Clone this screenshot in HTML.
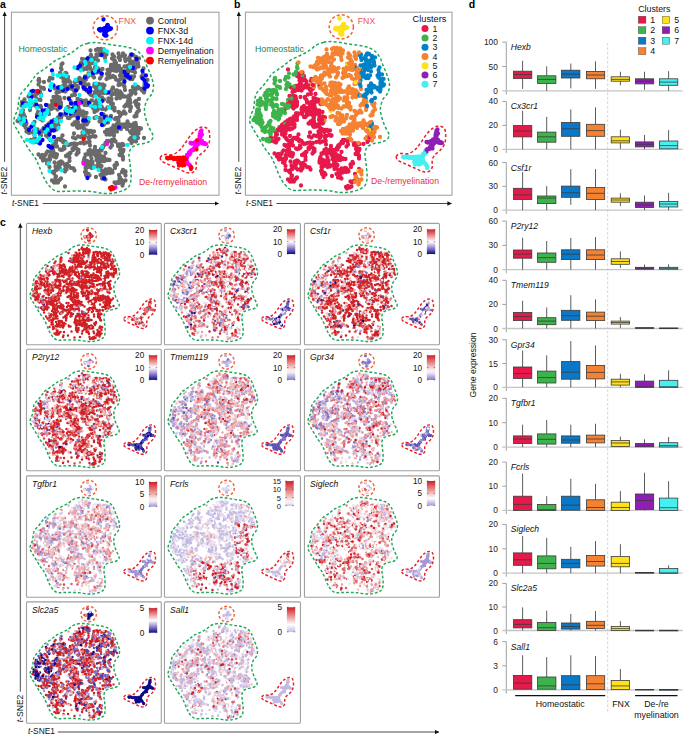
<!DOCTYPE html><html><head><meta charset="utf-8"><style>html,body{margin:0;padding:0;background:#fff;}svg{display:block;font-family:"Liberation Sans", sans-serif;}</style></head><body><svg width="685" height="735" viewBox="0 0 685 735"><defs><marker id="ar" viewBox="0 0 10 10" refX="9" refY="5" markerWidth="5" markerHeight="5" orient="auto-start-reverse"><path d="M0 0L10 5L0 10z" fill="#111"/></marker></defs><text x="0" y="8.3" font-size="10.5" font-weight="bold">a</text><rect x="11.4" y="12.2" width="207.6" height="183" fill="none" stroke="#999" stroke-width="1"/><g transform="scale(0.5)" stroke-linecap="round" fill="none"><path stroke="#6a6a6a" stroke-width="8.60" d="M196 98zm-4 2zm1 9zm3 0zm2 1zm1-4zm1-3zm1-2zm1-3zm4 2zm2-1zm1 2zm2 4zm2 4zm-6 2zm-2-4zm-2-1zm-1 0zm1-3zm7 13zm14 1zm4 3zm2 2zm0 4zm-1 2zm-3 1zm-2 3zm-2 0zm0-2zm-1 7zm2 3zm4-1zm1-1zm-2-1zm2-3zm3-3zm1 0zm2 3zm3 2zm1-4zm4 6zm-4 2zm3 3zm1 3zm0 2zm3 0zm0 1zm0 2zm-2 2zm1 1zm2 0zm0 3zm-4-2zm-2 4zm-3 3zm-5-3zm-2-4zm-1-1zm-3-2zm-3 2zm-3-1zm-1 2zm-3 0zm-1 1zm-2 2zm1-10zm4 0zm1-3zm-2-2zm-2-3zm-10-2zm-5 2zm-2 2zm2 2zm-3-4zm-2 1zm-1 4zm-3-3zm-1 2zm0 1zm-2-2zm-3-1zm-3-3zm-2-4zm-1-5zm-5-2zm3-4zm-4-1zm-5-4zm-4-1zm-2 8zm2 4zm-3 5zm-3 2zm-4-1zm13 3zm3-2zm4 1zm0-2zm3 11zm3 2zm2 0zm1 0zm3 3zm2 3zm-12-2zm-1-1zm-5 1zm2 6zm-4 2zm1 4zm-6 0zm3 6zm5 0zm6-2zm-9 9zm6 4zm4 4zm2 2zm2 2zm5 2zm4-3zm-1-2zm3 0zm-3-3zm3-1zm0-3zm-1-3zm-1-2zm2-2zm1 3zm3 1zm0-4zm-1-2zm2-3zm7 1zm4 2zm-4 3zm1 3zm1 0zm-3 2zm-1 0zm2 1zm-1 2zm-2 3zm0 1zm-4 4zm-2-6zm12 2zm5 0zm10 4zm3-2zm3-1zm4 2zm3 2zm2-1zm0-6zm-2 0zm-2-3zm-2 0zm0 0zm-7-4zm1-2zm-3 6zm-6 16zm6 1zm0 7zm-1 3zm0 0zm3 1zm0 2zm1-3zm3 8zm0 5zm-5-5zm-9-1zm-4 4zm-6-1zm-1-3zm-1-1zm0-1zm-4 4zm-3 1zm-2 3zm-5-1zm0 4zm-3-8zm3-6zm3 0zm0-5zm-1 0zm2-4zm4-1zm4 2zm2 1zm3-2zm2-2zm-4-4zm-3 2zm-3 8zm-2 8zm-2 3zm-13-5zm-2-3zm-1 1zm-2-3zm3-1zm4-4zm1 0zm-12 0zm-4 1zm-5-1zm-2 1zm-2-2zm-1-1zm-3-1zm0 6zm0 1zm1 2zm0 0zm0 2zm1 5zm-2 2zm0 4zm4 0zm2 6zm1 3zm3 1zm2-1zm0-5zm-1-1zm7 3zm0 9zm4 2zm-2 6zm2 0zm-2 3zm-2 1zm1 1zm-1 1zm-4-1zm-2 2zm-4 1zm-3 1zm1 3zm-5 1zm-2-2zm2-4zm0-5zm-1-3zm0-3zm-3 5zm-3 1zm-1 4zm-3 0zm-6-13zm2-3zm4-2zm2-5zm3 2zm4-1zm-1-2zm1 4zm3 0zm0 0zm1-1zm0 3zm-3 2zm-4-2zm16 4zm0 4zm-1 3zm6 0zm-4 15zm4 4zm1 0zm-3 3zm-1-1zm-4 2zm0 6zm-4 3zm-5-1zm-5 4zm-5-2zm2-8zm0 20zm-5 1zm-3 1zm-4 1zm-5-6zm-4-2zm-1 2zm-2-4zm-3 0zm1-3zm-6 1zm0 0zm-3 3zm-3 3zm2 2zm-2 3zm-2 0zm-1 1zm1 3zm-4-1zm2 8zm-1 4zm2 0zm1 5zm3-1zm3 1zm-1 4zm-1 2zm-5-2zm-7-1zm-1 4zm1 3zm-1 1zm-3 1zm-4-1zm-3-1zm-2 0zm1 1zm-2 1zm0-4zm0-1zm-1-1zm-2 0zm-1 0zm0-3zm3-2zm3 3zm3-3zm2-4zm2-3zm6 1zm1 1zm12-12zm6 6zm3 1zm3-1zm1-1zm2-1zm-1-4zm17 5zm1 2zm1-4zm2-2zm4 3zm4 3zm-2 5zm2 0zm-4 4zm-12-3zm0 0zm-1 0zm-4 3zm2 2zm1 5zm0 6zm-5 6zm-5 1zm2 4zm2 4zm0 2zm-3 0zm0 4zm-10-5zm-3-4zm3-4zm0 0zm-3-3zm1-2zm4-2zm3 2zm7-13zm6 20zm4 4zm5 1zm2 4zm21 3zm2 0zm5 4zm2 3zm-4 1zm-3-2zm0-13zm-1-1zm5-2zm-2-4zm-5-2zm-2-4zm1-4zm1-4zm2-7zm2 0zm3-2zm1-2zm2 1zm1-3zm2-1zm-2-2zm-3 2zm5 5zm3 0zm2 0zm1 0zm4-2zm1-3zm3 1zm1-1zm6-1zm-1-3zm2-1zm2-2zm0-1zm0-2zm2-1zm3-5zm3-4zm3 0zm5 1zm1 2zm1-5zm4-1zm2 3zm1 1zm5 6zm3 0zm-3 3zm5 3zm-1 5zm2 6zm2 1zm-2 3zm-3 0zm6 3zm1 1zm0 0zm0 5zm-13 7zm1 3zm-5 2zm1 5zm-6 6zm1 3zm-5 1zm-2-3zm0-2zm-2 0zm2-3zm3 1zm-9 3zm0 1zm-3-1zm2-3zm-5 4zm-2-1zm-6-3zm-1-4zm-1-1zm-2-2zm5-4zm-3-3zm3-2zm0-1zm2-5zm1 0zm-1-3zm-1 0zm0-1zm-3 2zm-4-1zm-2-3zm3-1zm2 0zm2-1zm1 0zm5 4zm1 4zm3 1zm1 2zm0 2zm-1 0zm-3 0zm7-2zm0-1zm2 0zm1 1zm4 0zm-11-6zm3-8zm10-11zm3-4zm21-3zm2 2zm0 10zm-1 3zm17-17zm3-4zm-1-3zm2-2zm-5-1zm-3 3zm7-9zm1 0zm2 1zm1 2zm2-2zm2-1zm0-2zm0-2zm2-1zm1-2zm0 4zm-5-4zm-2 0zm-3 1zm-1-2zm-2 2zm-1 0zm-1 2zm-2-3zm5-3zm3-1zm0 1zm4 0zm-1-3zm-2-3zm2-1zm1-3zm-1-4zm-3 1zm-6 3zm-1 2zm-3 0zm-1-4zm-2-2zm0-3zm-5 6zm-2 0zm-1 1zm0 3zm2-1zm3 3zm2 3zm11-2zm3 11zm6 6zm2 3zm-4 7zm16-7zm-9-17zm3-2zm-4-1zm-5-24zm-4 1zm4-6zm2-3zm3-3zm-2-6zm-3-4zm-1-3zm5 1zm-6-5zm-1 0zm2-2zm6-4zm-7-11zm-1-4zm-2 0zm-1 1zm-4-2zm-2 0zm1 7zm-1 1zm-3 1zm-3 3zm4 3zm1 3zm-2 1zm-2 1zm-1 4zm0 5zm1 0zm-4-1zm-3 3zm-1 10zm3 4zm-6 0zm-2 1zm-3-1zm-1-2zm-2-1zm3 8zm-3 4zm-2 2zm-3-2zm-2 2zm7 4zm-2 4zm0 2zm-1 0zm-1 4zm-4 1zm-2-2zm-4 6zm0 4zm0 1zm-3 2zm-2 3zm0 2zm3 0zm4-3zm1 1zm1 3zm1 1zm0-6zm3-3zm-1-3zm-1 0zm3-2zm2 1zm0 5zm8-5zm-1-4zm1-5zm-22 10zm-6 1zm1 4zm-2 0zm-3 0zm3 5zm2-1zm-8-18zm2-2zm-4-6zm3-3zm4-2zm1-4zm-6-4zm-7 7zm-7-2zm-4 2zm10 7zm17 2zm6-13zm-6-29zm17-6zm7-1zm1-1zm5-3zm1 1zm3 0zm-6-4zm-1-2zm-3-4zm10-3zm-1-6zm-1-3zm-1-4zm1-1zm-7 3zm-2-2zm-2 3zm3-19zm6-6zm2-2zm-2-1zm7 4zm3-1zm1-4zm-2-3zm1-3zm0-2zm-1-1zm2-1zm3-2zm1 2zm0 2zm1 0zm1 0zm3 0zm1-4zm-1-3zm-5 1zm1-4zm-2 0zm-1-5zm0-3zm2-3zm1-2zm4 0zm5 4zm1 0zm2 7zm-2 1zm-1 1zm-2 0zm7 3zm0 2zm1 5zm-4 0zm-3 4zm-7 0zm-1 0zm1 2zm1 3zm6 3zm-2 8zm-5 0zm-1 4zm-1 1zm-1 0zm-5-3zm-4 0zm0-2zm-2-1zm0 0zm2-4zm-2-15zm2-11zm2-3zm-3-1zm-3-6zm3-1zm-4-4zm-6 6zm0 1zm-3 1zm3 5zm-8 6zm1 12zm0 3zm0 1zm-2-1zm-3 0zm-24 7zm-1 4zm-3 5zm-11 11zm-1 5zm-23-14zm-6-3zm-2 3zm-3 3zm-4 2zm-1 7zm5 1zm2 2zm0 2zm-2 3zm-7 1zm2 4zm1 6zm-6 1zm-6 5zm3 6zm3 5zm4 6zm0 2zm-6 3zm0 1zm-3 1zm-3 1zm-5 0zm5-7zm-14-1zm0-4zm-4-1zm-2 1zm-1 2zm-1 1zm-3 3zm4 4zm4-4zm-6-6zm-4-1zm-1-1zm-1 1zm-3 1zm1 2zm1 2zm-1 4zm-2 0zm-1 0zm-2 2zm-1-5zm0 0zm-1-1zm-2-2zm-3 10zm3 2zm2 5zm-13-2zm-9-2zm-2 5zm4 5zm3 4zm4 3zm1-4zm12 10zm4-1zm1 5zm-5 4zm0 0zm1 6zm1 2zm-4 2zm-3 2zm-1 4zm5 4zm-3-13zm-5-5zm-2-1zm-3 5zm1 1zm1 1zm-4 8zm-2-2zm-7-6zm-5 1zm-3 1zm5-6zm5 0zm-8-9zm2-6zm-9 12zm-7 2zm-2-3zm1-6zm1-2zm-2-1zm-5-4zm-3-6zm3-4zm2-1zm2 3zm-3-6zm-2 0zm0-4zm-2-2zm3-1zm-5 9zm-2 13zm-4-1zm12 8zm6 13zm4 0zm1 3zm11 5zm1 6zm-3 2zm0 2zm-1 1zm-2 0zm-2-2zm7 4zm0 0zm7 1zm1-4zm4 3zm-4 25zm17 18zm3-2zm2 9zm6 10zm3-1zm0 3zm0 1zm4 6zm-1 2zm0 4zm1 6zm4 0zm2-4zm2-2zm2-2zm-14 8zm-4-4zm9-21zm-1-3zm-1-4zm-2-8zm-2-41zm18-13zm-12-12zm-6 0zm3-8zm0-3zm3 1zm3 2zm1 0zm-1-7zm-2-4zm-6 0zm8-5zm2 0zm3-1zm1 2zm1-3zm-2-2zm-1-2zm5 0zm7 1zm4 6zm-14-31zm-3 0zm0 0zm-1-2zm-2-3zm-2 2zm-1 1zm0 1zm-4 0zm0-1zm2-4zm0-3zm0-2zm-4 0zm-3 8zm12-5zm0-3zm3 1zm1 4zm9-3zm2-13zm-5-1zm-1-1zm-4 1zm-3 2zm-3-5zm-5-2zm3 9zm7-12zm2 1zm4-3zm3 0zm1-1zm-1-3zm-1-4zm-1-1zm3-3zm-3-2zm-1-3zm-4-1zm0-4zm0 0zm-2-4zm3-7zm-1-3zm1-7zm2-2zm6 19zm2 1zm3 7zm0 1zm2 7zm3 3zm0 6zm-3 2zm4 4zm-13-2zm5-12zm-29-6zm-5-1zm-2 5zm-10 3zm-9-1zm-2-2zm1-3zm-1 11zm5 6zm5 1zm1 2zm-8 5zm-2 3zm3 2zm-8 0zm-1 0zm0 1zm-1 4zm-6-2zm-5 8zm-3-6zm-8 6zm-5 5zm-1 7zm7 1zm2-6zm10 0zm9 0zm-1 5zm10 2zm1-1zm1 2zm-1-14zm-5-1zm-5-16zm-11 37zm32 32zm3-2zm59 38zm7-2zm5-1zm2 2zm5-2zm6 0zm0-2zm-1-6zm0-3zm3 0zm5-2zm3 1zm1 0zm1 0zm-3-10zm-4 1zm-2-2zm-3 0zm-2 3zm0 1zm-7 6zm-1 3zm0 1zm11 15zm10 3zm0 5zm-1 1zm-8 11zm2 6zm0 5zm2 2zm-4 2zm0 4zm3 1zm2 0zm-3 5zm-6-12zm-3-2zm19-2zm10 12zm-1 2zm-1 0zm7 14zm-1 5zm1 2zm3 4zm-7-2zm-3-7zm-9 4zm21-7zm1-1zm24 4zm2 5zm-1 2zm4 3zm2 2zm1 5zm-1 4zm-7-5zm-2-2zm2-1zm-6 4zm-3-2zm22-4zm0-10zm-4-6zm-3-1zm2-4zm5 3zm0 1zm9-122zm1-5zm0-2zm1-1zm-1-8zm6-27zm0-1zm1-2zm2 0zm2 0zm3 1zm1-3zm1 2zm3 1zm4 4zm2-1zm3 1zm0-4zm0-1zm-2 1zm3-4zm0-2zm-1 0zm2-4zm0-1zm0-1zm-2 2zm2-6zm4-1zm-10-4zm1-2zm-3-1zm3-5zm1-11zm-9-20zm-41-10zm-9 6zm-3-4zm-29 12zm-5-5zm-2 2zm4-5zm-10 1zm-1-4zm-4 5zm7 11zm6 7zm-1 2zm6 2zm-15-36zm84 57zm1 16zm7-1zm15 12zm-114 25zm-3-2zm-2 2zm-1-3zm-38 166z"/><path stroke="#0000fa" stroke-width="8.60" d="M207 39zm0 0zm0 0zm8 11zm0 0zm0 1zm0 0zm-1 1zm2-1zm3 5zm0 0zm1 1zm0 1zm1 0zm1-1zm-6 1zm0 0zm-2 1zm0 0zm0 0zm-1 0zm-1 0zm-1 0zm0 1zm-1 0zm-1 0zm0 0zm0 1zm1 1zm0 0zm-1 2zm3 0zm0 0zm-2 2zm-1 1zm-1 2zm2 1zm0 0zm0 0zm0 1zm3 0zm1-10zm0 0zm2-1zm-2-3zm-1 0zm-3 1zm-1 0zm-1 1zm0 2zm0 0zm-1-1zm-1-2zm-1 1zm-3 2zm-1-1zm-1-2zm0 0zm-2 1zm2 2zm10-5zm-7 54zm-28 7zm-6 9zm-9 5zm-3 3zm-1 2zm14 19zm-9 11zm6 9zm5 4zm6 5zm3-2zm-1-6zm-28 5zm-8-8zm-9 5zm-9 2zm-10-5zm-9-4zm-7 9zm-18 11zm-6-8zm-10-1zm-3 1zm0 11zm-1 10zm-1 9zm12-3zm1 2zm11 9zm5 0zm-6 8zm-10 5zm-11 19zm-5 7zm11 0zm9 5zm11-7zm2 0zm1 3zm3-4zm-1-4zm4-3zm5-7zm0 18zm5 0zm-9 8zm9 5zm-7 6zm-4 12zm4 3zm3 0zm-19-15zm-5 7zm-29-45zm-5-35zm46 3zm28 5zm1 14zm11-3zm9 1zm8-6zm-3-3zm6-6zm-1-6zm-9 1zm-4-9zm24 7zm16 1zm26-4zm13-17zm32-22zm8-9zm3 2zm-5-6zm-3 1zm-3-7zm17-8zm19 6zm7 9zm-7 6zm4 4zm3 7zm0 1zm4 2zm-1 2zm-6 4zm-16-59zm-10-9zm-60 38zm-7-6zm-2 1zm-4 0zm-4 4zm-82-5zm52 95zm11 5zm5 0zm32 9zm8-7zm-3-9zm-6-6zm18 9zm17 18zm-30 102zm-33-1z"/><path stroke="#00f5f5" stroke-width="8.60" d="M209 100zm5 3zm-3 19zm-20 5zm2 9zm-3 6zm-12 7zm-16-8zm-13-6zm-16 17zm-6-3zm-8 2zm-4 0zm-9-2zm-3 19zm-1 3zm-1 1zm1 4zm21-1zm28-15zm8 30zm-8 25zm-5 6zm-2 3zm-3-3zm-3 2zm-5-2zm-1-4zm-20-5zm-17 9zm-1 5zm-4 1zm-1 5zm-6 4zm3 3zm-8-2zm3-9zm-7-12zm-13-5zm-2-1zm-2 0zm2-2zm0 7zm-8-5zm-3 3zm-5 8zm-1 3zm-4 13zm10 0zm0 5zm-6 5zm24 0zm4 10zm0 6zm1 0zm0 1zm-2 6zm-2 12zm-1 3zm-5-2zm-7-3zm20 2zm1-2zm4-4zm12-12zm4-5zm8-7zm10-9zm-1-4zm10 3zm-5 14zm-17 22zm4 5zm29 4zm34-22zm11-28zm15-2zm16 9zm5-5zm6 0zm-2-24zm-18-2zm0-7zm-2-7zm-7-6zm9-17zm-8-9zm19 16zm-21 31zm-8-2zm22 82zm-16 41zm9 5zm-74 1zm-24 1zm-2-15zm-25-126zm-7 2zm-1 0zm-4-3zm-1-12zm23 3zm89-64zm-1-3zm13-4zm77 14zm10 35zm-1 106zm-14 15z"/><path stroke="#ff00ff" stroke-width="8.60" d="M159 206zm55 82zm-47 39zm64 48zm126-49zm1 1zm1-2zm1-1zm-2-2zm4 5zm3-1zm3-4zm2-3zm3 1zm0 2zm1 1zm1 2zm0 1zm-1-1zm2 3zm2 1zm1 1zm1 1zm0 1zm-6-16zm-2 1zm0-2zm-3 1zm5-4zm2-1zm-2-1zm3-1zm0-1zm1-1zm1 2zm2-3zm-1-1zm1 0zm-1-2zm2-2zm1 0zm4-1zm0 0zm0 0zm-1-1zm2-2zm1-2zm1-1zm1-1zm2 0zm0 0zm1-3zm2-2zm1 0zm-1-1zm0-1zm0-2zm1 0zm1 0zm-1-1zm1 0zm-1-1zm2-1zm1-1zm0-1zm0-3zm-1 0zm2-1zm-2-3zm1-2zm0-2zm4 1zm-2 2zm0-6zm-1-2zm2-2zm-6 19zm2 3zm0 3zm-2 0zm-3-2zm0-1zm-3 1zm-1 1zm0 2zm-3-1zm0 1zm-4-1zm0 1zm-2-1zm11 3zm11-6zm1-1zm1 4zm0 1zm1 0zm2-1zm1 2zm1-1zm2 1zm-34 17z"/><path stroke="#ff0000" stroke-width="8.60" d="M75 182zm37 28zm55 68zm57 96zm-4 2zm2 3zm5-2zm107-61zm2 1zm2-1zm3-1zm0 1zm0-2zm2 1zm1 1zm3 2zm1 0zm0-2zm3 1zm1 1zm2-2zm2 0zm0 3zm3-3zm2 0zm1 0zm0 0zm2 2zm-1 1zm-1 4zm0 1zm2 1zm1 1zm1 0zm0-1zm1 2zm-1 1zm-1 0zm-1 1zm1 2zm3-1zm1 0zm-3-8zm3-5zm-1-1zm-1-1zm5 3zm-15 7zm1 6zm24 3zm1 2zm-1 2zm11-39zm1-18z"/></g><path d="M87.4 43.4C89.7 42.8 91.9 42.6 94.4 42.6C96.9 42.6 99.7 42.8 102.6 43.2C105.5 43.6 108.8 44.4 111.9 44.9C115.0 45.4 118.2 45.6 121.2 46.1C124.2 46.6 127.2 46.9 130.0 47.8C132.8 48.7 135.7 49.7 138.0 51.4C140.3 53.1 142.2 55.6 143.7 58.0C145.2 60.4 145.7 63.1 146.9 66.1C148.1 69.1 149.9 72.6 151.0 75.9C152.1 79.2 153.4 82.7 153.5 85.7C153.6 88.7 152.9 91.5 151.8 93.9C150.7 96.4 148.1 98.0 146.9 100.4C145.7 102.9 144.8 105.9 144.5 108.6C144.2 111.3 144.6 113.7 145.3 116.7C146.0 119.7 147.4 123.5 148.6 126.5C149.8 129.5 152.2 132.5 152.7 134.7C153.2 136.9 152.9 138.2 151.8 139.6C150.7 141.0 148.4 142.1 146.1 142.9C143.8 143.7 140.4 143.7 138.0 144.5C135.6 145.3 132.9 146.2 131.4 147.8C129.9 149.4 129.3 152.1 129.0 154.3C128.7 156.5 129.4 158.7 129.6 161.0C129.8 163.3 130.2 165.0 130.4 167.9C130.7 170.8 131.3 175.3 131.1 178.4C130.9 181.5 130.3 184.3 129.1 186.3C127.9 188.3 126.2 189.1 123.8 190.2C121.4 191.3 117.9 192.3 114.6 192.9C111.3 193.5 108.0 193.7 104.1 193.5C100.2 193.3 95.4 191.9 91.0 191.5C86.6 191.1 82.3 190.9 77.9 190.9C73.5 190.9 68.4 191.3 64.7 191.3C61.0 191.3 58.1 191.9 55.5 190.9C52.9 189.9 50.6 187.5 48.9 185.6C47.1 183.7 46.1 181.5 45.0 179.7C43.9 177.8 43.5 176.9 42.4 174.5C41.3 172.1 39.9 167.9 38.6 165.0C37.3 162.1 36.4 159.9 34.8 157.3C33.2 154.8 31.0 152.5 29.1 149.7C27.2 146.8 25.3 143.4 23.4 140.2C21.5 137.0 19.2 133.5 17.6 130.6C16.0 127.7 14.3 125.4 13.8 123.0C13.3 120.6 14.2 118.5 14.8 116.3C15.4 114.1 17.0 112.0 17.6 109.6C18.2 107.2 18.1 104.5 18.6 102.0C19.1 99.5 19.1 97.0 20.5 94.4C21.9 91.9 25.1 89.2 27.2 86.7C29.3 84.2 31.3 81.2 32.9 79.1C34.5 77.0 34.5 76.2 36.7 74.3C38.9 72.4 43.3 69.8 46.3 67.6C49.3 65.4 51.6 62.9 54.8 61.0C57.9 59.1 62.1 57.6 65.2 56.0C68.3 54.4 70.9 53.1 73.4 51.4C75.9 49.8 78.1 47.4 80.4 46.1C82.7 44.8 85.1 44.0 87.4 43.4Z" fill="none" stroke="#1fa85a" stroke-width="1.50" stroke-dasharray="3 2.2"/><path d="M160.3 157.7C160.6 156.6 161.8 155.1 163.8 154.6C165.8 154.1 169.9 155.3 172.5 154.6C175.1 153.9 177.4 152.0 179.5 150.2C181.6 148.4 182.9 146.1 184.8 143.6C186.7 141.1 188.9 137.3 190.9 134.9C192.9 132.5 194.9 130.5 197.0 129.2C199.1 127.9 201.3 126.9 203.2 127.0C205.1 127.1 207.3 127.8 208.4 129.6C209.5 131.3 209.7 134.9 209.7 137.5C209.7 140.1 209.3 143.1 208.4 145.4C207.5 147.7 205.6 149.8 204.0 151.5C202.4 153.2 200.1 154.3 198.8 155.9C197.5 157.5 196.6 159.1 196.2 161.2C195.8 163.2 196.8 166.3 196.2 168.2C195.6 170.1 194.3 171.8 192.7 172.5C191.1 173.2 188.8 173.1 186.5 172.5C184.2 171.9 181.5 170.3 178.6 169.0C175.7 167.7 171.8 166.0 169.0 164.7C166.2 163.4 163.4 162.4 162.0 161.2C160.6 160.0 160.0 158.8 160.3 157.7Z" fill="none" stroke="#e8202a" stroke-width="1.50" stroke-dasharray="3 2.2"/><circle cx="105.3" cy="27.9" r="12.1" fill="none" stroke="#f0643a" stroke-width="1.50" stroke-dasharray="3 2.2"/><text x="18.4" y="51.8" font-size="8.8" fill="#1e8449">Homeostatic</text><text x="118.6" y="24" font-size="8.7" fill="#f05050">FNX</text><text x="139" y="185" font-size="8.7" fill="#e8303a">De-/remyelination</text><circle cx="150" cy="20.6" r="3.9" fill="#6a6a6a"/><text x="157.8" y="23.7" font-size="8.8" fill="#111">Control</text><circle cx="150" cy="30.6" r="3.9" fill="#0000fa"/><text x="157.8" y="33.7" font-size="8.8" fill="#111">FNX-3d</text><circle cx="150" cy="40.6" r="3.9" fill="#00f5f5"/><text x="157.8" y="43.7" font-size="8.8" fill="#111">FNX-14d</text><circle cx="150" cy="50.6" r="3.9" fill="#ff00ff"/><text x="157.8" y="53.7" font-size="8.8" fill="#111">Demyelination</text><circle cx="150" cy="60.6" r="3.9" fill="#ff0000"/><text x="157.8" y="63.7" font-size="8.8" fill="#111">Remyelination</text><line x1="4.6" y1="161.8" x2="4.6" y2="12.2" stroke="#333" stroke-width="0.9" marker-end="url(#ar)"/><text transform="translate(7.2,194.5) rotate(-90)" font-size="8.6" fill="#111"><tspan font-style="italic">t</tspan>-SNE2</text><text x="12" y="206.4" font-size="8.4" fill="#111"><tspan font-style="italic">t</tspan>-SNE1</text><line x1="42.6" y1="203.5" x2="218.6" y2="203.5" stroke="#333" stroke-width="0.9" marker-end="url(#ar)"/><text x="234" y="8.3" font-size="10.5" font-weight="bold">b</text><rect x="245.4" y="12.2" width="206.6" height="183" fill="none" stroke="#999" stroke-width="1"/><g transform="scale(0.5)" stroke-linecap="round" fill="none"><path stroke="#e6194b" stroke-width="8.60" d="M608 152zm0 1zm2 7zm-8-2zm-2 4zm2 7zm-1 1zm-6 3zm-3-1zm5 7zm1 1zm3 14zm-9 3zm-1-4zm-3 2zm-2 5zm5 3zm0 0zm-5 7zm-2 0zm-1 3zm4 4zm-12-2zm5-10zm12 22zm1 2zm0 3zm-3 1zm4 7zm-6 2zm0 7zm1 5zm-10 3zm-4 2zm0-9zm-5-5zm-3 3zm-1 3zm0 9zm5 7zm-7 2zm8 7zm1 2zm9 4zm2 2zm-5 4zm-1 10zm-11 3zm-2 3zm-2 4zm-5 6zm0 1zm3 2zm-3 2zm13-5zm10 9zm2 8zm1 4zm-4 6zm-3 1zm3 3zm4 6zm8 6zm-8 6zm18-22zm1-10zm-9-10zm-9-10zm10-13zm3-1zm7-12zm-2-3zm-9-7zm-6 1zm9-7zm31 2zm11 5zm2-3zm9-1zm-1-8zm2-4zm3 0zm-9-1zm-3 3zm-3 1zm-11-9zm0-6zm7 1zm4-1zm2-2zm6-2zm0-3zm2-6zm-4-2zm-6 0zm-5-6zm-5 0zm0 0zm-2 4zm0 6zm-3 5zm-3 1zm-1 4zm-9-13zm-7-6zm7-10zm3-1zm-1 2zm5 0zm3 0zm-2 5zm3 2zm3-3zm6-5zm-2-6zm-1-5zm0-2zm0 0zm-1-2zm4 1zm3-1zm-1-3zm7 0zm0 5zm-2 16zm1 1zm-25-17zm-10 10zm15-37zm5 1zm2-2zm2-5zm-6-10zm-12 9zm-16-19zm-47 126zm2 1zm3 6zm58 24zm1 11zm8 15zm2 4zm22-5zm5-2zm-2-4zm0-8zm-6-2zm13 6zm4-2zm-2-7zm10 3zm0-6zm12 3zm6-11zm-14-4zm11-11zm13 4zm1-12zm8-1zm6 7zm0 3zm4 8zm2 10zm3 3zm-11 16zm-13 10zm-3 2zm0 2zm2 3zm4-4zm-10 4zm-5-4zm-5 0zm-2-8zm-1 0zm-4 1zm2-7zm8 25zm1 4zm12 19zm26-36zm1-50zm19-8zm-75-9zm-14 32zm2 1zm-22-1zm-2 0zm-2-8zm19 47zm7 7z"/><path stroke="#3cb44b" stroke-width="8.60" d="M595 137zm-4 12zm-4 0zm-10 6zm-5-1zm-2 5zm5 7zm-2 4zm-13-8zm-11-3zm1-3zm-1 11zm-2 13zm1 1zm2 3zm3 2zm1 3zm-6 8zm-5-6zm2-5zm-2-5zm-12 5zm-10 11zm3 7zm-1 4zm-5-3zm13 1zm5-5zm7 3zm-1 5zm12 3zm3 7zm5 0zm5 0zm7-4zm-18 12zm-6 5zm-2-10zm-7 20zm-9 12zm-2 10zm11 5zm-2 8zm0 2zm2 3zm5-2zm4-17zm-5-2zm13 0zm1-7zm-36-10zm0-4zm-5 0zm4-8zm-5-6zm0-4zm1-3zm-3 0zm-2 9zm70-36zm22-42z"/><path stroke="#f58231" stroke-width="8.60" d="M668 96zm-4 2zm1 9zm0 4zm-2 3zm-13-1zm-3 2zm-2 6zm-2 4zm3 1zm6 7zm2 4zm4 7zm4-1zm0-3zm3-6zm7 8zm3 3zm11 1zm4 0zm-2 7zm10-3zm4 3zm2 4zm11-6zm2-2zm1-6zm-4 1zm-4-6zm4-2zm-4-6zm-10 2zm-2 3zm2 4zm-5-1zm-8 0zm9-8zm6-6zm0-4zm10-2zm-3-13zm-23-4zm-1 6zm-6 2zm-4-1zm-1-4zm-3 0zm1-3zm-19-2zm-13 18zm-8 12zm-3 3zm-1 2zm11 3zm7-1zm1 14zm-5 1zm-2 8zm-2 10zm11-2zm12-1zm2 7zm1 2zm5-4zm8-4zm2 8zm-2 3zm-3 5zm0 1zm6 0zm3-3zm6 2zm8-8zm4 10zm7 4zm7-4zm-20 11zm-6-1zm-1 6zm7 2zm-1 3zm3 3zm-7 4zm-7 4zm-6-1zm-2 10zm4 1zm1 10zm4 4zm4 2zm-9 5zm-3 0zm10 10zm6 4zm-2 5zm-5 0zm12-3zm3-1zm6-2zm7-9zm6-1zm2-1zm13-2zm9 3zm1 7zm-4 0zm-3 0zm6-14zm5 30zm-11 3zm-3-3zm26 0zm-53-28zm2-6zm-2-4zm2-2zm11-13zm7-12zm6 6zm12-6zm-1-3zm-2-4zm6 11zm-73-12zm-3 3zm-3-6zm1-1zm-5 2zm-2-12zm-17-7zm-2 19zm6 8zm1-1zm2 3zm5 5zm8 5zm-5 15zm35 44zm21 82zm1 5zm-97-196zm10-15zm24-7zm28-27z"/><path stroke="#0082c8" stroke-width="8.60" d="M735 107zm-2 3zm-2 3zm-9-4zm-3 1zm8 20zm6-1zm2 2zm3 0zm4 4zm3-4zm4 0zm-1-5zm0-2zm-10 0zm-3 13zm-6 2zm-2-3zm1 7zm-3 1zm-1 5zm-1 2zm-2-1zm2 3zm4 0zm5 3zm2-1zm1-4zm7 16zm3 4zm4 3zm3 1zm7 0zm2-1zm0 5zm3-13zm-1-1zm-2 0zm0-6zm-3-13zm-1-6zm2-5zm-15-23zm-1 0zm-34 22zm31 40zm-10 25zm14 49z"/><path stroke="#ffe119" stroke-width="8.60" d="M679 37zm0 0zm8 12zm1 0zm4 6zm-4 3zm-4 4zm-2 2zm-1 1zm-1 2zm2 1zm0 0zm0 1zm0-9zm-1-2zm0-2zm-7 3zm-2-3zm0 0zm-11 166zm73 42zm-18 78z"/><path stroke="#911eb4" stroke-width="8.60" d="M874 269zm-3 1zm2 3zm-1 4zm0 1zm-1 1zm-2 2zm0 1zm1 0zm-2 2zm1 2zm-4 5zm-2 0zm-2 2zm-3 4zm-3 2zm-3 2zm0 2zm3-18zm-2-1zm6 0zm18 1zm4 1zm1-1z"/><path stroke="#46f0f0" stroke-width="8.60" d="M853 304zm-5 5zm-1 14zm-1 0zm2 3zm2 1zm-10 1zm-3-4zm-8 0zm-1-10zm5 0zm1 0zm2 2zm-20-2zm-6 0zm-4 0z"/><path stroke="#e6194b" stroke-width="8.60" d="M576 139zm23 17zm0 5zm7 0zm7 2zm-12 10zm-3-3zm-4 3zm4 5zm-5 2zm-11-5zm-3 17zm4 2zm5-2zm-3 10zm-4-1zm-5 6zm11 2zm3-3zm4 1zm-2 6zm-1 0zm17-1zm2 9zm6 1zm2-6zm5-3zm4 1zm-1 11zm4 1zm7 2zm2 9zm0 2zm-1 1zm6-1zm1 6zm1 1zm4-11zm-5-11zm-4-16zm-6-9zm-8 3zm-5-14zm-1-6zm18-9zm-16 56zm5 14zm5 10zm7 2zm9 8zm4 9zm-2 9zm-6 2zm7 6zm0 9zm-3 2zm5 0zm5 5zm1 0zm3 4zm3-1zm6 3zm1 1zm3-1zm4 1zm0 4zm1 2zm0 2zm-1 0zm-3 0zm-6 1zm2-6zm11 2zm0 1zm7 0zm10 11zm4-5zm13-12zm-7-4zm3-4zm-18-15zm-10-3zm-3-2zm3-4zm-8 10zm-2 2zm2 1zm-2 2zm-11 5zm-3-3zm-1 1zm1-6zm-17 15zm-2 0zm6 15zm6-2zm1 9zm-12 6zm-2 7zm5 8zm0 4zm17-2zm9-4zm7-2zm4-5zm13 2zm13 5zm0 13zm-2 1zm-4 3zm-8 7zm3 3zm-30-37zm1-1zm5-7zm-34-4zm-31 4zm-4-4zm-9-3zm-5 5zm-3-3zm-4 13zm-5 6zm-9-4zm0-8zm-5-7zm2-6zm-4-1zm-5-1zm-2-4zm-2 0zm-1-3zm18 7zm2-14zm3-1zm-4-9zm-4-3zm11 1zm0-4zm2 0zm4 4zm13 5zm1-5zm8-3zm4-1zm3-1zm5-1zm3-10zm-5-2zm2-8zm13 7zm8 2zm19-13zm-43-14zm-23-13zm-6-1zm-2 5zm-6 0zm-6 6zm-4 9zm-3 2zm-3 4zm-3-3zm3-6zm1 15zm4 8zm11-1zm0-13zm5-2zm4-8zm4 29zm-7 29zm18 3zm7 4zm1-10zm6-6zm11 0zm-24 39zm-3 0zm-8 18zm-4 4zm-2 4zm-40-80zm-7-1zm1-7zm9-1zm3-5zm3 9z"/><path stroke="#3cb44b" stroke-width="8.60" d="M595 127zm-3 17zm2 4zm0 0zm-16-1zm-27 14zm1 20zm-8 5zm-7 3zm-2-8zm3-1zm-6 17zm2 5zm0 2zm3-3zm7-2zm8 12zm1-1zm-7 4zm-13-3zm-11-1zm-2 1zm-4-9zm4 27zm0 6zm-5-1zm-5 1zm1 6zm9-1zm5 5zm-1 2zm-5 1zm6 8zm0 5zm5-3zm12-3zm-1 13zm-2 12zm-5-2zm-8 0zm24-43zm3 1zm4 3zm1-2zm-5-11zm4-2zm15-7zm-1-5zm0 0zm6-3zm-1-9zm-12 8zm6 40z"/><path stroke="#f58231" stroke-width="8.60" d="M681 98zm0 1zm-8 0zm-5 8zm2 1zm-2 11zm-5 6zm-6-1zm-2-6zm6-2zm-7-8zm-5 14zm-7 0zm-6-6zm-10 18zm-5-1zm-24-8zm40 32zm5-4zm2 4zm-3 6zm-6 0zm8 6zm-3 7zm10 6zm3-2zm1 8zm5 2zm3-5zm6-3zm2 6zm3 7zm3-2zm0 7zm-3 0zm-9 3zm-1 0zm-7-4zm-5 4zm-5 5zm15 10zm5-4zm2-3zm4 0zm3 0zm-7 5zm-3 16zm7 2zm-1 7zm10 5zm5-9zm6 0zm10-1zm5 8zm-1 2zm-1 4zm-4 1zm-2-2zm2 8zm1 0zm4-1zm4-3zm4-6zm5 1zm3-1zm5-6zm3 9zm-4 6zm6 5zm4 1zm3 0zm1 3zm-1 3zm-1 0zm3 1zm3 0zm2-1zm0-2zm3-1zm-1-2zm-6-2zm-2-4zm-3-3zm6 1zm-2 18zm-10 4zm-31 0zm0-8zm-2-4zm-5 2zm-6-1zm8-6zm-3-3zm-11-25zm4-1zm2-18zm9 1zm5 5zm8 3zm2 1zm1 2zm5 0zm-5 5zm21-17zm0-9zm-6 0zm5-6zm-14-8zm-2-3zm-3 6zm-1 1zm-7 1zm0-8zm-7-1zm6-7zm2 0zm4 3zm12-4zm-9-11zm-4 1zm0-8zm5-7zm-2-4zm1-8zm-8-2zm0 1zm0-4zm-5 0zm3-7zm1 0zm-3-3zm3-2zm-4-6zm-4-3zm1-8zm15 4zm6-6zm-24 23zm-3 15zm1 8zm-1 2zm4-1zm6 0zm-14 2zm-2 2zm-9-10zm-6-6zm-2-1zm-2 1zm-3 0zm-3 1zm-3-1zm-5 7zm-3-2zm-1 6zm10-1zm4-17zm15 3zm5-22zm39 28zm-23 31zm-17-4zm-3 6zm-6-1zm-3 1zm-4-4zm3-2zm2-3zm-42 8zm21 67zm45-35zm3 1zm48 18zm-22 116zm0 1zm0 7zm0 10zm-8-1zm-5 6z"/><path stroke="#0082c8" stroke-width="8.60" d="M738 108zm7 8zm1 3zm-2 1zm-1 1zm-4 6zm-6 4zm-1 1zm-3-3zm5 6zm4-1zm-2 6zm6 3zm-5 13zm-8-4zm-8-2zm-4-3zm3-6zm1-10zm13-10zm-3-5zm19-1zm5 36zm9-2zm-1 10zm0 4zm0 1zm1 3zm-2 2zm-1 0zm-5 10zm-9-4zm-7 6zm-5-1zm-1 7zm-1 1zm-2 7zm-12-4zm2-19zm-1-8zm1-3zm17 11zm5 13zm1 15zm-3 52zm3 9z"/><path stroke="#ffe119" stroke-width="8.60" d="M679 37zm8 11zm0 0zm4 6zm2 2zm1-1zm-8 2zm-1-2zm-2 2zm0 1zm-2 0zm0 1zm-1 0zm-1-1zm3-2zm-9 2zm-1 1zm13 10zm9 61zm44 130z"/><path stroke="#911eb4" stroke-width="8.60" d="M874 263zm-2 3zm4 1zm-4 7zm-3 6zm1 1zm-4 0zm0 1zm2 3zm-2 3zm-4-5zm-3 2zm1 10zm-1 3zm0 0zm0 0zm6-1zm10-16zm5 3zm4 2z"/><path stroke="#46f0f0" stroke-width="8.60" d="M850 303zm0 2zm-1 1zm2 1zm-5 7zm-2 1zm0 1zm1 2zm0 2zm1 1zm-4-4zm-2 3zm-2 0zm0 3zm-1 1zm-1-1zm-2-2zm-2 1zm-1 1zm-1 2zm0 4zm7 0zm1-3zm-3-9zm-1-3zm-3 0zm-1 6zm-6-4zm-1-1zm-3-1zm0 2zm-1 0zm-4-3zm-2-1zm-5 3zm31-2zm1 1zm15 20z"/><path stroke="#e6194b" stroke-width="8.60" d="M605 145zm-6 2zm-1 6zm3 13zm6 10zm-4 5zm-13 1zm-3-5zm-2 7zm3 14zm2 3zm4 2zm-6 4zm-3 0zm-1 1zm-3-2zm-2 0zm2-4zm4-1zm9 10zm9 8zm2 0zm3 0zm6-3zm6-3zm0-2zm4-1zm-1-6zm-7 1zm-3-5zm-3-4zm0-2zm6-5zm11 7zm3 1zm1 1zm0-10zm-5-18zm-10 1zm-3-2zm1 6zm9-17zm4 60zm6 6zm6 3zm-9 2zm-4-2zm2 7zm-1 6zm5 10zm-6 2zm11 11zm4-2zm3-2zm-2 11zm-5-1zm1 14zm2 2zm-7-1zm-7 2zm-5 6zm-2 2zm-2 2zm-4 8zm0 0zm-5 3zm-7-12zm-9 2zm-9 9zm-3 1zm-1-5zm-6 0zm-1 8zm7 1zm5 2zm6 10zm2 5zm-3 4zm3 4zm3 3zm10-4zm9-1zm-13-7zm-30-9zm-2 5zm0 2zm-9-7zm0-7zm-3-3zm-3 5zm-5-6zm4-25zm-1-15zm5-7zm-1-1zm5-4zm2 1zm4 1zm3-4zm1 6zm1 2zm-4 2zm-5-1zm12-13zm0-8zm7 5zm0 3zm3-2zm0-6zm-1-4zm11-6zm-2-4zm4 0zm7-3zm9 1zm4 4zm-4 2zm-5 3zm36 6zm1 7zm11 15zm2 8zm3 1zm1 0zm-12 4zm1 8zm1 18zm2 4zm3 0zm-4 4zm-5-4zm-7 9zm-2 8zm0 3zm14 3zm5 1zm2 4zm-5 1zm11-4zm2 2zm0-9zm3-3zm3-5zm-2-3zm-3 1zm-1-5zm2-1zm1 0zm-3-6zm-4 2zm11-4zm-1-3zm4-4zm11-12zm6 3zm16 4zm2 6zm6 5zm-1 3zm-2 4zm2 7zm0 5zm-16 17zm-12 2zm-2 3zm-4 1zm-1-3zm-5 4zm7 4zm-5 8zm3 4zm-7-2zm25 8zm2 10zm-9 4zm-45-31zm-5 2zm-19-41zm-27-25zm1-2zm-3-2zm-8-2zm-3 3zm-6 3zm-3-1zm0 9zm0 3zm7 60zm0 4zm-3 6zm-4-4zm26 12zm84-54zm1 1zm40-30zm8-4zm4-9zm-171-54z"/><path stroke="#3cb44b" stroke-width="8.60" d="M594 134zm-15 35zm-5 0zm0 5zm-2 4zm-12-2zm-1-2zm-5-1zm0 16zm-1 9zm-8 10zm1 2zm-13-1zm-2-1zm-2 0zm2 5zm1 5zm-13 8zm-1 4zm-4-8zm1-2zm0-11zm17-11zm3-6zm-6-1zm15-4zm24 22zm2 2zm8 0zm-1 4zm-7 11zm-4-2zm-4 1zm-1 5zm-3 5zm-3-1zm-9-2zm0-5zm-8 18zm1 3zm-4 3zm7 6zm-1 1zm1 3zm1 0zm0 1zm-3 0zm-3 1zm-8-2zm-6-8zm-9-8zm-7-5zm40 17zm-9 23zm-2 0zm-3 1zm5 2zm27-64zm18-22zm5-24z"/><path stroke="#f58231" stroke-width="8.60" d="M674 96zm4 2zm2-1zm-5 4zm0 3zm2 1zm6-2zm17 8zm9 2zm3-1zm-14 15zm8 5zm-3 7zm-4-2zm-6-2zm-4 6zm-14 9zm-3 5zm-12-2zm-6-6zm-4 0zm12-5zm0-2zm4 3zm1-4zm2-1zm3 0zm-4-3zm-5-4zm-12-3zm-5 6zm-4 1zm-8 4zm-4-4zm3-2zm3-5zm-2-4zm7 0zm14-12zm-26 45zm-3 3zm7 4zm11 13zm8-3zm8-3zm6 3zm-1 4zm0 3zm-3 1zm3 3zm-2 6zm-8 8zm-5 5zm-2 0zm-5 2zm11 4zm7-2zm3 0zm-2 4zm9 3zm4-3zm1 1zm-6-10zm8-4zm2-2zm5-13zm10 4zm0-9zm9 0zm4 3zm4-1zm-2 7zm12 3zm6 9zm0 9zm-4-1zm-3 3zm2 14zm-8 1zm-11 8zm-10-4zm-1 5zm-9 0zm-3 7zm-4-2zm-12-7zm17 29zm3 0zm2 0zm3 3zm5-6zm0-4zm8 5zm1-5zm10 1zm6-9zm4 6zm5-7zm-2-2zm6 6zm7-5zm10 9zm1 3zm3-2zm-5 6zm-3 3zm0 7zm-4 0zm2 10zm-9-19zm-18 24zm-14-5zm-4-13zm2-54zm-3-8zm-22-26zm-1-3zm1 0zm1-5zm-13-7zm-14 19zm2 2zm-49-42zm109 13zm6-2zm-2-3zm2 0zm-1-6zm-3 0zm4-6zm1 25zm30 42zm1 12zm-3 3zm-2 8zm-4 1zm-9-11zm-13 123zm-7 10zm-1 2zm6 14z"/><path stroke="#0082c8" stroke-width="8.60" d="M734 108zm-2 13zm1 4zm-1 2zm2 4zm1 4zm-7-2zm0-2zm-5-11zm2-3zm-3-1zm19 5zm-1 30zm-8 3zm1 2zm-6-8zm-4-2zm-3 23zm13 11zm6 2zm3-1zm-3-4zm0-1zm3-2zm2 0zm4-2zm10 6zm3-3zm0 0zm1-4zm5 0zm1-2zm-1-11zm-10-3zm0-1zm1-2zm2 31zm-10 13zm-7 6zm-9 10zm-7-20zm3-3z"/><path stroke="#ffe119" stroke-width="8.60" d="M687 49zm-1 1zm0 5zm2 1zm0 0zm-2 1zm0 0zm-1 0zm-1 0zm2 2zm0 0zm-2 3zm-3 0zm1-2zm-2-1zm0-2zm2 1zm0-4zm-4 2zm-1 1zm-7 0zm12 11zm10-12zm-1-2zm20 111z"/><path stroke="#911eb4" stroke-width="8.60" d="M875 259zm-2 2zm-1 7zm-1 6zm-2 4zm-3 1zm2 3zm1 2zm2 0zm0-3zm5-1zm1 4zm1 1zm-10 1zm-4 1zm-2-2zm1-3zm-8 2zm7 8zm3-1zm-11 8zm-1 4z"/><path stroke="#46f0f0" stroke-width="8.60" d="M849 307zm-3 1zm0 2zm-2 3zm-3 1zm0 1zm-7 7zm0 3zm2 2zm1-1zm1-2zm1 1zm2 3zm6-4zm4 4zm1 1zm0 1zm2 2zm0 4zm-25-13zm-1-6zm-2-3zm-13 0zm0-1z"/></g><path d="M323.4 42.4C325.7 41.8 327.9 41.6 330.4 41.6C332.9 41.6 335.7 41.8 338.6 42.2C341.5 42.6 344.8 43.4 347.9 43.9C351.0 44.4 354.2 44.6 357.2 45.1C360.2 45.6 363.2 45.9 366.0 46.8C368.8 47.7 371.7 48.7 374.0 50.4C376.3 52.1 378.2 54.6 379.7 57.0C381.2 59.4 381.7 62.1 382.9 65.1C384.1 68.1 385.9 71.6 387.0 74.9C388.1 78.2 389.4 81.7 389.5 84.7C389.6 87.7 388.9 90.5 387.8 92.9C386.7 95.4 384.1 97.0 382.9 99.4C381.7 101.9 380.8 104.9 380.5 107.6C380.2 110.3 380.6 112.7 381.3 115.7C382.0 118.7 383.4 122.5 384.6 125.5C385.8 128.5 388.2 131.5 388.7 133.7C389.2 135.9 388.9 137.2 387.8 138.6C386.7 140.0 384.4 141.1 382.1 141.9C379.8 142.7 376.4 142.7 374.0 143.5C371.6 144.3 368.9 145.2 367.4 146.8C365.9 148.4 365.3 151.1 365.0 153.3C364.7 155.5 365.4 157.7 365.6 160.0C365.8 162.3 366.1 164.0 366.4 166.9C366.6 169.8 367.3 174.3 367.1 177.4C366.9 180.5 366.3 183.3 365.1 185.3C363.9 187.3 362.2 188.1 359.8 189.2C357.4 190.3 353.9 191.3 350.6 191.9C347.3 192.5 344.0 192.7 340.1 192.5C336.2 192.3 331.4 190.9 327.0 190.5C322.6 190.1 318.3 189.9 313.9 189.9C309.5 189.9 304.4 190.3 300.7 190.3C297.0 190.3 294.1 190.9 291.5 189.9C288.9 188.9 286.6 186.5 284.9 184.6C283.1 182.7 282.1 180.5 281.0 178.7C279.9 176.8 279.5 175.9 278.4 173.5C277.3 171.1 275.9 166.9 274.6 164.0C273.3 161.1 272.4 158.9 270.8 156.3C269.2 153.8 267.0 151.5 265.1 148.7C263.2 145.8 261.3 142.4 259.4 139.2C257.5 136.0 255.2 132.5 253.6 129.6C252.0 126.7 250.3 124.4 249.8 122.0C249.3 119.6 250.2 117.5 250.8 115.3C251.4 113.1 253.0 111.0 253.6 108.6C254.2 106.2 254.1 103.5 254.6 101.0C255.1 98.5 255.1 96.0 256.5 93.4C257.9 90.9 261.1 88.2 263.2 85.7C265.3 83.2 267.3 80.2 268.9 78.1C270.5 76.0 270.5 75.2 272.7 73.3C274.9 71.4 279.3 68.8 282.3 66.6C285.3 64.4 287.7 61.9 290.8 60.0C293.9 58.1 298.1 56.6 301.2 55.0C304.3 53.4 306.9 52.1 309.4 50.4C311.9 48.8 314.1 46.4 316.4 45.1C318.7 43.8 321.1 43.0 323.4 42.4Z" fill="none" stroke="#1fa85a" stroke-width="1.50" stroke-dasharray="3 2.2"/><path d="M396.3 156.7C396.6 155.6 397.8 154.1 399.8 153.6C401.8 153.1 405.9 154.3 408.5 153.6C411.1 152.9 413.4 151.0 415.5 149.2C417.6 147.4 418.9 145.1 420.8 142.6C422.7 140.1 424.9 136.3 426.9 133.9C428.9 131.5 430.9 129.5 433.0 128.2C435.1 126.9 437.3 125.9 439.2 126.0C441.1 126.1 443.3 126.8 444.4 128.6C445.5 130.3 445.7 133.9 445.7 136.5C445.7 139.1 445.3 142.1 444.4 144.4C443.4 146.7 441.6 148.8 440.0 150.5C438.4 152.2 436.1 153.3 434.8 154.9C433.5 156.5 432.6 158.1 432.2 160.2C431.8 162.2 432.8 165.3 432.2 167.2C431.6 169.1 430.3 170.8 428.7 171.5C427.1 172.2 424.9 172.1 422.5 171.5C420.1 170.9 417.5 169.3 414.6 168.0C411.7 166.7 407.8 165.0 405.0 163.7C402.2 162.4 399.4 161.4 398.0 160.2C396.6 159.0 396.0 157.8 396.3 156.7Z" fill="none" stroke="#e8202a" stroke-width="1.50" stroke-dasharray="3 2.2"/><circle cx="341.3" cy="26.9" r="12.1" fill="none" stroke="#f0643a" stroke-width="1.50" stroke-dasharray="3 2.2"/><text x="254.9" y="52" font-size="8.8" fill="#1e8449">Homeostatic</text><text x="357.8" y="24" font-size="8.7" fill="#f05050">FNX</text><text x="370.9" y="183.8" font-size="8.7" fill="#e8303a">De-/remyelination</text><text x="412.6" y="21.8" font-size="9.2" fill="#111">Clusters</text><circle cx="425" cy="28.6" r="3.5" fill="#e6194b"/><text x="432.6" y="31.7" font-size="8.8" fill="#111">1</text><circle cx="425" cy="37.9" r="3.5" fill="#3cb44b"/><text x="432.6" y="41.0" font-size="8.8" fill="#111">2</text><circle cx="425" cy="47.2" r="3.5" fill="#0082c8"/><text x="432.6" y="50.3" font-size="8.8" fill="#111">3</text><circle cx="425" cy="56.4" r="3.5" fill="#f58231"/><text x="432.6" y="59.5" font-size="8.8" fill="#111">4</text><circle cx="425" cy="65.7" r="3.5" fill="#ffe119"/><text x="432.6" y="68.8" font-size="8.8" fill="#111">5</text><circle cx="425" cy="75.0" r="3.5" fill="#911eb4"/><text x="432.6" y="78.1" font-size="8.8" fill="#111">6</text><circle cx="425" cy="84.3" r="3.5" fill="#46f0f0"/><text x="432.6" y="87.4" font-size="8.8" fill="#111">7</text><line x1="238.8" y1="161.8" x2="238.8" y2="12.2" stroke="#333" stroke-width="0.9" marker-end="url(#ar)"/><text transform="translate(241.4,194.5) rotate(-90)" font-size="8.6" fill="#111"><tspan font-style="italic">t</tspan>-SNE2</text><text x="246" y="206.4" font-size="8.4" fill="#111"><tspan font-style="italic">t</tspan>-SNE1</text><line x1="276.5" y1="203.5" x2="451.4" y2="203.5" stroke="#333" stroke-width="0.9" marker-end="url(#ar)"/><text x="0" y="225.6" font-size="10.5" font-weight="bold">c</text><line x1="20.3" y1="691.7" x2="20.3" y2="223.6" stroke="#333" stroke-width="0.9" marker-end="url(#ar)"/><text transform="translate(23.2,722.3) rotate(-90)" font-size="8.6" fill="#111"><tspan font-style="italic">t</tspan>-SNE2</text><text x="28" y="734.4" font-size="8.4" fill="#111"><tspan font-style="italic">t</tspan>-SNE1</text><line x1="57.8" y1="732" x2="438.8" y2="732" stroke="#333" stroke-width="0.9" marker-end="url(#ar)"/><rect x="26.50" y="223.4" width="134.8" height="121.4" rx="1" fill="none" stroke="#a0a0a0" stroke-width="1.1"/><g transform="scale(0.5)" stroke-linecap="round" fill="none"><path stroke="#e48082" stroke-width="5.00" d="M183 471zm4 82zm-2 15zm-1 19zm-13 52zm25 25zm65-28zm29-9zm2-3zm3-7zm-186-53zm-3 9zm5-28zm-19-7zm-3 13zm-15 20zm-3 8zm4 22zm23 26z"/><path stroke="#5b51b0" stroke-width="5.00" d="M75 596zm218 27z"/><path stroke="#eb9fa1" stroke-width="5.00" d="M164 526zm-34 5zm-20 0zm-16 21zm-12 15zm-2 3zm7 1zm6 16zm-7 8zm-14-13zm14 34zm92 39zm93-11zm5 0zm6-10zm6 16zm7-33zm6-1zm1 3zm-77-89zm-13-4z"/><path stroke="#a597d5" stroke-width="5.00" d="M188 521zm-81 25zm-9 2zm0 51zm199 18z"/><path stroke="#ffffff" stroke-width="5.00" d="M109 542zm-12 22zm-16-1zm22 34zm-4 18zm127-65zm44 89zm7 5zm0 1z"/><path stroke="#c3bae3" stroke-width="5.00" d="M193 504zm10 20zm-7 13zm-81 4zm-8 9zm6 70zm162 18zm6 0z"/><path stroke="#e1dcf1" stroke-width="5.00" d="M94 584zm18 39z"/><path stroke="#d74043" stroke-width="5.00" d="M174 473zm3 7zm-11 28zm7 22zm19-9zm-61 40zm-11 10zm13 13zm-54-25zm-2-4zm92 88zm121-16zm12-9zm-3-14z"/><path stroke="#f2bfc0" stroke-width="5.00" d="M211 533zm5 15zm-43 4zm-58 36zm-25 28zm61 29zm107-7z"/><path stroke="#332d9c" stroke-width="5.00" d="M277 642z"/><path stroke="#dd6063" stroke-width="5.00" d="M151 505zm52 25zm-84 30zm-24 12zm3-28zm53 60zm-31 38zm177-26z"/><path stroke="#f8dfe0" stroke-width="5.00" d="M187 569zm30 18zm69 44zm-9 14zm-150 7zm-17-80z"/><path stroke="#8274c4" stroke-width="5.00" d="M177 514zm-30 50zm-66 35z"/><path stroke="#d02024" stroke-width="5.00" d="M180 468zm0 4zm-1 1zm-1 0zm2 1zm0 1zm-3-1zm0 0zm-1 1zm1 1zm-3-3zm-2 1zm-1 0zm-1 1zm9 6zm5-8zm1-1zm-7 28zm-2 0zm3 1zm0 4zm-3 1zm-4-3zm1-2zm-4 1zm-1 3zm2 1zm-5 4zm-8 8zm5 3zm1 5zm0 1zm2-1zm2 2zm1-3zm3 2zm3-5zm10 1zm2-1zm2-2zm-1-2zm4 1zm-2-5zm-1-2zm-1-2zm-2 5zm2-10zm9 3zm5-1zm-6 5zm3 6zm8 0zm1 1zm-1 1zm1 2zm2-1zm1 0zm1 2zm-1 0zm0 1zm0 3zm-1 4zm-4-2zm-3 4zm0 0zm1 0zm0 2zm-3-1zm-2-1zm2-3zm0-2zm2 11zm-2 1zm-3 4zm3 1zm2 2zm-4 8zm-3 2zm-2 0zm-1 0zm-3-2zm2-4zm5 10zm8 7zm2 2zm4 2zm0 1zm1 4zm8 2zm3-2zm-3-4zm-4-7zm6-4zm6-8zm0-3zm1-2zm0-4zm2-1zm1 2zm-2-8zm-2 0zm-2-2zm-3 2zm-8-5zm11-6zm4 5zm-10 15zm-2-1zm-4 1zm1 3zm0 3zm-3 3zm-1 1zm-1 3zm-2 5zm2-13zm-19-17zm-1-1zm-7-4zm-1 5zm-9-1zm-1 2zm-1 7zm4 0zm2 2zm-1 4zm1 5zm3 0zm5 5zm-2 2zm-6 2zm-5-2zm-1 4zm-1 2zm-6 3zm2 5zm3 0zm2-1zm3 3zm5-1zm4-3zm7 1zm-2-6zm-2-1zm-13-13zm-4-1zm-2-1zm-1-4zm3 1zm-5-3zm-7 8zm2 2zm1 1zm-2 5zm4 2zm4-5zm-13 5zm-6 2zm1 3zm-5-1zm1 4zm1 4zm4 4zm-2 2zm-2 1zm-2 1zm-1-2zm0-2zm-2 1zm0 0zm-4 2zm-2-2zm-2-3zm-3-1zm-1 0zm2-5zm4-4zm0-3zm5 7zm0 5zm-11 5zm-7 3zm1 1zm-6 3zm0 2zm2 1zm0 4zm-3-1zm-1 1zm-5 0zm0 1zm-1 2zm-2 1zm0-1zm-3-3zm1-1zm2-2zm2 2zm4 6zm7-2zm1 6zm4 4zm-1 5zm0 1zm1 2zm-1 8zm3 0zm5 8zm1 1zm2 2zm-1 5zm1-10zm4-6zm3 0zm3 2zm-2 6zm9 10zm2 4zm3 2zm4 0zm4 1zm1 2zm4-3zm4 0zm-2-4zm0-3zm-4-2zm2-3zm2-1zm-2-2zm1-3zm-3-2zm6-3zm1 2zm2-4zm1 0zm0-2zm3-2zm5 4zm2-2zm1-6zm1-7zm-4-1zm-2-2zm-3 1zm0-3zm-2 0zm2-2zm4-1zm2-1zm4-2zm3 2zm0 3zm-2 0zm5-4zm3 2zm1-3zm1-1zm0-1zm1-1zm-4 0zm-4-1zm0-1zm2-7zm4-5zm7 10zm2 6zm2 0zm2 3zm2 2zm-1 1zm1 1zm2 0zm1-1zm-1-3zm-1-2zm3-1zm4 3zm-11 4zm0 1zm2 3zm2 2zm-3 3zm0 1zm-2-2zm-5 8zm-6 0zm2 7zm2 1zm-4 4zm-3 2zm4 3zm0-1zm1 4zm-9 4zm-3 3zm-5 5zm-5 2zm1 3zm7 6zm8-3zm5-4zm3-1zm1 0zm-4-2zm-2 13zm2 4zm-5-1zm-2 1zm-5 7zm-4-1zm-6-8zm-10-9zm-13 2zm-1 2zm-1-8zm-15-2zm-10-2zm-4 1zm-1-1zm-4 2zm0-6zm0-2zm-1-2zm-1-1zm-2-6zm-3-3zm-5 2zm-5 5zm-2-1zm-2-1zm-3-1zm-3-4zm7-1zm8-8zm5-4zm2-1zm1-4zm1-2zm-7 4zm-4-6zm-6-6zm0-2zm1-3zm-3 3zm-4 2zm-5-1zm-1-1zm0 5zm-2 7zm0 1zm-3 0zm10-1zm2 4zm3-4zm6-12zm-6-7zm1-8zm-3 0zm0-2zm-2-4zm1-1zm-3-2zm-2 2zm3-8zm2-5zm6 8zm3 1zm1-2zm3 0zm2-1zm2-2zm2-1zm1 0zm2-1zm3 1zm0 2zm0 0zm0-6zm-1-2zm-3 0zm-1-4zm0-2zm3 1zm1-7zm1-2zm1 1zm3 0zm0-2zm0-5zm2 0zm5-1zm3 1zm2 1zm3 7zm3-3zm9-2zm-1-3zm-3-3zm-4-2zm2-2zm-5 0zm1-3zm-9 4zm-5-1zm-2-1zm-5 0zm0-4zm0-1zm0-1zm2-7zm0-2zm6 7zm11-7zm4 1zm5-7zm4 0zm0-1zm7 11zm1 4zm0 1zm-1 0zm-7 3zm-1-5zm0 10zm0 2zm4-1zm-10 22zm-2 0zm7 24zm4 0zm0 4zm-1 0zm3 1zm1 0zm-2 2zm1 3zm-6-1zm-2 1zm1-4zm-5 1zm-1-1zm0-2zm0-2zm-2 4zm2 4zm-7-2zm-2 12zm3 5zm9 0zm3-2zm3 2zm0 1zm1-2zm4-4zm1-3zm-4-1zm4 15zm-4 1zm-3 1zm-1-1zm9 3zm-1 10zm19 8zm0 1zm3 0zm1 0zm8-7zm8-5zm25-14zm0 0zm-17-15zm15-13zm-39 3zm-2-2zm-4 4zm1 5zm1 2zm-6-12zm-4 1zm9-5zm14-57zm19-14zm6-1zm1 4zm1 0zm2-1zm0-2zm0-4zm-7-2zm3 13zm-95 29zm-3 3zm-3-2zm-4-4zm0-1zm-5-1zm4 6zm-9 2zm-4-3zm-3-4zm1-3zm-4 16zm0 0zm-5 2zm0 7zm-2 2zm-1 1zm1 2zm-6-3zm-4 1zm-1-2zm4 5zm-4 10zm2 3zm1 1zm4 4zm9 3zm-7 10zm19-17zm1-3zm6-9zm-11-16zm9 86zm2 6zm9 12zm-1 1zm0 3zm3 0zm2 0zm2-1zm6 7zm9 0zm13 4zm-40-8zm156-28zm4-2zm7 2zm0 5zm0 1zm-4-1zm11-9zm2-2zm1-3zm1-2zm3-9zm-2-1zm8 2zm1-1zm1-4zm1-4zm-1-1zm1-2zm0-1zm2 0z"/><path stroke="#a597d5" stroke-width="5.00" d="M170 503zm-2 20zm-1 1zm19-4zm14 16zm-50 29zm-30 17zm-15 17zm38 32zm6-9zm9 5zm127 20zm2 2z"/><path stroke="#d74043" stroke-width="5.00" d="M183 471zm2 86zm-39 42zm-38 32zm-20-27zm9-27zm23-46zm170 97zm15-9z"/><path stroke="#e48082" stroke-width="5.00" d="M201 520zm-22 17zm-10-12zm-54 44zm-7 4zm0 1zm-18-3zm-11-1zm10-15zm3-18zm-25 50zm11 7zm21 45zm66-4zm44-32zm48 34zm22 1zm5-5zm2 15zm9-27z"/><path stroke="#d02024" stroke-width="5.00" d="M175 461zm5 6zm1 1zm-2 4zm1 1zm1 1zm2-1zm0-1zm-6 2zm0 0zm-1 0zm1 1zm-1-2zm-5 0zm-2 0zm8 7zm0 1zm1 18zm-3 0zm0 3zm-1 0zm3 0zm0 8zm9 1zm2 2zm2 3zm0 2zm0 2zm-1 1zm-1 2zm0 1zm3 2zm4-1zm2 4zm-1 3zm1 3zm2-1zm0 3zm3-4zm1-3zm-2-3zm-1-1zm5 1zm2-1zm-1 2zm1 5zm1 0zm1-1zm1 4zm2 1zm4-6zm-1-3zm-2-5zm0-3zm-2 1zm-1-1zm0-1zm-1-1zm0-4zm-6 0zm-1 6zm-7 0zm1-8zm-2-3zm2-1zm-2-4zm-3 0zm-2 1zm-1 3zm12-4zm3 3zm8-1zm2 0zm3 2zm1 0zm-3 2zm3 3zm2 0zm6 6zm-2 5zm-1 4zm-1 2zm3 3zm1 2zm0 0zm4 6zm0 0zm0 2zm0 0zm-1-1zm0 4zm-1 3zm-4-2zm-5 2zm-4-1zm0 4zm-4 4zm-2 2zm0 3zm-1 3zm-1 3zm1 3zm-3 1zm0-1zm6 4zm-1 3zm-5 3zm-6 1zm-2 0zm-2 6zm-1 1zm-3 0zm-1-1zm-8 2zm-2-1zm-1 3zm-2-3zm0-3zm-3-3zm1-7zm-6-3zm-3-2zm-1 2zm-3 2zm2 2zm4 1zm-1 9zm4 5zm3 4zm7 7zm2 3zm0 3zm6 0zm1 4zm0 3zm1 1zm0 1zm-4-2zm-1 1zm-3 0zm-5 3zm-2 5zm-2 1zm-4 4zm-3-3zm-2-3zm-1 9zm-1 0zm-1 0zm-2 0zm0 2zm0 4zm0 3zm0 3zm1 3zm2 0zm-3 2zm1 1zm-7 1zm-1 0zm2-4zm0-5zm-4 1zm0-3zm3-7zm2-1zm1-2zm2-1zm-3-1zm-9 0zm-4-2zm0 4zm1 2zm-7-4zm-3 3zm5-8zm-1-4zm-5 1zm-4-1zm-3 4zm-4 4zm-5-4zm-3 3zm-2 2zm1 2zm-5 0zm1-4zm1-3zm2-4zm0-2zm2 0zm4-4zm3-1zm0 3zm0 1zm2-7zm-8-2zm-2 4zm-4 2zm-1 0zm-1 5zm-2 4zm-2 7zm0 2zm-5 3zm-2 1zm3 6zm6 0zm2-1zm0-2zm5-2zm3 1zm4 5zm0 3zm1 2zm0 0zm1 5zm-1 0zm7 1zm0-5zm-2-5zm-1-1zm-9 6zm-4 8zm2 1zm0 0zm0 0zm-6 1zm0-4zm7 11zm1 2zm0 2zm3 0zm-5 0zm16-5zm9-13zm4 2zm16 7zm12-7zm0-1zm0-2zm-2-2zm-1-2zm4-5zm4 0zm2 0zm4-1zm-3-9zm-8 1zm2 4zm-5 1zm7 12zm4 5zm-2 1zm1 3zm-2 1zm-3 0zm0-1zm5 5zm3-10zm1-1zm1 1zm1 1zm0-3zm10-5zm8-7zm2 2zm-3-5zm-2-2zm-9-5zm5-7zm1-2zm1 1zm10-7zm6 4zm2-2zm2-4zm3-2zm-1-1zm1-1zm0-2zm1-1zm1 1zm1-5zm2-1zm3-3zm-9-2zm-1 2zm-2-3zm-4-1zm1 2zm-4-1zm-6 4zm-4-3zm-5 2zm-3 4zm-4 1zm15 7zm7-4zm5-3zm2-1zm-1 7zm6 4zm-1-41zm-1-2zm1-5zm-15-5zm-3-1zm-4-2zm-1-3zm-1 0zm2-1zm-5-1zm-4-4zm-2 4zm-3-1zm0 4zm5 2zm-2 6zm-4 4zm-2-2zm-4 0zm-3 2zm0-4zm1-2zm-4-3zm-3 1zm-1-2zm1-4zm0-1zm-1-4zm3-2zm-3-3zm6 6zm2 2zm0 0zm1 1zm0-2zm0-2zm3-1zm-1-12zm3-4zm4-2zm-9-5zm-3 2zm-3 1zm-4 0zm-1 1zm-4-3zm-1-2zm-2 0zm-2 0zm0 2zm0-4zm-4 1zm-4 1zm-2 1zm-3-1zm5 3zm-1 8zm-2 4zm-4 3zm-2 3zm1 2zm5 3zm-4 2zm1 1zm-1 6zm0 1zm-6 4zm-5 2zm-3-3zm-4 6zm-1-1zm-2 1zm0 1zm3 4zm6 2zm1 3zm2 0zm3 0zm0-2zm3 0zm1 0zm0-2zm2 0zm3 1zm0 2zm2 2zm2-2zm3 2zm0 1zm-1 4zm1 3zm0 4zm2 4zm2 1zm1-1zm2-7zm0 0zm1 14zm2 5zm-6-3zm-2 1zm-3 1zm0 0zm-2-1zm3 4zm3 1zm0 2zm5 2zm8-3zm4 3zm-25 1zm-4-1zm-6 1zm3-8zm0-12zm8 2zm-3-11zm-2-2zm1-2zm2 1zm0 0zm1-1zm-7-1zm7-13zm2 0zm5 3zm1-1zm5 1zm0-1zm0-2zm-1-2zm9 2zm4-3zm-13-11zm-2-1zm-4-3zm1-6zm5 1zm-4-7zm-1-2zm4-2zm1-3zm3 3zm3 0zm3-16zm-4-1zm-5-1zm0-6zm4 0zm6-4zm0-5zm-3-2zm1-3zm-14 16zm-13-5zm-15 9zm0 1zm-3 13zm2 2zm6 1zm3 2zm0 1zm3 6zm-2 5zm2 3zm-6 5zm-1-2zm-5 0zm0-4zm0-1zm1-2zm3-2zm-1-3zm0 0zm-4 2zm-13-7zm-6 7zm-3 9zm-5 3zm-1-2zm-4 0zm-7 4zm1 10zm-1 4zm6 0zm2 0zm6-6zm0-1zm0-5zm16 2zm5 1zm2 2zm-3 2zm-2 1zm-1 2zm1 0zm-1 0zm-1 1zm-1 1zm0 4zm4 1zm0-2zm6 5zm2 6zm-4 1zm-1 1zm-4 8zm-4 0zm0-3zm-2 0zm3 9zm2 2zm3-1zm3-3zm-11 6zm-2 0zm-4-3zm-1-1zm-2 4zm-3 5zm-1-1zm-2-4zm-1-2zm-4-2zm-3 2zm0 3zm2 3zm1 1zm0-5zm-8 0zm-8-4zm1-5zm1-5zm-1-6zm-1 0zm-4-2zm3-3zm0-2zm0 0zm1-3zm7 3zm-6-14zm25 14zm0 5zm-2 0zm3 5zm-1 2zm-5 7zm1 16zm-3 3zm-3 2zm0 0zm-2 1zm0 1zm3 1zm0 5zm-5-10zm19-6zm4-28zm39-37zm-36-18zm79 13zm3-2zm3 0zm0 2zm0 5zm7 1zm1 6zm14-8zm16-1zm-38 28zm-9-1zm-2 12zm16 75zm4 4zm-3 3zm-4 0zm-2 5zm1 1zm-1 2zm-3-1zm-3 4zm3 2zm8-3zm0-2zm-20 3zm-19 0zm102-37zm1 1zm2 0zm3 1zm4 2zm2 1zm-1-4zm9-3zm2-3zm0 0zm6-6zm-2-7zm4-1zm1-1zm2-2zm2-1zm1 0zm1 1zm-1 2zm-2 0zm5-1zm-1-11zm1-2zm-19 39zm3 4zm-13 2z"/><path stroke="#eb9fa1" stroke-width="5.00" d="M160 512zm13 17zm-48 18zm-26 37zm0 18zm-12 0zm100 4zm-5 49zm79-18zm6 1zm13-1zm11-13zm5-4zm2-1zm-2-2zm2-5zm-70-67z"/><path stroke="#e1dcf1" stroke-width="5.00" d="M165 630zm22 26zm-80-20z"/><path stroke="#332d9c" stroke-width="5.00" d="M103 535zm-15 74zm194 35z"/><path stroke="#dd6063" stroke-width="5.00" d="M178 474zm-45 91zm-28 0zm-5 16zm-25 12zm-10-2zm20-39zm82 30zm106 56zm3 8zm5-5zm6 10zm3-33z"/><path stroke="#8274c4" stroke-width="5.00" d="M107 536zm44 33zm11-11zm-85 57zm209 15z"/><path stroke="#f8dfe0" stroke-width="5.00" d="M153 541zm-40 22zm-20-9zm6 82zm162 1zm17 1zm0 4zm5 1zm-7 4zm18-20z"/><path stroke="#c3bae3" stroke-width="5.00" d="M93 539zm57 49zm27-19zm25 3zm82 59zm-3 9z"/><path stroke="#ffffff" stroke-width="5.00" d="M168 546zm-46 5zm-33 13zm87 72zm110-5z"/><path stroke="#0c0a88" stroke-width="5.00" d="M279 638z"/><path stroke="#f2bfc0" stroke-width="5.00" d="M181 472zm-3 4zm-1 42zm-102 52zm41 63zm-4 22zm161-12zm10 1z"/><path stroke="#d74043" stroke-width="5.00" d="M175 460zm1 13zm-53 48zm18 18zm20 24zm-14 56zm-26 35zm-48-67zm-1-10zm26-4zm3-3zm-18-17zm192 87zm6-1zm16-23z"/><path stroke="#f2bfc0" stroke-width="5.00" d="M170 473zm2 27zm0 3zm-62 33zm-19 16zm2 21zm3 61zm93 35zm97-51zm8 5zm2-5zm8 0zm-70-69z"/><path stroke="#d02024" stroke-width="5.00" d="M175 460zm5 7zm0 1zm0 1zm1 3zm-1 1zm-1 0zm-1 0zm-1 2zm-2-1zm2-3zm2 6zm-2 1zm-1 1zm1 1zm-3 16zm2 3zm-1 0zm2 1zm2 1zm-5 3zm-2 2zm-2 0zm0 1zm5-1zm-4-5zm1-3zm-4 0zm-10 2zm1 6zm-6 0zm1 4zm4 2zm-5 2zm-1 3zm2 0zm-5 0zm-1 2zm-3 1zm-2 4zm6 0zm3-1zm5 3zm4 0zm1 3zm2-1zm0-1zm3-1zm3 0zm-4-4zm-1-1zm-1 1zm4-9zm-5-2zm-15 0zm-7 6zm-13 13zm-4 1zm-1 4zm-2-1zm-6-3zm-4-8zm10-5zm2-2zm5 24zm-1 1zm-1 4zm3 3zm0 1zm4-2zm4 4zm4-5zm1-3zm5-2zm5 4zm0 5zm6-2zm1 4zm-2 2zm7 1zm0-2zm4-2zm-1-3zm-1-2zm-3-3zm0-9zm-6-3zm-2 2zm-10 3zm-5 1zm-1 3zm-7 0zm-11 6zm-4 2zm1 3zm5 1zm-8 2zm-3 7zm1 4zm2 1zm2-2zm0-2zm3 1zm0-2zm0 8zm-3 0zm-2 0zm1 2zm-2 1zm2 3zm3 4zm0 3zm3 0zm1 0zm0 0zm-1 2zm-1 2zm-3 0zm-4 2zm7 3zm-4 5zm-9-3zm-4 3zm-1 4zm0 1zm0 1zm-1 0zm-1 2zm1 2zm2-1zm2-3zm2 0zm-2 6zm3 1zm-2 6zm4 6zm-2 2zm0 1zm1 6zm1 0zm3 2zm-4 5zm-4 0zm0 2zm-1 6zm-2 0zm0 4zm-4 5zm12-2zm3-1zm2 0zm-1 2zm3-4zm4-6zm3 3zm3 0zm3 2zm-6 3zm1 4zm-8 12zm8 7zm17-11zm9-3zm4-2zm1-2zm-5 0zm3-7zm-4-2zm-2-2zm5-4zm2 1zm3 4zm2-3zm2-2zm4-4zm0-3zm1 0zm1-1zm1 0zm1 3zm1 2zm2 0zm-1-2zm4 0zm2 4zm-2 1zm6-1zm6 7zm2 0zm-1 3zm-4 4zm0 2zm-2 1zm-5 0zm-2-5zm-4 3zm-1-3zm-1-3zm2-1zm-4 5zm-6-3zm5-7zm1-1zm-1-13zm-2 0zm-2-2zm0 0zm-5 2zm-3-1zm-3 4zm-1 1zm-1 4zm-19 1zm-5-3zm5-4zm0 0zm3-5zm-2-5zm1-1zm-4 1zm-3-2zm-1-2zm-1 0zm-1-1zm3-3zm-1-2zm-5 2zm-2 1zm-2-1zm3 14zm4-1zm17-6zm0-3zm4 0zm1 1zm0-8zm-4 0zm-3 2zm5-11zm-2-2zm-1-1zm-3-6zm4-6zm5 2zm2 2zm6 3zm1 0zm-6 7zm1 3zm-2 2zm6 3zm2 3zm2 0zm2-2zm0-1zm2 2zm1 0zm-1-6zm-3 0zm-1-1zm-2 0zm-1 2zm1 13zm17 4zm1-3zm4-3zm6 2zm3-4zm0-7zm-1-1zm2-1zm2-2zm0-2zm-1 0zm1-1zm-3-4zm4-2zm2-4zm3 1zm5 1zm1 3zm-1 1zm0 1zm2 1zm1 2zm-4 1zm-4-3zm9-5zm10 0zm4 6zm-3 3zm3 2zm-2 3zm-3 2zm-1-3zm-2-1zm-1-1zm-1 5zm2 1zm1 3zm4 4zm-9-3zm-2 7zm-6 0zm-3 3zm-3-4zm2 10zm2 1zm2-2zm4 25zm-1 13zm-3 0zm-5 0zm-7-1zm-2 9zm-1 3zm-5 0zm-3-13zm-1-1zm-1-2zm-2 2zm-8-2zm-1 5zm-9-3zm-43-20zm-13-4zm-1-3zm-1 0zm-1 0zm5-3zm2-5zm-9-12zm0-2zm-3 3zm-3-5zm-3 1zm-1 2zm-5-11zm-3-5zm-1-2zm-1-3zm2 0zm1-1zm0-3zm-2-1zm-4 2zm-2 1zm-2-2zm3-5zm4-7zm-1-2zm1-4zm-1-1zm9 0zm-1 4zm6-6zm1-3zm-5-2zm-2-2zm2-4zm5 0zm3 4zm3-7zm5 12zm-4 3zm-1 1zm-4 2zm3 8zm2 0zm2-2zm6 0zm1-2zm-2-1zm4-4zm-1-1zm-1-1zm5-2zm-3 12zm-4 4zm-6 1zm2 4zm-8-8zm-5 12zm2 7zm-1 3zm5-2zm-1-1zm7 1zm1 1zm1 5zm-28-10zm3-35zm7-13zm14-18zm11 7zm2 6zm-2 1zm25 16zm4-4zm5 6zm2 2zm0 0zm0 2zm0 1zm-2 2zm-2-3zm1-1zm-4 1zm-2 7zm1 1zm2 1zm-1 2zm-3-3zm-5 4zm5 6zm14-6zm3 2zm4-2zm1-10zm2-1zm1-2zm-2 1zm3 3zm1 0zm5 2zm3 0zm3-1zm2 0zm1 0zm0 1zm-2-6zm0-2zm2 0zm-4-2zm-3 1zm-1 3zm-2-4zm2-2zm-5 3zm-10 4zm-2-3zm-1-1zm-1 0zm-2-1zm1-6zm27-4zm6-1zm1 7zm-1 1zm3 6zm-1 7zm6 1zm1-4zm1-8zm4 0zm5-2zm-1-4zm3 0zm1 3zm9 2zm0 3zm0 0zm-1 1zm2 2zm-2 2zm-3 0zm-5-1zm-3 1zm-3 10zm1 1zm1 4zm-5 2zm-6-2zm-2 4zm-4-4zm-3 8zm0 2zm1 2zm-4 2zm7 6zm3 0zm0 0zm1 4zm-18-16zm0-5zm-2 0zm2-2zm-3-1zm1-5zm37-1zm6-1zm8 3zm0 4zm2 0zm3-7zm-1-5zm1-3zm-4-3zm1-1zm-1-10zm1-2zm-1-1zm-1 0zm1-3zm-1-1zm-1 1zm-3 3zm-1 5zm3-13zm7 4zm2 1zm2 1zm0 1zm2-3zm2 0zm0-2zm4-1zm0-7zm-7-4zm-8 0zm-6 0zm-2 1zm0 1zm1 0zm-3-2zm-1 1zm0-4zm-1-2zm-3-2zm2-1zm2-3zm0 0zm-2 0zm6-2zm2-3zm1-2zm-3 0zm0-2zm-2-5zm2-2zm-3-2zm-4 3zm0 3zm1 1zm-8-7zm-5 11zm-2 1zm-4 2zm0 1zm1 2zm3 2zm2 0zm1 1zm2-3zm3 2zm0 3zm3 4zm-1 1zm0 2zm-3 3zm5 1zm2 2zm-1 2zm-1 1zm-5-1zm-3 9zm-6-2zm-2-15zm-2 0zm0 0zm-3 1zm7-2zm2-4zm-4-4zm-1 0zm-2 2zm-2-2zm-8 8zm43-10zm2-3zm0 0zm3 1zm-1-4zm0-1zm2-6zm6 13zm0 89zm38 27zm9-1zm3 6zm1 3zm1 0zm5-2zm-2-7zm6-10zm8-9zm3-7zm7 8z"/><path stroke="#eb9fa1" stroke-width="5.00" d="M177 473zm0 5zm-33 33zm-28 21zm50 23zm23 22zm28 4zm60 56zm9 11zm7-28zm7-11zm-188-20zm-5 2zm-17-6zm-1 19zm-11-2zm-9-19z"/><path stroke="#e1dcf1" stroke-width="5.00" d="M206 560zm-77 27zm147 57z"/><path stroke="#ffffff" stroke-width="5.00" d="M198 530zm-18 77zm-7 16zm-58-56zm144 71zm20 2z"/><path stroke="#c3bae3" stroke-width="5.00" d="M211 524zm-62 89zm22 23zm-88-39zm188 41z"/><path stroke="#a597d5" stroke-width="5.00" d="M145 564zm14 48zm-36 15zm-37-12z"/><path stroke="#f8dfe0" stroke-width="5.00" d="M206 520zm-25 72zm5 11zm-46-29zm-10 3zm3 74zm138-8zm4-1z"/><path stroke="#dd6063" stroke-width="5.00" d="M192 526zm12 6zm-56 5zm-6 10zm-2 26zm-1 11zm-19-1zm-5 12zm-10 0zm-25-7zm18 51zm118-25zm75 11zm3-2zm8-4zm3 1z"/><path stroke="#8274c4" stroke-width="5.00" d="M143 521zm-44 78zm-14 4zm82 21zm130-7z"/><path stroke="#e48082" stroke-width="5.00" d="M107 532zm-8 8zm8 33zm-6 4zm-9 8zm1 2zm-12-14zm-11-3zm2 20zm4 13zm11 3zm90 53zm16-67zm10-12zm69 64zm3 0zm17-25z"/></g><path d="M77.2 245.5C78.7 245.1 80.1 245.0 81.7 245.0C83.3 244.9 85.1 245.1 87.0 245.3C88.8 245.6 90.9 246.1 92.9 246.4C94.9 246.7 96.9 246.9 98.9 247.2C100.8 247.5 102.7 247.7 104.5 248.3C106.3 248.8 108.2 249.5 109.6 250.6C111.1 251.7 112.3 253.2 113.3 254.8C114.2 256.4 114.5 258.1 115.3 260.0C116.1 261.9 117.2 264.2 117.9 266.3C118.6 268.4 119.5 270.6 119.5 272.5C119.6 274.5 119.2 276.2 118.5 277.8C117.8 279.4 116.1 280.4 115.3 281.9C114.5 283.5 114.0 285.5 113.8 287.2C113.6 288.9 113.9 290.5 114.3 292.4C114.7 294.3 115.6 296.7 116.4 298.7C117.2 300.6 118.7 302.5 119.0 303.9C119.4 305.3 119.2 306.2 118.5 307.0C117.8 307.9 116.3 308.6 114.8 309.1C113.3 309.7 111.2 309.6 109.6 310.2C108.1 310.7 106.4 311.2 105.4 312.3C104.4 313.3 104.1 315.0 103.9 316.4C103.7 317.9 104.1 319.3 104.2 320.7C104.4 322.2 104.6 323.3 104.8 325.1C104.9 327.0 105.3 329.9 105.2 331.9C105.1 333.8 104.7 335.7 103.9 336.9C103.1 338.2 102.1 338.7 100.5 339.4C99.0 340.1 96.7 340.8 94.6 341.1C92.5 341.5 90.4 341.7 87.9 341.5C85.4 341.4 82.3 340.5 79.5 340.3C76.7 340.0 74.0 339.9 71.2 339.9C68.4 339.8 65.1 340.1 62.7 340.1C60.3 340.1 58.5 340.5 56.8 339.9C55.1 339.3 53.7 337.7 52.6 336.5C51.5 335.3 50.8 333.9 50.1 332.7C49.4 331.5 49.1 330.9 48.4 329.4C47.8 327.8 46.8 325.1 46.0 323.3C45.2 321.5 44.6 320.0 43.6 318.4C42.6 316.7 41.1 315.3 39.9 313.5C38.7 311.7 37.5 309.5 36.3 307.4C35.1 305.4 33.6 303.1 32.6 301.3C31.5 299.4 30.4 297.9 30.1 296.4C29.8 294.9 30.4 293.6 30.8 292.1C31.2 290.7 32.2 289.4 32.6 287.8C33.0 286.3 32.9 284.6 33.2 283.0C33.5 281.4 33.5 279.7 34.4 278.1C35.3 276.5 37.4 274.8 38.7 273.2C40.0 271.5 41.3 269.6 42.4 268.3C43.4 267.0 43.4 266.5 44.8 265.2C46.2 264.0 49.0 262.4 50.9 261.0C52.9 259.5 54.4 258.0 56.4 256.7C58.4 255.5 61.0 254.6 63.0 253.5C65.0 252.5 66.7 251.6 68.3 250.6C69.9 249.5 71.3 248.0 72.8 247.2C74.3 246.3 75.7 245.8 77.2 245.5Z" fill="none" stroke="#1fa85a" stroke-width="1.45" stroke-dasharray="2.8 2"/><path d="M123.9 318.6C124.1 317.9 124.8 317.0 126.1 316.6C127.4 316.3 130.0 317.1 131.7 316.6C133.4 316.2 134.9 315.0 136.2 313.8C137.5 312.6 138.4 311.2 139.6 309.6C140.8 308.0 142.2 305.6 143.5 304.0C144.8 302.5 146.1 301.2 147.4 300.4C148.7 299.5 150.1 298.9 151.4 299.0C152.6 299.0 154.0 299.5 154.7 300.6C155.4 301.8 155.5 304.0 155.5 305.7C155.5 307.4 155.3 309.3 154.7 310.7C154.1 312.2 152.9 313.5 151.9 314.7C150.8 315.8 149.4 316.4 148.5 317.5C147.7 318.5 147.1 319.5 146.9 320.9C146.6 322.2 147.2 324.1 146.9 325.3C146.5 326.5 145.7 327.6 144.6 328.1C143.6 328.6 142.2 328.5 140.7 328.1C139.2 327.7 137.5 326.7 135.6 325.9C133.7 325.0 131.2 323.9 129.5 323.1C127.7 322.3 125.9 321.6 125.0 320.9C124.1 320.1 123.7 319.3 123.9 318.6Z" fill="none" stroke="#e8202a" stroke-width="1.45" stroke-dasharray="2.8 2"/><circle cx="88.7" cy="235.5" r="7.7" fill="none" stroke="#f0643a" stroke-width="1.45" stroke-dasharray="2.8 2"/><text x="32.1" y="234.0" font-size="8.6" font-style="italic" fill="#111">Hexb</text><linearGradient id="g0" x1="0" y1="0" x2="0" y2="1"><stop offset="0.00" stop-color="#d02024"/><stop offset="0.10" stop-color="#d94d50"/><stop offset="0.20" stop-color="#e3797c"/><stop offset="0.30" stop-color="#eca6a7"/><stop offset="0.40" stop-color="#f6d2d3"/><stop offset="0.50" stop-color="#ffffff"/><stop offset="0.60" stop-color="#d5cfeb"/><stop offset="0.70" stop-color="#ab9ed8"/><stop offset="0.80" stop-color="#7a6dc0"/><stop offset="0.90" stop-color="#433ca4"/><stop offset="1.00" stop-color="#0c0a88"/></linearGradient><rect x="148.9" y="230.0" width="8.3" height="24.6" fill="url(#g0)"/><text x="144.2" y="233.0" font-size="8.2" text-anchor="end" fill="#111">20</text><path d="M148.9 230.0h1.6M155.6 230.0h1.6" stroke="#333" stroke-width="0.5"/><text x="144.2" y="245.3" font-size="8.2" text-anchor="end" fill="#111">10</text><path d="M148.9 242.3h1.6M155.6 242.3h1.6" stroke="#333" stroke-width="0.5"/><text x="144.2" y="257.6" font-size="8.2" text-anchor="end" fill="#111">0</text><path d="M148.9 254.6h1.6M155.6 254.6h1.6" stroke="#333" stroke-width="0.5"/><rect x="164.45" y="223.4" width="136.0" height="121.4" rx="1" fill="none" stroke="#a0a0a0" stroke-width="1.1"/><g transform="scale(0.5)" stroke-linecap="round" fill="none"><path stroke="#e48082" stroke-width="5.00" d="M442 505zm-9 13zm6 9zm1 1zm6-2zm9 11zm-2 15zm-8 13zm-6-2zm-16 25zm-17-11zm-7 5zm-15 14zm-6 0zm2 9zm10 14zm-10 22zm-16-16zm-1-12zm-10-19zm21-43zm18-1zm6-5zm3 0zm-6-12zm-10-7zm31 11zm-15 24zm20 56zm4 5zm8-9zm4 19zm7-3zm9 23zm1 2zm3-1zm-8 11zm-24 11zm-16-24zm-5 0zm-2 2zm-13 12zm86 2zm-10-55zm0-11zm4-7zm18 10zm3-3zm6 5zm-26-36zm9-37zm-1 0zm4-5zm0-5zm10-15zm12 34zm0 6zm-1 1z"/><path stroke="#f2bfc0" stroke-width="5.00" d="M445 502zm1 4zm-17 8zm-9 9zm-5 15zm10 7zm4-4zm19-7zm9-7zm13-5zm4 8zm12-3zm-1-3zm-15 20zm-15 10zm-13 4zm13 26zm4 4zm-6 8zm-3-5zm20-4zm3 8zm2 3zm4-3zm11 7zm-2 14zm-6 5zm-5 6zm-4 7zm-7-18zm-21 16zm3 6zm-14-4zm-1-23zm-12 0zm4-21zm1-2zm-23-14zm-10-5zm-1-9zm15 1zm-21-30zm-20 43zm-16-3zm6 17zm7 14zm14-1zm7 12zm1 10zm3 7zm2 7zm-3 15zm9 0zm-2 15zm9 4zm9 0zm20-13zm19 4zm23 9zm5-4zm0-12zm6-88z"/><path stroke="#eb9fa1" stroke-width="5.00" d="M453 500zm-2 2zm15 14zm-4 6zm-2 3zm-2 3zm10-3zm7 6zm8-12zm21 19zm1 3zm-12 24zm-11 2zm11 14zm-33 27zm-5 8zm-18-7zm-4-8zm-10-5zm-16-18zm-11-7zm-1 2zm-5-4zm7 22zm-14 13zm-25 12zm13 21zm7 3zm4-3zm4 0zm25-11zm16 21zm8-3zm0-3zm17 0zm1-5zm0 18zm0 11zm23-26zm0-18zm-33-44zm-21-13zm-17-16zm-4-5zm-34 9zm-10 11zm-16 28z"/><path stroke="#8274c4" stroke-width="5.00" d="M447 473zm3 0zm3 7zm13 40zm20 0zm-9 25zm28-2zm-19 29zm-69 10zm1 6zm-35 25zm-9-26zm3-17zm-20 0zm3-12zm79 92zm98-14zm18 2zm14-21zm4 0zm1-2zm7 4z"/><path stroke="#332d9c" stroke-width="5.00" d="M456 473zm20 53zm-70 18zm-49 12zm6 53zm30-13zm3 20zm10 5zm-31 33zm15 13zm76-17zm81-6zm6 0zm5 0zm1 0zm-6-7zm6-2zm7-8zm-2-9zm10-1z"/><path stroke="#c3bae3" stroke-width="5.00" d="M455 472zm-3 2zm7-1zm-18 48zm-13-4zm-30-2zm-4 22zm-5 22zm27-8zm6 15zm-10 11zm-27 17zm-10 11zm7 13zm9-3zm-8 20zm57 17zm38-11zm-5-43zm-12-36zm-12-2zm-5-9zm28-9zm17-26zm18 30zm69 59zm-15 42zm-15-8zm-113-36zm-74-44z"/><path stroke="#ffffff" stroke-width="5.00" d="M453 475zm-14 20zm6 11zm7 0zm2-6zm11 24zm1 2zm-3 7zm-5-3zm-15-2zm-5-7zm-4 1zm-9 2zm-12-18zm-16 16zm17 23zm-12 7zm-8 1zm-13 19zm-5 4zm-3 1zm-23 8zm-3-1zm4 6zm-5-13zm12 38zm19-6zm4-9zm13-2zm3-12zm0-2zm7-7zm6 2zm12-3zm10 11zm17-15zm-8-11zm-9-8zm9-11zm32-7zm2 2zm1 21zm4 13zm-4 25zm0 1zm-18 9zm-3-2zm2-15zm-2-1zm9 45zm-10 7zm-11-3zm-4 4zm-4 8zm-35-6zm-7 22zm17-45zm93-8zm50 32zm-51-94zm-2-17zm-3-23zm-17 2z"/><path stroke="#0c0a88" stroke-width="5.00" d="M401 617zm137 20zm10 11zm10-6zm1 3zm1 1zm-2-8zm14-20zm5 0z"/><path stroke="#d74043" stroke-width="5.00" d="M444 505zm21 16zm7-13zm15 15zm-8 12zm-12 2zm-6 14zm4 4zm5 24zm3 16zm5 2zm8 0zm12 3zm1 0zm-3-31zm-3-23zm-61 8zm-4-4zm-4-13zm-5 0zm-23 15zm9 20zm-2 10zm8 1zm7-15zm9 2zm0-1zm1-5zm21 31zm11 13zm6-7zm-21 12zm0 20zm-5 2zm-5 14zm-9-6zm-23-8zm-10 7zm2 3zm-7-12zm20-13zm14-10zm36 44zm4 0zm-101-36zm2-18z"/><path stroke="#a597d5" stroke-width="5.00" d="M451 460zm3 13zm-2 6zm33 35zm-10 16zm15 20zm-57 17zm-25 19zm12 15zm-10 13zm29-4zm31 10zm11-6zm-17 60zm-69-27zm-4 6zm-14-19zm-15-26zm2-4zm-18-6zm22-13zm8-3zm11-10zm8-1zm-2-23zm-28 8zm-14 14zm66-48zm145 96zm2 1zm10-5zm1-3zm-1-1zm0-2zm1-4zm2 12zm-17 16zm-5 15z"/><path stroke="#dd6063" stroke-width="5.00" d="M454 499zm-9 8zm-2 17zm-10 2zm2 4zm-13-5zm2-6zm2-8zm1-6zm36 5zm7-1zm7-2zm1 13zm-2 8zm-3 1zm1 26zm10 5zm-1 10zm-31-16zm-5 13zm-25 13zm-11 14zm13 15zm16 1zm-8 18zm11 6zm16 6zm17-4zm-1 37zm-34-11zm-22-31zm-10 5zm-10 15zm-7 0zm-4 6zm-6-17zm1-4zm-5-7zm11-9zm9-6zm5-1zm0 6zm-8-14zm-14-6zm0-6zm-11-5zm-12-21zm9-4zm22 5zm3 7zm27-27zm8-5zm-19-3z"/><path stroke="#f8dfe0" stroke-width="5.00" d="M439 511zm-6 1zm-10 4zm-20 16zm-6 14zm-3 5zm0 17zm14-3zm5 7zm8-8zm3 19zm1 3zm17 1zm0 0zm12 4zm15 1zm-1 5zm0 6zm-4 6zm-11 10zm-15 13zm14 7zm11 17zm-47-3zm-14 2zm-12 10zm28-33zm-4-9zm13-14zm7 2zm-35-2zm-24-9zm-21 2zm-11-15zm0-5zm14-9zm12-33zm72 27zm13-7zm17-7zm1-16zm-15-2zm-6-1zm-4 2zm38-15zm7 31zm-8 13zm-1 29zm12 11zm-6 8z"/><path stroke="#d02024" stroke-width="5.00" d="M439 498zm2 2zm8 1zm6 0zm12 3zm5 1zm10 0zm8 5zm-3 11zm-5-1zm-5 0zm-6 0zm-4-4zm0 8zm-6 10zm-12-4zm0-1zm-9-2zm-3-11zm-5-1zm-2 5zm-9 0zm-2 1zm2 12zm-4 6zm1 4zm-9 4zm-6 7zm-5-3zm-13-7zm14-9zm29 2zm6 19zm7 3zm8 6zm-3 9zm4 1zm11-8zm2 2zm6-12zm9-10zm9 5zm2-3zm9 0zm3-14zm-13 2zm-3-1zm-1-5zm-5-1zm-1 3zm-3 1zm0 0zm-25 13zm30 21zm14-4zm2 13zm-1 2zm-9 16zm-2 2zm-4 1zm1 2zm8 8zm4 1zm-9 5zm3 4zm-12 14zm2 8zm-12 7zm-14-6zm-1 0zm-4-5zm3-8zm-1-2zm-6 0zm-9-8zm-9-13zm3-2zm2-10zm-1-3zm-11 27zm-19-8zm-3 5zm-9-14zm-2-3zm-1-6zm1 0zm-2-10zm16 3zm-1-12zm-33-13zm-8 11zm22 32zm8 28zm-12 11zm-6-8zm22 18zm5 2zm4-11zm-9 27zm41-20zm7-2zm1 3zm8-1zm0 3zm2 3zm22 14zm-11-45zm-2-8zm0-8zm-2-4zm7 2zm0 0zm1 2zm3-5zm35-6z"/><path stroke="#5b51b0" stroke-width="5.00" d="M446 525zm-1 42zm-13 2zm-12-6zm-39 2zm-12 22zm12 8zm-3-60zm94 46zm-13 23zm-17 42zm2 13zm-30-6zm133-10zm4-3zm11 8zm0-18zm18-12z"/><path stroke="#e1dcf1" stroke-width="5.00" d="M457 468zm0 4zm4 0zm-8 3zm-3-2zm-6 25zm0 27zm-4 1zm-14-5zm-10 14zm-7 10zm-20 3zm-3 22zm-10 7zm15 11zm-4 14zm-5 6zm-4-5zm1-1zm-16-1zm-11-6zm8 21zm3 1zm11 10zm5 2zm8 7zm9-9zm1 0zm11 4zm21 1zm6-3zm7 8zm-10 5zm-7-29zm-16-7zm5-14zm11 3zm0-17zm1-10zm-17 7zm-51-3zm36 77zm68 26zm18-21zm-4-25zm-1-9zm-14-2zm0-2zm25-43zm0-16zm5-5zm-24 10zm13-36zm97 81zm-36 32z"/><path stroke="#e1dcf1" stroke-width="5.00" d="M456 473zm-2 0zm-2 1zm1 4zm0 2zm10 25zm-1 6zm-9 3zm8 11zm-14 2zm2 23zm9 0zm-7 14zm-10-8zm-11-4zm-9-8zm-18-3zm-17-5zm-11 14zm-4 14zm-1 4zm1 4zm2 5zm-3 9zm3 3zm1 1zm10 3zm7 8zm5 11zm5 13zm12 0zm4-5zm5 8zm8 13zm15 12zm10 0zm3 2zm7-8zm-13-7zm-2-2zm1-19zm0-23zm-9-11zm0-12zm-17 13zm-7-2zm-5-9zm3-2zm-20 10zm-11-14zm6-4zm-33 5zm-12 4zm1 18zm12 5zm14 5zm1 2zm1-1zm-13 13zm9 19zm1 2zm2 2zm13-9zm7 13zm3 11zm-11 2zm44 7zm31 15zm-34-66zm-2-4zm4-6zm4 1zm58 7zm1-13zm49 41zm22 11zm5-30zm-87-90zm5-15z"/><path stroke="#e48082" stroke-width="5.00" d="M464 508zm-3 7zm-21-5zm-10 14zm-10-13zm-11 30zm-9-1zm17 10zm16 12zm0 5zm-11 2zm-13 6zm0 9zm-4 3zm-7-5zm-3-3zm-9-7zm-6 6zm-23-2zm65 28zm10 1zm-1-9zm25-7zm-7-12zm7-4zm17-4zm10-5zm4-8zm2-3zm1-5zm1-5zm-4-9zm0-1zm6-13zm-1-7zm9 17zm-38 17zm-14 3zm-8-3zm15 60zm8 7zm6 6zm16-11zm4-15zm-4-1zm-40 43zm-7-4zm6 21zm-9 21zm36-11zm-60-35z"/><path stroke="#eb9fa1" stroke-width="5.00" d="M448 498zm-3 27zm-11 1zm-3 7zm-8 8zm-8 9zm5 7zm6 8zm-4 2zm8 3zm18-4zm13 3zm2 1zm10-10zm-1-8zm-9 1zm-14-2zm36 13zm0-28zm10-20zm13 29zm-39 43zm-5 19zm-15 16zm-12 20zm-3 3zm-7-9zm-11-12zm-8 13zm-7 8zm-7 1zm-4 1zm-2-4zm-6-6zm-3 11zm16 16zm4-38zm3-10zm-21-18zm-8-3zm-9 8zm6-23zm-7-11zm-12 1zm14-20zm30-4zm12-1zm-12 36zm56 76zm11-2zm5 14zm4-1zm8-9zm-19 16zm29-68z"/><path stroke="#d02024" stroke-width="5.00" d="M487 505zm-1 2zm7 4zm-6 13zm-9 6zm-2 4zm3 6zm6-5zm3 12zm5 6zm-1 2zm7-8zm5-1zm1-3zm-4-8zm9 14zm-7 5zm-23 16zm-8-9zm-26-13zm-2-3zm-2 6zm2 2zm-2 2zm-10-1zm-1-10zm-9-2zm-8-2zm-8-6zm-11-3zm19-9zm24 7zm1-2zm3-5zm11-12zm-2-4zm-19 59zm-1 3zm-6 11zm-6 3zm-4-1zm3-5zm0-10zm7 24zm7 1zm0 2zm3 10zm2 5zm-4 9zm-5-6zm-6 7zm-4 8zm24 3zm4 4zm5-9zm12-8zm-4-12zm8-4zm4-1zm-3-5zm20 6zm4 0zm2 6zm0 1zm0 1zm-1-24zm-18 52zm-17 15zm13 9zm-7 6zm1 3zm5 2zm-42-20zm-9 12zm-32-6zm-8-12zm3-6zm-19-31zm10-5zm14-2zm-4-28zm5-5zm1-2zm1 5zm3-9zm-22-30zm46 66zm5 1z"/><path stroke="#0c0a88" stroke-width="5.00" d="M450 549zm7 17zm13 24zm26 9zm40 38zm11 1zm8 0zm1 1zm4-6zm-7 12zm11 5zm-112 13zm-62-2zm-24-45z"/><path stroke="#d74043" stroke-width="5.00" d="M479 514zm10 4zm4 2zm-12 9zm3 4zm-11-9zm-5-3zm-6 1zm-32-5zm-5 0zm-22 12zm-6 5zm12 28zm6 5zm1 4zm-1 10zm14-1zm0 6zm2 7zm0 15zm9 15zm-4 24zm34 21zm6-12zm-3-32zm13-12zm7-15zm-11-4zm-5 2zm-14-27zm-8-4zm3-10zm17 2zm10-4zm1 4zm6-8zm12 1zm2-5zm-65 26zm-42 12zm-13-8zm5-9zm-22-11zm6 31zm-5 32z"/><path stroke="#8274c4" stroke-width="5.00" d="M451 461zm6 11zm-2 1zm-42 78zm0 22zm8 23zm-36-22zm-6 3zm-9-21zm-5 0zm-10 3zm-9 11zm2 12zm35-46zm94 42zm16 25zm-21 25zm-27 22zm-47-7zm139-6zm16 5zm8-9zm1-2zm14-22z"/><path stroke="#332d9c" stroke-width="5.00" d="M450 496zm-13 30zm-2 5zm-9 18zm-30 17zm-14 7zm33 11zm5-1zm65-6zm63 64zm0 3zm3-5zm5-2zm14-14zm2-4zm0-2zm6 2zm-4-7zm-144 37z"/><path stroke="#f2bfc0" stroke-width="5.00" d="M457 474zm27 35zm11 4zm6 23zm-16 25zm-6 19zm12 0zm-11 19zm3 6zm9-1zm-37 3zm-20 5zm-9-12zm-24 11zm5 23zm20 22zm6 4zm12-8zm0-9zm10 14zm16 10zm-25-95zm-7-2zm6-6zm2-2zm16-6zm-34-16zm-3-1zm0-10zm2-6zm-24 17zm-7 12zm-3 13zm-5 6zm15 6zm-33 5zm-2 0zm-16 9zm-10 0zm3-14zm12-11zm13-19zm14-4zm7-11zm-13 68zm-11 5zm-7-2zm12 34z"/><path stroke="#a597d5" stroke-width="5.00" d="M456 467zm3 5zm-5 5zm-7-3zm-1-1zm-1 0zm29 45zm8 4zm-8 11zm20 16zm-53-23zm-42-10zm-16 19zm-4 7zm3 8zm-15 2zm26 12zm25 4zm-30 21zm-9 12zm-4 1zm-1-3zm-6-3zm-2 5zm1 1zm-4 2zm-8 0zm-7-9zm0-18zm5 38zm38 8zm2-10zm16 18zm18-20zm47 55zm67-27zm9-1zm17-13zm0-1zm4-3zm-5-3z"/><path stroke="#ffffff" stroke-width="5.00" d="M453 473zm-2 1zm-3 0zm-2 1zm1 25zm-5 8zm-2 14zm-16-11zm-15 38zm-13-7zm13 23zm-17 5zm-18 3zm-14-8zm10-13zm-23 29zm2 9zm15 19zm10 6zm1 21zm29-17zm14 11zm8 15zm4 2zm1 17zm25-7zm7 6zm13-10zm-22-13zm11-25zm8-14zm18-3zm-13-26zm-14-10zm-8 4zm-3 3zm-6-8zm2-9zm18-1zm5 5zm4-11zm7-12zm0-7zm8 2zm5-7zm8 24zm-1 6zm-13 1zm-26-32zm-24 53zm-7-3zm-17 22zm9 13zm32-13z"/><path stroke="#dd6063" stroke-width="5.00" d="M455 501zm10 13zm0 3zm14-6zm-17 38zm-17 14zm-22 1zm-5-2zm-4-9zm1-13zm11 1zm-26-10zm-4 32zm23 15zm-1 15zm-6 18zm-3 10zm-8 2zm-10 10zm5 9zm-14 12zm3-30zm0-1zm-5-1zm-7-7zm18-20zm2-3zm-24-19zm-6-2zm-16-8zm21-25zm74 48zm13 16zm10-14zm13 4zm7 11zm7-1zm-21 19zm8 7zm-15 1zm-20 5zm2 8zm-2 1zm-10-16zm-3 1zm50-59z"/><path stroke="#c3bae3" stroke-width="5.00" d="M451 460zm1 14zm1 7zm-4 21zm1 21zm3 23zm20-19zm12-9zm-6-11zm18 23zm-26 50zm-31-1zm-15 3zm-15-6zm-16-9zm-19 1zm3 12zm-1 5zm-4-3zm-6-3zm-18-2zm-4 6zm5 12zm17 7zm6 32zm29 14zm14-15zm10-29zm13 0zm8 55zm113-28zm8-7zm4-4zm-208-68z"/><path stroke="#f8dfe0" stroke-width="5.00" d="M452 473zm17 31zm-5 8zm-1 6zm2 7zm13 2zm2 5zm3 2zm3-18zm4-2zm11 5zm7 23zm-24 16zm-4 22zm-13 6zm-8-5zm-5 6zm-2-2zm-6 6zm-5 19zm11 14zm-10 5zm-1 1zm6 28zm19 18zm15-56zm12-3zm4-3zm-9-9zm0-3zm-23 3zm-29-41zm3-18zm13-1zm-4-12zm16 6zm-23-22zm-15-1zm-5 20zm-24-18zm-6 13zm-6 11zm9 9zm2 10zm-5 5zm-13 11zm-2 4zm-10 1zm-5 12zm-10 4zm1 5zm9 13zm3 4zm2-5zm3-3zm2-3zm7-3zm5 9zm3 13zm-10 11zm19 13zm15-84zm-45-4zm-8-14zm11-7zm176 96zm4-1zm10-3z"/><path stroke="#5b51b0" stroke-width="5.00" d="M443 548zm-6 16zm-34 16zm-20-5zm9-14zm-26 24zm-17-13zm34 27zm6 18zm-6 7zm-22-10zm67-11zm1 15zm2 14zm-1 10zm0 19zm31-59zm13-21zm10-12zm-8-10zm99 48zm-4 8zm1 1zm-2 1zm2 3zm5-4zm1 3zm2 1zm-20 12z"/><path stroke="#332d9c" stroke-width="5.00" d="M456 469zm0 6zm-9 26zm-3 12zm-27 4zm-22 15zm-13 14zm-22 6zm19 23zm-4 24zm-12 7zm21 20zm22-49zm13 5zm56-1zm16 3zm-1 20zm-39 32zm40-88zm86 55zm-2 12zm-3 2zm-3 3zm1 3zm-7 5zm-13 14zm13 9z"/><path stroke="#f8dfe0" stroke-width="5.00" d="M454 476zm-1 42zm-18 15zm-3-3zm-17 28zm20 13zm4 5zm7 10zm10 16zm5-2zm11-9zm5 5zm12 7zm5 7zm-22 24zm-20-12zm-23 11zm7 17zm13-1zm27 14zm-12 14zm-51-26zm-25-28zm-4-21zm9-16zm-3-11zm-8-2zm-12 11zm-16-7zm17-20zm13-12zm11-16zm2-5zm55 39zm5-2zm19-25zm10 0zm5-13zm13 23zm-4 5zm-7 18zm0 2zm-80 35zm2 6zm-47 3zm-7 0zm-1-13zm194 40z"/><path stroke="#dd6063" stroke-width="5.00" d="M451 499zm1 1zm-6 3zm-11 3zm5 20zm16-1zm14 14zm-9 18zm-13 15zm-8 0zm-12-3zm-13-12zm-11-27zm-39 25zm-19 24zm31 25zm10 7zm-2 6zm12-4zm-7-18zm4-10zm24 5zm9 4zm-3 11zm-4 9zm3 5zm20 5zm2 5zm-1 8zm12 3zm10 7zm-13 12zm-27-19zm-19 8zm-8 4zm-11 3zm-1 14zm4-33zm-16-4zm94-10zm3 8zm23-18zm0-26zm0-13zm-4-7zm4-19zm10-15zm-20-11zm0-2z"/><path stroke="#d02024" stroke-width="5.00" d="M434 500zm-7 15zm7 16zm4 2zm1 1zm10 9zm-8 5zm-1 7zm2 9zm-1 3zm3 5zm0 3zm-7-1zm-8 16zm-5 2zm-6-7zm-5 9zm5 16zm-2 3zm9 5zm9 3zm-2-15zm3 0zm17-8zm6 7zm4 10zm5-14zm1-1zm-4-4zm5-3zm-5-6zm-4 0zm5-10zm7 7zm5 14zm-1 11zm11-5zm3 2zm1 3zm5-5zm1-3zm-12-27zm0-10zm-2 1zm1-4zm8 5zm4-18zm6 0zm6-10zm-20-12zm-7 1zm1-4zm-2 0zm2-3zm6-2zm7-1zm-24-5zm-7 1zm-4 6zm4 2zm3-2zm4 6zm-6 9zm-6 0zm12 23zm1-1zm-46-8zm-8-1zm-1-1zm-12 3zm-8-2zm-6 7zm4 6zm-7 5zm8 4zm19 5zm-25 14zm-10 8zm-4 4zm-2 3zm-4 5zm-18-8zm-1 1zm15-30zm-13-16zm52-20zm-7-19zm72-12zm6 133zm-5 27zm-21-5zm0-4zm-10 12zm7-28zm-28-12zm-11 14zm-23 26zm-11-30zm-2-3z"/><path stroke="#8274c4" stroke-width="5.00" d="M456 468zm0 0zm0 4zm0 2zm-4 0zm40 34zm-3 12zm-3 1zm-11 19zm-2 4zm31 1zm-86-22zm-24 44zm-25 5zm6 12zm-1 4zm15 8zm-39-17zm5-9zm2-7zm88 68zm8 0zm-5 18zm85-12zm6 1zm4 0zm2-1zm7 7zm14-16zm0-1zm8-8zm-1-3zm2-4z"/><path stroke="#0c0a88" stroke-width="5.00" d="M397 548zm38 4zm-76 13zm30 61zm-7 23zm152-11zm16 4zm0 2zm2 2zm0 1zm7-4zm-5-5zm4-4zm8-15zm7-2z"/><path stroke="#e1dcf1" stroke-width="5.00" d="M456 467zm-4 6zm1 1zm-2 1zm2 3zm0 2zm2 1zm-7 22zm7 2zm9 0zm-4 18zm4 1zm11 8zm2 10zm1 9zm-2 17zm-18 5zm-19 11zm-7 3zm-14-13zm0-5zm2-2zm-8 8zm-16 3zm-1-5zm-5-1zm1-5zm-2-4zm-18-5zm-12-5zm-3 15zm-4-1zm11 3zm-14 14zm2 12zm12-4zm16 5zm4-2zm-1-14zm10 32zm7 4zm-12 4zm-17-2zm-8-4zm-2 4zm14 19zm27 13zm-4 13zm38-32zm5-5zm5 15zm4 6zm11 9zm-8 7zm23-8zm-13-34zm-7-2zm11-17zm-1-5zm12 3zm20-39zm6-24zm-6-10zm-5-14zm-44 39zm-18-20zm-34-2zm170 95zm16-6zm-20 28z"/><path stroke="#ffffff" stroke-width="5.00" d="M476 504zm10 2zm-2 5zm10-4zm5 17zm2 3zm-9 4zm1 3zm-4 10zm-7-9zm-5 3zm-14-15zm-2-3zm-29 2zm0-13zm-14 31zm10 5zm14 7zm13 7zm13-2zm-6 17zm-9 2zm-2 6zm-11 5zm0-12zm-20 1zm-6 1zm-1 3zm-4 1zm0-4zm9 9zm11 9zm-1 15zm21 15zm-5 9zm2 2zm14 16zm19 3zm-3 15zm-3-39zm-7-14zm20-12zm7-10zm0-8zm2-15zm-9-15zm-80-26zm-4 7zm-3 7zm-5 18zm-6-2zm4 10zm-2 2zm-6 0zm-13-2zm-13-4zm-8 6zm-4 13zm16 9zm13 13zm7-6zm-15 16zm26 27zm2 2zm-3 22zm34-26zm-58-106zm181 101zm20-15z"/><path stroke="#a597d5" stroke-width="5.00" d="M459 471zm1 2zm-5 0zm-1 1zm-1 2zm19 56zm6 7zm20 38zm-55 5zm-23-20zm-4 2zm-15-17zm-17 1zm-10 0zm0-4zm-5 10zm20 7zm-7 12zm-10 13zm-4 18zm-11-5zm-10 1zm1-10zm35 40zm13-15zm46 25zm4 1zm-3 7zm25-4zm84 0zm0 0zm5-3zm0-1zm5-9zm8-4zm3-8zm-2-2zm-3 1zm-141-84zm-28-13zm-12 2z"/><path stroke="#c3bae3" stroke-width="5.00" d="M489 506zm-12 37zm23 7zm-13 27zm4 35zm1 2zm-4-1zm-29-12zm-41-2zm-2-16zm7-3zm-27 2zm-2 4zm-5 8zm-4 15zm-22 8zm-1-13zm7-17zm4-7zm7-9zm-9-8zm12-17zm-6-4zm-2-2zm6-1zm10 2zm9-4zm-1 15zm31-30zm25 8zm-47 101zm-4 15zm-23-1zm-1-2zm22 31zm52-6zm2-16zm92-8zm8-6zm7-10zm-214-41zm-1-3zm-1-18z"/><path stroke="#5b51b0" stroke-width="5.00" d="M459 471zm-6 31zm-9 24zm-45 24zm10 18zm-59-5zm-2 5zm7 37zm23 26zm50 29zm60-46zm0-4zm9 4zm53 24zm2 7zm1 0zm1 2zm8-17zm10-16z"/><path stroke="#e48082" stroke-width="5.00" d="M451 499zm-3 4zm2 1zm-14 8zm7 14zm2 17zm-1 3zm-2 0zm9 3zm-4 16zm-13 6zm-11-7zm-4 8zm-12 4zm-3-12zm6-6zm-8-13zm-34-6zm-4 28zm7 15zm12 9zm13-6zm-12-11zm-31 20zm17 21zm11-4zm6 6zm13-1zm-2 9zm2 1zm9 5zm4-12zm14-15zm4-13zm18-9zm3 10zm0 2zm29-3zm0-31zm-2-1zm-7-22zm-7-8zm-6 5zm13-22zm18-2zm12 13zm-51 101zm5 16zm-2 15zm14 15zm-39-15zm-4-10zm10-7zm-3-8zm-29 22zm-9-10zm-4-10zm-6-1zm-2 27zm8 4z"/><path stroke="#eb9fa1" stroke-width="5.00" d="M472 508zm-10 12zm6 6zm11-2zm15-11zm4 25zm-31 13zm-27 2zm-7-5zm-20-5zm-6-4zm-7 1zm-13 5zm-2 19zm2 5zm9 17zm-5 5zm2 8zm-3 8zm8 8zm-10 5zm18 13zm20-14zm10-15zm13-6zm4 6zm8-1zm-11 19zm-3 14zm-1 9zm-2 4zm-15 2zm-25 13zm-29-24zm0-1zm-24-46zm-4-14zm18 2zm52-1zm3 1zm-2 15zm0-30zm31 7zm34 4zm-33-55zm-15 2zm-14-2zm9-12zm6-1zm32 137zm-12 32z"/><path stroke="#d74043" stroke-width="5.00" d="M448 506zm-4 17zm-5 3zm-7 5zm-5 4zm-8 3zm-8 8zm-13 6zm26 13zm9 4zm-11 13zm8 12zm12-2zm10-4zm8-4zm1-16zm9-15zm-5-18zm-9 0zm-17 8zm9 11zm34 16zm23-29zm-4-7zm-11-1zm-5-1zm-3-1zm7-8zm-10-15zm-45 121zm-6 4zm0 14zm5 9zm-45 1zm5-44z"/><path stroke="#f2bfc0" stroke-width="5.00" d="M453 471zm-2 28zm-22 7zm-10 18zm-22 7zm-14 1zm4 28zm1 8zm3 1zm6-2zm10-5zm7 6zm1 5zm2 8zm1 11zm-15-15zm-12 12zm2 7zm-14-1zm1 9zm-15 0zm-2-1zm-3 2zm-5-3zm-1-13zm-9 4zm24-11zm-1-9zm-3-3zm8-6zm14 55zm46 12zm7-4zm9 9zm6 38zm80-36zm14 5zm6-3zm-63-47zm-22-7zm-5-12zm-5-15zm8-8zm2-14zm8-4zm-1-6zm5-9zm4 5zm-20-5zm-22 31zm-2 3zm3 5zm-7 1zm-3-1zm1 6zm56-14z"/></g><path d="M215.2 245.5C216.7 245.1 218.0 245.0 219.7 245.0C221.3 244.9 223.1 245.1 224.9 245.3C226.8 245.6 228.9 246.1 230.9 246.4C232.9 246.7 234.9 246.9 236.8 247.2C238.8 247.5 240.7 247.7 242.5 248.3C244.2 248.8 246.1 249.5 247.6 250.6C249.0 251.7 250.3 253.2 251.2 254.8C252.2 256.4 252.5 258.1 253.3 260.0C254.0 261.9 255.2 264.2 255.9 266.3C256.6 268.4 257.4 270.6 257.5 272.5C257.6 274.5 257.1 276.2 256.4 277.8C255.7 279.4 254.0 280.4 253.3 281.9C252.5 283.5 251.9 285.5 251.7 287.2C251.6 288.9 251.8 290.5 252.2 292.4C252.7 294.3 253.6 296.7 254.4 298.7C255.1 300.6 256.6 302.5 257.0 303.9C257.3 305.3 257.1 306.2 256.4 307.0C255.7 307.9 254.2 308.6 252.8 309.1C251.3 309.7 249.1 309.6 247.6 310.2C246.0 310.7 244.3 311.2 243.3 312.3C242.4 313.3 242.0 315.0 241.8 316.4C241.6 317.9 242.0 319.3 242.2 320.7C242.3 322.2 242.5 323.3 242.7 325.1C242.9 327.0 243.3 329.9 243.2 331.9C243.0 333.8 242.7 335.7 241.9 336.9C241.1 338.2 240.0 338.7 238.5 339.4C236.9 340.1 234.7 340.8 232.6 341.1C230.5 341.5 228.4 341.7 225.9 341.5C223.4 341.4 220.3 340.5 217.5 340.3C214.7 340.0 211.9 339.9 209.1 339.9C206.3 339.8 203.1 340.1 200.7 340.1C198.3 340.1 196.5 340.5 194.8 339.9C193.1 339.3 191.7 337.7 190.5 336.5C189.4 335.3 188.7 333.9 188.1 332.7C187.4 331.5 187.1 330.9 186.4 329.4C185.7 327.8 184.8 325.1 184.0 323.3C183.1 321.5 182.5 320.0 181.5 318.4C180.5 316.7 179.1 315.3 177.9 313.5C176.7 311.7 175.5 309.5 174.2 307.4C173.0 305.4 171.5 303.1 170.5 301.3C169.5 299.4 168.4 297.9 168.1 296.4C167.8 294.9 168.3 293.6 168.7 292.1C169.1 290.7 170.1 289.4 170.5 287.8C170.9 286.3 170.8 284.6 171.2 283.0C171.5 281.4 171.5 279.7 172.4 278.1C173.3 276.5 175.3 274.8 176.7 273.2C178.0 271.5 179.3 269.6 180.3 268.3C181.3 267.0 181.3 266.5 182.7 265.2C184.2 264.0 187.0 262.4 188.9 261.0C190.8 259.5 192.3 258.0 194.3 256.7C196.3 255.5 199.0 254.6 201.0 253.5C203.0 252.5 204.6 251.6 206.2 250.6C207.9 249.5 209.2 248.0 210.7 247.2C212.2 246.3 213.7 245.8 215.2 245.5Z" fill="none" stroke="#1fa85a" stroke-width="1.45" stroke-dasharray="2.8 2"/><path d="M261.8 318.6C262.0 317.9 262.8 317.0 264.1 316.6C265.4 316.3 268.0 317.1 269.7 316.6C271.3 316.2 272.8 315.0 274.1 313.8C275.4 312.6 276.3 311.2 277.5 309.6C278.7 308.0 280.1 305.6 281.4 304.0C282.7 302.5 284.0 301.2 285.3 300.4C286.6 299.5 288.1 298.9 289.3 299.0C290.5 299.0 291.9 299.5 292.6 300.6C293.3 301.8 293.5 304.0 293.5 305.7C293.5 307.4 293.2 309.3 292.6 310.7C292.0 312.2 290.8 313.5 289.8 314.7C288.8 315.8 287.3 316.4 286.5 317.5C285.7 318.5 285.1 319.5 284.8 320.9C284.5 322.2 285.2 324.1 284.8 325.3C284.4 326.5 283.6 327.6 282.6 328.1C281.5 328.6 280.1 328.5 278.6 328.1C277.1 327.7 275.4 326.7 273.6 325.9C271.7 325.0 269.2 323.9 267.4 323.1C265.6 322.3 263.9 321.6 262.9 320.9C262.0 320.1 261.7 319.3 261.8 318.6Z" fill="none" stroke="#e8202a" stroke-width="1.45" stroke-dasharray="2.8 2"/><circle cx="226.6" cy="235.5" r="7.7" fill="none" stroke="#f0643a" stroke-width="1.45" stroke-dasharray="2.8 2"/><text x="170.0" y="234.0" font-size="8.6" font-style="italic" fill="#111">Cx3cr1</text><linearGradient id="g1" x1="0" y1="0" x2="0" y2="1"><stop offset="0.00" stop-color="#d02024"/><stop offset="0.10" stop-color="#d94d50"/><stop offset="0.20" stop-color="#e3797c"/><stop offset="0.30" stop-color="#eca6a7"/><stop offset="0.40" stop-color="#f6d2d3"/><stop offset="0.50" stop-color="#ffffff"/><stop offset="0.60" stop-color="#d5cfeb"/><stop offset="0.70" stop-color="#ab9ed8"/><stop offset="0.80" stop-color="#7a6dc0"/><stop offset="0.90" stop-color="#433ca4"/><stop offset="1.00" stop-color="#0c0a88"/></linearGradient><rect x="286.9" y="229.4" width="8.3" height="24.6" fill="url(#g1)"/><text x="282.1" y="232.4" font-size="8.2" text-anchor="end" fill="#111">20</text><path d="M286.9 229.4h1.6M293.6 229.4h1.6" stroke="#333" stroke-width="0.5"/><text x="282.1" y="244.7" font-size="8.2" text-anchor="end" fill="#111">10</text><path d="M286.9 241.7h1.6M293.6 241.7h1.6" stroke="#333" stroke-width="0.5"/><text x="282.1" y="257.0" font-size="8.2" text-anchor="end" fill="#111">0</text><path d="M286.9 254.0h1.6M293.6 254.0h1.6" stroke="#333" stroke-width="0.5"/><rect x="304.45" y="223.4" width="135.0" height="121.4" rx="1" fill="none" stroke="#a0a0a0" stroke-width="1.1"/><g transform="scale(0.5)" stroke-linecap="round" fill="none"><path stroke="#5b51b0" stroke-width="5.00" d="M743 510zm-3 15zm-19-4zm-15 20zm-43-6zm-2 30zm-25 23zm26 14zm31 23zm22 7zm51-39zm-12-38zm88 63zm-9 26z"/><path stroke="#c3bae3" stroke-width="5.00" d="M734 473zm-3 26zm-7 26zm23-1zm5 13zm13-16zm-1 48zm-22 5zm-20-22zm-9 49zm-60-19zm-10-12zm-18 13zm6 15zm4 7zm30-63zm-2-6zm13-5zm17-25zm162 101zm-2 10zm-13 14zm1 2zm-8 11zm-5-3z"/><path stroke="#eb9fa1" stroke-width="5.00" d="M731 460zm0 15zm-3-1zm13-2zm25 51zm19 18zm-41 21zm-5 19zm-16-4zm-10-7zm-8 12zm-5-1zm-3 0zm-9 5zm-16-11zm-2 0zm-8 6zm-19 20zm34 26zm9 6zm10-8zm18-4zm0 8zm10 0zm-9 12zm-9 2zm-23 28zm53 7zm6-3zm17-8zm5-53zm-26-9zm-39-57zm13-17zm6-2zm-53-3zm173 112zm19-20z"/><path stroke="#d02024" stroke-width="5.00" d="M734 499zm1 2zm9 7zm-2 3zm4 7zm-2 2zm-2 0zm1 3zm7-1zm7 5zm1 6zm-3 1zm-3-2zm-7 2zm-2-1zm1 6zm6 5zm-7 3zm5 4zm3 2zm2 7zm8 0zm4 1zm0 3zm-3 6zm4 2zm0 1zm-1 4zm-5 3zm-1 0zm-7 4zm-5 2zm2 8zm9-2zm2 6zm10 4zm0 2zm-1 4zm7-4zm1-3zm2-1zm4 12zm-6 2zm-27 6zm-1 2zm-9 2zm-5-8zm7-1zm2-6zm0-2zm-1-1zm2-1zm2-2zm-8 1zm-6 0zm-1-6zm-1-2zm-1-5zm-4 0zm-6-4zm-9 4zm-2 4zm-5-3zm-1-4zm-5 0zm4-6zm3-3zm0-1zm4 8zm-8 10zm-3 3zm-7-5zm-2 12zm12 5zm3-2zm3 0zm0 2zm5-6zm1-2zm-4-1zm-2 1zm13 7zm1 0zm4 3zm-3 16zm-5 3zm-4-1zm-2-3zm-2 4zm6 6zm5-3zm6 1zm4 2zm2 1zm-6 6zm-3 3zm-5-1zm-3 2zm-9-4zm-13 6zm-11 2zm-3-2zm-5-2zm-1-4zm1-2zm4 0zm1-1zm-8-6zm-1-4zm-2 1zm-1-3zm1 0zm-2-2zm-3-4zm2-1zm2-2zm0-4zm-2 0zm-2-2zm1-2zm-2-5zm-4-5zm-3 0zm0-1zm-2 1zm2 2zm-5 3zm-2 7zm-5-2zm11 2zm6 7zm-2 7zm0 2zm-3 8zm6 6zm7-1zm-2 12zm4 9zm2 4zm3-4zm7 9zm28-11zm10 4zm12-3zm10-8zm1 0zm5-12zm8-8zm-3-2zm2-2zm-28 20zm27 19zm-56-39zm-2 1zm3-6zm-2-7zm-7 0zm-3 14zm-11-19zm-1-1zm-4 1zm2-19zm-9 1zm-1-2zm11-9zm0-1zm3-1zm6-2zm4-4zm5-3zm1 0zm0-3zm-4-7zm0-3zm1-4zm3-7zm2-1zm1 1zm1-1zm0-4zm1-3zm4-1zm2-5zm2 2zm-5-6zm-5 4zm-9 9zm-5-1zm-2-8zm4-7zm-5-14zm18 6zm1 1zm1-2zm3 4zm2-6zm2-3zm2 1zm2 7zm3 2zm4 0zm2 1zm1 0zm3-3zm-1-2zm5 5zm1 7zm9-7zm14-15zm8 2zm3 4zm4 2zm3-4zm-4-2zm-1-3zm-2-6zm10 3zm5 2zm-4 10zm-2 3zm-3 3zm-2 1zm-2 4zm3 2zm-1 3zm3 8zm2 4zm3 1zm4 0zm6-4zm2-1zm4 5zm-9-14zm0-8zm-10 25zm-1 0zm-4 5zm-8-6zm-1-6zm-14 11zm-2 1zm-9-3zm-1-5zm-7 4zm-2-1zm-2 1zm0 2zm2 3zm-4 0zm1 5zm-2 1zm-5 1zm-6 0zm-4 2zm-2-5zm7 7zm8 2zm2 3zm2-4zm2 0zm9 5zm-1 2zm0 5zm7-9zm-3-4zm3-3zm5 1zm4 7zm-6 14zm34-17zm3 6zm-64-23zm-6-5zm8-18zm1-1zm-3 0zm2-8zm-2-13zm-41 45zm0 12zm3 1zm1 4zm-7-3zm0 0zm-3 1zm1 5zm-19-22zm-14 3zm-7 24zm-3 12zm11-2zm0 13zm10 23zm11 29zm40-73zm139 57z"/><path stroke="#e48082" stroke-width="5.00" d="M735 473zm31 33zm-1 13zm0 2zm12 9zm7 8zm1 5zm-6 4zm1 4zm2-1zm-15 2zm9 17zm-15 22zm-5 6zm-10 4zm-5 15zm-16 15zm-3 6zm-11-5zm-9-22zm-34 10zm1 6zm-4-17zm-7-3zm2-10zm-17-4zm-15-2zm-1-24zm20-3zm22-4zm12 2zm-2-16zm-4-12zm8-4zm-6-11zm49 7zm3 18zm-9 36zm46 26zm6-1zm4-5zm-3-4zm9 2zm78 23zm-120 56zm-29-12z"/><path stroke="#8274c4" stroke-width="5.00" d="M645 556zm-4 38zm34-15zm14 2zm10-3zm30-18zm100 83zm4 2zm7-13zm7-7zm3 2zm0-4zm-2-4zm6 0zm3-3z"/><path stroke="#e1dcf1" stroke-width="5.00" d="M737 472zm-11 34zm40 1zm-1 45zm8 1zm-30 0zm4 48zm-49-9zm-31-20zm-10-2zm-8 3zm0 9zm2-24zm-4-6zm8-12zm4 2zm-15 67zm175 29zm7 1zm13-4zm4 14z"/><path stroke="#d74043" stroke-width="5.00" d="M725 473zm44 33zm3 2zm-10 15zm-6 5zm1 14zm15 7zm13-8zm-13 25zm-9 4zm0 7zm5 39zm-30 0zm-5 15zm-9 18zm-14 0zm-37-7zm-18-6zm6-25zm-2-16zm-5-5zm-5-3zm-12 12zm6 7zm25-17zm5 3zm13-15zm1-1zm-10-4zm-11 0zm0-2zm1-25zm-13-1zm-9 7zm27-19zm23 8zm11 8zm4 4zm-7 28zm-6 2zm12 8zm14-8zm-8 24zm30 63zm-80-2zm64-137z"/><path stroke="#f8dfe0" stroke-width="5.00" d="M727 473zm7 3zm-1 2zm3-4zm16 34zm15-3zm1 42zm-1 9zm-44-28zm-15 9zm-30 8zm-4 22zm-18 9zm-18-9zm-9 20zm-2 5zm13 27zm11 16zm8 10zm4-15zm6-13zm55 17zm10 6zm-5-42zm-22-93zm150 98zm-7 14zm-12 17zm-3 4zm1 1zm-3 3z"/><path stroke="#332d9c" stroke-width="5.00" d="M657 542zm81 64zm14 57zm97-40zm2-6zm5-12z"/><path stroke="#a597d5" stroke-width="5.00" d="M635 559zm34 4zm24 17zm12 25zm0 8zm26 23zm-18 24zm-19-7zm-40-49zm10-11zm-11-4zm78-7zm17 18zm67 38zm13 6zm24-25zm2-11z"/><path stroke="#0c0a88" stroke-width="5.00" d="M746 516zm-5 52zm-58 84zm-48-50zm-5-17zm207 56z"/><path stroke="#f2bfc0" stroke-width="5.00" d="M739 471zm-2 3zm-3 0zm16 30zm9 20zm-33 2zm-13-8zm6-7zm-3-2zm-7-3zm2 27zm-6 12zm-7 2zm-9 2zm-3-5zm-13 18zm-4 4zm21 2zm6 3zm-7 4zm12-11zm10 4zm1 1zm9-10zm4 5zm1 8zm3 1zm12-4zm2 0zm4-7zm9-3zm19 13zm-16 23zm-1 2zm-3 1zm10 5zm-20 9zm-26-8zm-8-11zm-17-1zm11 26zm-16 3zm-17-8zm-22 2zm10 26zm10 20zm51-31zm13 38zm-8-120zm-83 22zm-9 7zm-8-3zm11-18z"/><path stroke="#dd6063" stroke-width="5.00" d="M731 461zm1 13zm-6 29zm-9 13zm8 27zm-23 37zm-4 16zm7 12zm25 14zm2 19zm-4 8zm-8 3zm-15 23zm50-8zm3-26zm4-20zm4-24zm-33-1zm-51-44zm-1-5zm-7 6zm-11-7zm3-10zm-15 28zm-5 7zm-9 2zm-2-3zm-7 7zm2 2zm27 6zm10 34zm-24-2zm125-99zm87 94z"/><path stroke="#ffffff" stroke-width="5.00" d="M736 467zm-11 40zm5 16zm-5 2zm13 3zm-13 29zm-13-3zm1-6zm-14 34zm-37-9zm-33 17zm3 13zm18 16zm72 10zm9-10zm-2 29zm26 8zm9-59zm-14-7zm10-22zm53 69zm15 1zm2 0zm5 2zm1-2zm-4 9zm22-35zm1-8zm-178-80z"/><path stroke="#dd6063" stroke-width="5.00" d="M726 475zm1 25zm35 20zm4 1zm3 2zm3-10zm-14 20zm7 3zm-13 25zm-17-2zm-6 6zm-7-19zm-27 27zm-24-6zm-15 14zm-3 15zm-6 6zm-6 1zm0 11zm0 1zm10-6zm13 17zm0 5zm16 12zm-12 14zm2 10zm37-11zm2-5zm18 8zm7-5zm2 3zm15 12zm-5 7zm-5 2zm18-23zm12-57zm-56 5zm-13 1zm1 15zm3 0zm-30-7zm-51-19zm6-22zm14-16zm-8-5zm17 1zm1-1zm3-15zm25-3zm159 98zm4-4z"/><path stroke="#f8dfe0" stroke-width="5.00" d="M733 471zm-1 2zm1 3zm4-4zm2 0zm-14 34zm30 25zm-14 20zm-28 16zm-15 17zm4 15zm-24-15zm-5 2zm-1-26zm-24 13zm-22 4zm1 7zm19 32zm9 16zm74-4zm17 19zm-5-45zm26 2zm47 34zm3-2zm1 1zm11 1zm3 6zm-4 4zm15 3zm3-24zm6-10zm4-8z"/><path stroke="#e48082" stroke-width="5.00" d="M736 468zm4 5zm-8 1zm0 0zm0-1zm-2 0zm14 32zm17 24zm-2 6zm-1 12zm-6 5zm-11-18zm-2 0zm-10 16zm-5-1zm-3-7zm-13 3zm-9-8zm-5 3zm-7-1zm-9-23zm28 5zm-3 43zm-5 10zm2 2zm-10 3zm-7-5zm-25 3zm-5 3zm2 20zm9 2zm14 13zm0 10zm-7-2zm5 19zm-4 9zm-4 6zm-10-17zm-15-37zm-13-8zm1-5zm-5-4zm-3-4zm7-9zm9-14zm72 49zm22 11zm8-1zm-16 11zm-6 12zm8 17zm13-1zm16-4zm0-16zm18-73zm-1-18zm11 0zm0 3zm-10-36z"/><path stroke="#a597d5" stroke-width="5.00" d="M677 522zm3 18zm31 4zm-13 32zm52-37zm94 79zm10-1zm4 2zm-16 11zm-10 16zm-88 28zm-90-36z"/><path stroke="#eb9fa1" stroke-width="5.00" d="M732 474zm3 7zm-10 21zm35 21zm2 5zm-7 2zm18-10zm-25 37zm12 14zm-10 15zm-1 2zm8 10zm11 2zm5 9zm1 1zm-39 10zm-6 3zm-1 3zm-14 1zm11 23zm6 12zm1 1zm23 10zm4-13zm58-23zm26-9zm-132-32zm-8 0zm-5-6zm0-4zm11-6zm-13-16zm-8 1zm-11 2zm-1 4zm-7-3zm9 14zm-15 9zm-9 8zm-6-3zm-20-12zm10-12zm11-32zm46-2zm-12 75zm-18 11zm-2 11zm0 1zm-1 2zm-11-1zm38 14z"/><path stroke="#d02024" stroke-width="5.00" d="M736 475zm-3 0zm-14 20zm-5 5zm8 5zm6 1zm0-3zm1-1zm2-3zm2 1zm1 0zm-6-2zm3 8zm2 8zm-9-1zm-6 8zm1 5zm1 0zm1 0zm-1 2zm-2 5zm1 10zm2 4zm2 1zm1-3zm0 6zm5 1zm0-2zm1-1zm3 3zm2 2zm3-4zm-10 4zm-7 2zm-6 1zm-3-4zm4 10zm-3 6zm6 7zm1-1zm4 0zm0-3zm4 0zm0-6zm-1-1zm-2 0zm0 2zm6-3zm1-1zm5 3zm4-4zm2 8zm2 7zm5 2zm7-1zm-4-9zm3-1zm6-1zm3 0zm0-3zm-1-6zm2-1zm0-1zm3-3zm1-3zm0-2zm2 0zm3-1zm7 1zm1 6zm5-12zm0-4zm-5 0zm-2-3zm0-1zm4-2zm-8-4zm-6 0zm2 6zm-6 0zm-2-2zm-1 1zm-1 1zm2 1zm-5-3zm-2 1zm-3 1zm0 3zm-5 0zm-5-2zm0-6zm3-4zm-3-1zm-1-3zm1 0zm-3 1zm0 0zm3-5zm3 4zm5 3zm0 3zm4-7zm1 0zm4 2zm3-4zm2 3zm2-1zm-2 3zm0 1zm-6 3zm-7-9zm3-11zm2 0zm11 3zm3 1zm1-4zm7 12zm-25 26zm-4 11zm-3 1zm22 9zm2-1zm-6 12zm4 3zm2 4zm2 2zm0-7zm-2 18zm-1 3zm-2 1zm4 5zm-3 3zm-2-1zm0 5zm6-1zm-14 2zm0 6zm-4 7zm-4 4zm-9-2zm7-8zm-8-5zm1-8zm-4 0zm-1-7zm2-1zm3-4zm4 1zm1-4zm4 2zm0 6zm4 0zm6 4zm3-10zm-16-8zm-5 1zm-5-4zm-7-8zm-7 10zm-4 1zm0 0zm0 5zm-10 1zm-2 1zm-1-1zm-2 1zm-1 6zm7 3zm3 1zm-2 7zm1 1zm-2 1zm0 4zm-6-5zm1-1zm-8 3zm-4-1zm2-3zm-1-12zm-4-4zm5-1zm8-5zm-6-5zm-5-2zm-4 2zm-7-6zm0 0zm-1 0zm-4 5zm-2 9zm-6-3zm-1 0zm-6 3zm1 3zm-4-1zm-2 4zm-3 3zm3 2zm1 3zm-5 3zm-2 7zm-9 5zm-6-4zm0-1zm6-11zm-5-7zm11-9zm4-1zm-3-5zm11-1zm-3-6zm3-2zm3 1zm4-3zm1 0zm0-2zm6 0zm0-6zm-1-3zm-2 4zm-4-3zm5-10zm3 1zm1-1zm-1-4zm-2 0zm6-2zm2-4zm6 4zm4-2zm4-4zm2-1zm2-2zm2 5zm4-7zm-1-5zm2-6zm2-3zm0-3zm2-2zm-3-1zm-4 3zm-5 6zm-1 1zm-2-7zm-11 14zm-9 3zm-2-3zm-11 14zm-13 2zm0-15zm2 32zm-9 3zm-17-4zm0 16zm39 21zm3-4zm1-1zm4 3zm1 7zm2 8zm-1 3zm-3-3zm9-2zm2 8zm-5 8zm10 4zm0 5zm9-6zm0-4zm7-4zm10 7zm5-2zm3 7zm4 2zm2 0zm4 0zm1 4zm-3 1zm-1 0zm-1 8zm7 3zm2-1zm0 3zm-5 5zm-4 5zm14-1zm4 7zm4-1zm0-2zm3-1zm2 4zm-12 7zm-25-27zm0 0zm-3 0zm-5-1zm4-5zm-5-2zm-4 1zm0-3zm1-3zm-2 8zm9-11zm17-10zm1 0zm0-2zm3-20zm-31-37zm-1-1zm-1 0zm0 2zm-4 2zm-3-1zm-1-14zm34-20zm3 1zm-7-11zm-58 107zm0 7zm-12 4zm-1-4zm-5-4zm11 16zm3 5zm5-2zm4 1zm4 0zm0-6zm6 4zm-11 11zm-1 3zm23 6zm7-8zm11-2zm117-17zm5 0z"/><path stroke="#d74043" stroke-width="5.00" d="M727 474zm-3 31zm-8 7zm-10-1zm27 7zm10 0zm3 2zm7 9zm5 1zm3-1zm11 2zm0-17zm-2-4zm-6-1zm24 36zm-24 16zm-31-15zm-11 5zm-1 10zm-1 12zm-43 13zm-8 8zm-10 6zm0 1zm-2 3zm-10-2zm-20-2zm18-30zm0-6zm-5 1zm8-26zm0-1zm26-1zm11-2zm-11 33zm4 46zm3 9zm-12-3zm2 13zm-1 15zm5 4zm52-13zm5 1zm2 15zm1 19zm22-34zm15-38zm63 36z"/><path stroke="#0c0a88" stroke-width="5.00" d="M722 555zm-18 50zm4 46zm-78-88z"/><path stroke="#5b51b0" stroke-width="5.00" d="M756 504zm-20 31zm27 59zm-39 40zm-54 17zm-18-14zm-17-33zm-3-9zm11-24zm184 67zm6 7zm6-1zm3-13zm6-13zm5 1zm-1-5z"/><path stroke="#e1dcf1" stroke-width="5.00" d="M733 474zm-28 50zm30 13zm2-2zm46 16zm-23 48zm-23-10zm-5-1zm-20 18zm-33 3zm-24-24zm-2-8zm-8 4zm-8-18zm7-4zm0-7zm18-6zm2 28zm32-1zm-54 31zm42 60zm60 2zm77-27zm19-7z"/><path stroke="#f2bfc0" stroke-width="5.00" d="M736 467zm-1 5zm-5 1zm2 6zm3 22zm-6 0zm4 9zm8 5zm0 5zm-17 6zm-2-18zm-19 8zm-23 15zm-3 15zm2 6zm8 10zm8-5zm5 10zm6 1zm7-1zm-20 6zm-4 2zm-13 11zm-15 9zm0 4zm6 12zm-4 2zm-16 5zm10 16zm5 24zm26-38zm2-6zm2-3zm14-7zm12 28zm-6 10zm0 16zm15-9zm21-3zm24-32zm-1-2zm-10-12zm-4-4zm-9-2zm-3 4zm-6 6zm15-23zm7-12zm-24-8zm16-17zm4-6zm-1-4zm6-11zm1-4zm3-3zm4 78zm62 51zm20-28zm-189-44zm-30 18zm15-54z"/><path stroke="#ffffff" stroke-width="5.00" d="M736 469zm-2 4zm0 4zm48 46zm2 22zm-21 20zm-28 19zm-5-37zm-32 15zm-25 34zm-18-12zm-4-13zm-15-3zm12-25zm31-22zm-51 74zm15 9zm0 5zm19 31zm46 20zm17-17zm13 12zm30-42zm0-3zm74 21zm-4 13zm14-24zm2-5zm6 3zm1 1z"/><path stroke="#8274c4" stroke-width="5.00" d="M671 541zm2 7zm25 20zm-42 9zm3 52zm23 19zm-5 6zm82 1zm66-18zm5 1zm-2 6zm14 4zm2-29z"/><path stroke="#332d9c" stroke-width="5.00" d="M715 533zm-3 54zm-26 34zm13 10zm65-66zm63 78zm23-20zm1-2zm0-6zm3-1z"/><path stroke="#c3bae3" stroke-width="5.00" d="M726 473zm10 52zm27 1zm13 22zm-3 39zm-4 16zm-44 30zm-70-34zm-6-12zm-3-2zm7-8zm15-12zm20-25zm19 3zm-65 52zm-11-2zm201 51zm3 3zm4-4zm7-15zm9-13z"/><path stroke="#d74043" stroke-width="5.00" d="M707 515zm-6 5zm-26 12zm-11 41zm-14 11zm-8 24zm-16-10zm49 49zm50-5zm-1-5zm1 15zm6 6zm6-5zm11 17zm8-31zm-10-23zm-1-1zm-26-5zm-14-20zm-1-7zm-5-1zm23-9zm7-1zm-10-26zm33-9zm25 77zm59 23z"/><path stroke="#eb9fa1" stroke-width="5.00" d="M739 471zm-6 4zm0 5zm11 32zm1 2zm11 12zm6-6zm0 15zm-3 24zm-31-6zm-2 21zm-4 11zm-14 5zm-13-6zm-1-7zm1-3zm-10-2zm-2 8zm2 7zm-9-9zm-11-14zm-16 8zm-3 2zm-8-4zm-6-3zm22-19zm12-17zm25 15zm9 17zm19-36zm-7-5zm9-5zm9 5zm6 80zm7 4zm29-13zm-12 61zm-9 6zm-18-8zm-18-3zm-2-31zm-20-12zm-29-10zm-11 6zm-11 13zm0 1zm20 33zm191-32zm2-6z"/><path stroke="#f2bfc0" stroke-width="5.00" d="M733 478zm0 2zm-13 30zm20 13zm12-11zm8 14zm10 7zm11 3zm-23 36zm-1 23zm-10 5zm-7 8zm-5-1zm1-3zm20 5zm10 0zm8-2zm4-7zm-42 40zm-7 15zm-6-31zm-10-13zm-8-25zm14-2zm-5-13zm7-4zm-8-5zm-13-5zm-2 9zm-6 11zm-16-11zm-3 3zm-1 1zm-2 2zm1-7zm-7-17zm-15 6zm-9 4zm-1 7zm-3 5zm25 29zm10-4zm11 22zm10 11zm-8 18zm-3 0zm-14 11zm-13-30zm14-4zm-25-6zm-2 1zm22-86z"/><path stroke="#e48082" stroke-width="5.00" d="M733 473zm2 0zm1 0zm-1 32zm17 3zm7 22zm3 1zm9 12zm13 3zm-3-16zm-2-6zm-32 13zm-18-8zm-19-7zm-32-7zm1 20zm-5 30zm-2 6zm-10 2zm-2-2zm-5-3zm-5 0zm-5-12zm5-4zm-20 19zm-4 6zm1 4zm4 15zm0 5zm9 1zm9 10zm-8 4zm-8-1zm19-29zm24-3zm3-1zm10-5zm21-7zm4-14zm8 30zm10-1zm20-4zm0-25zm23 17zm-16 55zm-31 10zm-5-1zm1 6zm6 12zm-20-14zm-1-23zm-9-17zm-19 16zm-6 28zm-1 2zm13 1zm165-28z"/><path stroke="#8274c4" stroke-width="5.00" d="M732 545zm-47 4zm-7 3zm-10 9zm28 22zm12 50zm-1 14zm22-22zm17-22zm77 35zm24-14zm5-8zm10 4zm-200 19zm-14-35zm-20-22z"/><path stroke="#a597d5" stroke-width="5.00" d="M736 468zm0 4zm15 48zm-32 14zm-4-3zm6 17zm13 43zm39 26zm-52 45zm-54-60zm-9 0zm-13 2zm-5 12zm11-44zm0-15zm192 71zm6-8zm3-2zm5-2zm0-9zm-13 43z"/><path stroke="#ffffff" stroke-width="5.00" d="M731 460zm5 13zm34 41zm14 28zm-32 0zm-15 50zm-32-6zm4 47zm4 23zm61-48zm42 29zm5 2zm9 3zm0 0zm1-3zm10 8zm5-20zm2-3zm-2-6zm-160-84zm-9-3zm-5 19zm-16 32zm-6-1zm-3-2zm-18-2z"/><path stroke="#d02024" stroke-width="5.00" d="M719 498zm2 2zm3-2zm4 5zm3-1zm1-2zm-1-1zm2 3zm-1 4zm11-1zm4-1zm2 0zm3 1zm-2 4zm-6 4zm3 3zm0 3zm-3 5zm-3 1zm5 1zm2 0zm3-1zm3 5zm1 2zm-2 3zm2 5zm3-1zm1 1zm-2 3zm2-10zm9 4zm10 1zm5 11zm-3 1zm7-4zm-15 6zm0 3zm-3-6zm8 13zm-4 7zm-8 5zm-5-4zm-10 0zm-7-2zm-5 5zm-3-9zm-1-4zm6-1zm-2-5zm4-5zm5 2zm3 2zm1 4zm4-1zm1 2zm-11-3zm-16-4zm-2 10zm0 1zm-2 1zm2 4zm-6 0zm-1 5zm-4-8zm-8 0zm0 5zm-1 1zm-5-1zm-4 0zm1 3zm3 4zm-5 4zm-7-4zm-4 1zm-11-4zm0 0zm-4-4zm-4 0zm5-8zm4 0zm8 3zm10 4zm4-2zm-3-8zm-6-11zm-4 1zm-4-5zm-1-3zm-4 2zm1 6zm2 2zm-5 1zm-5-3zm-4-4zm-3 6zm5 10zm-7 18zm3 13zm-5 5zm-1 5zm-3 2zm6 1zm3 0zm-2-4zm6 1zm4 0zm2-2zm-2-8zm5-6zm20 7zm9 3zm3 8zm-1 1zm-3 1zm4 5zm-7 7zm1 1zm-5-1zm-4 2zm1 4zm-3 3zm-2 5zm-1 0zm0 0zm0 7zm0 3zm8 12zm13 2zm1-8zm-2 0zm9-4zm5 3zm0-6zm4 1zm0-5zm0 0zm0-3zm-1-1zm-6 0zm1-5zm0-4zm-8 5zm0 2zm-10-2zm-21-3zm-1 1zm-1-9zm1-1zm-2-7zm-5 4zm-3-6zm-13 2zm-7 8zm-4-2zm-3-13zm3-1zm0-19zm-9-6zm-14 11zm16-34zm22-14zm10-8zm18 10zm5 4zm7-1zm8-3zm-2-6zm3-2zm4-7zm6 0zm3 0zm-3-4zm-7-10zm-9-1zm-4 0zm1 11zm-7 0zm2 13zm12 15zm7 2zm23-22zm27-6zm4-6zm-3-4zm-6-2zm-1-1zm0-3zm16 5zm0 4zm1 4zm2 56zm-5 4zm-2 3zm-9 9zm-10-2zm-3 1zm-5-5zm-9 1zm-1-1zm-2 7zm-3 1zm7 12zm2 1zm6 6zm2 3zm4 3zm3 4zm-1 4zm0 2zm0 4zm3 2zm1-7zm0-8zm-1-1zm12-2zm-1-6zm5-2zm-1-4zm-3-2zm1-2zm5 1zm2 2zm1 1zm-4-9zm-19 1zm-2 1zm-3 4zm-3-2zm10-20zm-43 6zm0 4zm5 17zm27 25zm-5 7zm-3 0zm4 12zm2 2zm4-4zm-11 7zm-2-3zm-3 5zm3 6zm-8-12zm26 11zm-1 4zm0 3zm6-8zm-74-8zm-6-3zm1 12zm-4 1zm-3 4zm-10-26zm-4-4zm-1 1zm-1-3zm-2-3zm15 2zm3 1zm-5-14zm177 25z"/><path stroke="#0c0a88" stroke-width="5.00" d="M671 565zm-10 7zm65 70zm105-2z"/><path stroke="#dd6063" stroke-width="5.00" d="M739 473zm-12 28zm-12 23zm9 22zm23 5zm9-15zm-11-11zm30-9zm-12 48zm-7 32zm-20-7zm-31 1zm-16-6zm-19-11zm-7 2zm-4 2zm-10 5zm-1 3zm-15 9zm-4-10zm-8 7zm5-21zm2-2zm21-14zm16-11zm19-3zm-1 14zm-9 9zm-11 36zm-19 5zm-1 4zm11 31zm8-2zm14-10zm7-8zm12-7zm19 34zm11 7zm10 0zm10-6zm0 0zm-3-25zm-58 29zm-16 4zm6 12zm-7-144zm170 117z"/><path stroke="#f8dfe0" stroke-width="5.00" d="M731 474zm2 6zm0 1zm-3 15zm10 23zm-5 11zm4 4zm-12 2zm-29 4zm-16-2zm-6 14zm-1 30zm-4 7zm-17-1zm-6 17zm-8 0zm-8-5zm1-6zm-4-22zm33 46zm36-33zm33 39zm-7 35zm32-3zm12-51zm-15-10zm31-47zm-21-15zm75 109zm-4 5zm-167 22z"/><path stroke="#5b51b0" stroke-width="5.00" d="M722 564zm29 16zm-75 2zm-2 60zm147-4zm3 1zm9-2zm1 5zm6-9zm6-14zm3-2z"/><path stroke="#e1dcf1" stroke-width="5.00" d="M715 506zm-40 23zm12 32zm2 7zm-31 12zm-4-7zm-3-10zm-1-7zm-10-4zm-3 11zm1 3zm0 1zm-1 3zm16 64zm69-8zm13-22zm6-1zm23-43zm1-24zm-7-9zm22 6zm5 10zm68 73zm-15 19zm-122 39z"/><path stroke="#c3bae3" stroke-width="5.00" d="M737 468zm-7 36zm-20 6zm-1 30zm45-7zm-14 54zm-8 5zm-16 55zm-33-12zm-13-16zm-19-37zm-20-12zm199 74zm10 2zm18-27z"/><path stroke="#332d9c" stroke-width="5.00" d="M650 586zm-7 14zm36 52zm38-43zm51 5zm71 31zm15-35z"/></g><path d="M355.2 245.5C356.7 245.1 358.0 245.0 359.7 245.0C361.3 244.9 363.1 245.1 364.9 245.3C366.8 245.6 368.9 246.1 370.9 246.4C372.9 246.7 374.9 246.9 376.8 247.2C378.8 247.5 380.7 247.7 382.5 248.3C384.2 248.8 386.1 249.5 387.6 250.6C389.0 251.7 390.3 253.2 391.2 254.8C392.2 256.4 392.5 258.1 393.3 260.0C394.0 261.9 395.2 264.2 395.9 266.3C396.6 268.4 397.4 270.6 397.5 272.5C397.6 274.5 397.1 276.2 396.4 277.8C395.7 279.4 394.0 280.4 393.3 281.9C392.5 283.5 391.9 285.5 391.7 287.2C391.6 288.9 391.8 290.5 392.2 292.4C392.7 294.3 393.6 296.7 394.4 298.7C395.1 300.6 396.6 302.5 397.0 303.9C397.3 305.3 397.1 306.2 396.4 307.0C395.7 307.9 394.2 308.6 392.8 309.1C391.3 309.7 389.1 309.6 387.6 310.2C386.0 310.7 384.3 311.2 383.4 312.3C382.4 313.3 382.0 315.0 381.8 316.4C381.6 317.9 382.0 319.3 382.2 320.7C382.3 322.2 382.6 323.3 382.7 325.1C382.9 327.0 383.3 329.9 383.2 331.9C383.0 333.8 382.7 335.7 381.9 336.9C381.1 338.2 380.0 338.7 378.5 339.4C376.9 340.1 374.7 340.8 372.6 341.1C370.5 341.5 368.4 341.7 365.9 341.5C363.4 341.4 360.3 340.5 357.5 340.3C354.7 340.0 351.9 339.9 349.1 339.9C346.3 339.8 343.1 340.1 340.7 340.1C338.3 340.1 336.5 340.5 334.8 339.9C333.1 339.3 331.7 337.7 330.6 336.5C329.4 335.3 328.7 333.9 328.1 332.7C327.4 331.5 327.1 330.9 326.4 329.4C325.7 327.8 324.8 325.1 324.0 323.3C323.1 321.5 322.5 320.0 321.5 318.4C320.5 316.7 319.1 315.3 317.9 313.5C316.7 311.7 315.5 309.5 314.2 307.4C313.0 305.4 311.5 303.1 310.5 301.3C309.5 299.4 308.4 297.9 308.1 296.4C307.8 294.9 308.3 293.6 308.7 292.1C309.1 290.7 310.1 289.4 310.5 287.8C310.9 286.3 310.8 284.6 311.2 283.0C311.5 281.4 311.5 279.7 312.4 278.1C313.3 276.5 315.3 274.8 316.7 273.2C318.0 271.5 319.3 269.6 320.3 268.3C321.3 267.0 321.3 266.5 322.7 265.2C324.2 264.0 327.0 262.4 328.9 261.0C330.8 259.5 332.3 258.0 334.3 256.7C336.3 255.5 339.0 254.6 341.0 253.5C343.0 252.5 344.6 251.6 346.2 250.6C347.9 249.5 349.2 248.0 350.7 247.2C352.2 246.3 353.7 245.8 355.2 245.5Z" fill="none" stroke="#1fa85a" stroke-width="1.45" stroke-dasharray="2.8 2"/><path d="M401.8 318.6C402.0 317.9 402.8 317.0 404.1 316.6C405.4 316.3 408.0 317.1 409.7 316.6C411.3 316.2 412.8 315.0 414.1 313.8C415.4 312.6 416.3 311.2 417.5 309.6C418.7 308.0 420.1 305.6 421.4 304.0C422.7 302.5 424.0 301.2 425.3 300.4C426.6 299.5 428.1 298.9 429.3 299.0C430.5 299.0 431.9 299.5 432.6 300.6C433.3 301.8 433.5 304.0 433.5 305.7C433.5 307.4 433.2 309.3 432.6 310.7C432.0 312.2 430.8 313.5 429.8 314.7C428.8 315.8 427.3 316.4 426.5 317.5C425.7 318.5 425.1 319.5 424.8 320.9C424.5 322.2 425.2 324.1 424.8 325.3C424.4 326.5 423.6 327.6 422.6 328.1C421.5 328.6 420.1 328.5 418.6 328.1C417.1 327.7 415.4 326.7 413.6 325.9C411.7 325.0 409.2 323.9 407.4 323.1C405.6 322.3 403.9 321.6 402.9 320.9C402.0 320.1 401.7 319.3 401.8 318.6Z" fill="none" stroke="#e8202a" stroke-width="1.45" stroke-dasharray="2.8 2"/><circle cx="366.6" cy="235.5" r="7.7" fill="none" stroke="#f0643a" stroke-width="1.45" stroke-dasharray="2.8 2"/><text x="310.1" y="234.0" font-size="8.6" font-style="italic" fill="#111">Csf1r</text><linearGradient id="g2" x1="0" y1="0" x2="0" y2="1"><stop offset="0.00" stop-color="#d02024"/><stop offset="0.10" stop-color="#d94d50"/><stop offset="0.20" stop-color="#e3797c"/><stop offset="0.30" stop-color="#eca6a7"/><stop offset="0.40" stop-color="#f6d2d3"/><stop offset="0.50" stop-color="#ffffff"/><stop offset="0.60" stop-color="#d5cfeb"/><stop offset="0.70" stop-color="#ab9ed8"/><stop offset="0.80" stop-color="#7a6dc0"/><stop offset="0.90" stop-color="#433ca4"/><stop offset="1.00" stop-color="#0c0a88"/></linearGradient><rect x="426.9" y="229.4" width="8.3" height="24.6" fill="url(#g2)"/><text x="422.1" y="232.4" font-size="8.2" text-anchor="end" fill="#111">20</text><path d="M426.9 229.4h1.6M433.6 229.4h1.6" stroke="#333" stroke-width="0.5"/><text x="422.1" y="244.7" font-size="8.2" text-anchor="end" fill="#111">10</text><path d="M426.9 241.7h1.6M433.6 241.7h1.6" stroke="#333" stroke-width="0.5"/><text x="422.1" y="257.0" font-size="8.2" text-anchor="end" fill="#111">0</text><path d="M426.9 254.0h1.6M433.6 254.0h1.6" stroke="#333" stroke-width="0.5"/><rect x="26.50" y="349.3" width="134.8" height="121.4" rx="1" fill="none" stroke="#a0a0a0" stroke-width="1.1"/><g transform="scale(0.5)" stroke-linecap="round" fill="none"><path stroke="#e1dcf1" stroke-width="5.00" d="M175 712zm-4 12zm7 4zm5-4zm3 50zm1 11zm-36 1zm-4 7zm-26-17zm-11 12zm-11 4zm-7 12zm3 12zm-16 5zm-8 5zm-1 3zm3 13zm11 26zm6 0zm9-14zm9 0zm30 21zm21 6zm-4 20zm-18 2zm-19-10zm61-2zm6-21zm14 37zm7-88zm-60 9zm-2 7z"/><path stroke="#8274c4" stroke-width="5.00" d="M177 723zm-7 1zm15 0zm-32 34zm11 21zm-9 5zm46 10zm7 23zm18-15zm-4 50zm-39 4zm-30-2zm3 56zm-77-54zm205 28zm7-8zm3 3zm-8-9zm11-4z"/><path stroke="#eb9fa1" stroke-width="5.00" d="M175 712zm-5 47zm-7 27zm-15 3zm4 13zm16 3zm14-3zm6-11zm14-19zm15-12zm8 11zm-9 74zm-3 10zm6 2zm-32 11zm-10 2zm-4 10zm-5 21zm14 2zm11 19zm-13 8zm-25-14zm-35-13zm3-9zm10-11zm12-14zm1-18zm11 4zm-8-22zm0-3zm-13-2zm-1 3zm-17-12zm-12 14zm12 16zm-4 10zm-2 4zm-1 8zm-19-4zm5-12zm-2 34zm9 4zm-28-74zm35-22zm14-2zm40 27zm33 61z"/><path stroke="#0c0a88" stroke-width="5.00" d="M171 819zm2 5zm-31 16zm-45 8zm-20-5zm130 3zm51 44zm7 0zm0 0zm3 0zm4 9zm8-10zm10-11zm6-6zm1-4zm-4 1zm6-5zm3 7z"/><path stroke="#f2bfc0" stroke-width="5.00" d="M179 725zm-9 30zm7 7zm21 20zm4 3zm-3 4zm14-21zm-9 51zm-3 11zm-7 1zm-3 7zm12 9zm9 4zm5 2zm1 6zm-5 6zm-3-5zm-9 19zm3 27zm-39 8zm4-30zm-20-10zm-8-3zm0-21zm10-29zm19 3zm-4-20zm0-2zm-23-26zm-1-1zm-15 17zm-6 11zm-4 10zm-11 11zm-2-2zm8 19zm-4 23zm0 19zm-13 4zm32 36zm-62-81zm18-25zm-2-2zm3-5zm136 11z"/><path stroke="#dd6063" stroke-width="5.00" d="M177 726zm-11 25zm22 13zm2 4zm6-4zm20-4zm13 34zm5 7zm-19-1zm-5 9zm-12 24zm-1 14zm-15 11zm7 9zm14 13zm5-14zm-30-23zm-26 19zm0 23zm7-1zm-3 10zm4 31zm18-6zm21 5zm-80-25zm-16-18zm-4-24zm-13-10zm-14-18zm-2-7zm35 1zm5 1zm5-8zm13 13zm14 7zm14-31zm12-7zm2-20zm-54 6zm14 88z"/><path stroke="#5b51b0" stroke-width="5.00" d="M191 768zm-108 43zm26 50zm-2 26zm69 1zm100 9zm2-7zm5-3zm2 11zm1 1zm7-27zm3-1zm-6 0zm-2 0zm13-3zm-1-7z"/><path stroke="#e48082" stroke-width="5.00" d="M180 720zm38 43zm-26 14zm5 10zm17 14zm-7 16zm4 30zm-11 2zm-2 3zm-18 2zm3-14zm-32 16zm-18-29zm9-7zm0-2zm-5-16zm-8-3zm-3 5zm-8 1zm-19-4zm-5 7zm-6 11zm-6 0zm0 0zm10 6zm-2 9zm5 0zm-8 10zm0 14zm-2 12zm12-3zm14 12zm-42-34zm34-58z"/><path stroke="#332d9c" stroke-width="5.00" d="M211 757zm-3 56zm1 2zm-44-7zm-60 43zm4 24zm-37-33zm93 44zm102 4zm5 3zm5 2zm0 2zm1 2zm7-1zm-3-11zm8-8zm0 0zm4-4zm-4-5zm5-2zm4-1z"/><path stroke="#d74043" stroke-width="5.00" d="M175 758zm-15 2zm-4 14zm25 13zm4-1zm-9 11zm2 7zm4 9zm14-5zm9-30zm-1-4zm23 16zm-10 65zm-17 33zm-24 5zm-5 8zm-1-16zm-14-3zm-15-13zm-6 9zm-3 5zm-6-14zm22-12zm25-8zm-8-30zm-7-11zm-17-6zm-6 7zm-2 5zm-2 0zm-2 10zm-2 8zm14-1zm-26 9zm-9-7zm-11 1zm0 3zm7 11zm-3 3zm-4-27zm-6-2zm-15 9zm36-9zm-22 55zm10 14zm13 13zm7-7zm6 7z"/><path stroke="#f8dfe0" stroke-width="5.00" d="M175 712zm6 12zm2 0zm13 32zm7 10zm-1 18zm11 12zm1 6zm-3 6zm15-8zm3-7zm-52-23zm-22 15zm-13 14zm-19-2zm-8 9zm4 6zm8 17zm12 4zm3 5zm9 26zm17 31zm-35 7zm-19-18zm-23-14zm-6-2zm-3 0zm6-12zm12-22zm-3-5zm-6-25zm1-16zm-18 26zm115 25zm0 10zm6 1zm5-3zm5 19z"/><path stroke="#a597d5" stroke-width="5.00" d="M170 727zm7 3zm-32 57zm25 30zm15-9zm31-13zm-24 51zm-26-7zm-9 24zm-2 17zm15 13zm-63-42zm164 45zm14-11z"/><path stroke="#ffffff" stroke-width="5.00" d="M180 719zm0 0zm-2 6zm-1 2zm-1-1zm3 27zm-14 16zm4 8zm-4 1zm15 9zm-6 8zm-10 12zm2 3zm-14-13zm-3-28zm-29 14zm-1 35zm15 10zm-5 10zm-9-1zm-20-4zm-6-13zm-17 25zm51 26zm26 22zm9 8zm3-3zm-14 13zm14-74zm27 9zm3-10zm-1-31zm-8 0zm-3-29zm4 0zm25-2zm19 16z"/><path stroke="#d02024" stroke-width="5.00" d="M171 753zm3 3zm-2 1zm17 0zm2-1zm5 4zm5-1zm2-1zm4-1zm4 18zm6-3zm5 7zm-6 4zm-5 2zm-2 2zm0-4zm-3 0zm-7 2zm1 2zm0 4zm-5-14zm-9-5zm-4 10zm1 3zm-9 16zm5 5zm3 0zm-3 5zm-1 1zm-3 4zm-3 1zm-3 1zm-3-2zm-1 3zm-1 5zm-3 2zm-7-4zm-6-5zm-2-1zm-2 3zm-2 1zm0 1zm-2 2zm-2 1zm-1 1zm1 4zm-1 3zm-2 3zm-2-2zm9 3zm2-7zm4 2zm1 11zm2 4zm2 0zm1 0zm0-1zm-4 7zm1 3zm-6-7zm-8-2zm3 18zm-6 2zm-2 6zm5 5zm-6 9zm1 3zm-4 8zm0 6zm-9 0zm3-8zm-7-8zm-3-12zm-3-6zm-3 1zm0-11zm-2-3zm-2 2zm0-4zm1-1zm0-1zm2-1zm3-3zm1-2zm8-3zm3-8zm3-2zm-3-10zm-6 1zm-2-4zm2-7zm2-11zm10-5zm-2-6zm0-2zm-5-7zm8-1zm-5-13zm1-1zm18 7zm4-3zm6-3zm1 0zm5 2zm2 6zm-5-14zm-4 29zm6 4zm9-1zm0 5zm2 1zm-3 5zm2 2zm-4 3zm-1 4zm-5-8zm-11 3zm-5 7zm-2 4zm-10-5zm5-16zm8-1zm1-3zm-3-3zm4-3zm-36-5zm-12 0zm3 12zm-15 9zm-2-3zm0 20zm-1 0zm-6 1zm-5 12zm5 2zm1 5zm3 3zm-2 7zm4 2zm5 1zm5-2zm-2 8zm12-9zm12 2zm8 10zm2 2zm5-2zm-2 11zm25-4zm-1-6zm9 8zm6 2zm5 6zm-2 5zm1 3zm4 1zm4 1zm-6 6zm3 4zm-4 3zm4 2zm3 4zm3-1zm3-2zm0-2zm5 10zm1 3zm1 3zm5-1zm4-2zm2 4zm3-15zm-2-15zm-1-4zm-4-3zm4-4zm-4-2zm1-3zm3-3zm0-13zm-8-5zm-5 3zm1 2zm-3-6zm-2-1zm-7-4zm-3-2zm-3-9zm6-1zm2 2zm-3-5zm-5-8zm2-3zm8 2zm2 0zm3-7zm-4 0zm18-10zm-1-1zm10 3zm6-5zm2-5zm6 0zm5 1zm0 2zm0 3zm1-9zm0-3zm4 0zm0 2zm-10-7zm-12 37zm-1 3zm-5 3zm-5 1zm-2 10zm-4 1zm-3-5zm19 16zm5-2zm0 5zm4 2zm-3-24zm0-4zm-51 6zm-3 23zm2 1zm1 0zm10 12zm2-1zm-18 8zm-3 3zm-4 5zm12 3zm3 0zm-13 15zm4 5zm19 3zm3 11zm-53 0zm-22-31zm-6-5zm0-1zm-1 0zm-1 0zm-4-4zm6-46zm-1-11z"/><path stroke="#c3bae3" stroke-width="5.00" d="M184 724zm-5 1zm29 37zm-6 31zm-10 15zm-17-7zm-9-3zm-18 37zm-54-31zm-23 40z"/><path stroke="#5b51b0" stroke-width="5.00" d="M176 725zm1 5zm29 56zm17 66zm38 37zm2 1zm9 5zm4 1zm3-6zm-5-1zm9 7zm4 5zm8-28zm3-4zm0-2zm7 4zm-162-37zm-70-11z"/><path stroke="#f2bfc0" stroke-width="5.00" d="M180 725zm-3 7zm-3 21zm-15 4zm5 21zm0 2zm3-2zm-10 5zm-25 9zm1 8zm14 16zm4 5zm6-7zm6 1zm2 12zm-19 5zm-3-8zm12 21zm-9 10zm-9 3zm-32-7zm2-8zm-11-5zm4-10zm14-1zm-19-17zm-15 29zm19 53zm20 6zm35 1zm20 12zm6-7zm16 12zm-2 6zm-19-47zm4-16zm4-3zm7-3zm4-15zm2-6zm-7-6zm18-10zm4 13zm6 32zm-41-15zm24-49zm-15-31zm3-2zm6-8zm20 6zm4 3zm3-3z"/><path stroke="#0c0a88" stroke-width="5.00" d="M171 813zm90 75zm14 3zm11 8zm5-22zm1-6zm10 0z"/><path stroke="#ffffff" stroke-width="5.00" d="M181 726zm-4 6zm-3 16zm1 3zm-3 4zm5 10zm10 5zm3 0zm-1 3zm-18 4zm-9-4zm-11-6zm-4 1zm2 29zm8 9zm8-6zm3 3zm2-8zm6-9zm28-2zm10 1zm5-20zm-11-4zm-8 49zm-19 31zm-2 13zm-20 42zm25 8zm-70-4zm-5 19zm-2-43zm-4-23zm-10-19zm-6-11zm-20 16z"/><path stroke="#332d9c" stroke-width="5.00" d="M166 760zm-3 19zm-24 23zm-6 15zm27-1zm40-5zm-85 42zm-17-13zm-23 7zm31 54zm27-13zm67 20zm57-19zm12 0zm2 6zm3-1zm2 1zm0 1zm1 0zm-1 1zm8 0zm-3-5zm1-2zm-3 0zm-2-1zm7-4zm4-15zm10 0zm3-2zm5 3zm-7-11zm-12 43z"/><path stroke="#d02024" stroke-width="5.00" d="M178 752zm-3 2zm1 4zm-6 0zm-9 10zm4 4zm2 4zm0 4zm-8 5zm-5 7zm-3 3zm8 8zm6 8zm4-2zm3-3zm0-1zm2-6zm-11-5zm10 18zm-1 2zm-4 10zm0 3zm-5-5zm-5 0zm-3-3zm-3 1zm0-4zm-5 4zm-3-5zm-5 4zm-4 1zm-2-3zm7 8zm-3 2zm2 6zm2-1zm0 2zm2 0zm6 4zm0 0zm4-1zm-11 5zm-2 2zm-5 2zm-14-8zm1-4zm-3 0zm0-3zm2-8zm-4-2zm-1 1zm-1-1zm0 0zm-4 0zm-3 3zm-1 1zm-1-1zm-3 5zm-1 7zm-5-2zm-2 5zm3 3zm10 7zm2 3zm-4 2zm1 2zm-9-1zm1 5zm-5-1zm-3-6zm-4 7zm-2 10zm14-3zm10 9zm7-1zm4 3zm7-8zm7 1zm-14-4zm1-2zm2-5zm-4-3zm-4-11zm0-5zm0-24zm2-2zm1-1zm0-11zm5 0zm8-5zm-1-2zm-6-4zm2-2zm-5-7zm-6 10zm-6 1zm0-17zm12-7zm23 5zm0-12zm-4 24zm0 2zm-3 6zm-32 22zm-12-11zm-5-2zm-7 4zm1 14zm-1 6zm-9 5zm-1 3zm14 10zm11 40zm3 1zm3 5zm4-1zm1-3zm-2 9zm5 10zm2 0zm3 6zm-1 4zm0 2zm-2 2zm9-5zm5-9zm-1-4zm1-3zm-7 5zm8-18zm14 18zm2 10zm12-2zm-2-10zm-1-5zm-1-1zm-1-5zm9-2zm-2-7zm7-4zm2 1zm3 3zm-1 3zm3 2zm0 0zm0 0zm3 2zm6 2zm3 0zm9 6zm-2 4zm-6 7zm-4 0zm1-4zm-2 0zm-2-1zm-2 3zm-2-7zm-10 1zm-3 1zm4 17zm9-3zm18 6zm0 5zm12-9zm1-11zm-7-21zm-2-14zm11 1zm5-3zm5-4zm-1-4zm-2-2zm-1 2zm4-6zm2 1zm-4-4zm1-3zm3-2zm-1-1zm-9 2zm-4 1zm-7-1zm-7 6zm-3 3zm-5 2zm-3-4zm3 11zm4-1zm-7 6zm-6 3zm-16-7zm0-3zm-6-2zm2-9zm6 1zm1 1zm10-13zm3-10zm5-5zm8-2zm1-4zm-2-1zm0-7zm3 0zm7-5zm11 3zm2 9zm7-3zm1 0zm3-19zm9-1zm1-3zm-4-7zm0-1zm-8-1zm-10 0zm-4 6zm-7-3zm-2 2zm-7 8zm0 2zm-4-15zm-1-7zm4-17zm7-6zm16 10zm-3 4zm1 3zm2 0zm1 0zm-6 5zm-1-2zm-3 4zm16-14zm3 2zm-5-6zm4-3zm9 16zm-33 46zm-1 19zm-13 0zm41 26zm-129-76z"/><path stroke="#8274c4" stroke-width="5.00" d="M150 772zm37 36zm14-11zm27 3zm1-7zm-19 52zm74 39zm-5 15zm16-30zm3-8zm3-2zm-180-21zm-3 13zm-18 1zm12 29z"/><path stroke="#e1dcf1" stroke-width="5.00" d="M179 724zm0 8zm-2 1zm-5 19zm-14 22zm13 14zm2 14zm-14 7zm16 38zm43 15zm-85 10zm-8 5zm-31-10zm-6-2zm-3 1zm1-7zm2-4zm1 1zm3 0zm-5-3zm0 0zm0-2zm-4-2zm-7-2zm21-15zm2 4zm3-8zm-15-6z"/><path stroke="#dd6063" stroke-width="5.00" d="M150 763zm4 11zm14-9zm12 12zm-7 5zm18-5zm7-7zm12 6zm10 24zm4 2zm-14 6zm0 0zm7 31zm-12 13zm8 8zm7-2zm-38-1zm-7 19zm-7 5zm-10-2zm-17 6zm-20 20zm-5-2zm-10-14zm-4-6zm-5 3zm-3-17zm7-16zm-9-5zm-17 2zm0 2zm-1-5zm-4-9zm5-15zm7-5zm13-3zm9 12zm9-9zm7 3zm8 8zm-11 9zm-2 5zm-4 10zm33-20zm9-1zm23-18zm-51-17zm-3 0zm-3-16zm50 124zm10 1zm5 22zm16-9zm3-7z"/><path stroke="#a597d5" stroke-width="5.00" d="M180 721zm3 2zm-5 2zm-2 0zm-12 49zm-42 29zm-7 15zm-25 5zm3 16zm-7 28zm63-26zm68-36zm8-18zm74 72zm-1 5zm-4 11zm-33 14z"/><path stroke="#c3bae3" stroke-width="5.00" d="M181 720zm-1 6zm-4 5zm-7-6zm-18 32zm22 24zm17-10zm11 8zm11-9zm-65 46zm-8 9zm-12 9zm-34-28zm-11 18zm-4 5zm-5 10zm-6-5zm52-46zm8 116zm42-2zm47-50z"/><path stroke="#e48082" stroke-width="5.00" d="M183 723zm-7 29zm3 1zm-14 8zm-4 17zm-8 14zm-14-3zm-19 24zm-3-1zm-6 0zm2 11zm9 13zm22-8zm3 12zm19-1zm0 5zm10 0zm1 12zm14-1zm6-8zm19 2zm10 0zm-39-29zm-2 0zm8-11zm0-6zm-2 0zm3-7zm9-11zm7 3zm6 13zm-10-29zm-2-9zm-10 11zm-33 42zm-6 44zm-13 2zm-18 16zm-23-22zm-15 0zm-15-23zm1-18zm27 91zm67-28zm3 7zm33 8z"/><path stroke="#f8dfe0" stroke-width="5.00" d="M176 750zm9 21zm3 2zm0 2zm-3 2zm11 12zm9-8zm4 7zm-7 15zm13 1zm2 28zm-36 12zm-2-8zm-13-32zm-28 1zm0-9zm-15-9zm-12-12zm-3 25zm-15-8zm-5 18zm9 6zm1 9zm-11-3zm10 19zm-11 26zm46 26zm27 8zm9 9zm-26-66zm26-69z"/><path stroke="#d74043" stroke-width="5.00" d="M180 723zm-3 31zm-5 1zm-16 6zm12 16zm21-2zm7 9zm11-7zm-1-2zm12 25zm-2 7zm-7 9zm-22 5zm-10 0zm-14 15zm-11 6zm-13-7zm-7 3zm-13-13zm-3 2zm-9 0zm-13 8zm13 8zm-4 6zm-20 18zm19 14zm19-2zm28-10zm10 24zm3 6zm12-6zm2-1zm-3-4zm3-13zm8 1zm4-17zm4-10zm20 8zm-16 58zm-47 12zm-35-6zm-8-15zm14-88zm-6-7z"/><path stroke="#eb9fa1" stroke-width="5.00" d="M187 762zm10 14zm4-4zm9-4zm0 7zm3 24zm-17 13zm-23 5zm-4-2zm-13 6zm0 18zm5 21zm-2 3zm-10-3zm-6 19zm-10 4zm-14 13zm-13 14zm32-5zm19 2zm15-4zm5-10zm-15-9zm2-5zm3-3zm23-8zm0 1zm15 3zm-10 49zm-82-43zm-9-4zm18-13zm-17-16zm1-20zm14 5zm13 6zm-13-21zm19-5zm6-15zm-3-3zm-12-6zm-21 8zm-2 3zm-9 5zm-28 27zm92-45zm-8-15zm65 55z"/><path stroke="#ffffff" stroke-width="5.00" d="M181 724zm-18 39zm-14 13zm10 7zm26-12zm7 2zm-1 3zm-2 10zm2 3zm7-4zm8-5zm3 4zm1-11zm0-7zm-15-2zm33 34zm0 2zm-24 50zm-35 15zm-16-24zm-7-7zm-28-17zm-6-4zm9-14zm-6-17zm-22 57zm5 12zm11 23zm-10 17zm44-7zm52 35z"/><path stroke="#8274c4" stroke-width="5.00" d="M180 720zm-6 5zm29 38zm7 8zm10 1zm-1 53zm-24 6zm-10 21zm4 5zm24 11zm-57 12zm-7-33zm5-43zm14-27zm-49 8zm-38 66zm6 4zm-16-3zm41 43zm158-4zm6 8zm6-5zm-1-4zm16-21zm0-1zm2-5z"/><path stroke="#e48082" stroke-width="5.00" d="M177 726zm0 1zm-8 27zm-15 21zm4 3zm-2 3zm-10-7zm-5 17zm2 9zm-4 8zm3 6zm4 4zm4 2zm6-3zm13-2zm4 10zm1 2zm5-11zm6-13zm14-17zm1 0zm-1-2zm16-9zm0-9zm13 31zm-12 7zm-7 0zm1 15zm-8 29zm-16 7zm-2 5zm2 14zm7 0zm1-2zm-17 16zm2 4zm-8-2zm-12 11zm-5-8zm-14-16zm-4 2zm-13 0zm-7 6zm-9-20zm-17 2zm-5 0zm6-13zm18-11zm5 4zm0-24zm1-5zm-2-1zm5 3zm7-7zm2-8zm-20-3zm-22 2zm34-20zm13 44zm1 1zm13 33zm-1 1zm7 0z"/><path stroke="#332d9c" stroke-width="5.00" d="M217 765zm-12 15zm-42 18zm-23 5zm-33 43zm9 18zm-32-7zm-7-50zm79 51zm43 14zm-13 55zm73-37zm14-1zm2 5zm-2 0zm-1 2zm3 0zm2 1zm1-4zm1-1zm3 4zm1-1zm3-12zm-2 0zm3-3zm5-5zm1-1zm3-4zm1 0zm-1-1zm3-13z"/><path stroke="#d74043" stroke-width="5.00" d="M213 757zm6 12zm-6 3zm-2 1zm10 9zm4 0zm0-4zm-22 9zm21 16zm-30 39zm18 11zm-1 3zm-12 28zm-32 5zm-20-18zm-1-1zm-2-4zm-8-3zm-19-15zm-4-33zm3-2zm-10-15zm22-6zm0-11zm16 9zm20-12zm9 25zm-17 36zm-37 59zm-1 3zm-12-9zm-8 1zm-25-64z"/><path stroke="#d02024" stroke-width="5.00" d="M164 747zm4 3zm4 0zm-2 8zm-12-6zm0 12zm-2 2zm-4 9zm-6 2zm-1 8zm6 0zm-1 8zm-4 1zm4 5zm-11-7zm-4 6zm-10 1zm-4-1zm-2 0zm0 5zm1 1zm3 0zm-3-11zm1-7zm9-3zm11-14zm18 13zm3-2zm10 5zm7 3zm0-6zm4-2zm6-3zm-3-3zm3 7zm8-3zm3 5zm2 1zm-1 5zm1 2zm-5 4zm-3 10zm2 3zm1 4zm-5 1zm11-2zm6 2zm8 3zm1 0zm3-2zm-4 7zm-7 3zm-8 0zm1 8zm-8 6zm-10-2zm4-8zm-16 1zm-6 0zm-4-1zm1-4zm3 1zm4-8zm-6-4zm-8 6zm-7-2zm-4 1zm-10 9zm-3 0zm-3 2zm0 0zm-7 4zm-3 1zm-2 2zm-4 4zm-1 6zm0 2zm4 0zm4-6zm-13 3zm-4 3zm-1 7zm2 0zm-6-1zm-6 3zm-6-1zm-8 1zm-3-2zm-4-8zm6-6zm13-10zm2 2zm1 0zm9-1zm1-2zm4-4zm1 0zm5-1zm2-2zm-3-3zm8-1zm10-6zm2 7zm7 15zm3 9zm4 4zm1-4zm2-4zm5 2zm1 1zm-1 5zm2 5zm0 2zm-1 2zm3 1zm-7 3zm-1-6zm-9-4zm-9 7zm-7 5zm-2 5zm-5-2zm-2-1zm-4 4zm1 2zm-3-2zm-6-6zm-7 16zm9 3zm3 0zm1 0zm0 6zm3 1zm3 5zm1 1zm6-1zm1 4zm-2 5zm3 1zm5-4zm-1-15zm2-2zm10-5zm4 2zm-9-9zm2-7zm14 6zm8 14zm4-2zm1-2zm2 5zm2 2zm-4 1zm4 6zm-3 6zm-3 4zm-4-5zm-1-1zm2-3zm-6 6zm-6-4zm1-3zm4 21zm17-4zm4 2zm2-3zm0-4zm9 2zm1 0zm8 3zm5 3zm-1 9zm-11 3zm0 3zm-3 0zm-8-12zm12-18zm0-1zm2 1zm9-8zm-1-4zm-11-3zm0-3zm-3-13zm-1-8zm-4-1zm0-3zm8-8zm14 1zm4-4zm4 4zm4 7zm6 0zm1-3zm-2 11zm-4-1zm-3 2zm5 4zm-10-12zm12-26zm3-2zm-8-25zm-3 0zm3-4zm3-2zm6 1zm6-9zm0-6zm-5 1zm-9-5zm-5-1zm1 6zm-3 0zm2 3zm2 0zm-10-9zm4-8zm3-1zm1 2zm7 0zm-6-15zm-16 15zm-7-13zm-20 41zm-2 37zm10 3zm-1 30zm-3 8zm-50-1zm-22 13zm14 13zm1 2zm-3 4zm2 5zm-1 2zm4 1zm0 4zm11-5zm8 7zm-49-54zm0 0zm3-44zm3 0zm2-2zm-11-6zm-3-3zm-2-3zm2 9zm0 4zm-6-3zm-4-3zm18-10zm0 0zm15-14zm6-11z"/><path stroke="#0c0a88" stroke-width="5.00" d="M124 783zm18 35zm-53-2zm-17 20zm27 47zm21 11zm151-4zm2 0zm3 1zm1 2zm5-7zm4-4zm0-1zm10-9zm0-3zm-1-2zm3-1zm4 4zm2 0z"/><path stroke="#f8dfe0" stroke-width="5.00" d="M172 726zm7 2zm1-2zm-1 31zm8 0zm-19 0zm-8 7zm3 14zm8 1zm1 5zm1 18zm8 15zm-24 3zm-5-31zm-9-16zm-10 20zm0 4zm-10 5zm-2-3zm-14-11zm-9 12zm12 26zm12 10zm-33-3zm-1 39zm25 0zm-10 29zm68 9zm24 11zm20-60zm12 3zm-13-19zm3-10zm-16 15zm-24-3zm32-35zm-12-32zm3-2zm14-8zm9 6zm-13-17zm-89 15z"/><path stroke="#5b51b0" stroke-width="5.00" d="M177 732zm11 40zm19-1zm-16 32zm0 50zm-39 54zm-57-47zm-5-23zm27-38zm145 90zm3 1zm10 0zm6 0zm0 3zm7 9zm-2-19zm2-3zm2-1zm2-9zm5-2zm8 3zm-5-14zm1-2z"/><path stroke="#a597d5" stroke-width="5.00" d="M174 725zm2 1zm2 0zm-3 24zm2 1zm-11 6zm8 17zm10 1zm22 0zm5 1zm1 2zm-16 26zm1 17zm14 36zm-52 7zm17 50zm-83-50zm4-10zm-8-47zm48-49z"/><path stroke="#c3bae3" stroke-width="5.00" d="M177 724zm0 1zm-14 25zm-15 20zm10 13zm5-4zm14 19zm-1 8zm20-12zm4-12zm4 40zm-15 31zm-22-20zm-47 35zm-43-1zm-10-24zm6-8zm16-32zm6-4zm-3-4zm9-1zm5-4zm3 6zm14-24z"/><path stroke="#e1dcf1" stroke-width="5.00" d="M171 725zm4 1zm2 2zm-4 25zm-19 19zm-27 12zm2 17zm-21-5zm-13 13zm-4 6zm10 14zm-2 8zm-7 0zm13 10zm-7 9zm-11 5zm-3-7zm-9-10zm-1-19zm37-1zm7 13zm39-18zm46-38zm-102 105zm17 33z"/><path stroke="#eb9fa1" stroke-width="5.00" d="M178 750zm13 21zm11 27zm-13 9zm-18-7zm-3-3zm-18 4zm-5 15zm-5 9zm2 1zm0 2zm-11 2zm-4-4zm-8-1zm-7-5zm-3 1zm4-21zm-6-13zm23-1zm1 5zm26-13zm48 42zm1 2zm14 6zm11-30zm-6-12zm-41 53zm7 12zm1 1zm-4 9zm0 5zm4 30zm-14 11zm-6-6zm-13-15zm-6-2zm-10-1zm-1-1zm8 13zm2 7zm5-32zm-9-10zm0-3zm-4-4zm-2-6zm-4-3zm18 1zm-31 24zm-2 0zm-1-2zm-11 6zm-9-12zm-8 10zm12 18zm4 0zm-7 8zm9 11zm-9-61zm-32 3zm150 16z"/><path stroke="#dd6063" stroke-width="5.00" d="M200 756zm-6 5zm-5 4zm3 13zm-2 9zm4 2zm-20-14zm-26-12zm10 37zm-14 14zm15 9zm5 8zm15 9zm4-7zm17-14zm4 4zm2 20zm-5 9zm9 12zm10-13zm-26 21zm2 10zm-19 1zm-4-6zm6-9zm10-4zm-26-8zm0 28zm-10 1zm-2 14zm18-5zm17 12zm14-1zm-88-20zm-4-7zm4-6zm3-5zm-8-1zm-13-42zm-22-4zm-1 10zm22-40zm26 33z"/><path stroke="#f2bfc0" stroke-width="5.00" d="M180 725zm-3 0zm19 35zm7 0zm-14 9zm14 13zm4 2zm23 12zm-12 27zm-8 2zm-3-3zm0 7zm12 8zm-17 7zm-1 3zm-2 3zm-6-5zm-19-3zm-9 20zm-16-6zm0-25zm8-9zm17-19zm10 8zm-18-37zm-13-8zm-3 15zm-12-7zm-16-7zm-13 49zm-8 5zm-2-1zm-29 11zm8 23zm39 11zm-5 44zm7 8zm50-12zm0-11zm11-2zm32-26zm-1-10z"/></g><path d="M77.2 371.4C78.7 371.0 80.1 370.9 81.7 370.9C83.3 370.8 85.1 371.0 87.0 371.2C88.8 371.5 90.9 372.0 92.9 372.3C94.9 372.6 96.9 372.8 98.9 373.1C100.8 373.4 102.7 373.6 104.5 374.2C106.3 374.7 108.2 375.4 109.6 376.5C111.1 377.6 112.3 379.1 113.3 380.7C114.2 382.3 114.5 384.0 115.3 385.9C116.1 387.8 117.2 390.1 117.9 392.2C118.6 394.3 119.5 396.5 119.5 398.4C119.6 400.4 119.2 402.1 118.5 403.7C117.8 405.3 116.1 406.3 115.3 407.8C114.5 409.4 114.0 411.4 113.8 413.1C113.6 414.8 113.9 416.4 114.3 418.3C114.7 420.2 115.6 422.6 116.4 424.6C117.2 426.5 118.7 428.4 119.0 429.8C119.4 431.2 119.2 432.1 118.5 432.9C117.8 433.8 116.3 434.5 114.8 435.0C113.3 435.6 111.2 435.5 109.6 436.1C108.1 436.6 106.4 437.1 105.4 438.2C104.4 439.2 104.1 440.9 103.9 442.3C103.7 443.8 104.1 445.2 104.2 446.6C104.4 448.1 104.6 449.2 104.8 451.0C104.9 452.9 105.3 455.8 105.2 457.8C105.1 459.7 104.7 461.6 103.9 462.8C103.1 464.1 102.1 464.6 100.5 465.3C99.0 466.0 96.7 466.7 94.6 467.0C92.5 467.4 90.4 467.6 87.9 467.4C85.4 467.3 82.3 466.4 79.5 466.2C76.7 465.9 74.0 465.8 71.2 465.8C68.4 465.7 65.1 466.0 62.7 466.0C60.3 466.0 58.5 466.4 56.8 465.8C55.1 465.2 53.7 463.6 52.6 462.4C51.5 461.2 50.8 459.8 50.1 458.6C49.4 457.4 49.1 456.8 48.4 455.3C47.8 453.7 46.8 451.0 46.0 449.2C45.2 447.4 44.6 445.9 43.6 444.3C42.6 442.6 41.1 441.2 39.9 439.4C38.7 437.6 37.5 435.4 36.3 433.3C35.1 431.3 33.6 429.0 32.6 427.2C31.5 425.3 30.4 423.8 30.1 422.3C29.8 420.8 30.4 419.5 30.8 418.0C31.2 416.6 32.2 415.3 32.6 413.7C33.0 412.2 32.9 410.5 33.2 408.9C33.5 407.3 33.5 405.6 34.4 404.0C35.3 402.4 37.4 400.7 38.7 399.1C40.0 397.4 41.3 395.5 42.4 394.2C43.4 392.9 43.4 392.4 44.8 391.1C46.2 389.9 49.0 388.3 50.9 386.9C52.9 385.4 54.4 383.9 56.4 382.6C58.4 381.4 61.0 380.5 63.0 379.4C65.0 378.4 66.7 377.5 68.3 376.5C69.9 375.4 71.3 373.9 72.8 373.1C74.3 372.2 75.7 371.7 77.2 371.4Z" fill="none" stroke="#1fa85a" stroke-width="1.45" stroke-dasharray="2.8 2"/><path d="M123.9 444.5C124.1 443.8 124.8 442.9 126.1 442.5C127.4 442.2 130.0 443.0 131.7 442.5C133.4 442.1 134.9 440.9 136.2 439.7C137.5 438.5 138.4 437.1 139.6 435.5C140.8 433.9 142.2 431.5 143.5 429.9C144.8 428.4 146.1 427.1 147.4 426.3C148.7 425.4 150.1 424.8 151.4 424.9C152.6 424.9 154.0 425.4 154.7 426.5C155.4 427.7 155.5 429.9 155.5 431.6C155.5 433.3 155.3 435.2 154.7 436.6C154.1 438.1 152.9 439.4 151.9 440.6C150.8 441.7 149.4 442.3 148.5 443.4C147.7 444.4 147.1 445.4 146.9 446.8C146.6 448.1 147.2 450.0 146.9 451.2C146.5 452.4 145.7 453.5 144.6 454.0C143.6 454.5 142.2 454.4 140.7 454.0C139.2 453.6 137.5 452.6 135.6 451.8C133.7 450.9 131.2 449.8 129.5 449.0C127.7 448.2 125.9 447.5 125.0 446.8C124.1 446.0 123.7 445.2 123.9 444.5Z" fill="none" stroke="#e8202a" stroke-width="1.45" stroke-dasharray="2.8 2"/><circle cx="88.7" cy="361.4" r="7.7" fill="none" stroke="#f0643a" stroke-width="1.45" stroke-dasharray="2.8 2"/><text x="32.1" y="359.9" font-size="8.6" font-style="italic" fill="#111">P2ry12</text><linearGradient id="g3" x1="0" y1="0" x2="0" y2="1"><stop offset="0.00" stop-color="#d02024"/><stop offset="0.10" stop-color="#d94d50"/><stop offset="0.20" stop-color="#e3797c"/><stop offset="0.30" stop-color="#eca6a7"/><stop offset="0.40" stop-color="#f6d2d3"/><stop offset="0.50" stop-color="#ffffff"/><stop offset="0.60" stop-color="#d5cfeb"/><stop offset="0.70" stop-color="#ab9ed8"/><stop offset="0.80" stop-color="#7a6dc0"/><stop offset="0.90" stop-color="#433ca4"/><stop offset="1.00" stop-color="#0c0a88"/></linearGradient><rect x="148.9" y="355.3" width="8.3" height="24.6" fill="url(#g3)"/><text x="144.2" y="358.3" font-size="8.2" text-anchor="end" fill="#111">20</text><path d="M148.9 355.3h1.6M155.6 355.3h1.6" stroke="#333" stroke-width="0.5"/><text x="144.2" y="370.6" font-size="8.2" text-anchor="end" fill="#111">10</text><path d="M148.9 367.6h1.6M155.6 367.6h1.6" stroke="#333" stroke-width="0.5"/><text x="144.2" y="382.9" font-size="8.2" text-anchor="end" fill="#111">0</text><path d="M148.9 379.9h1.6M155.6 379.9h1.6" stroke="#333" stroke-width="0.5"/><rect x="164.45" y="349.3" width="136.0" height="121.4" rx="1" fill="none" stroke="#a0a0a0" stroke-width="1.1"/><g transform="scale(0.5)" stroke-linecap="round" fill="none"><path stroke="#d02024" stroke-width="5.00" d="M493 772zm-7 7zm17 24zm-17 5zm-5 12zm17 9zm-40 31zm-11 28zm-7-64zm-8-3zm-1-2zm-8-3zm-9-11zm-37 56zm-2 22z"/><path stroke="#d74043" stroke-width="5.00" d="M453 754zm-9 21zm-12 30zm-23 9zm-1 3zm-9-15zm10-9zm-24 28zm-11 34zm-6 30zm41-27zm12 5zm8 7zm14 6zm-20-28zm32-8zm0-4zm4 4zm32 22zm-15 26zm3 19zm3-132z"/><path stroke="#ffffff" stroke-width="5.00" d="M452 726zm-16 34zm7 16zm3 2zm19-1zm10 6zm-12 22zm-21-7zm-1 2zm-14-5zm5 22zm3 6zm5 1zm9 0zm7 16zm34 18zm-46 27zm-15-1zm1 15zm-2 3zm-3 25zm-23-20zm-14 1zm-14-15zm-12-26zm1-9zm13-24zm3-7zm-9-7zm-12 4zm-15 10zm27-30zm22 8zm3 19zm1 6zm22 14zm0-31zm4-2zm-17-32zm-7 91z"/><path stroke="#a597d5" stroke-width="5.00" d="M451 712zm1 13zm4 0zm1 1zm-1 0zm-5 24zm10 27zm21-6zm13-2zm-27 34zm0 5zm-20 15zm4 17zm5 4zm-1 12zm21-4zm15 4zm-17 51zm-40-11zm-48 8zm3 15zm-5-45zm-5-19zm-5-1zm9-5zm5-3zm4 5zm-19-9zm-2-4zm-1-4zm-2-1zm4-5zm4 8zm7-12zm3 0zm4-8zm16-3zm8-5zm1-5zm-13-11zm-8 6zm1-15zm-28 5zm-19 47zm-1 1zm1 3zm-1 3zm-7 0zm18 7zm4 4zm0 2zm-1 4zm-1 8zm64-25zm4-5zm-14-12zm23-45z"/><path stroke="#f2bfc0" stroke-width="5.00" d="M444 750zm5 3zm15 11zm0 8zm1 14zm14 6zm14-6zm-4-12zm-2-1zm3-7zm-18-6zm-44 8zm-4-5zm-6 12zm9 11zm3-2zm-1 8zm-10-2zm-6 5zm1 1zm-13 1zm-3 0zm-1 2zm6 6zm-15 12zm-3-1zm5 11zm5-2zm3 11zm19-2zm10 21zm7 8zm-3 17zm15 8zm6 3zm-2-17zm11-6zm5-15zm-1-4zm4-3zm1-4zm-5-14zm5-7zm10-2zm4-2zm-9-9zm21-8zm7 6zm2-11zm-1-1zm-20 55zm-35 0zm-10-27zm6-7zm-1-10zm-9-2zm-2 11zm-21 49zm-3 9zm-13-4zm-22-1zm-12-11zm31 41zm4 19zm-10 5zm43-8zm10 6zm16 11zm15-14zm1-31zm-37 16zm-56-107z"/><path stroke="#5b51b0" stroke-width="5.00" d="M371 799zm64 94zm12 8zm-14 6zm103-18zm3 1zm5 0zm2 1zm1-1zm1 3zm0 2zm4 0zm3-5zm-1 0zm4-3zm2-3zm0-1zm6-4zm1-2zm4-4zm-5-3zm-2 0zm14 1zm-3-12zm2-4zm-15 44zm2 3z"/><path stroke="#c3bae3" stroke-width="5.00" d="M457 720zm2 3zm1 1zm-3 0zm-1 1zm-2 0zm0 1zm-2 0zm-2-1zm-3 0zm6 5zm0 2zm-24 26zm15 19zm12 10zm-7 8zm-8 4zm0 14zm4 4zm-2 16zm9 4zm0 7zm5-3zm3-2zm-5 17zm11 12zm4 4zm14-6zm5-11zm-6-9zm13-25zm4-19zm-8-2zm-2 0zm-1 1zm12-14zm-19-4zm-3-1zm-3-4zm-11-9zm-4 2zm26-14zm-62 40zm-8 5zm3 7zm-5 16zm3 3zm-1 3zm8 7zm-3 13zm5 5zm0 7zm8 1zm2-3zm15 12zm-1 2zm-6 8zm0 11zm0 11zm11-1zm2 3zm8-5zm2-6zm10-3zm-2 15zm-5 11zm-7-1zm-12-4zm-33 1zm-3-10zm10-13zm-10-7zm-4-6zm-4 10zm-20-4zm0-4zm-5 1zm-5 1zm1 14zm11 6zm-37-36zm10-11zm10-8zm2-12zm-20-15zm-5 2zm-1 6zm-4 6zm52-32zm8-2zm-3-11zm4-4zm-12 2zm2 5zm1-17zm1-9zm10 71z"/><path stroke="#e1dcf1" stroke-width="5.00" d="M457 724zm-4 4zm0 4zm-5 25zm-10 16zm-13-4zm-5-6zm-25 19zm0 3zm-3 28zm5 10zm-21 5zm0 5zm-1-13zm-17-2zm0 1zm-11-4zm3 22zm7 14zm6 0zm10 16zm8-4zm2 2zm5 7zm-6 20zm12 1zm10 4zm5-9zm-18 17zm-9 5zm-18-33zm27-31zm27-8zm7-5zm-6-4zm14-7zm14-9zm9 5zm7 4zm10-10zm9 10zm4 2zm7-8zm-1-9zm7-8zm4 2zm1-3zm-13-3zm0-15zm-11 4zm-4 3zm-3-7zm-11-6zm9-10zm9-1zm21 8zm-46 17zm-4 13zm-23 1zm14 35zm4 6zm-15 2zm-2 1zm7 10zm-5 4zm14 21zm-1 5zm-4 0zm-5 4zm9 5zm4-5zm1 16zm22 5zm-7 18zm9-43zm15-18zm-2-4zm4-11zm2-8zm1-13zm-14 15zm1 3zm-16 10z"/><path stroke="#eb9fa1" stroke-width="5.00" d="M453 751zm-7 4zm-10 9zm-6 5zm9 9zm1 2zm6-3zm18 14zm6 0zm2-2zm-1-12zm2-1zm4-4zm9 0zm2 6zm5-6zm4-10zm4 20zm5 14zm1 2zm-12 1zm2 15zm-19-11zm-15 5zm-14 9zm4 4zm-11-17zm-15 17zm-9 0zm0-3zm2-4zm2 20zm-6 1zm-5 0zm7 12zm7 0zm8 8zm-9 5zm-7 11zm-8 12zm-6 4zm-2 11zm-19-7zm1-3zm-8 4zm10-23zm-1-5zm9 1zm10-1zm-12-11zm6-11zm-20 14zm-22 1zm-9-31zm17-4zm26-4zm-1-5zm18-17zm3 1zm7-10zm-16-4zm-2-15zm65-11zm11 76zm3 14zm1 2zm-10 3zm20 10zm4 4zm1 3zm-6 1zm10-17zm-38 39zm-13 1zm-3-4zm3-2zm-12-1zm1-5zm-9 14zm4 6zm10 3zm5 1zm0-1zm-1 6zm35 2zm-89 9zm0-7z"/><path stroke="#8274c4" stroke-width="5.00" d="M456 720zm-8 35zm10 27zm14 12zm6-3zm0 7zm10-10zm16 9zm-59 12zm-3-2zm-7-24zm-20 19zm-5 7zm-11 24zm-22-12zm-11 4zm7 16zm-11 6zm6 10zm-6 10zm-13-25zm33-40zm22-21zm-5-9zm2 97zm18 10zm7 15zm10 5zm41-7zm-17-32zm-72 47zm163-16zm2-2zm3 1zm7-10zm3-1zm0-1zm2-7zm4-1zm1-1zm0-1zm0 0zm4 0zm0-9zm-2-3z"/><path stroke="#e48082" stroke-width="5.00" d="M413 758zm8 13zm5 1zm0-4zm4-6zm2-1zm7 18zm11 20zm-13 27zm-13 9zm-4-7zm-2-2zm-9 7zm4 13zm5 16zm8 9zm-12 4zm-12-6zm-6-2zm0-3zm-17-11zm0-6zm-9 12zm-2 8zm15 20zm16 16zm40-41zm-2-2zm5-16zm19 8zm3-4zm13-18zm4 36zm-5 7zm-25-3zm15 29zm-11 27zm-66-106zm-16 9zm-16-1zm-10 2zm-4 13zm13-4zm42-36zm81-27zm2 4zm0 1zm4 7zm3-18zm6-5zm11 28z"/><path stroke="#dd6063" stroke-width="5.00" d="M484 762zm11 3zm-4 10zm-8 11zm2 2zm-17-10zm-6-6zm-7 34zm6 2zm-16 7zm1 9zm-4 1zm31-4zm2 12zm10-7zm-16 19zm16 10zm-15 17zm-24 22zm1 9zm-35 20zm-15-18zm-3-10zm-4-6zm-4-7zm-7-1zm1-7zm-6 16zm-1-35zm11-1zm40 3zm-5-84z"/><path stroke="#f8dfe0" stroke-width="5.00" d="M455 724zm-6 29zm-10 10zm6 14zm-1 20zm0 1zm0 5zm-6 7zm3 12zm-14-1zm-4 10zm9 8zm-16 5zm-19-6zm-9-18zm3-2zm-15 11zm-5-6zm0-8zm-13 7zm-10 7zm5 14zm7 11zm0 3zm11 3zm-5 7zm-6 3zm24 8zm7-11zm1-3zm3 2zm3 0zm15 5zm-6 15zm-8 8zm-9 6zm37-11zm4-5zm2-14zm0-7zm19-17zm12-7zm1 18zm0 7zm11-4zm18 0zm-3-28zm2-9zm-8-8zm-7 9zm13-24zm10-14zm-35-16zm-14 27zm-26 2zm-31-18zm2-7zm-40 28zm92 86zm-10 13zm28 21zm9 0zm3-4zm0-11z"/><path stroke="#d74043" stroke-width="5.00" d="M482 757zm7 0zm0 13zm-3 3zm-1 11zm-10 1zm2 9zm11 5zm15-9zm-20 39zm-29 14zm-2 6zm11 9zm3 11zm25-6zm-33 42zm10 17zm-60-39zm-11-4zm-17 16zm-5-41zm41 10zm5-16zm9-2zm12-7zm-28-10zm-3-31zm3-6zm20-14zm-2-4zm24 3zm2 29z"/><path stroke="#e1dcf1" stroke-width="5.00" d="M476 756zm-12 8zm9 14zm2 8zm2 7zm10-8zm-6-7zm1-8zm-32 5zm-6 2zm-4 1zm-16-8zm-3 4zm0 11zm7 12zm12 10zm4-7zm-8 16zm4 11zm-11 14zm-11 3zm0-8zm-3-1zm-12-3zm7-12zm-16 0zm-5-5zm9-12zm4 1zm-3-7zm8 1zm-22-4zm-3 4zm-5-4zm-2-2zm-4 24zm-8 7zm-9 6zm-7-11zm22 21zm1 0zm8-11zm3 19zm2 4zm-2 0zm-2 1zm11-5zm8 14zm3 14zm-12-3zm-2 1zm-11 17zm12 5zm7 3zm7 6zm25 3zm0-8zm3-6zm-2-8zm-10-3zm7-8zm0-5zm-1-12zm2-2zm14 7zm11-15zm8 6zm0 3zm8-1zm1-6zm9 1zm3-18zm11 4zm2-15zm-14-10zm-9-6zm-7 16zm10 55zm-8 22zm-3 8zm-11 7zm-6-19zm52-28zm-62-109zm-8 0zm-76 93z"/><path stroke="#dd6063" stroke-width="5.00" d="M489 768zm-11 16zm-11 19zm5 5zm17-3zm19-11zm-53-12zm-7 3zm-15-7zm-7 13zm-7-2zm-3 0zm-17-2zm-18 30zm9 7zm4 12zm15 0zm-28 15zm-4 35zm50-22zm1-2zm15 24zm10-3zm12-16zm3 31zm-10 5zm12 19zm-11-89z"/><path stroke="#e48082" stroke-width="5.00" d="M439 747zm11 1zm0 26zm-3 14zm-19-13zm-3 1zm-28 23zm-1 5zm-2 1zm2 13zm8 11zm14 11zm0 2zm-8 24zm-25 10zm-3 13zm-2 4zm-5-2zm7 15zm8 7zm23-10zm15 8zm13 3zm11 1zm1-9zm-8-4zm4-25zm6-18zm14 15zm7 14zm15-27zm-10-9zm-5-5zm-18-22zm6-11zm1-7zm7-23zm6 0zm1 3zm5-4zm1-13zm-6-7zm0-3zm13 0zm9 18zm-68 42zm-45 21zm-4 2zm-6 5zm4-23zm-13 0zm-8 41zm24-89z"/><path stroke="#c3bae3" stroke-width="5.00" d="M451 712zm5 8zm0 1zm-4 4zm-4 1zm7 27zm-7 2zm-6 5zm-1 18zm7 6zm5 14zm-10 2zm-8 9zm2 7zm-15 0zm-2-1zm-10 16zm5 2zm5 2zm-6 9zm18 1zm1 8zm0 2zm-1 3zm-12 8zm13 17zm6 1zm-11 14zm-20-5zm-10 2zm-2-1zm-5-7zm10-10zm-4-12zm-2-8zm-8-4zm-13 3zm-7-2zm-3 7zm-6 6zm12 0zm12 3zm-4 11zm-27-29zm-5-2zm0-28zm2-2zm2-6zm14-4zm0-6zm18 20zm7-1zm5-6zm0-3zm3 5zm-10-44zm76-5zm9-10zm7 6zm3 9zm13-7zm-2-5zm1-4zm11 35zm-1 6zm-12 18zm-7 1zm-2-3zm12 9zm-5 28zm-7 4zm-10-10zm-12 8zm-6-1zm6 16zm14 2zm4 8zm-4 4zm-12 31zm2 6zm9 2zm-4-134z"/><path stroke="#ffffff" stroke-width="5.00" d="M446 727zm7 6zm-12 18zm11 7zm13 7zm-2 10zm-14 6zm-9-3zm-22 21zm1 25zm0 10zm-24-11zm-12 2zm-2-2zm-1 7zm3 13zm-5 15zm-11 12zm32-1zm35 4zm-2 21zm6 5zm-8 16zm50-9zm9-41zm-4-92zm-94 9zm-32 29zm-4 0zm-5 14z"/><path stroke="#a597d5" stroke-width="5.00" d="M456 719zm0 4zm-1 2zm0 0zm-2-1zm-1 1zm-1 1zm2 1zm0 0zm0 3zm2 2zm6-8zm-6 33zm35 5zm-3 42zm-3 8zm-8 7zm-13-20zm-14 3zm-23-1zm2-12zm-19 11zm13 18zm9 30zm22-1zm0 9zm6 0zm-12 34zm-25-10zm-23 24zm-4 1zm-8 4zm-15-23zm2-7zm-11-18zm5-5zm0-8zm11 1zm11 10zm-3 4zm-17-30zm-5 0zm-11 8zm-1 4zm-8 0zm2 7zm1-19zm17-17zm21 6zm6 5zm-7-31zm1-13zm9 1zm-26 8zm-1-2zm107 129z"/><path stroke="#f2bfc0" stroke-width="5.00" d="M442 757zm11 13zm8-4zm5 2zm-8 12zm-15 0zm-3-1zm-6 4zm-17-9zm-11 9zm-28 4zm-19 18zm25 40zm9-2zm1-6zm-17 16zm-8 11zm21 7zm13-1zm10 7zm15-14zm1-18zm-5-1zm-1-4zm-3-7zm-6-13zm-5-3zm12-1zm15-2zm5-3zm13 1zm18 0zm14-3zm0 16zm-14 7zm-12 4zm-11-3zm0 14zm11 13zm4 6zm2-11zm22-2zm2 3zm5 1zm1-6zm3 1zm-17 21zm-28 18zm-5 9zm6 5zm1 4zm-25-8zm10-19zm-34 18zm-12-4zm-14 1zm-10-10zm21 34zm93-145zm14 0z"/><path stroke="#d02024" stroke-width="5.00" d="M446 758zm-7 21zm-22-10zm16 50zm7 19zm6 0zm-35 8zm-21 71zm102-65zm4 6zm-11-45zm5-11zm2-1zm8 2zm-17-26zm-7 3zm-6-6zm16-8zm10 6z"/><path stroke="#f8dfe0" stroke-width="5.00" d="M452 726zm0 5zm-1 20zm-4 1zm3 4zm14 1zm20 4zm-1 10zm4 5zm-13 6zm0 3zm-2 4zm-5 0zm0 14zm4 2zm13 8zm7 5zm4 6zm0 7zm-2 8zm1 23zm-30-3zm-6-1zm-2 1zm-4 16zm-4 3zm-6 0zm-2 1zm6 6zm1 25zm29-19zm-11-52zm6-8zm-8-11zm-2 0zm-9-6zm-1 2zm-2 9zm5 14zm-29-8zm3-11zm0-4zm-35-1zm-2 3zm-4 3zm-3 5zm-5 3zm-1 3zm-9 7zm-3-16zm-10-1zm0-2zm35 23zm-4 26zm-1 10zm13 0zm9-7zm13-3zm-48 17zm20-87zm7-7zm-3-9zm-11 5zm51-10zm4-9zm67 21z"/><path stroke="#8274c4" stroke-width="5.00" d="M455 753zm13 20zm7 18zm19 9zm-37 17zm-2-1zm-30 14zm0 8zm3 16zm-5 17zm-5 13zm16-3zm17 7zm13-27zm18-16zm12 12zm4-5zm51 37zm1 0zm1 2zm2 2zm0 2zm0 1zm-1 0zm7-1zm0 2zm2 1zm-1-14zm2-1zm0-1zm0-1zm7-7zm3-2zm1-2zm-1-1zm-1-1zm0-1zm4-4zm1-2zm1 7zm0 2zm5 1zm-182-3zm-13 20zm-24-19zm-8-13zm-9-18zm13-21zm12-7zm14-16zm28 8zm-17 36zm-23-4z"/><path stroke="#5b51b0" stroke-width="5.00" d="M373 816zm30 18zm33 91zm99-35zm2-1zm4 1zm0 0zm2 0zm5 0zm2 0zm-3 5zm6 2zm2 2zm2-6zm1-3zm0-4zm4-3zm8-14zm5-2zm0-3zm-1 0zm0-3zm2-4zm5 14zm-18 32z"/><path stroke="#eb9fa1" stroke-width="5.00" d="M439 750zm13 2zm-1 6zm12 4zm15 10zm-2 14zm-3 1zm4 2zm-4 6zm-8-8zm-2-2zm-14-3zm-19-7zm-4 6zm-4-4zm-4 15zm-3 0zm7 2zm-1 1zm-2 5zm7-7zm7 7zm1 8zm7 0zm7-3zm-1 12zm1 0zm1 12zm-15-7zm-8-5zm-10 6zm0 2zm-10 4zm-7 4zm-3 1zm-4-12zm-1-5zm5-2zm5-2zm-2-9zm-10-4zm-20 6zm-3 28zm-3 10zm3 9zm-3 7zm-11-5zm-4-8zm-2-18zm30 23zm4-4zm5-2zm-3 8zm12-5zm4 18zm6 4zm-15 7zm-6-2zm8 9zm-9 4zm-11 0zm23 12zm0 18zm9 4zm40-23zm3-12zm-6-13zm5-10zm10 3zm1-14zm12 1zm7-5zm2-2zm19 8zm1 10zm-21 15zm-11 18zm-8 6zm-30-44zm2-7zm31-43zm9-2zm16 7zm-5 7zm16 5zm8-28zm0-10zm-4-5zm-3-3zm-94-1z"/><path stroke="#8274c4" stroke-width="5.00" d="M456 719zm3 5zm-12 0zm20 32zm18 15zm-7 10zm1 4zm23 17zm6-6zm-26 23zm-2 3zm7 7zm3 16zm-13 34zm-26-3zm-9 22zm-17-1zm-10-33zm10-8zm14-20zm-26-4zm-7-3zm-35 5zm4 17zm-5 18zm-4-1zm-3 1zm-12-22zm-1-16zm17-16zm4-6zm-1-1zm33-24zm30-20zm16 38zm12 16zm-70 57zm-9 26zm151-12zm5 0zm3 1zm6 6zm2-2zm1 0zm0 2zm3 1zm1-4zm3-1zm-1-2zm-1 0zm4-3zm1-2zm3-5zm3-1zm1-3zm1-1zm2 0zm0 0zm-1-3zm3 0zm-3-3zm-1 1zm4-2zm0-2zm2 0zm0-6zm6 10zm-2 1zm-8 8zm-12 15zm4 5zm-14 0z"/><path stroke="#e48082" stroke-width="5.00" d="M454 750zm-3 0zm-6 8zm-13 8zm-5 1zm8 9zm-8 9zm-6 2zm-6 2zm14 3zm13 18zm6-4zm-9 22zm-13-8zm-6-1zm-5 0zm-2 8zm-15 7zm-3 0zm-4 6zm-18-8zm-6 21zm18 22zm17-12zm8 8zm12-9zm0-7zm3-14zm24 34zm-5 6zm-6 3zm6 5zm-5 3zm-5 6zm42 16zm-11-61zm26-3zm3-34zm-1-11zm-8-1zm-1 6zm26-9zm-25-35zm1-9zm-16-1zm-1 0zm5 14zm-3 2zm-120 51zm-5 8z"/><path stroke="#d74043" stroke-width="5.00" d="M454 752zm25 6zm3 14zm-16 5zm-7 8zm-1 17zm-18 3zm-5-20zm0-3zm-1-8zm-17 24zm-20 0zm-3 5zm-3 18zm12 8zm6-2zm9-7zm-36 13zm-7 27zm34 23zm26 18zm18 9zm28-38zm7-7zm6-6zm-10-38zm-8-10zm28-14zm-54 45zm-15 13z"/><path stroke="#f8dfe0" stroke-width="5.00" d="M456 726zm-3 36zm7 9zm5 2zm0 2zm-1 1zm-4 0zm1 10zm17-7zm5 5zm-1 2zm5-1zm-10 12zm-5 7zm-5 9zm16 4zm10 18zm-1 14zm-23-5zm-6 24zm9 11zm-27 6zm-8-1zm-5-4zm-6 17zm6 13zm16-9zm-2-4zm4 14zm10-7zm11 17zm-9 6zm-69-10zm-8 2zm1-12zm9-9zm11-26zm11-3zm14-27zm-13-6zm-8-8zm-3-14zm-11 7zm-10 5zm-1 0zm-10-25zm-8 3zm1-14zm39 1zm1 1zm22 12zm15-9zm-3-21zm-12-2zm62-7zm-128 90zm0 1z"/><path stroke="#e1dcf1" stroke-width="5.00" d="M459 724zm5 35zm-2 3zm-5 17zm-6 7zm-4-7zm-16 6zm-8-17zm22-9zm30 25zm3 1zm-3 4zm5-11zm12-12zm9 21zm-10 17zm-30-1zm-15 23zm-4 13zm-3 17zm-6 9zm1 14zm6 0zm-11 6zm-13-8zm-14 23zm-16-11zm-11-2zm-14-17zm-9-18zm-1-8zm-4-11zm10-9zm1-5zm7 3zm4 2zm2 0zm3 16zm7 5zm3 3zm2 4zm-3 4zm-3 0zm-1-3zm-6 1zm16 15zm16-31zm7-10zm7 6zm3-14zm10-14zm-32-15zm-8 11zm-5-5zm-4-10zm-18 20zm-5 3zm33 3zm-1 10zm69 31zm10-4zm5-1zm5-6zm-12-3zm18 16zm6-8zm2-11zm-23 45zm-21 11zm-12 8zm12 9zm19 10zm2-5zm-11 14z"/><path stroke="#ffffff" stroke-width="5.00" d="M486 759zm4 3zm-5 11zm-8 6zm-11-8zm11-12zm-38 35zm-16-1zm29 13zm-37 27zm-8-3zm-12-5zm-8-13zm-30-4zm9 29zm-13 8zm5 23zm31-20zm52 14zm1 18zm18 29zm-7 8zm7 11zm4-2zm22-66zm3 0zm3-7z"/><path stroke="#dd6063" stroke-width="5.00" d="M492 760zm-6 15zm19 18zm-46-7zm-6-21zm-24 1zm-5 23zm-15 10zm-13 14zm-6 12zm19 2zm3 0zm6-9zm6-1zm-6 27zm9 2zm-19 37zm-14 16zm-20-10zm11-28zm-3-2zm-33-36zm43-39zm69 37zm9 17zm16 9zm9 17zm-22 19zm3 22zm-26 2zm-6-6zm6-8zm-21 14zm25 12z"/><path stroke="#d02024" stroke-width="5.00" d="M447 753zm-6 19zm5 28zm10 25zm20-28zm6-17zm-10-16zm21 34zm-31 68zm-53-46zm-25 63z"/><path stroke="#a597d5" stroke-width="5.00" d="M453 723zm0 2zm-3 0zm-4-1zm8 4zm-3 26zm-14 14zm1 16zm-7 11zm8 3zm11 3zm-11 14zm1 16zm-11 1zm-7 0zm-9-7zm2-15zm-26 1zm-9 11zm2 2zm-7 13zm-1 2zm-4-2zm-2 0zm-7 9zm2 7zm-8 1zm-1 0zm-4-7zm-7-8zm3-10zm5-8zm1-2zm5-5zm8-6zm0 0zm0-5zm-5 1zm8-9zm6 1zm9 1zm-2-7zm2-2zm0-4zm-20 38zm11 29zm19-3zm0-10zm18 40zm21 4zm18 8zm6 2zm15-20zm15-23zm-24-23zm12-19zm10-22zm8-2zm-5-8zm15 0zm-30-19zm-63 146zm-8 1zm-22-2zm23 25zm69-5z"/><path stroke="#c3bae3" stroke-width="5.00" d="M451 712zm8 11zm-5 2zm0 3zm-1 4zm-2-6zm-6-1zm-5 49zm3 4zm-11 5zm-12-8zm-3 16zm-16 4zm-10-2zm-7 3zm0 4zm-10 0zm0 2zm15 11zm5 6zm0-1zm-4 5zm-4 1zm-3 3zm-1 6zm-8-8zm-7 6zm3 4zm5 17zm3 2zm-13 2zm-2 9zm-2 3zm-1 0zm27 3zm0 11zm3 2zm10-6zm0 16zm4 9zm-1 1zm-8 13zm41-15zm13-1zm4-13zm-4-8zm6-8zm9 9zm-29 3zm-13-14zm3-5zm1-25zm-17-11zm4-5zm-22 17zm8 19zm-52-16zm10-22zm3-5zm11-33zm71 18zm7 1zm4 1zm-11 12zm5 3zm-3 5zm0 3zm21-1zm5 12zm23 9zm9 2zm-14 8zm-2 0zm1-49zm15-8zm2-2zm-3-10zm-11-3zm-5 2zm-20-6zm-16 135zm25 2zm1 6z"/><path stroke="#eb9fa1" stroke-width="5.00" d="M448 750zm-3 4zm-5 7zm4 4zm-10-13zm-4 22zm2 7zm7 5zm2 8zm1 10zm7-1zm0 9zm-2 2zm-2 4zm-4 1zm9 8zm-8 10zm-10 6zm-6 9zm-6 1zm-3-3zm-4 8zm-20 7zm-6-11zm6-6zm-3-8zm6-5zm1 1zm-1-6zm8-1zm3-1zm-2-4zm-1-9zm-9-3zm-2 9zm-3 0zm4-18zm7-4zm1-2zm3 2zm-5-10zm-3-3zm0-16zm2-3zm20 9zm-1 19zm14 11zm-2 16zm-8 6zm13 30zm7 22zm0 8zm0 4zm-5 3zm-8 8zm4 9zm14-1zm8-2zm-1-2zm0-1zm-1-2zm10 4zm-9-16zm2 0zm-4 0zm0 1zm12-9zm-2-10zm13 13zm13-21zm5-5zm0-6zm-13-5zm-7 2zm0-3zm-5-3zm4-3zm-5 8zm18-22zm-24-15zm-6-3zm7-10zm-5-14zm3-12zm2-1zm6 3zm7 5zm7-9zm7-1zm-3 16zm12 1zm7-5zm-38-16zm-98 38zm-2-2zm16 39zm0 3zm-8 11zm-5 14zm3 18zm-1 0zm2 2zm4 1zm-3 14zm17-3zm3 0zm1 0zm-7 13zm25-11zm5-22zm-23-5z"/><path stroke="#5b51b0" stroke-width="5.00" d="M368 825zm-21 11zm187 54zm3-2zm8 1zm5 5zm2 2zm0 1zm0 0zm0 2zm2 0zm4-3zm1 0zm1 2zm3 3zm-8-9zm1-3zm5-4zm3-14zm-2-1zm4 1zm6 0zm0-2zm2 0zm0-2zm0 3zm6 1zm-32 25z"/><path stroke="#f2bfc0" stroke-width="5.00" d="M444 757zm-11 13zm-7-7zm-12 11zm-10 18zm-13 14zm-3 14zm8 3zm7 3zm14 6zm11 10zm4-3zm11-10zm8 5zm2-6zm4-15zm14-4zm1-1zm4 2zm5 2zm5-4zm4-4zm2 0zm6-4zm-9-4zm8-17zm-11-11zm-6 6zm-13 2zm-3-3zm3-2zm3-10zm0 35zm13 26zm-4 10zm-7 4zm-5 2zm3-7zm8 13zm-5 3zm-6 6zm-4 5zm-5-1zm0 10zm-5 3zm7 6zm-15 8zm-15 9zm-12-15zm-12 7zm-13 9zm-5 15zm16 7zm27 0zm31-8zm4 19zm-33-59zm-1-11zm-7 3zm-37 15zm-5-9zm-5-11zm3-4zm-12-17zm-5-15zm-7-4zm-4-8zm-2 35zm1 5zm9 8zm3 17zm52-56zm2-2zm5 2zm10 3zm8 0zm45 26zm2 6zm-1 5zm2 4zm14 4z"/></g><path d="M215.2 371.4C216.7 371.0 218.0 370.9 219.7 370.9C221.3 370.8 223.1 371.0 224.9 371.2C226.8 371.5 228.9 372.0 230.9 372.3C232.9 372.6 234.9 372.8 236.8 373.1C238.8 373.4 240.7 373.6 242.5 374.2C244.2 374.7 246.1 375.4 247.6 376.5C249.0 377.6 250.3 379.1 251.2 380.7C252.2 382.3 252.5 384.0 253.3 385.9C254.0 387.8 255.2 390.1 255.9 392.2C256.6 394.3 257.4 396.5 257.5 398.4C257.6 400.4 257.1 402.1 256.4 403.7C255.7 405.3 254.0 406.3 253.3 407.8C252.5 409.4 251.9 411.4 251.7 413.1C251.6 414.8 251.8 416.4 252.2 418.3C252.7 420.2 253.6 422.6 254.4 424.6C255.1 426.5 256.6 428.4 257.0 429.8C257.3 431.2 257.1 432.1 256.4 432.9C255.7 433.8 254.2 434.5 252.8 435.0C251.3 435.6 249.1 435.5 247.6 436.1C246.0 436.6 244.3 437.1 243.3 438.2C242.4 439.2 242.0 440.9 241.8 442.3C241.6 443.8 242.0 445.2 242.2 446.6C242.3 448.1 242.5 449.2 242.7 451.0C242.9 452.9 243.3 455.8 243.2 457.8C243.0 459.7 242.7 461.6 241.9 462.8C241.1 464.1 240.0 464.6 238.5 465.3C236.9 466.0 234.7 466.7 232.6 467.0C230.5 467.4 228.4 467.6 225.9 467.4C223.4 467.3 220.3 466.4 217.5 466.2C214.7 465.9 211.9 465.8 209.1 465.8C206.3 465.7 203.1 466.0 200.7 466.0C198.3 466.0 196.5 466.4 194.8 465.8C193.1 465.2 191.7 463.6 190.5 462.4C189.4 461.2 188.7 459.8 188.1 458.6C187.4 457.4 187.1 456.8 186.4 455.3C185.7 453.7 184.8 451.0 184.0 449.2C183.1 447.4 182.5 445.9 181.5 444.3C180.5 442.6 179.1 441.2 177.9 439.4C176.7 437.6 175.5 435.4 174.2 433.3C173.0 431.3 171.5 429.0 170.5 427.2C169.5 425.3 168.4 423.8 168.1 422.3C167.8 420.8 168.3 419.5 168.7 418.0C169.1 416.6 170.1 415.3 170.5 413.7C170.9 412.2 170.8 410.5 171.2 408.9C171.5 407.3 171.5 405.6 172.4 404.0C173.3 402.4 175.3 400.7 176.7 399.1C178.0 397.4 179.3 395.5 180.3 394.2C181.3 392.9 181.3 392.4 182.7 391.1C184.2 389.9 187.0 388.3 188.9 386.9C190.8 385.4 192.3 383.9 194.3 382.6C196.3 381.4 199.0 380.5 201.0 379.4C203.0 378.4 204.6 377.5 206.2 376.5C207.9 375.4 209.2 373.9 210.7 373.1C212.2 372.2 213.7 371.7 215.2 371.4Z" fill="none" stroke="#1fa85a" stroke-width="1.45" stroke-dasharray="2.8 2"/><path d="M261.8 444.5C262.0 443.8 262.8 442.9 264.1 442.5C265.4 442.2 268.0 443.0 269.7 442.5C271.3 442.1 272.8 440.9 274.1 439.7C275.4 438.5 276.3 437.1 277.5 435.5C278.7 433.9 280.1 431.5 281.4 429.9C282.7 428.4 284.0 427.1 285.3 426.3C286.6 425.4 288.1 424.8 289.3 424.9C290.5 424.9 291.9 425.4 292.6 426.5C293.3 427.7 293.5 429.9 293.5 431.6C293.5 433.3 293.2 435.2 292.6 436.6C292.0 438.1 290.8 439.4 289.8 440.6C288.8 441.7 287.3 442.3 286.5 443.4C285.7 444.4 285.1 445.4 284.8 446.8C284.5 448.1 285.2 450.0 284.8 451.2C284.4 452.4 283.6 453.5 282.6 454.0C281.5 454.5 280.1 454.4 278.6 454.0C277.1 453.6 275.4 452.6 273.6 451.8C271.7 450.9 269.2 449.8 267.4 449.0C265.6 448.2 263.9 447.5 262.9 446.8C262.0 446.0 261.7 445.2 261.8 444.5Z" fill="none" stroke="#e8202a" stroke-width="1.45" stroke-dasharray="2.8 2"/><circle cx="226.6" cy="361.4" r="7.7" fill="none" stroke="#f0643a" stroke-width="1.45" stroke-dasharray="2.8 2"/><text x="170.0" y="359.9" font-size="8.6" font-style="italic" fill="#111">Tmem119</text><linearGradient id="g4" x1="0" y1="0" x2="0" y2="1"><stop offset="0.00" stop-color="#d02024"/><stop offset="0.10" stop-color="#d74246"/><stop offset="0.20" stop-color="#de6567"/><stop offset="0.30" stop-color="#e68789"/><stop offset="0.40" stop-color="#eda9ab"/><stop offset="0.50" stop-color="#f4cccc"/><stop offset="0.60" stop-color="#fbeeee"/><stop offset="0.70" stop-color="#eeecf7"/><stop offset="0.80" stop-color="#cec6e8"/><stop offset="0.90" stop-color="#aca0d8"/><stop offset="1.00" stop-color="#887ac7"/></linearGradient><rect x="286.9" y="355.3" width="8.3" height="24.6" fill="url(#g4)"/><text x="282.1" y="358.3" font-size="8.2" text-anchor="end" fill="#111">20</text><path d="M286.9 355.3h1.6M293.6 355.3h1.6" stroke="#333" stroke-width="0.5"/><text x="282.1" y="370.6" font-size="8.2" text-anchor="end" fill="#111">10</text><path d="M286.9 367.6h1.6M293.6 367.6h1.6" stroke="#333" stroke-width="0.5"/><text x="282.1" y="382.9" font-size="8.2" text-anchor="end" fill="#111">0</text><path d="M286.9 379.9h1.6M293.6 379.9h1.6" stroke="#333" stroke-width="0.5"/><rect x="304.45" y="349.3" width="135.0" height="121.4" rx="1" fill="none" stroke="#a0a0a0" stroke-width="1.1"/><g transform="scale(0.5)" stroke-linecap="round" fill="none"><path stroke="#f2bfc0" stroke-width="5.00" d="M719 750zm15 0zm-2 8zm20-2zm23 43zm1 1zm-5 4zm-15 7zm-13-6zm0 16zm-24 1zm-7-1zm-14 0zm2-7zm-3 18zm15 11zm3 12zm-2 10zm-5-2zm-10 19zm-15 5zm-1 17zm0 22zm28-27zm12-11zm12 3zm-7 10zm4 9zm13 16zm8-11zm4-10zm-1-21zm14-24zm-4-5zm-17-6zm-3 8zm-4-2zm34-24zm1-3zm-52-28zm-25-11zm2-4zm-12 8zm-12 10zm-19-16zm5 40zm-5 1zm-5 6zm17 6zm8-6zm-4 15zm-15 4zm0 0zm5 11zm-2 6zm-4 22z"/><path stroke="#d74043" stroke-width="5.00" d="M747 768zm-7 3zm-13 8zm-3-2zm-18 16zm-9-19zm-12 12zm-19 2zm-2 8zm-10 6zm-14 15zm-4 3zm-8 16zm4 11zm15 7zm19-2zm1 11zm-4 25zm16 15zm37-1zm21-61zm-10-24zm-29 3zm-9 7zm-19-6zm77-32zm8-6zm4 28z"/><path stroke="#8274c4" stroke-width="5.00" d="M731 712zm6 8zm2 3zm-2 1zm0 0zm-3 1zm-1-1zm-1 1zm1 5zm-8-5zm16 46zm-11 3zm-19 11zm-6 12zm-8-6zm-20 7zm-5-14zm-5-9zm-13 25zm-14 4zm-1 1zm-13 17zm1 22zm4 0zm23-5zm1 13zm-1 15zm-13 1zm3 9zm24-36zm2-16zm4-7zm1-6zm25 3zm-1 9zm-4 11zm2 15zm-2 14zm18 19zm9-5zm10 14zm-15 3zm2 6zm32 20zm-16-62zm11-4zm-9-11zm-17-6zm21-17zm0-3zm11-10zm14-29zm-54 27zm60 39zm-3 10zm52 35zm8-1zm2 2zm3 8zm18-28zm-2-2zm4 1zm3-15z"/><path stroke="#ffffff" stroke-width="5.00" d="M732 725zm-1 25zm13 9zm0 5zm18 8zm4 1zm2-3zm-3 18zm1 21zm5 9zm9-15zm5-9zm-12 45zm3 12zm-1 13zm-31 2zm11-33zm-22-12zm-8-6zm-6-21zm4-14zm3-3zm-18-2zm-29-3zm2 25zm-3 6zm-9 12zm-19-7zm-25 27zm49 1zm4 0zm2 42zm151 13z"/><path stroke="#eb9fa1" stroke-width="5.00" d="M734 752zm18 12zm4-8zm18 3zm-11 18zm-4-1zm-3 4zm-1 9zm11 19zm-13 4zm3 7zm-6 2zm2 15zm-1 14zm-7 9zm12 1zm10 0zm4-4zm2 0zm5-3zm-21 20zm-6-1zm-6 9zm9 2zm-22 5zm-4 2zm3 3zm-8-1zm-7-2zm0 6zm10 6zm2 1zm-16 13zm-28-12zm-24-7zm-2-11zm-5 0zm-11-19zm8-3zm6-7zm12-4zm-3-5zm-11-7zm-20 4zm1 9zm-6-21zm21-27zm-2-2zm14-14zm-10-6zm26 15zm2 3zm10-2zm0-3zm4 5zm10 14zm-7 9zm-7 2zm-13-4zm-1 2zm-7-5zm7 14zm30-1zm1 7zm16-3zm4 6zm3 4zm-12 14zm-9 1zm1 22zm42 32zm-34-100zm5-14zm-2-22zm3-2zm2-1zm-21-14zm81 32zm1 1z"/><path stroke="#a597d5" stroke-width="5.00" d="M736 723zm-1 1zm-1 1zm-1 2zm-2-1zm8-2zm-11 26zm-8 24zm-5 2zm17 21zm-8 6zm-16-1zm4 15zm17 8zm0 8zm10 0zm0 7zm10 4zm2-13zm-14-14zm32-16zm4-3zm-6-13zm10 29zm-4 47zm-24 13zm-18 2zm-7 5zm-10 5zm-8 6zm5 9zm8 0zm1 18zm22-13zm-43-23zm3-13zm2-13zm15 5zm-31 10zm-15-24zm-2-2zm-10 1zm-3 7zm0 1zm-10 2zm-4-2zm-2 4zm-1 7zm0-20zm5-9zm2 0zm2 0zm3-5zm0-3zm6 0zm7-3zm10 9zm-38-11zm0-6zm-1-3zm2-4zm-2-3zm8-1zm14-13zm4-7zm17 5zm2-2zm-5-20zm-46 53zm-5 6zm0 2zm1 2zm0 3zm28 55zm7-2zm8 24zm2 8zm162-28zm9 10zm14-44z"/><path stroke="#c3bae3" stroke-width="5.00" d="M741 724zm-5 2zm-3 6zm2 0zm0 21zm-2 1zm-17 6zm-1-3zm1 7zm-4 2zm-6 6zm6 11zm6-3zm2-2zm9 3zm16 5zm5 3zm6-3zm1 7zm0 1zm-1 3zm-9 6zm-9-1zm-2 16zm2 7zm-2 15zm0 14zm2 13zm2 9zm-8 15zm-7-6zm-1 1zm-1 0zm0 3zm-3-10zm-13-16zm-15 0zm4 14zm-9 9zm-12 10zm0 9zm-6 11zm1 5zm-18-32zm-1 0zm4-6zm13-11zm3-5zm2-2zm0 0zm2-8zm-2-14zm2-12zm-3-4zm1-6zm-4-1zm0-2zm-7-16zm-11 7zm-6-1zm-1-4zm0 15zm-7 5zm12 10zm7-1zm6 0zm-2 22zm-17-2zm-8 1zm-4-12zm60 4zm16-25zm6-1zm9-16zm-13-12zm-14 18zm-7 7zm70 7zm8 1zm-1-9zm5-14zm13 4zm1-8zm0-8zm-15-16zm-2 1zm-4-4zm-2 7zm1 2zm-12-6zm-2 3zm9 73zm0 2zm15 0zm-13 55zm-19 2zm-2-2zm-17 7zm-8-7zm-4 0zm9-8zm-2 26zm103-35zm7 1zm14-7zm6-6zm7-9zm1-2z"/><path stroke="#5b51b0" stroke-width="5.00" d="M663 784zm108 16zm45 89zm7 1zm4 5zm3 1zm2 1zm0 2zm7-2zm3 2zm-5-6zm0-1zm1-2zm1-3zm-1-1zm4-3zm0 0zm4-4zm4-4zm-2-5zm7-6zm1-3zm-1-2zm2 11zm1 1zm4 0z"/><path stroke="#e1dcf1" stroke-width="5.00" d="M736 721zm-6 27zm-16 4zm5 11zm-12 4zm14 11zm-13 19zm-11 1zm-18 6zm-8 2zm-6-12zm-17-6zm-11 34zm-9 25zm12 7zm1 1zm1 1zm1 0zm1 5zm2 6zm9-7zm-1-4zm3-3zm5 6zm1 7zm9-2zm25 5zm3-16zm-8-25zm-2 0zm-13 10zm-7-14zm38-4zm6 2zm-1-8zm19-8zm2 6zm3 1zm26 3zm1-4zm0-2zm6-6zm3-32zm-8-2zm-12 6zm-7-5zm3-15zm-4 93zm-2 9zm1 3zm-8-5zm-8 22zm-3 5zm4 5zm-14-7zm19 25zm2 3zm5 20zm-58-6zm-16-2zm14-23zm-28-9zm113-32zm8 3zm-2 6zm80 6z"/><path stroke="#e48082" stroke-width="5.00" d="M735 753zm-9 2zm-2 10zm16 10zm2-1zm3 3zm-7 5zm17 3zm13 3zm-26 13zm11 20zm-29 6zm-25 2zm-25 8zm-1 1zm-9 11zm-35-14zm20-29zm5-10zm12-13zm11 0zm19 4zm-2 5zm1 0zm7 2zm5-37zm37 7zm6-3zm7-2zm15 90zm-2 4zm-4 11zm-11 8zm-13 2zm-10 1zm1 13zm-7 9zm1 13zm24 1zm-43-26zm-12 0zm-7 3zm4-11zm20-9zm0-5zm-8-7zm33 4zm3-6zm-57 49zm-9 0z"/><path stroke="#d02024" stroke-width="5.00" d="M743 757zm3 13zm8 12zm5 0zm0 5zm3-1zm-12 5zm2 17zm0 4zm13 1zm-2 16zm8 3zm2 16zm2 9zm-26-17zm-17 4zm3 12zm-15 6zm-1-6zm-6-1zm-15-8zm-9-14zm-26 13zm35-47zm22 6zm1-11zm9 7zm1 15zm-9 0zm9-30zm-18-16zm-20-12zm83 14zm5 16zm7 6zm-6 6zm-57 94z"/><path stroke="#dd6063" stroke-width="5.00" d="M724 757zm7 1zm26 14zm8 1zm0-2zm1-5zm11-4zm-15 21zm-20 43zm10 6zm7 0zm-6 15zm-14 9zm-3 3zm-16-35zm-18 4zm-4 0zm-2-12zm2-24zm-3-3zm-30 32zm-14 13zm1 4zm15 16zm22 29zm9 1zm10 18zm7-1zm-41-6zm-53-53z"/><path stroke="#f8dfe0" stroke-width="5.00" d="M732 725zm-1 26zm36 6zm-1 31zm-15 21zm-8 13zm-16-8zm1-8zm-8 21zm15 13zm6 12zm-16 29zm-1 4zm-10-12zm-5-3zm-10 9zm-10 4zm-11-6zm-3-11zm-8 22zm-12-1zm-12-22zm0-4zm-8-5zm8-12zm-14-5zm14-17zm6 3zm12-2zm2 20zm8 0zm-17 12zm-24-41zm51-15zm1 5zm18-29zm65 40zm8 20zm4 31zm-4 3zm-17 19zm-10 14zm-13 15zm26 1zm73-21zm-126-45z"/><path stroke="#e1dcf1" stroke-width="5.00" d="M727 753zm18 16zm-9 8zm19 5zm9 1zm15-7zm-15-15zm20 39zm-22 22zm-17 4zm0 2zm-19 10zm6 11zm-11 13zm-6 2zm-14 5zm-10 9zm-14 1zm-11 28zm1 2zm17 7zm24-5zm0-13zm-2-4zm8-13zm0-2zm6 0zm6 6zm-6 19zm7 7zm7 8zm14 3zm3-50zm16-16zm-38-44zm-7-5zm-21 9zm-16 8zm-9-3zm0 17zm-14-5zm-16 20zm-12-12zm14-46zm17-1zm18-13zm18 6zm14-5zm-5-8zm0-2zm-7 76zm-1 7zm131 34z"/><path stroke="#c3bae3" stroke-width="5.00" d="M727 724zm5 7zm-1 19zm-6 4zm-13 7zm-3-3zm-8 13zm-15 12zm-6 0zm-9-1zm-6-5zm-10 15zm-6 0zm2 18zm-12 7zm4 6zm-15 6zm-1 1zm22 9zm6-3zm8 7zm-4 4zm2 4zm-2 1zm-4 2zm-7-6zm-8 20zm25 7zm14-6zm3 0zm0-6zm-6 1zm9-26zm-1-9zm-1-3zm-9-7zm0-5zm1-16zm6-3zm2-3zm2 7zm9 6zm-4 4zm20-5zm21-3zm-3-17zm7-2zm3-2zm3 6zm4 1zm12 2zm1-4zm7-1zm-3-9zm3-2zm1-5zm3 2zm1-8zm-22 11zm-5-3zm-2-4zm1-4zm-21 7zm26 34zm4 2zm-4 8zm19 11zm6-20zm-1-9zm9 7zm-22 42zm2 6zm4-1zm7 1zm-3 7zm-1-1zm1 12zm11-16zm-30-6zm-1 0zm-4 2zm-6 10zm7 6zm0 3zm-4 3zm-18 6zm-4 8zm7 3zm0 7zm-1 11zm0 0zm7 9zm14 13zm10-39zm-46 5zm-4 4zm-7 18zm-15-18zm-8-3zm-8 14zm37-43zm2-4zm4-1zm-7-3zm7-9zm-1-2zm2-7zm-7-1zm-6-4zm1-6zm24-4zm8 13zm106 57zm2 4zm9-24zm3-8z"/><path stroke="#5b51b0" stroke-width="5.00" d="M734 728zm-96 94zm97 50zm83 17zm9 1zm3 0zm4 0zm2-1zm0 1zm2-3zm2-2zm1 0zm1-4zm5-5zm1-1zm2 0zm0 4zm3-9zm-1-1zm0-1zm-1 0zm-5 2zm0 1zm-2-1zm0 1zm13-3zm0 0zm4 3zm-7-11zm1-4zm-25 38zm3 3z"/><path stroke="#dd6063" stroke-width="5.00" d="M732 752zm-24 16zm6 10zm-35-11zm-4 14zm-7 32zm7 12zm27-5zm0 14zm7 20zm13-29zm4 1zm-1-9zm25 21zm2 5zm4 4zm-3 5zm-10 56zm-55-15zm0-4zm-19-11zm-4-9zm-5 26zm-18-48zm-12-16zm126-44zm2-3zm9-8zm-1-1zm-1-9zm1-7zm24 42z"/><path stroke="#d02024" stroke-width="5.00" d="M727 752zm25 8zm-5 11zm13 3zm2 1zm6 3zm3-3zm-14 22zm3 26zm5 3zm6 10zm-1 22zm-26-19zm-10 0zm-17-13zm4-18zm3-11zm-17-2zm-11-6zm18-6zm3-5zm-11-10zm-1 1zm-30 16zm14 32zm7 27zm16 1zm3 56zm18 5zm50-105z"/><path stroke="#eb9fa1" stroke-width="5.00" d="M769 757zm3 3zm-3 12zm3 11zm-14-4zm-7-7zm-6 1zm-12-8zm-16 3zm-3 6zm-7 11zm0 1zm-14 9zm-2 3zm-4 0zm-10 1zm-3 4zm-6 17zm-2 4zm-10 4zm-6 7zm8 13zm13 5zm5 14zm10 5zm4-1zm-9 6zm-2 2zm7 6zm-15 0zm5 18zm1 2zm5 2zm7-5zm-2-2zm9 5zm11 2zm7-9zm1-5zm17 0zm5 12zm1 0zm-8 6zm25-24zm15-42zm-5-26zm-2-2zm-19-3zm-3-11zm-12 0zm-4 12zm-4 4zm-8 0zm-10-3zm-5 10zm1 8zm-1 6zm0 4zm7-3zm17-4zm1-8zm-11-23zm23-18zm17 1zm-62 42zm-3-3zm-4 4zm0 2zm5 4zm-12-8zm22 32zm2 4zm7-2zm-1 7zm-47 30zm-16-32zm-14-46zm-2-5z"/><path stroke="#d74043" stroke-width="5.00" d="M709 766zm-6 2zm16 10zm4 22zm-25 18zm0 2zm-4 0zm-7-7zm-18-2zm-4 5zm6 24zm0 35zm17 8zm10-5zm-28 22zm-16-7zm-23-43zm-4 2zm11-33zm117 31zm2-3zm-28 54zm5 6z"/><path stroke="#ffffff" stroke-width="5.00" d="M733 730zm25 54zm-3 7zm-15 20zm-7-7zm-8 5zm-7 1zm-25 15zm-9-10zm-7 8zm-9-6zm-6 8zm-8 17zm2 10zm8 2zm-26 13zm-5 0zm29 22zm18 5zm50-20zm6 18zm2 11zm-2 27zm40-109zm9-28z"/><path stroke="#e48082" stroke-width="5.00" d="M731 754zm-9 3zm-12 5zm-10 1zm-3 6zm-20 5zm27 15zm14-5zm6-9zm-6-2zm11 22zm4 3zm-4 4zm0 1zm-7 7zm-6 4zm10 10zm10 1zm5-11zm-7 29zm15 2zm-2 6zm13-1zm6-1zm7 6zm-6 15zm-22 28zm2 24zm3 0zm4 1zm-58-59zm-7-6zm-11 9zm-9 5zm-8-9zm-3-5zm-3-4zm8-3zm-5-19zm13-16zm2-1zm16 14zm12 19zm-33 37zm-10-4zm-4 10zm7 6zm-6 9zm13 1zm-35-64zm-7-5zm119-57zm-2-6zm1-2zm16 11zm25 9zm-2 10zm-11 15zm6 11z"/><path stroke="#a597d5" stroke-width="5.00" d="M731 712zm5 8zm-1 5zm1 1zm-4 0zm0 0zm-2-1zm-2 30zm0 2zm-15 7zm2 21zm0 24zm1 7zm-8 0zm-13 3zm3 17zm0 2zm21-2zm14-8zm27-6zm0-3zm12-19zm-1-20zm6-1zm4-8zm-19 0zm-5 8zm-3 6zm-13-8zm1-5zm-53 27zm-6 6zm-6 14zm-7 4zm-3 1zm0-3zm-3 5zm-9-6zm-4-4zm-6 0zm1 7zm1 8zm3 2zm3-5zm4 8zm-7 3zm14 6zm9 3zm6 12zm-14 16zm5 8zm18-1zm25-28zm28 13zm12-21zm4 1zm16-1zm1 12zm50 31zm1-1zm3 1zm7 0zm1 0zm-3 5zm-5 1zm16 6zm-4-19zm3-3zm0 0zm10-12zm1-7zm-183-68zm-8-5zm-15 2zm3 9zm4 2zm-5 3zm-5-1zm-8 25zm-11-2zm-3 8zm7 3zm2 15zm-1 0zm13 4zm4 0z"/><path stroke="#f8dfe0" stroke-width="5.00" d="M736 719zm7 43zm-3 14zm8 2zm-9 7zm13 4zm12-4zm4 14zm13-12zm-6-18zm-11-7zm-1 60zm-6 8zm18-5zm-1 32zm-3 6zm-9 10zm-3 7zm-6-4zm-1 9zm-4 13zm-4 20zm-32-8zm-35 6zm-12 3zm-14-32zm16-5zm9-14zm-25-8zm-25-31zm10-7zm35-1zm16 9zm11 14zm5-4zm4-19zm-1-22zm7 1zm-14-10zm13 68zm8 17zm13-5zm7-10zm90 34z"/><path stroke="#8274c4" stroke-width="5.00" d="M736 720zm-1 5zm-1 1zm-1 1zm-3-2zm3 7zm-3 24zm-7 20zm33 2zm24 7zm-7 31zm-15 33zm12 4zm-41-4zm-21 5zm23 21zm-7 26zm-14 0zm-4-6zm-13 8zm-26 1zm-11-14zm-15-20zm-6-13zm-3-2zm11 0zm2 1zm2-3zm17-10zm-8-14zm-7-5zm17-2zm13 11zm17-10zm2-5zm8-1zm22 6zm-54-35zm-26 2zm-8 20zm-13 5zm1 5zm-5 19zm6 3zm128 50zm-1 16zm58-18zm1 0zm13 5zm7 4zm12-22zm2-8z"/><path stroke="#f2bfc0" stroke-width="5.00" d="M724 750zm23 6zm6 22zm2 8zm10-10zm7-11zm9 22zm-9 14zm2 15zm-12 3zm-2 13zm15 5zm-19 12zm-13 9zm-8-4zm-3 19zm-10 7zm3 4zm1 4zm-1 6zm9-2zm10-8zm17-12zm0-6zm7-4zm3-1zm12 3zm-27 50zm-5 5zm0 2zm-1-1zm6 2zm-51-25zm7-17zm-11-17zm3-3zm1 0zm8-7zm-15-11zm6-7zm-1-4zm-8 2zm-9-4zm3-9zm13-2zm-24-15zm-5 10zm-8-17zm14-9zm29 2zm5-11zm11-1zm6 22zm-2 6zm7 11zm-6 13zm-45 42zm-4-3zm-2-2zm-12 13zm-3 8zm-1 5zm-7 0zm7 9zm0 9zm8 7zm2-14zm6-8zm1-1zm-29-23zm10-15zm3 0zm-27-17zm-2-10zm-4-6zm5-12zm16 4zm2 1z"/><path stroke="#5b51b0" stroke-width="5.00" d="M732 726zm1 157zm80 6zm8 1zm0 0zm9-1zm5 1zm0 2zm-2 1zm-1 2zm0 1zm0 0zm1 1zm6-1zm4 5zm6-29zm3 0zm0-3zm1-1zm1 1zm4 2zm2-1zm0 1zm-6-7z"/><path stroke="#e48082" stroke-width="5.00" d="M744 757zm30 8zm1 3zm-2 4zm0 14zm11 8zm-6 6zm-5 5zm-4 0zm-2 3zm-1 0zm-5 12zm-11 18zm11 5zm1 2zm-15 10zm-1-2zm-13 3zm9 10zm4 2zm6 11zm4 12zm-10 8zm13 8zm-14 14zm-16-15zm-16 6zm-3 3zm14-26zm3-1zm-15-6zm1-12zm18 0zm37-4zm1-1zm8 1zm-36-58zm-6 3zm-8 2zm-2 5zm-6 10zm-10 4zm-7 0zm9-13zm2 0zm9-15zm6-19zm-8-7zm-1 1zm0 0zm-7 2zm-6 0zm-5 14zm-3 0zm-16 2zm-25-3zm-12 14zm15 14zm5 4zm12 10zm-8 10zm-8 5zm28 21zm-10 32zm-53-54zm3-21z"/><path stroke="#f8dfe0" stroke-width="5.00" d="M733 723zm-12 28zm7 4zm-2 3zm-6 3zm13 1zm26 4zm1-3zm2 10zm3 15zm-12-1zm0 8zm11 18zm-21 7zm-22 2zm-1-15zm-1-21zm-17-9zm-4-2zm-13 26zm-11 2zm15 11zm4 13zm12 3zm3 12zm-4 2zm12 12zm-19 15zm-16-2zm-5 9zm-9-5zm0-2zm0-2zm-6-18zm4-5zm-16-7zm2-5zm-28 9zm25 42zm44 38zm15-24zm5-5zm-5-5zm16 11zm5-10zm22-18zm14-6zm-1-20zm25-50zm-3-12zm-13-24zm-12 146z"/><path stroke="#dd6063" stroke-width="5.00" d="M759 760zm-15 12zm-6 34zm-3 0zm10 1zm11 3zm9-6zm7 3zm12-7zm3-2zm-9 54zm-19-5zm-24-11zm-30 11zm-12 11zm-17-21zm-6-10zm-6-3zm-10 1zm-9-3zm19-22zm5 0zm5 5zm35-13zm-4-16zm-1-6zm25 105zm13 52zm-74-52z"/><path stroke="#a597d5" stroke-width="5.00" d="M736 719zm3 4zm1 1zm-6 4zm-1 0zm-5-2zm-2 1zm24 29zm1 8zm-6 1zm8 15zm2 4zm4 8zm11 8zm-3 4zm16-14zm-13-28zm-8-5zm-40 17zm-7 9zm-5-8zm9 23zm3 0zm-1 2zm4-5zm4 7zm14-3zm4 39zm-2 15zm-20 12zm-15 28zm25 12zm-6 11zm-61-7zm-21-39zm3-3zm-8 0zm-4 1zm2-11zm13-3zm1-14zm1-3zm-10-4zm1-8zm-8-6zm-6 0zm1-12zm34-10zm9-4zm4-2zm-4 13zm-2 13zm1 6zm11 6zm7 3zm-2 3zm-20 6zm7 20zm12 5zm30-35zm-20-22zm75 15zm-2 8zm3 24zm-8 9zm49 23zm11 5zm1 1zm9 2zm1-1zm2 3zm1-16zm10-12zm3-3zm-1-1z"/><path stroke="#e1dcf1" stroke-width="5.00" d="M772 766zm-3 2zm-15 2zm-2 14zm-9 1zm1 6zm-7-12zm-42 23zm-8-11zm-7-2zm-3-3zm-5 16zm0 10zm0 1zm-12 17zm-9-7zm-8-1zm-10 23zm-8 0zm17 22zm4 1zm2-1zm-4 5zm19 4zm-1-22zm-2-6zm9 0zm10-15zm14-9zm9-8zm4 4zm9 3zm15 4zm-8 17zm-10-5zm-3-2zm-4 1zm0 4zm4 4zm-7 5zm-4-15zm2-3zm14 30zm8 17zm-5 4zm2 8zm14 12zm3 0zm-1 5zm-2 1zm-1 5zm-58 4zm91-90zm-1-8zm20-24zm-2 52z"/><path stroke="#d74043" stroke-width="5.00" d="M770 766zm11 12zm-16 9zm-7-6zm-11-5zm-10 11zm18 21zm-14 12zm-14-1zm-14 3zm-13 13zm-11 1zm-13-18zm-39-4zm44 89zm-11 16zm56-26zm0-5zm3 12zm11 4zm12-22zm1-33zm-21-3z"/><path stroke="#ffffff" stroke-width="5.00" d="M725 759zm-5 20zm7 9zm-17-4zm-16 12zm-10-4zm16 27zm-17 10zm-26 27zm6 9zm1 13zm17-3zm12-4zm22 13zm1 15zm-6 14zm34 16zm14-36zm3-41zm7-1zm-28-12zm-8-25zm11-6zm11-1zm9-23zm4-11zm14 9zm75 75zm-226-32z"/><path stroke="#c3bae3" stroke-width="5.00" d="M727 725zm6 0zm0 7zm0 19zm-4 2zm17 15zm-7 18zm-3 1zm-10 13zm-5-1zm3 6zm-3 6zm-7-3zm-2-3zm-6-4zm-3-8zm-9-19zm-19 10zm4 13zm-3 16zm-7 0zm-8 4zm-4 4zm5 3zm10-1zm4 11zm1 8zm-16 3zm-6 6zm-2-3zm-4-15zm-3 1zm4-14zm-3-5zm0-11zm16-7zm27 23zm5 5zm-1 4zm3 2zm0 3zm-3 10zm13 2zm2-5zm13-2zm1-6zm8 1zm0 13zm8 6zm-1 4zm10-2zm-3-16zm9-6zm10-16zm-16-9zm2-3zm8-7zm0-7zm1-6zm8 0zm3 0zm7-3zm4 4zm-3 3zm6 8zm-2 5zm6-12zm-20 63zm8 5zm-19 21zm-21 13zm-12 3zm1 9zm-1 6zm-15-7zm-15 2zm-12-5zm-7-2zm-1 3zm-1-7zm1-1zm-6 2zm3-8zm-8-5zm-4-1zm-1 2zm-4 7zm6 3zm5-19zm-12-7zm-16-16zm-7-4zm53 17zm19-2zm1 9zm8 13zm18-7zm-12-17zm42 52zm-4 7zm-15 9zm102-29zm4-20zm-4-9zm9-3z"/><path stroke="#f2bfc0" stroke-width="5.00" d="M729 753zm-4 5zm-19 5zm6 11zm14 4zm-2 20zm-5 17zm-15 2zm-6-3zm-3 11zm1 10zm-12-6zm-15-6zm2-5zm0-1zm5-2zm5-2zm5-17zm2-4zm-2-6zm20 5zm-44 7zm-18 12zm-7-8zm-2 19zm13 4zm11 2zm3-3zm8 23zm3 4zm4 14zm-7 6zm-2 10zm-2 1zm-2 1zm6 6zm3 8zm2 1zm-5 16zm3 3zm32 10zm30-1zm7-18zm3-9zm3-3zm-17-3zm-1 14zm5-39zm8 0zm1-8zm-11-13zm7-11zm10 6zm16 3zm0 2zm6 6zm-3 7zm4-37zm6-24zm-16-13zm-12-9zm22-14zm-62 82zm1 12zm3 1zm-10 11zm-13 10zm6-28zm-39-2zm-5 2zm-1 4zm-10 5zm-3 10zm-9-23zm-3-5zm200 57zm5-3z"/><path stroke="#eb9fa1" stroke-width="5.00" d="M719 747zm-9 22zm-11 4zm0 3zm12 19zm4 8zm-16-3zm-2 2zm-1 1zm-9 11zm5 13zm3 6zm-2 13zm14 9zm-1 0zm1 1zm2-11zm21-3zm2-2zm-12-16zm1-5zm7-2zm-18 5zm-8-4zm-28 2zm-2 2zm-5-10zm6-13zm-42 22zm12 32zm0 5zm0 11zm7 0zm4 10zm-1 7zm1 3zm8 2zm8 12zm1 2zm3-6zm1 18zm-15-43zm9-5zm1-10zm-13 2zm26 9zm19 10zm3-6zm13 10zm2 2zm1-4zm8-2zm1 10zm-2 11zm-6-3zm21 17zm11 3zm2-37zm15-19zm-21-31zm-1-22zm-1-6zm2-7zm8 7zm3 9zm13-12zm-5-4zm15 2zm-2-23zm-20-5zm-4 2zm3 8zm-15-3zm-2-1zm-11-6zm33-13z"/><path stroke="#8274c4" stroke-width="5.00" d="M731 712zm-5 12zm5 2zm5-1zm0 0zm1 1zm2-2zm-6 9zm2 24zm-13 3zm-1 12zm8 10zm23 12zm9-13zm-2-18zm16 2zm-46 52zm0 7zm-8-11zm-16 18zm6 11zm-17 33zm15 10zm-44-24zm-22-10zm-4-2zm17-15zm7-9zm8-7zm-20 6zm27-27zm5-13zm-7-1zm1-7zm1-9zm96 95zm-19 45zm62-18zm10 7zm13-12zm6-5zm5-6zm-3-2zm7-8zm-193 43z"/><path stroke="#d02024" stroke-width="5.00" d="M759 758zm-7 2zm-7 15zm-3-1zm-12 1zm-29-1zm-17 7zm-9 1zm3-14zm17 40zm27 31zm17 17zm1 4zm7-7zm1-1zm15 5zm-17 12zm7 17zm-14 6zm-8 21zm24 11zm-44-44zm-45 9zm-16-30zm102-55zm21 17zm-6 8zm-7-51zm6-6z"/></g><path d="M355.2 371.4C356.7 371.0 358.0 370.9 359.7 370.9C361.3 370.8 363.1 371.0 364.9 371.2C366.8 371.5 368.9 372.0 370.9 372.3C372.9 372.6 374.9 372.8 376.8 373.1C378.8 373.4 380.7 373.6 382.5 374.2C384.2 374.7 386.1 375.4 387.6 376.5C389.0 377.6 390.3 379.1 391.2 380.7C392.2 382.3 392.5 384.0 393.3 385.9C394.0 387.8 395.2 390.1 395.9 392.2C396.6 394.3 397.4 396.5 397.5 398.4C397.6 400.4 397.1 402.1 396.4 403.7C395.7 405.3 394.0 406.3 393.3 407.8C392.5 409.4 391.9 411.4 391.7 413.1C391.6 414.8 391.8 416.4 392.2 418.3C392.7 420.2 393.6 422.6 394.4 424.6C395.1 426.5 396.6 428.4 397.0 429.8C397.3 431.2 397.1 432.1 396.4 432.9C395.7 433.8 394.2 434.5 392.8 435.0C391.3 435.6 389.1 435.5 387.6 436.1C386.0 436.6 384.3 437.1 383.4 438.2C382.4 439.2 382.0 440.9 381.8 442.3C381.6 443.8 382.0 445.2 382.2 446.6C382.3 448.1 382.6 449.2 382.7 451.0C382.9 452.9 383.3 455.8 383.2 457.8C383.0 459.7 382.7 461.6 381.9 462.8C381.1 464.1 380.0 464.6 378.5 465.3C376.9 466.0 374.7 466.7 372.6 467.0C370.5 467.4 368.4 467.6 365.9 467.4C363.4 467.3 360.3 466.4 357.5 466.2C354.7 465.9 351.9 465.8 349.1 465.8C346.3 465.7 343.1 466.0 340.7 466.0C338.3 466.0 336.5 466.4 334.8 465.8C333.1 465.2 331.7 463.6 330.6 462.4C329.4 461.2 328.7 459.8 328.1 458.6C327.4 457.4 327.1 456.8 326.4 455.3C325.7 453.7 324.8 451.0 324.0 449.2C323.1 447.4 322.5 445.9 321.5 444.3C320.5 442.6 319.1 441.2 317.9 439.4C316.7 437.6 315.5 435.4 314.2 433.3C313.0 431.3 311.5 429.0 310.5 427.2C309.5 425.3 308.4 423.8 308.1 422.3C307.8 420.8 308.3 419.5 308.7 418.0C309.1 416.6 310.1 415.3 310.5 413.7C310.9 412.2 310.8 410.5 311.2 408.9C311.5 407.3 311.5 405.6 312.4 404.0C313.3 402.4 315.3 400.7 316.7 399.1C318.0 397.4 319.3 395.5 320.3 394.2C321.3 392.9 321.3 392.4 322.7 391.1C324.2 389.9 327.0 388.3 328.9 386.9C330.8 385.4 332.3 383.9 334.3 382.6C336.3 381.4 339.0 380.5 341.0 379.4C343.0 378.4 344.6 377.5 346.2 376.5C347.9 375.4 349.2 373.9 350.7 373.1C352.2 372.2 353.7 371.7 355.2 371.4Z" fill="none" stroke="#1fa85a" stroke-width="1.45" stroke-dasharray="2.8 2"/><path d="M401.8 444.5C402.0 443.8 402.8 442.9 404.1 442.5C405.4 442.2 408.0 443.0 409.7 442.5C411.3 442.1 412.8 440.9 414.1 439.7C415.4 438.5 416.3 437.1 417.5 435.5C418.7 433.9 420.1 431.5 421.4 429.9C422.7 428.4 424.0 427.1 425.3 426.3C426.6 425.4 428.1 424.8 429.3 424.9C430.5 424.9 431.9 425.4 432.6 426.5C433.3 427.7 433.5 429.9 433.5 431.6C433.5 433.3 433.2 435.2 432.6 436.6C432.0 438.1 430.8 439.4 429.8 440.6C428.8 441.7 427.3 442.3 426.5 443.4C425.7 444.4 425.1 445.4 424.8 446.8C424.5 448.1 425.2 450.0 424.8 451.2C424.4 452.4 423.6 453.5 422.6 454.0C421.5 454.5 420.1 454.4 418.6 454.0C417.1 453.6 415.4 452.6 413.6 451.8C411.7 450.9 409.2 449.8 407.4 449.0C405.6 448.2 403.9 447.5 402.9 446.8C402.0 446.0 401.7 445.2 401.8 444.5Z" fill="none" stroke="#e8202a" stroke-width="1.45" stroke-dasharray="2.8 2"/><circle cx="366.6" cy="361.4" r="7.7" fill="none" stroke="#f0643a" stroke-width="1.45" stroke-dasharray="2.8 2"/><text x="310.1" y="359.9" font-size="8.6" font-style="italic" fill="#111">Gpr34</text><linearGradient id="g5" x1="0" y1="0" x2="0" y2="1"><stop offset="0.00" stop-color="#d02024"/><stop offset="0.10" stop-color="#d74246"/><stop offset="0.20" stop-color="#de6567"/><stop offset="0.30" stop-color="#e68789"/><stop offset="0.40" stop-color="#eda9ab"/><stop offset="0.50" stop-color="#f4cccc"/><stop offset="0.60" stop-color="#fbeeee"/><stop offset="0.70" stop-color="#eeecf7"/><stop offset="0.80" stop-color="#cec6e8"/><stop offset="0.90" stop-color="#aca0d8"/><stop offset="1.00" stop-color="#887ac7"/></linearGradient><rect x="426.9" y="355.3" width="8.3" height="24.6" fill="url(#g5)"/><text x="422.1" y="358.3" font-size="8.2" text-anchor="end" fill="#111">20</text><path d="M426.9 355.3h1.6M433.6 355.3h1.6" stroke="#333" stroke-width="0.5"/><text x="422.1" y="370.6" font-size="8.2" text-anchor="end" fill="#111">10</text><path d="M426.9 367.6h1.6M433.6 367.6h1.6" stroke="#333" stroke-width="0.5"/><text x="422.1" y="382.9" font-size="8.2" text-anchor="end" fill="#111">0</text><path d="M426.9 379.9h1.6M433.6 379.9h1.6" stroke="#333" stroke-width="0.5"/><rect x="26.50" y="475.9" width="134.8" height="121.4" rx="1" fill="none" stroke="#a0a0a0" stroke-width="1.1"/><g transform="scale(0.5)" stroke-linecap="round" fill="none"><path stroke="#d02024" stroke-width="5.00" d="M178 1005zm21 34zm8 43zm-105 0zm-28 8zm3 9zm12 10zm6-57z"/><path stroke="#eb9fa1" stroke-width="5.00" d="M175 1007zm13 10zm8-4zm7 3zm7 3zm13 10zm-6 10zm2 13zm10-6zm-29-1zm-11-6zm-6 0zm-24-3zm-14-11zm-15 24zm-9 3zm-14-1zm0 4zm0-14zm3-5zm6 30zm4 8zm11-7zm8-4zm8 6zm5-14zm9 24zm-19 16zm11 12zm-8 15zm-2 14zm10 1zm6 6zm-5 3zm5 5zm6 16zm14-5zm0-3zm17-26zm-3-6zm2-1zm5 0zm-13-5zm-4-12zm2-4zm7 3zm5-8zm0 0zm6 0zm9 7zm8 4zm-2 4zm-1-29zm-8-4zm-2-12zm13 4zm-28-7zm-8-3zm3 10zm-60 44zm-5 2zm-2-3zm-15-1zm-3-2zm-4-10zm-1-10zm1-2zm-2-1zm17 8zm-26 12zm-5-36zm-1-7zm3-5zm-1-5zm-10 19zm45 70zm5 0zm10-11zm-22 21z"/><path stroke="#c3bae3" stroke-width="5.00" d="M183 978zm-6 0zm-8 0zm-3 27zm0 5zm4 1zm16 14zm5 4zm-2 5zm15 3zm5 3zm7 8zm10 7zm3-9zm-2-3zm-2-3zm-12-19zm6-3zm-2-5zm-4-2zm-13 39zm-4 7zm-14 9zm-9-11zm-8-2zm0 13zm-8 6zm-15 1zm0-2zm-3 1zm-2 6zm1 4zm-19 5zm-13-1zm1 10zm6 5zm-12 8zm-6 5zm-2 3zm-6-4zm-7-6zm-4-2zm-1-4zm-2-6zm0-13zm17-3zm4 10zm-2 1zm-2 0zm14-14zm6-1zm5-1zm3-1zm0-3zm-3 0zm2-5zm8 1zm-8-13zm-9-3zm-4-3zm-6 2zm-5 10zm0 0zm37-20zm-2-4zm11 8zm5 0zm1-2zm19-9zm-16-16zm25 66zm0 18zm11 13zm-19 2zm-6 1zm-2 0zm-8 2zm-3 5zm-14 2zm-9-3zm-1-3zm-5-1zm-4 7zm-2-1zm-2 4zm-1 8zm-6 9zm-2-1zm-8-6zm-7-15zm22-5zm19 35zm-5 6zm-2-2zm-13 2zm8 15zm49-19zm8-1zm7 6zm3-2zm1-2zm8-1zm10 3zm0 10zm-5 6zm-10 9zm-9-20zm0-19zm-3-3zm-9-9zm-5 5zm-2-1zm-7-31zm6-7zm44 4zm3-17zm15-9zm2 28zm0 5zm-8 9zm-15 11zm77 14zm8-3zm2-4zm2-1zm7-10z"/><path stroke="#d74043" stroke-width="5.00" d="M210 1026zm-23 47zm-14 14zm19 15zm3 2zm-5 2zm20 8zm2-4zm-64 0zm-6 5zm1 22zm-50-27zm-6-4zm-16-3zm10-30zm40-34zm45 24z"/><path stroke="#a597d5" stroke-width="5.00" d="M175 965zm5 7zm0 6zm-2 0zm1 4zm-2 3zm-24 26zm8 10zm10 11zm-14 4zm-6 12zm-9 25zm-9-3zm-19 7zm0 1zm-1-7zm-6 7zm-18 8zm-7-15zm16-15zm8-5zm1-14zm-12 0zm10 63zm19 21zm20-15zm42 2zm2 26zm-17 7zm29 31zm65-29zm7 6zm0 4zm4-1zm1-5zm4-2zm9-13zm1-2zm3 2zm0-4zm2-3zm1-3zm1-2zm0-1zm1-3zm-4 4zm4-11zm-89-47zm-10-27zm-10-12zm-1-4zm25-4zm-139 88zm22 39z"/><path stroke="#e48082" stroke-width="5.00" d="M160 1014zm-11 8zm-30 15zm-5 29zm-9 11zm30 11zm7 2zm11-5zm0 15zm17-4zm8 0zm2 13zm5 12zm-17 13zm-5-19zm39-14zm-8-26zm-3-19zm-6 0zm16-6zm1-12zm9 23zm8 16zm9-27zm2-1zm-74 9zm-49 51zm3 26zm1 6zm10-9zm6 8zm0 36zm41-12zm33-19zm-1-4zm-117-21zm-4-10zm-7-10zm-1-16z"/><path stroke="#dd6063" stroke-width="5.00" d="M165 1022zm9 6zm1 26zm-18 5zm-5-9zm-29 7zm10 23zm9 1zm5 20zm-25-12zm-13 10zm-10 9zm-8-1zm-4 0zm0 7zm11 18zm-1 7zm13 3zm22-6zm5-6zm-20-12zm-3 52zm57-6zm29-22zm-13-31zm2-32zm-25-2zm49-25z"/><path stroke="#f8dfe0" stroke-width="5.00" d="M170 978zm6 2zm1-1zm1-1zm-1 5zm-7 25zm17 2zm2 0zm5-1zm10 8zm10 6zm5-2zm-14 11zm-3 6zm1 0zm7 3zm0 0zm-15-11zm-4-6zm-3 2zm-20 5zm-4 2zm-18-3zm-2-2zm-3 16zm-4 12zm-15 0zm0-6zm2-8zm-5-6zm3-15zm41 30zm3 6zm3 5zm7-3zm0-9zm-20 9zm-11 10zm-11 12zm-6 1zm13 4zm1 5zm8 2zm7 13zm18 18zm1 3zm8 2zm-1 16zm-1 14zm6 12zm-4 10zm-5-2zm-23-16zm-1-9zm-4-2zm0-10zm1-4zm-10-3zm-6-2zm-12-2zm-13 2zm-2-5zm-2 13zm-1 4zm10 11zm-6 5zm2 13zm2-74zm-21-8zm0-5zm-19-11zm0-8zm37 6zm7-2zm52 5zm34-4zm13-3zm7-15zm7-4zm-2-3zm-28 58zm-10 2zm20 15zm6-9zm1-2zm57 35zm1 2zm8 1z"/><path stroke="#f2bfc0" stroke-width="5.00" d="M176 978zm-4 30zm-12 9zm-6 5zm-2 6zm-5-7zm-6 1zm14 16zm-2 8zm-7 1zm-7 8zm-12 4zm6 8zm-13-1zm0 2zm-6-4zm2 11zm0 5zm4 3zm-1 1zm4 3zm10-1zm8-1zm-1 12zm15-1zm8-15zm-7-7zm5-5zm1-6zm11 14zm16-17zm6 2zm9 14zm15 15zm-5 8zm3 1zm-7 17zm3 4zm3-2zm-28 0zm-6-6zm7-3zm-15 17zm-16-1zm-7-10zm-5-1zm-5 7zm-1 8zm2 1zm-9 5zm-11-6zm-11-4zm5-8zm2-15zm-3-10zm-1 0zm-15-4zm-4-2zm0 4zm-2 1zm4-10zm2-9zm-18 5zm0 3zm-9 1zm18 24zm9 31zm15 5zm5 10zm-7 10zm37-12zm3 2zm3 14zm9 6zm5-24zm20 4zm6 13zm8-5zm-3 15zm-1 3zm-3-39zm18-86zm4 1zm10-3zm0 0zm1-14zm-12-19zm-7 6zm1-14zm-8 2zm-3-3zm-11 17zm-6 13zm-16-8zm0-2zm-36 15zm-5-1zm-17-12z"/><path stroke="#e1dcf1" stroke-width="5.00" d="M171 978zm6 7zm0 0zm-8 22zm-11 10zm-4-2zm3 16zm6 1zm10 3zm6 7zm6-12zm4-8zm-4-2zm1-4zm12 22zm-1 11zm-2 9zm-13-3zm-8 1zm-7-3zm5 14zm1 3zm1 10zm5 9zm-9 2zm-4-1zm-11 11zm-10 0zm3 13zm-1 10zm-6 1zm-8 16zm-22-6zm2-13zm-14-12zm-1-1zm9-13zm11-5zm12-9zm-17-6zm2-17zm3-3zm-9-7zm15-13zm16 6zm5-4zm-2-9zm4 45zm2 9zm8-9zm32 8zm2 9zm-1 2zm-1-1zm3 7zm13 6zm5-3zm-6-17zm7-3zm-4-7zm4-18zm11-24zm-9-5zm-2-2zm-34 83zm0 15zm-5 19zm1 11zm20 21zm76-33zm28-21zm1-6zm2-1zm-211-54zm-12 0z"/><path stroke="#ffffff" stroke-width="5.00" d="M177 979zm-1 5zm-1 20zm20 21zm8 4zm3-1zm-3 7zm-4 4zm-3 3zm-17 22zm-11 13zm2 2zm-13-4zm-7-2zm-19 10zm-11 7zm-5 6zm0 10zm-4 16zm30 16zm14-1zm13 2zm5 21zm-27-51zm47-11zm13 0zm4 0zm7 10zm15-65zm-67 4zm-2-15zm-23 8zm1 11zm-28 2zm-14 2zm-5 2zm-2 0zm2 4zm-19 15zm25 11zm190 37zm10-14z"/><path stroke="#8274c4" stroke-width="5.00" d="M204 1028zm-8 19zm-87 0zm-3 31zm3 18zm21 30zm46 15zm1 16zm9 4zm-69 13zm155-28zm2 1zm5-2zm1-3zm2 7zm4 4zm2 2zm3-26zm5-7z"/><path stroke="#e1dcf1" stroke-width="5.00" d="M180 973zm1 0zm-4 6zm-6 0zm5 25zm-6 8zm1 18zm-2 0zm-15-5zm-17 23zm-4 4zm-2-1zm-5-1zm-2-5zm-5-3zm-9-1zm-18 7zm3 15zm-8 12zm-17 0zm57 10zm8-1zm-2-4zm11 6zm9 9zm-4 5zm26-13zm4 6zm4 0zm14 10zm1 3zm-10 6zm6 13zm5 0zm4 8zm-30-3zm-2 11zm6 29zm11 12zm-28-3zm-35-28zm-6 1zm-7-14zm4-10zm-17 17zm42-90zm27 1zm6-4zm19 4zm13 9zm2 5zm-2 5zm9-22zm12 6zm1-12zm-19-10zm-9 4zm-10-1zm-2-11zm19-2zm3-6zm1 79zm68 43zm4 6zm2-11zm10-12z"/><path stroke="#c3bae3" stroke-width="5.00" d="M180 978zm1 1zm-3 0zm-2 26zm-1 6zm-19 3zm0 6zm-6-4zm-2 8zm11 5zm3-3zm2 1zm-9 11zm-10 11zm5 5zm-8 13zm1 10zm8-2zm6-3zm-8 12zm-12 1zm-15 2zm-1 4zm-4 0zm-2 9zm2 1zm-7 4zm-6-4zm-2 0zm4 12zm3 9zm-6 12zm-5 10zm5 6zm20 6zm3 2zm6-12zm0-10zm3-5zm3-3zm-4-3zm-6-1zm-3 6zm-5 2zm2-18zm26-4zm1 0zm2-1zm0-1zm13 7zm5 3zm-3 13zm0 3zm8 12zm2 0zm-10 5zm6 6zm2 7zm10-7zm2 2zm1 2zm-7 22zm-26-15zm-3-18zm3-3zm2 0zm40-12zm2 1zm15-23zm8 6zm-11-42zm11-10zm-27 17zm-19 17zm-3-30zm1-6zm-1-7zm-2-10zm24-4zm3-10zm-8-4zm18 1zm3-5zm7-1zm-2 8zm-4-22zm-76 40zm-2 3zm-17 1zm-10-11zm1-4zm13-4zm-11 33zm1 8zm1 0zm-2 2zm12-2zm-34 20zm1 12zm-9 0zm-2 11zm8 4zm7-4zm-19-31zm-4-1zm12-13zm177 68zm10 1zm5-1zm5 0zm-1 6zm0 1zm-2-1zm8-1zm2 4zm-1-15zm2-1zm0 0zm11-14zm1 0zm1-2z"/><path stroke="#eb9fa1" stroke-width="5.00" d="M172 1005zm16 13zm13 7zm5-2zm4 2zm6 11zm-2 21zm-5 0zm0 9zm8 8zm-2 11zm1 13zm2 4zm8 0zm-8 9zm-14-7zm-16-3zm0 13zm0 24zm-12 7zm-9 8zm-11-18zm3-18zm0-9zm-8-9zm12-10zm2-9zm2-2zm3-8zm11 1zm4-4zm2 8zm-8-16zm-6-4zm-2-2zm-20-14zm-5-12zm-5 0zm11-5zm-25 15zm0 9zm-1 11zm-5 0zm-1 14zm-5-1zm-3 3zm-5 7zm-3 3zm-9-6zm-1-4zm1-11zm4-17zm24-24zm21 47zm-2 11zm2 2zm2 0zm-9-1zm-20 17zm-10 7zm-6 2zm-4-5zm-6-17zm-12-9zm-7 12zm-1 2zm0 8zm-2 1zm2 7zm7-11zm9 28zm17 5zm-2 9zm4 6zm-7 2zm-1 2zm1 13zm20-7zm15-33zm11-3z"/><path stroke="#a597d5" stroke-width="5.00" d="M184 978zm-7 2zm-3-2zm5 8zm27 39zm-8 35zm-11-2zm-19-7zm-3 21zm-14 2zm-16-1zm4 13zm-1 11zm-1 2zm0 12zm-16 7zm10 21zm-3 17zm-16 6zm24 14zm25-28zm10-7zm6 5zm-10-17zm12-4zm20 16zm7-15zm6-7zm3-2zm-20-32zm-19 5zm0 3zm-22 5zm-40-18zm-13 2zm-12-7zm-2 0zm-6-7zm16 1zm22-4zm-8-15zm-2-2zm19-3zm12 11zm21-25zm-69 78zm-7 11zm-13-31zm189 53zm1 0zm15 0zm4 4zm4 5zm-6 1zm-3-1zm20-27zm1 0zm-1-2zm-1 0zm2-3zm2-6zm3 11zm4 1z"/><path stroke="#f2bfc0" stroke-width="5.00" d="M164 1000zm10 7zm22 6zm2 10zm-7 8zm-7-3zm-4 2zm2 2zm1 1zm13 4zm2-2zm2 1zm3 4zm3 0zm4-12zm1 0zm-2-9zm-1-3zm13 19zm11 15zm-4 4zm-1 2zm-10 2zm-1-1zm-1 0zm-13-1zm-3 5zm-12 0zm-2 1zm0 10zm-16 0zm-15 3zm-8-3zm-4-1zm0 3zm-2 2zm0 2zm-7-5zm12-11zm-3-10zm6-10zm8 7zm3 8zm15-3zm0-6zm-15-10zm5-7zm-10-2zm-5 0zm-26 11zm-2-4zm0 15zm0 2zm4-1zm-7 6zm-9 16zm5 2zm6 12zm9 4zm14-5zm5 10zm4-2zm12-3zm9 11zm12 4zm6-1zm-9 15zm-3 0zm-9 17zm-2 4zm-5 4zm-4 0zm1 9zm4 2zm-7 4zm14 2zm6 1zm-7-14zm9-5zm-2-4zm12 11zm11-8zm-1-7zm-3 31zm7 4zm-15 7zm-2 1zm-36-32zm-13 8zm-4 0zm-8 0zm-13 4zm5 10zm-10-30zm6-9zm7-11zm-1-1zm7 3zm13-5zm13-3zm8-5zm36-23zm14-8zm6-7zm-22-22zm0-7zm21 61zm1 2zm1 2zm-1 2zm7-4zm59 38zm-170-36zm-4-6zm-5-1zm0 6zm0 1zm1 3zm-18 3zm-1 6zm-10-13zm8-4zm3-2zm8-14zm4-8zm-22-6zm-9 20z"/><path stroke="#e48082" stroke-width="5.00" d="M209 1023zm2 6zm0 10zm11 4zm6 10zm-12 7zm-2-6zm5 24zm-13 18zm-30 3zm-15 14zm14 16zm-15 23zm-1 2zm21 8zm9 12zm14-9zm-76-8zm-13 10zm1-26zm-17-46zm10-17zm-13-10zm6-21zm20-20zm9 9zm8-9zm-9 27zm17 33zm1 6zm2 2zm22-25zm14 4zm9-47zm-6-2z"/><path stroke="#d02024" stroke-width="5.00" d="M91 1068zm118 1zm8 20z"/><path stroke="#ffffff" stroke-width="5.00" d="M177 976zm-1 2zm3 0zm1-1zm-8 34zm-6 2zm0 14zm-1 4zm14 4zm10-6zm3 1zm10-5zm4 11zm3 5zm-7 6zm8 14zm-3 8zm-21 10zm11 17zm-10 15zm1 2zm2 8zm23-8zm1-4zm-3 0zm-32 36zm-4 15zm0 7zm-12-12zm-11 10zm-11-7zm-23 14zm-4-16zm-2-7zm-3-35zm2-8zm-23 8zm-10-32zm9-6zm28-5zm5 5zm12 15zm17 0zm17 0zm-11-18zm8-5zm3 1zm-33-23zm-10 11zm-4-19zm-16 2zm39-12zm46-15zm5-4zm-40 114zm131 14zm4-13zm13-3zm0-9z"/><path stroke="#d74043" stroke-width="5.00" d="M194 1014zm-8 13zm6 4zm19 7zm3 0zm-5 27zm1 7zm-10-9zm-18-4zm-9 19zm-34 0zm-26-8zm0-2zm-15 25zm-16-21zm-1-11zm-5 47zm8 13zm28 4zm16 26zm34 1zm18-7zm20-11zm18-21zm-36-2zm-27 2zm-13-68z"/><path stroke="#f8dfe0" stroke-width="5.00" d="M180 972zm0 7zm-5 0zm-7 24zm0 7zm6-1zm-9 6zm-12 4zm-9-3zm7-6zm7 17zm5 4zm5-1zm4 9zm-18 6zm4 8zm8 7zm5 6zm-21 4zm-6 2zm-4 7zm-2-2zm-5-7zm-3 12zm-2 0zm-9-4zm-4-6zm-4-7zm12-10zm15 3zm-11-24zm-11 3zm-23 41zm10 24zm-5 6zm-13 0zm1 12zm-1 1zm3 4zm6-3zm2 20zm2 0zm0 1zm14-8zm11-3zm3-16zm-3-2zm-2-18zm20 7zm10 6zm5-17zm10 0zm-18-7zm31 22zm21 7zm2-12zm-1-2zm-6-9zm9-16zm6 4zm0-17zm-23-10zm12-15zm4-2zm6 1zm3-5zm-4-17zm-12 3zm-5-8zm-32 125zm12 10zm-2 3zm0 10zm9 16zm17 1zm4 2zm0-15zm-47-5zm-3 24zm-29-23zm-5 1zm4-8zm-1-2zm160-1zm26-24z"/><path stroke="#8274c4" stroke-width="5.00" d="M172 979zm42 36zm-43 57zm-19 43zm-45 14zm5 33zm-36-62zm185 42zm0-1zm4 3zm6 5zm1 0zm4 0zm5-6zm2-3zm-1-1zm2-1zm6-5zm2-9zm0-1zm-2 0zm5-1zm6-1zm-2-9zm-13 41z"/><path stroke="#dd6063" stroke-width="5.00" d="M190 1021zm15 13zm5-5zm-33 22zm-30-5zm-6 41zm25 10zm19-8zm9 6zm5-9zm13 19zm-28 8zm-4-1zm-44 4zm-3 10zm-25-19zm45 49zm-1 5zm24 7z"/><path stroke="#f8dfe0" stroke-width="5.00" d="M174 1001zm3 4zm1-1zm9 11zm-1 12zm-12 0zm-10 4zm-10-4zm-3 13zm12 8zm1 12zm8-1zm1-2zm3 11zm12-1zm9-2zm0 9zm1 12zm4 11zm2 6zm10 3zm0 5zm1 3zm0 1zm4 2zm-2 5zm-2-33zm4-5zm-1-15zm5-17zm3 1zm-1-12zm2-13zm-20-4zm-5 8zm0 6zm-3 4zm-14-3zm18-26zm7-1zm-47-9zm-33 37zm-11-6zm4 16zm-11 23zm15 9zm-4 5zm-1 2zm-3 21zm1 11zm-6 3zm11 4zm-18 7zm-6 4zm4 11zm9 3zm10 4zm14 1zm31-3zm1-8zm4-4zm-4-2zm-2-2zm-4-7zm8-1zm-15-8zm-1-13zm-3-2zm-4-17zm-3-6zm1-16zm9 1zm18 26zm8 14zm11-11zm-1 52zm-15 8zm-71 4zm-12-50zm-6-4zm9-22zm0-2zm-2-16zm-6 0zm-7 3zm-3-8zm178 78zm30 14z"/><path stroke="#c3bae3" stroke-width="5.00" d="M175 966zm5 7zm0 1zm3 2zm-11 27zm7 3zm-20 5zm-8 9zm-8 6zm-6-15zm-14 15zm16 19zm0 0zm-4 18zm-4 3zm7 7zm-2 7zm-3 2zm-6-3zm0 8zm-11-11zm5-4zm-9-6zm7-10zm-13 22zm2 1zm-7-4zm-1 6zm-3 1zm3 4zm2 4zm10 4zm6 10zm7 18zm12 2zm12-11zm-7-12zm0-4zm0-4zm7 2zm5 4zm1-1zm9-20zm-1-3zm-3-6zm-8 0zm-8-2zm10-10zm11 7zm16 7zm-3 10zm3 13zm-4 7zm6 8zm6-3zm4-9zm1-5zm7-9zm5-11zm3-3zm-6-5zm-1-12zm-6-10zm4-9zm0-2zm9-5zm-2 13zm5 3zm1 7zm4 2zm-3 4zm14-5zm1-7zm-4-3zm0-1zm-7-23zm0-4zm-11-2zm-49 26zm-66 7zm-3 18zm-1 3zm-5 6zm5 2zm4 6zm3-2zm-20-1zm-5 7zm4 2zm-3 2zm2 6zm7 1zm-2 6zm-4 1zm17 7zm8 6zm-5 11zm-7-2zm12 19zm7 2zm-2 5zm-1 6zm16 4zm5-10zm-5 22zm-10-41zm55-1zm5 9zm-2 2zm1 9zm4 6zm12 8zm10 14zm-19-47zm11-9zm3-3zm18-7zm4-1zm-3 10zm12-37zm39 61zm37-20zm3-6zm2-9z"/><path stroke="#8274c4" stroke-width="5.00" d="M183 977zm-63 80zm24 26zm20 1zm3 3zm22 16zm-22 39zm6 11zm-69-7zm-23-42zm184 40zm6-1zm4 2zm1-1zm3-1zm2 1zm1 3zm-5 3zm-1-1zm10-14zm1-2zm1 0zm-2-10zm10 2zm1-4z"/><path stroke="#dd6063" stroke-width="5.00" d="M201 1032zm0 11zm-20-3zm-9-2zm-32 31zm-12 0zm1-16zm-19 26zm-4-1zm11 23zm23-13zm13 3zm41 34zm-28 20zm-11 24zm-12-1zm-26-21zm-32-48zm-10-4zm116 80zm29-122z"/><path stroke="#d02024" stroke-width="5.00" d="M93 1044zm-23 47zm17 18z"/><path stroke="#d74043" stroke-width="5.00" d="M190 1025zm10 14zm-4 22zm-3 1zm-9 30zm-25-30zm-20 27zm10 38zm21 19zm10-1zm-52 24zm-42-48zm-21-25zm5-14z"/><path stroke="#e1dcf1" stroke-width="5.00" d="M185 977zm-5 3zm-3 3zm0 3zm-7-6zm5 24zm-7 14zm-10-13zm0 26zm10 19zm-2 6zm2 2zm-3 3zm-7 0zm7 11zm4-3zm6 0zm5 9zm5-5zm11-7zm5-18zm7-10zm9-13zm-2-6zm6-4zm4 9zm4 24zm-2 6zm-5 0zm-7 17zm-15 30zm-1 2zm-9 5zm-10-1zm10 15zm15 3zm-8 14zm5 7zm-22 11zm14 16zm-25-37zm4-3zm0-5zm-10 9zm-7-4zm3-22zm-3-15zm10-4zm-18-4zm-6 1zm16-13zm-39 0zm-6-3zm-7 13zm-7 4zm-4 3zm12 7zm1 2zm-9 5zm7 16zm0 21zm12 6zm-9 22zm-38-93zm1-11zm12 2zm31-24zm5 1zm1-18zm67-1zm3-7zm31 84zm-13 3zm66 35zm1 7zm14-18zm3-10z"/><path stroke="#eb9fa1" stroke-width="5.00" d="M177 1007zm10 16zm8-6zm18 8zm6-3zm-1-4zm6 20zm-17 0zm-10 2zm-10-2zm-7 2zm-9 1zm2-7zm-17-7zm-6-1zm1-5zm-1 13zm-7 8zm-1 6zm1 5zm6-3zm-10 12zm7 7zm11-2zm7-9zm1-6zm1-1zm12 6zm1 12zm3 9zm-4 14zm2 2zm-4 3zm0 6zm3 9zm10 8zm-13 9zm-7 5zm-4 1zm4 3zm-10 1zm0 10zm-9-4zm18 9zm-11 11zm25-5zm9-8zm13 8zm-13 21zm10-49zm12-14zm8 1zm-2-9zm-5-3zm2-5zm6-20zm-22-18zm-8-2zm-1-6zm-22 12zm-4 7zm-16 12zm-10-1zm-19 1zm-5 7zm-12 14zm-4-4zm-12 1zm-3 5zm-2 11zm8 0zm0-1zm-2 10zm26 7zm6 10zm2 1zm9 5zm-25 1zm6-38zm28 2zm11-1zm1-1zm4-5zm36-6zm1-12zm23-39zm-84-9zm-17-9zm-4-8zm-3 25zm10 15zm-1 1zm-27 7zm5 11zm-23-14zm17-12z"/><path stroke="#e48082" stroke-width="5.00" d="M172 1008zm5 15zm7 7zm-2 5zm6 9zm9-15zm-27 2zm26 30zm9 13zm-9 15zm12 13zm13 4zm-49-29zm-20-3zm-8 14zm2 16zm-4 0zm-24-14zm-13 14zm-8 3zm-10 1zm-9-1zm-3-9zm-8-11zm15-10zm3-20zm40-9zm-3-28zm-31 103zm4 19zm31 18zm-5 9zm32-9zm9-23zm36 34z"/><path stroke="#f2bfc0" stroke-width="5.00" d="M175 965zm-1 13zm3 1zm0 2zm-4 25zm-2 0zm-1 5zm9-1zm6 14zm7 2zm5 6zm7-1zm2-3zm0-3zm6-2zm3 5zm-5 4zm-7-13zm-2-7zm-34 21zm-5 1zm0 4zm1 1zm-11 3zm-2 4zm-12 4zm-5 0zm-14 2zm-2 15zm-2 7zm14 3zm3 4zm4 1zm12-12zm11 6zm8 6zm10-8zm1-9zm-12-8zm2-3zm19 0zm7 4zm14 8zm6-8zm2-5zm1 39zm-10 7zm-16 6zm-10-8zm-2 12zm6 14zm1 4zm-9 9zm-11-2zm-5 3zm-3-3zm0-2zm-5 6zm-7-5zm-3-1zm6-9zm-5-4zm13-1zm0 4zm4-8zm-4-6zm-1-16zm-13 6zm-8 1zm-14-8zm-13 7zm-3 0zm0 6zm0 1zm-2 0zm-1 2zm-2-2zm0 0zm5 4zm1-2zm-4 4zm5 9zm8 0zm-18 0zm-5-19zm1-14zm-22-16zm-4 25zm29 43zm-1 1zm23 14zm-5 16zm1 2zm12 7zm6-36zm18 5zm9 6zm10 4zm4 11zm19-20zm12 10zm-38-17zm-1-2z"/><path stroke="#ffffff" stroke-width="5.00" d="M183 976zm-4 1zm-2 42zm8 6zm-17 3zm-11-5zm-1 12zm-6 9zm-25 6zm-1-5zm-3-22zm-30 34zm-2-1zm-8-1zm-7 23zm-4 6zm2 11zm18-8zm-4 22zm8 11zm5 0zm9-2zm6-6zm19-1zm17 13zm-20 14zm-28-4zm31-45zm13-18zm22 9zm15 26zm22 13zm6-9zm16 7zm-27-44zm8-10zm16-7zm1-21zm0-3zm-9-13zm-13 26zm-12-3zm-12 116zm-3 11zm11-1zm9 1zm4-8zm78-9zm20-35z"/><path stroke="#a597d5" stroke-width="5.00" d="M181 977zm0 0zm-2 1zm-2 2zm1 1zm-2-2zm3 27zm-3 5zm1 4zm-14 1zm2 10zm-6 9zm17 4zm26 5zm3-10zm1-1zm14-7zm-4-13zm-20-3zm36 37zm2 7zm-26 20zm-6 3zm-19 9zm18 17zm12 5zm-1 7zm-49-6zm-6-1zm-2 25zm-1 19zm1 2zm14 4zm26 14zm68-29zm4 0zm3 1zm3-1zm0 5zm-2 0zm6 1zm10 5zm3-23zm2-2zm1-1zm1 0zm4-4zm4-1zm0 1zm3 1zm0-1zm-17-1zm-127-55zm-11-15zm-7 34zm-24-9zm-2-4zm2-2zm-14-2zm-1 10zm-1 2zm0 3zm-9-8zm-14-2zm3-11zm5-7zm10-4zm-5-8zm-1-3zm-15 54zm7 11zm4 11zm9-10zm15 20zm-4 3zm8 7zm11-14zm-12 42z"/></g><path d="M77.2 498.0C78.7 497.6 80.1 497.5 81.7 497.5C83.3 497.4 85.1 497.6 87.0 497.8C88.8 498.1 90.9 498.6 92.9 498.9C94.9 499.2 96.9 499.4 98.9 499.7C100.8 500.0 102.7 500.2 104.5 500.8C106.3 501.3 108.2 502.0 109.6 503.1C111.1 504.2 112.3 505.7 113.3 507.3C114.2 508.9 114.5 510.6 115.3 512.5C116.1 514.4 117.2 516.7 117.9 518.8C118.6 520.9 119.5 523.1 119.5 525.0C119.6 527.0 119.2 528.7 118.5 530.3C117.8 531.9 116.1 532.9 115.3 534.4C114.5 536.0 114.0 538.0 113.8 539.7C113.6 541.4 113.9 543.0 114.3 544.9C114.7 546.8 115.6 549.2 116.4 551.2C117.2 553.1 118.7 555.0 119.0 556.4C119.4 557.8 119.2 558.7 118.5 559.5C117.8 560.4 116.3 561.1 114.8 561.6C113.3 562.2 111.2 562.1 109.6 562.7C108.1 563.2 106.4 563.7 105.4 564.8C104.4 565.8 104.1 567.5 103.9 568.9C103.7 570.4 104.1 571.8 104.2 573.2C104.4 574.7 104.6 575.8 104.8 577.6C104.9 579.5 105.3 582.4 105.2 584.4C105.1 586.3 104.7 588.2 103.9 589.4C103.1 590.7 102.1 591.2 100.5 591.9C99.0 592.6 96.7 593.3 94.6 593.6C92.5 594.0 90.4 594.2 87.9 594.0C85.4 593.9 82.3 593.0 79.5 592.8C76.7 592.5 74.0 592.4 71.2 592.4C68.4 592.3 65.1 592.6 62.7 592.6C60.3 592.6 58.5 593.0 56.8 592.4C55.1 591.8 53.7 590.2 52.6 589.0C51.5 587.8 50.8 586.4 50.1 585.2C49.4 584.0 49.1 583.4 48.4 581.9C47.8 580.3 46.8 577.6 46.0 575.8C45.2 574.0 44.6 572.5 43.6 570.9C42.6 569.2 41.1 567.8 39.9 566.0C38.7 564.2 37.5 562.0 36.3 559.9C35.1 557.9 33.6 555.6 32.6 553.8C31.5 551.9 30.4 550.4 30.1 548.9C29.8 547.4 30.4 546.1 30.8 544.6C31.2 543.2 32.2 541.9 32.6 540.3C33.0 538.8 32.9 537.1 33.2 535.5C33.5 533.9 33.5 532.2 34.4 530.6C35.3 529.0 37.4 527.3 38.7 525.7C40.0 524.0 41.3 522.1 42.4 520.8C43.4 519.5 43.4 519.0 44.8 517.7C46.2 516.5 49.0 514.9 50.9 513.5C52.9 512.0 54.4 510.5 56.4 509.2C58.4 508.0 61.0 507.1 63.0 506.0C65.0 505.0 66.7 504.1 68.3 503.1C69.9 502.0 71.3 500.5 72.8 499.7C74.3 498.8 75.7 498.3 77.2 498.0Z" fill="none" stroke="#1fa85a" stroke-width="1.45" stroke-dasharray="2.8 2"/><path d="M123.9 571.1C124.1 570.4 124.8 569.5 126.1 569.1C127.4 568.8 130.0 569.6 131.7 569.1C133.4 568.7 134.9 567.5 136.2 566.3C137.5 565.1 138.4 563.7 139.6 562.1C140.8 560.5 142.2 558.1 143.5 556.5C144.8 555.0 146.1 553.7 147.4 552.9C148.7 552.0 150.1 551.4 151.4 551.5C152.6 551.5 154.0 552.0 154.7 553.1C155.4 554.3 155.5 556.5 155.5 558.2C155.5 559.9 155.3 561.8 154.7 563.2C154.1 564.7 152.9 566.0 151.9 567.2C150.8 568.3 149.4 568.9 148.5 570.0C147.7 571.0 147.1 572.0 146.9 573.4C146.6 574.7 147.2 576.6 146.9 577.8C146.5 579.0 145.7 580.1 144.6 580.6C143.6 581.1 142.2 581.0 140.7 580.6C139.2 580.2 137.5 579.2 135.6 578.4C133.7 577.5 131.2 576.4 129.5 575.6C127.7 574.8 125.9 574.1 125.0 573.4C124.1 572.6 123.7 571.8 123.9 571.1Z" fill="none" stroke="#e8202a" stroke-width="1.45" stroke-dasharray="2.8 2"/><circle cx="88.7" cy="488.0" r="7.7" fill="none" stroke="#f0643a" stroke-width="1.45" stroke-dasharray="2.8 2"/><text x="32.1" y="486.5" font-size="8.6" font-style="italic" fill="#111">Tgfbr1</text><linearGradient id="g6" x1="0" y1="0" x2="0" y2="1"><stop offset="0.00" stop-color="#d02024"/><stop offset="0.10" stop-color="#d63e41"/><stop offset="0.20" stop-color="#dd5b5e"/><stop offset="0.30" stop-color="#e3797c"/><stop offset="0.40" stop-color="#e99799"/><stop offset="0.50" stop-color="#efb5b6"/><stop offset="0.60" stop-color="#f6d2d3"/><stop offset="0.70" stop-color="#fcf0f0"/><stop offset="0.80" stop-color="#ece9f6"/><stop offset="0.90" stop-color="#c6bee5"/><stop offset="1.00" stop-color="#a092d3"/></linearGradient><rect x="148.9" y="482.0" width="8.3" height="24.6" fill="url(#g6)"/><text x="144.2" y="485.0" font-size="8.2" text-anchor="end" fill="#111">10</text><path d="M148.9 482.0h1.6M155.6 482.0h1.6" stroke="#333" stroke-width="0.5"/><text x="144.2" y="497.3" font-size="8.2" text-anchor="end" fill="#111">5</text><path d="M148.9 494.3h1.6M155.6 494.3h1.6" stroke="#333" stroke-width="0.5"/><text x="144.2" y="509.6" font-size="8.2" text-anchor="end" fill="#111">0</text><path d="M148.9 506.6h1.6M155.6 506.6h1.6" stroke="#333" stroke-width="0.5"/><rect x="164.45" y="475.9" width="136.0" height="121.4" rx="1" fill="none" stroke="#a0a0a0" stroke-width="1.1"/><g transform="scale(0.5)" stroke-linecap="round" fill="none"><path stroke="#f2bfc0" stroke-width="5.00" d="M453 1015zm-33 13zm-4 14zm-13-8zm-6 38zm23 16zm29-6zm-7-22zm34 3zm24-8zm-19 41zm22 21zm-32 9zm2 13zm3 5zm-27-16zm4-19zm-30 15zm-13-5zm-9 32zm-11 5zm-2 6zm-15-23zm0-32zm168 37zm25-12zm2-3zm6-7z"/><path stroke="#c3bae3" stroke-width="5.00" d="M451 965zm5 8zm3 3zm0 2zm-2 1zm-4 0zm0-3zm-6 2zm-1 0zm8 26zm-5 2zm-2 0zm-7 9zm1 7zm-7 5zm1 2zm-5-4zm0-3zm-7-1zm2 8zm-11-2zm-16-6zm-1 6zm-12 4zm-4 13zm-4 3zm-3 6zm-5 6zm1 2zm1 2zm-4 5zm-3-4zm-5 0zm-2 4zm-2 7zm-8 9zm1 3zm0 2zm2 1zm-7 6zm8 5zm1 7zm10 1zm4-3zm8-2zm0 5zm4-2zm3-7zm3-2zm5 1zm2-3zm0-2zm3-3zm3-2zm1 0zm5-2zm0-5zm3 0zm1 1zm2 3zm9 9zm7-4zm-1-3zm-5-11zm-1-3zm4 0zm-1-5zm9 6zm10 2zm-1 4zm7-4zm-4-8zm-3-1zm8-2zm1-7zm-8-1zm1-6zm0-5zm9 5zm8 3zm9 1zm1 6zm3 0zm-1-13zm0-5zm5 1zm1 5zm-2-12zm-2-1zm1-5zm0-3zm-3-2zm-2-1zm-2-1zm0-2zm-1-1zm-1 3zm-2 0zm-2-1zm0 4zm-5 7zm4 4zm5 5zm-15-9zm-2-3zm-3-2zm-17 18zm-2 2zm-7-2zm-1 3zm-3-1zm-5 0zm-4 3zm-2-7zm14 9zm13 2zm2 2zm3-2zm-28 10zm-3 2zm-3-3zm-10 4zm0 2zm1 3zm-2 3zm-3-1zm-3 1zm-2 0zm1 2zm-3-4zm-5-3zm-2-4zm9-14zm3-6zm4 15zm-11 21zm-2 2zm-5 0zm0 0zm-1 2zm-1 3zm5 0zm8-6zm-13 31zm-8 4zm0 2zm3 2zm4 13zm7-1zm2 2zm2-5zm7 8zm4 0zm-9 8zm-6-5zm-1 1zm14-21zm-5-5zm10-2zm7 13zm13-7zm8-2zm8 1zm6-6zm-1-1zm5-1zm1 0zm-8-4zm-5 3zm-3-4zm2-1zm3-9zm13-8zm0-2zm8 6zm2-6zm3-1zm0 4zm2 4zm-8 6zm6 6zm10-6zm3 5zm-4 11zm-2 1zm4 1zm10 5zm16-7zm2-4zm-5-2zm3-8zm-15-5zm-1 1zm-4-12zm-1-4zm-4 6zm-6-19zm20 2zm1-2zm4-11zm1 0zm5-4zm1 1zm-3-3zm8-1zm6-3zm1-14zm-6-8zm-10-1zm-3-2zm-4 1zm0-4zm2-9zm2-3zm6 2zm0 0zm-4 18zm-7 3zm0 0zm7 8zm9 25zm-33-50zm0-4zm0-3zm-96 33zm60 113zm8-4zm4 5zm4-3zm3 0zm3-8zm2-1zm2 15zm8 1zm6-12zm2 24zm67-31zm10 6zm1 1zm2-2zm2 3zm1 0zm1 2zm0-5zm1-4zm-6 0zm9 4zm3 5zm1 1zm-3-13zm3-5zm4-4zm8-11zm3 3zm1 1z"/><path stroke="#e48082" stroke-width="5.00" d="M494 1054zm-24 30zm5 19zm17-1zm0-4zm-19 31zm-5 22zm-19 2zm-5-5zm7 19zm-20-34zm2-10zm-50 12zm4 22zm187-42z"/><path stroke="#eb9fa1" stroke-width="5.00" d="M482 1010zm7 48zm-2 65zm-56 14zm-11-18zm-2-4zm-10 10zm-18-1zm-13-10zm-2-9zm8-9zm-3-13zm34 14zm13-22zm-22-35zm-23 102zm21 15zm169-32zm0-1z"/><path stroke="#f8dfe0" stroke-width="5.00" d="M456 979zm-3 1zm2 6zm-4 18zm3 1zm-4 4zm-6 1zm-2 3zm2 5zm-15-7zm-2-1zm5 25zm-3 10zm-3 9zm-13 2zm-4-2zm-11 3zm-4-1zm-1 11zm-6-2zm4 9zm1 2zm4 7zm-1 1zm12-3zm15-10zm32-6zm22-1zm2-8zm10-4zm-3-11zm-3-1zm-4-5zm9-7zm-2-2zm1-1zm-1-1zm4 1zm1-6zm3-3zm-14-4zm-13 9zm-18 18zm45 0zm10 4zm5 0zm-8 13zm-7 30zm-7 12zm-19 10zm-3 6zm-13 15zm2 7zm-16 1zm-2-3zm-17 1zm-12 3zm-5-8zm-5 2zm-3-14zm-6-2zm0-9zm-4 2zm-4-7zm-4 11zm-5 11zm8 21zm24 8zm25-1zm0 9zm20 2zm0-6zm11-1zm13 13zm-4 6zm-1 6zm10-39zm21-23zm48 23zm6 3zm7 4zm10-26zm2-1zm5-2zm2 1zm-144-15zm-23 19zm-61-36zm34-38z"/><path stroke="#d02024" stroke-width="5.00" d="M505 1046zm-1 1zm2 2zm-14 5zm-3 0zm-3 8zm-2 3zm-3 0zm4 4zm1 9zm7-2zm3 6zm0 22zm-13 6zm-7 24zm-14-7zm-13 6zm1 10zm1 3zm9 16zm11 10zm3-1zm-10 8zm-9 0zm-25-11zm3-7zm-6-19zm8-5zm-26 4zm-1 5zm-1 7zm-12-1zm75-77zm2-9zm6-14zm-1-5zm100 61zm-2 4z"/><path stroke="#dd6063" stroke-width="5.00" d="M477 1048zm0 55zm13 8zm-36 34zm-19 9zm29 17zm12-10zm-77-39z"/><path stroke="#d74043" stroke-width="5.00" d="M472 1047zm8 26zm5-1zm13 10zm-46 62zm-5 0zm-14 21zm-17-27zm-29 3zm85 27z"/><path stroke="#e1dcf1" stroke-width="5.00" d="M456 973zm1 4zm-5 2zm-5 0zm6 6zm-3 16zm1 3zm-5 4zm-13 9zm0 6zm8 8zm2 2zm-11 3zm-5 4zm4 9zm2 4zm9 4zm11 0zm8 5zm2-1zm6 1zm-12 9zm-4 3zm-7 5zm-6 5zm11 3zm3 5zm6-3zm-8 14zm7 6zm4 2zm1 2zm-4 0zm5 7zm-10 1zm-13 13zm-3 21zm36 6zm-5 15zm18-57zm9 0zm-7-20zm-4-22zm-3-7zm-8-34zm1-3zm2-1zm14 4zm9 4zm-8-15zm2-4zm-3-2zm-20-6zm-25 54zm-14 5zm-7-2zm-3-1zm-7 9zm7 7zm-5 5zm-2-2zm-8 3zm15 10zm3 4zm-2 5zm13 3zm-34 27zm-9 8zm-12-5zm-2 3zm0 2zm13 22zm-30-48zm-1-1zm-4-1zm6-6zm-4-7zm2-7zm-13-5zm-3 8zm0-28zm5 0zm5-2zm9-12zm0-1zm2-3zm8-2zm10-7zm16 0zm4 6zm-23 24zm-3 4zm-10 5zm9 14zm1 5zm5-4zm-27-47zm11-13zm179 101zm3 0zm2 6zm-5 0zm23-21zm1-2zm1-1zm-6-1zm8-11zm2-3z"/><path stroke="#ffffff" stroke-width="5.00" d="M459 977zm-2 0zm-5 1zm-13 22zm9 3zm0 5zm7 2zm7 6zm1-1zm7-1zm-7 9zm1 3zm-11-3zm-11 4zm2 4zm-9 4zm-5-6zm-4-3zm-5 23zm-3 3zm1 1zm-5 5zm-8-9zm-15-3zm-16-1zm-4-8zm27-17zm11 50zm0 10zm8 7zm1 2zm0 4zm0 4zm-7 2zm7 5zm7 6zm0 3zm3 3zm-3 11zm-12 3zm-16 2zm-10-8zm-4-6zm-1-5zm0-6zm2 0zm5-6zm2-1zm2 4zm-8-5zm-10 11zm-20-1zm-10-11zm5-14zm14-12zm7 4zm-1 10zm19-13zm40 22zm2 3zm18 2zm10 6zm5-5zm5-4zm-5-5zm-2-13zm-13-1zm-2-6zm10-6zm-7-12zm-11-3zm2 10zm15-21zm18-5zm2 4zm-1 3zm15-4zm1 10zm4 4zm8 7zm-10 15zm-6 8zm4 3zm-11-10zm-2 2zm-3-16zm-1-1zm27-19zm0-9zm-13-9zm-2 79zm-8 0zm-7 2zm-8 17zm-5 0zm-15 21zm-6 6zm-6 6zm21 15zm6-9zm83-16zm0-1zm7 0zm2 0zm6-1zm2-2zm-10 13zm23-33zm1 1zm1 0zm7 2zm-206 19z"/><path stroke="#c3bae3" stroke-width="5.00" d="M456 972zm0 0zm1 1zm-1 5zm-2 0zm-1 0zm-1 0zm0 1zm0 5zm1 1zm-6 20zm1 3zm7-2zm-2 13zm-3 8zm6 3zm1 2zm1 1zm0 2zm-7 4zm-3-1zm-1 3zm-3 9zm0 1zm0 3zm2-1zm-2 3zm-4 4zm2 3zm-1 3zm4 3zm0 1zm4 0zm2-1zm-3 8zm5 4zm12-2zm-2-6zm-2-6zm-1-3zm5-4zm7 1zm7 3zm5 2zm2-4zm-2 12zm-1 8zm-9 4zm-4 6zm-2 10zm-1 3zm12-5zm6 8zm2 1zm3-2zm0-1zm2 3zm4 0zm-10 8zm-10-3zm-11 3zm-13 10zm-10 4zm2 3zm1 2zm-3 6zm6 1zm3-2zm2 0zm-4 13zm-4 4zm0 0zm-2-5zm12 5zm-1 1zm-1 5zm7-7zm6-5zm5 13zm4 7zm-10 2zm11-33zm-3-5zm6-3zm-38-18zm-4-1zm-6-1zm-4 3zm0-8zm4-7zm0-5zm1-4zm-3-1zm-5 6zm-6 4zm-3-12zm0-3zm4 1zm-1-6zm-6-1zm-2 1zm-7 4zm-7 2zm0 1zm-5 5zm1-13zm3-2zm-1-5zm0-1zm-5 4zm-3-1zm-4 3zm-3 2zm-3 1zm0 5zm-3-1zm4 5zm-3 3zm-1 1zm-7-4zm0-3zm0-8zm3-1zm1-5zm-5-4zm-2 6zm-5-4zm-2 4zm-4-3zm-5-4zm6-8zm4 1zm14 1zm13-9zm1-6zm-2-6zm0-4zm8-1zm1 1zm5-1zm3 6zm9 4zm-2 5zm-9 5zm-3-4zm-3 13zm15 1zm7 7zm6-5zm0-1zm4 3zm8 4zm2 2zm3-7zm-5-11zm-4-8zm1-4zm-1-4zm2-4zm4-2zm0-5zm4 3zm1-2zm4-3zm-6-8zm-5-1zm-3-1zm-2 1zm-8 6zm-2 1zm0-5zm9 12zm-5 4zm-4 6zm-1 12zm-19-27zm2-3zm-2-3zm-10 5zm-41 51zm0 3zm0 0zm0 2zm1 5zm6 10zm-1 1zm9-1zm7 2zm-1 6zm-4 2zm11-1zm3-2zm2-1zm0 2zm-1 1zm3-4zm9 8zm-6 6zm-2 5zm3 5zm-1 3zm0 5zm-9 5zm-4-1zm0 2zm11 17zm12-12zm13-8zm5-6zm-1-2zm6-6zm-17-4zm-9 7zm-2-3zm-19-5zm-4 0zm-6 1zm-2 0zm44 39zm23-10zm3-12zm1 0zm23-39zm0-2zm4-3zm1 0zm2-1zm17-20zm19 18zm1-38zm7 1zm1 0zm1-6zm0-2zm-1-3zm4 4zm-21-9zm-8 0zm-1 0zm0 0zm-5 2zm6 5zm-2-13zm3-1zm-2-6zm2-8zm-1-1zm5 0zm8 2zm3 0zm0 4zm-6 1zm-17-10zm0-3zm-5-1zm-3 9zm-3 7zm1 2zm-10 23zm85 91zm12 7zm5-5zm8-7zm0-1zm0 1zm5-7zm-3-5zm-2-1zm11-1zm0 2zm7 1z"/><path stroke="#ffffff" stroke-width="5.00" d="M455 978zm-9 2zm21 41zm-2 5zm3 4zm11-1zm4 2zm-4 4zm12-7zm11 0zm-2 10zm5 10zm-15-33zm-40 13zm-7 3zm-3 1zm0 1zm-7-2zm-1-4zm-9 19zm-9-1zm1-2zm-9-7zm-3 1zm-1 6zm-4 7zm-1 7zm-10-7zm-17 7zm-11 1zm6 17zm6 2zm14-8zm3 1zm0 3zm2 1zm3 0zm2 13zm-1 3zm3 6zm-9-2zm-5 6zm-4 0zm1 9zm1 7zm6 6zm-7 5zm16-6zm2-1zm-2-3zm12 19zm14-21zm6 0zm-1-6zm5 1zm1 12zm1 4zm18 3zm1-5zm5-11zm3-5zm7-3zm5-5zm8 5zm6 4zm7 3zm-5 6zm-5 1zm9-17zm-8-23zm-27-20zm-3 0zm-6-2zm-4-9zm-13 11zm2 2zm-1 6zm-2 6zm2 2zm2 1zm6-1zm0-3zm1 6zm1 4zm3 9zm-19 8zm-13-17zm-1-2zm-1 2zm-2 2zm-1-4zm-5 2zm14-9zm9 1zm-17-11zm-59 13zm2 20zm2 11zm-1 0zm9-2zm7 8zm-10 11zm14 19zm56 9zm29-7zm21 14zm72-8zm1-2zm-1 0zm3-6zm1 1zm4 7zm6-18zm0-1zm2-8zm3-2zm1 0zm0 1zm2-4zm1-2z"/><path stroke="#e1dcf1" stroke-width="5.00" d="M456 974zm-1 3zm-1 1zm-3 2zm2 6zm8-9zm-13 34zm-2 0zm-4-1zm-18 6zm-4 0zm1 9zm18 7zm0-1zm21-1zm5 0zm2-1zm-2-10zm-4 1zm19 8zm5-2zm2 3zm6-4zm8 10zm-14 4zm-2 2zm-13 1zm-5 0zm-18 23zm9 13zm-14 2zm-4-2zm-7-6zm-13 0zm-2 1zm0-2zm-3 7zm5 3zm9 4zm10 4zm3 3zm-14 16zm5 8zm-1 17zm-17-16zm-12 1zm-4-4zm-13-9zm-5 0zm-6 2zm-2 1zm-5 2zm-4-1zm-1-1zm-11-3zm-1 1zm2 14zm10-23zm6-10zm6 2zm-2-7zm-4-5zm-1 1zm-5-3zm-5-3zm-8 4zm-1 1zm1 1zm-2 4zm-1-11zm13-8zm0-6zm9-12zm13 6zm2-1zm9 3zm3-6zm-1-9zm0-1zm5-1zm4-1zm-1 24zm5 11zm7-7zm-21 5zm0 2zm-2-4zm-3 0zm-1 0zm1 2zm-6 10zm0 18zm22-4zm-17 36zm-6 26zm0 9zm20-5zm17 10zm33 0zm29-49zm18-14zm-19-29zm23-20zm-47 51zm78 36zm16 4zm2 2zm3 3zm-2-10zm5-3zm19-27z"/><path stroke="#dd6063" stroke-width="5.00" d="M473 1100zm18 17zm-21 8zm9 35zm-40-14zm-46 4zm0-3zm-2-6z"/><path stroke="#f8dfe0" stroke-width="5.00" d="M460 978zm-6 1zm-4-1zm-5 29zm26 23zm14-7zm4-2zm-4 36zm-24-1zm-6-14zm-14 22zm-5 4zm-4 2zm-9-1zm-5 10zm-5-2zm0 8zm4 0zm0 1zm2 1zm3 0zm0-2zm3-1zm0 3zm-7 4zm10 4zm-6 14zm2 5zm1 4zm0 5zm15 5zm0 12zm-14 5zm-25-17zm1-6zm-4-8zm-8-14zm-19 14zm-6-5zm-16-17zm39-19zm3-2zm0-1zm4 8zm2-1zm7 5zm-5-25zm-2-4zm0-2zm2-1zm12 1zm4 4zm7-8zm-27-11zm4-15zm41 59zm10 0zm6-2zm7-3zm15 22zm-12 11zm-8 3zm-2-2zm37-17zm76 30zm3 0zm-2 6zm-3 2zm-9 13zm-83 35zm-4-4zm-3 1zm-12 8zm-59-24zm-5-3zm-2-3zm-2 7zm-1 14zm-14-32zm-1-3zm16-1z"/><path stroke="#eb9fa1" stroke-width="5.00" d="M491 1033zm-18 16zm10 20zm27-15zm-21 54zm6 9zm-20 20zm-15-8zm-5-4zm-10 12zm13 22zm-54-3zm-19 16zm-2-31zm2-27zm0-40zm184 51zm8-4z"/><path stroke="#f2bfc0" stroke-width="5.00" d="M469 1009zm14 15zm-8 13zm-10-3zm-4-4zm2 22zm-35 3zm-6 14zm-13-2zm4-19zm-13-3zm-13 61zm31 25zm-43 13zm94-17zm17-13zm11-8zm38 37zm28-10zm-59-82z"/><path stroke="#e48082" stroke-width="5.00" d="M487 1057zm8 20zm-12 22zm10 15zm-21 25zm-8-1zm-8 7zm-12-6zm-14 7zm-21-20zm-21 36zm4 12z"/><path stroke="#d74043" stroke-width="5.00" d="M486 1100zm-13 6zm4 26zm-21 25zm-3 13zm-24-14zm1-9zm2-12zm-19 21zm-14-24zm-14-4zm191-14z"/><path stroke="#d02024" stroke-width="5.00" d="M493 1051zm-1 9zm2 9zm-2 2zm-7-5zm-14-8zm31-5zm5-2zm-12 33zm-18 17zm3 2zm8 12zm8-4zm-19 34zm1 1zm-13 6zm-8 6zm-4 1zm-4 1zm-1-6zm-3-7zm1-1zm0-5zm-2-2zm1-5zm-6 3zm-4 9zm-5 8zm14 10zm-3 3zm14-5zm8 6zm-7-23zm-48-9zm-7 20zm-2 0zm-4 2zm-5 9zm4 5zm3-3zm7 0zm8 7zm-27-47zm189-12zm1-8z"/><path stroke="#d74043" stroke-width="5.00" d="M491 1071zm2 18zm-2 0zm-3 18zm-16-11zm0 37zm-26 14zm-4-2zm-4 7zm-29 4zm-9-8zm-6 6z"/><path stroke="#e48082" stroke-width="5.00" d="M470 1095zm-44 29zm-12 4zm-11-4zm-17 11zm10 22zm53 12zm4-12zm12-5zm11 6z"/><path stroke="#dd6063" stroke-width="5.00" d="M482 1098zm-30 48zm-2 14zm-32-23zm-30 12zm1-27z"/><path stroke="#f8dfe0" stroke-width="5.00" d="M452 979zm3 27zm-21-1zm2 12zm2 9zm-12-5zm-5 20zm-5-1zm2 5zm-3 17zm1 7zm-6 4zm3 5zm12 5zm7 9zm5-13zm-2-17zm7-5zm11-6zm17-9zm5-3zm4 1zm1-3zm5 0zm1 4zm-8 3zm-6 13zm-7 25zm15 3zm-12 14zm18 11zm-16 15zm-9-2zm-26-12zm-2-3zm-4-1zm-9-1zm-7 5zm-15 8zm-1-1zm-6 2zm-2 11zm-3 2zm-8 1zm-8-12zm4-2zm2-15zm4-4zm13 0zm4-10zm-1-15zm-1 0zm-6-5zm5-13zm3-6zm5-2zm-13 3zm-18-1zm-6 9zm-7 14zm7 11zm21 75zm40-13zm21 16zm4-1zm106-18zm2 5zm3 3zm2 2zm-4-18zm6-14zm6-4zm-86-91zm0-7zm0-9zm3-1z"/><path stroke="#f2bfc0" stroke-width="5.00" d="M479 1013zm6 6zm-3 9zm15 7zm4-11zm-2 28zm-9 1zm-29-14zm-2 0zm-19-8zm-5 5zm-16-7zm11-14zm25 49zm17 22zm-7 24zm-10 2zm-13-15zm-12 2zm3 19zm1 14zm4 5zm-3 12zm-26-13zm-5 15zm-6-3zm-11 14zm8 8zm0-51zm17-3zm5 6zm-21-32zm0-16zm20 2zm-35 28zm-1 6zm173 39zm0 1zm7-14zm18-12zm-3-8z"/><path stroke="#d02024" stroke-width="5.00" d="M489 1049zm2 4zm0 4zm2 13zm-9 0zm-2 5zm-3 10zm-4 1zm-5 5zm3 12zm4 3zm7-4zm8 5zm1 1zm1 3zm0 2zm-19 12zm-26 5zm-6-1zm3 9zm-1 0zm-2 1zm3 2zm3 0zm-3 9zm-4 1zm-3 4zm6 2zm5 7zm16-9zm5 19zm3 2zm2-1zm-14 5zm-32-14zm-2-1zm4-2zm-6-13zm0-2zm6-1zm2-13zm-12-1zm-3-1zm-3-2zm3 6zm-13-10zm-2-2zm-5 23zm-4 5zm4 5zm15 1zm-12 21zm23 1zm70-102zm9-25zm0-3zm-27 0z"/><path stroke="#ffffff" stroke-width="5.00" d="M451 965zm5 12zm0 1zm3-2zm-7 29zm12 24zm2 2zm2 0zm-3 8zm-8 1zm-8 8zm-6 5zm1 5zm4 0zm0 13zm1 6zm0 10zm-6 0zm-3 5zm-11 6zm-4-3zm1-2zm-10 4zm-3 2zm-4-10zm0-7zm-13-11zm0-5zm-5-7zm10-7zm0-2zm3-5zm3-1zm1 1zm-2-6zm-12 3zm-8-6zm-18 12zm1 11zm-12 9zm1 4zm-1 6zm0 3zm18 9zm11-11zm0-2zm4 3zm3 11zm-3 2zm4 10zm-3 3zm-13 5zm-10 9zm-5-7zm-2-5zm3 22zm23 5zm1 0zm-6 10zm-3 9zm17-7zm20 11zm17-22zm-11-13zm-6-5zm-7-7zm18 6zm9-8zm15 15zm15-2zm-2 12zm17-9zm1 1zm6-16zm2-1zm1-6zm7 2zm4-3zm-33-9zm-4 13zm-4-1zm0-31zm-5-3zm8-4zm9-2zm-10-7zm-1-4zm14-13zm6-5zm3-7zm1-10zm4-4zm4 3zm2 8zm5 14zm-27-17zm-35 16zm-12 0zm-1 5zm0 2zm-6 16zm-11-10zm27 17zm-12-45zm2-8zm59 53zm58 74zm10 4zm6 2zm2-11zm3-15zm9-1zm-183 52z"/><path stroke="#c3bae3" stroke-width="5.00" d="M452 979zm1 1zm0 1zm1 0zm0 1zm-1 1zm0 0zm0 2zm3-5zm-8-1zm-4 24zm-3 2zm4 6zm0 1zm4-5zm2 0zm2 0zm0-2zm10 5zm9 7zm-1 8zm-4-1zm-2 5zm-2-1zm-1-1zm1 11zm9 4zm3-3zm0-4zm-2-1zm8-2zm1 1zm1 5zm1 0zm1 2zm-8 3zm-9 13zm-1 0zm5 5zm-5 6zm-4 7zm-2-1zm-6-4zm-3-1zm-5 2zm-2-2zm0-6zm-3-6zm0-5zm-3-3zm-1-10zm-3 0zm2-7zm3-4zm-10 0zm-2 1zm-6 2zm-4-2zm7-6zm7-8zm4 0zm-23-3zm-18 23zm1 2zm1 3zm2 1zm1 5zm-6 11zm2 1zm-4-2zm4 13zm-3 1zm1 3zm-7 2zm-3 5zm-3-2zm-3 5zm-2 0zm-3 0zm1-4zm-8-2zm-3 0zm-5 1zm-1-2zm2-5zm1 0zm-5-6zm-5 4zm-2 5zm-1 13zm-2 2zm-2 4zm5 3zm-1 2zm4 1zm-1 2zm3-1zm-2 4zm6 1zm2-2zm4 4zm0 1zm4 0zm-4 4zm-1 2zm1 1zm-3-4zm-5 0zm6 9zm1 1zm4 1zm1 2zm6-3zm4-11zm-2-1zm-2-7zm-3-8zm2-2zm-2 0zm-2-1zm5-3zm9-1zm2 10zm0 5zm9 0zm0-4zm3-6zm3-4zm4-8zm2-2zm1 5zm3-9zm6-1zm4 11zm-4 3zm8 7zm2 2zm0 5zm-4 1zm1 3zm-5-1zm1-5zm14-2zm0 2zm1 10zm6 1zm6 9zm6 11zm-3 2zm-6 3zm-2-2zm-6 7zm1 4zm-1 8zm1 3zm1 1zm-7 5zm-1-8zm17 3zm0-7zm-1-6zm2-1zm1 0zm9 21zm-2 11zm6 8zm1 2zm3-1zm15-10zm-3-4zm3-3zm-4-24zm-3-6zm-11-14zm2-10zm-2-4zm5-1zm3-7zm-4-6zm-5-1zm-1-6zm-5 10zm-1 5zm-2 0zm-5-5zm-4-5zm2-14zm-5-2zm2-3zm-3-9zm11-7zm0-1zm2-1zm-25-1zm-2-11zm-5 0zm9 32zm27 33zm1 5zm20-10zm4 2zm8 1zm1 8zm2 1zm0 1zm2 7zm3-48zm-6-17zm2-4zm6-10zm3-4zm3 11zm4 0zm-21-24zm-5-1zm0 0zm-5 0zm17-13zm-21 62zm-71 42zm-1 6zm-5-2zm-4-2zm-7 4zm2 4zm-4 3zm0 11zm8-2zm7-8zm11 6zm-15 16zm-3 6zm-1 8zm0 4zm0 2zm13 4zm28-7zm9 3zm-4 7zm-61-20zm4-9zm-7-8zm-16-49zm25-23zm-7-14zm-7 1zm1-13zm10-4zm1 7zm7-6zm150 101zm2 0zm1 1zm5 1zm2 0zm2 2zm2 3zm2 3zm5-6zm2 2zm-4-3zm1-2zm-5 1zm9-6zm0-1zm3-4zm11-9zm7 0zm-18 30zm0 2z"/><path stroke="#eb9fa1" stroke-width="5.00" d="M497 1015zm5 40zm-18 8zm1 19zm10 28zm-7 8zm-38 9zm-29-11zm-13 27zm-26 1zm-6 0zm7-40zm15-17zm17-8zm7-7zm-27-7zm67 94zm1 2zm107-29z"/><path stroke="#e1dcf1" stroke-width="5.00" d="M451 966zm-1 12zm1 1zm4-1zm-10 0zm-6 25zm-4 8zm4 5zm2 10zm3 2zm1 2zm1 1zm0-1zm3 4zm-9-3zm-9 7zm-12 5zm-4 2zm-13 12zm-3-2zm19 12zm0 4zm8 2zm2-4zm5 5zm12-2zm7-13zm-3-4zm-8-2zm24-13zm13-2zm5 1zm1-3zm2-4zm-4-4zm-6 3zm3-12zm-2-7zm-1-3zm-6 0zm1 8zm16-7zm10 23zm-27 25zm13 17zm-6 8zm-8 15zm-2 8zm-3 6zm-4 1zm-2-3zm1-1zm-7-16zm-17 15zm-10-17zm-5-5zm2-5zm-11 7zm-12-1zm-9-10zm0-1zm-5 3zm-8-4zm-6-6zm0-1zm-7-11zm1-1zm9-7zm9-9zm38-13zm7-5zm23-11zm1 0zm-1-7zm42 96zm-5 21zm-9 39zm-25-15zm-13-10zm-1-3zm-11 5zm-34 13zm0 7zm-6 13zm-15-26zm4-8zm-4-4zm-11-10zm-2-2zm2-2zm1-9zm4 0zm7-5zm6-6zm-7-3zm-5-3zm-2-8zm-13-2zm-5 0zm-6 5zm3 4zm5 4zm3-1zm-6 6zm-1 5zm-6-9zm54 14zm-5 27zm143 5zm15 7zm21-21zm13-3z"/></g><path d="M215.2 498.0C216.7 497.6 218.0 497.5 219.7 497.5C221.3 497.4 223.1 497.6 224.9 497.8C226.8 498.1 228.9 498.6 230.9 498.9C232.9 499.2 234.9 499.4 236.8 499.7C238.8 500.0 240.7 500.2 242.5 500.8C244.2 501.3 246.1 502.0 247.6 503.1C249.0 504.2 250.3 505.7 251.2 507.3C252.2 508.9 252.5 510.6 253.3 512.5C254.0 514.4 255.2 516.7 255.9 518.8C256.6 520.9 257.4 523.1 257.5 525.0C257.6 527.0 257.1 528.7 256.4 530.3C255.7 531.9 254.0 532.9 253.3 534.4C252.5 536.0 251.9 538.0 251.7 539.7C251.6 541.4 251.8 543.0 252.2 544.9C252.7 546.8 253.6 549.2 254.4 551.2C255.1 553.1 256.6 555.0 257.0 556.4C257.3 557.8 257.1 558.7 256.4 559.5C255.7 560.4 254.2 561.1 252.8 561.6C251.3 562.2 249.1 562.1 247.6 562.7C246.0 563.2 244.3 563.7 243.3 564.8C242.4 565.8 242.0 567.5 241.8 568.9C241.6 570.4 242.0 571.8 242.2 573.2C242.3 574.7 242.5 575.8 242.7 577.6C242.9 579.5 243.3 582.4 243.2 584.4C243.0 586.3 242.7 588.2 241.9 589.4C241.1 590.7 240.0 591.2 238.5 591.9C236.9 592.6 234.7 593.3 232.6 593.6C230.5 594.0 228.4 594.2 225.9 594.0C223.4 593.9 220.3 593.0 217.5 592.8C214.7 592.5 211.9 592.4 209.1 592.4C206.3 592.3 203.1 592.6 200.7 592.6C198.3 592.6 196.5 593.0 194.8 592.4C193.1 591.8 191.7 590.2 190.5 589.0C189.4 587.8 188.7 586.4 188.1 585.2C187.4 584.0 187.1 583.4 186.4 581.9C185.7 580.3 184.8 577.6 184.0 575.8C183.1 574.0 182.5 572.5 181.5 570.9C180.5 569.2 179.1 567.8 177.9 566.0C176.7 564.2 175.5 562.0 174.2 559.9C173.0 557.9 171.5 555.6 170.5 553.8C169.5 551.9 168.4 550.4 168.1 548.9C167.8 547.4 168.3 546.1 168.7 544.6C169.1 543.2 170.1 541.9 170.5 540.3C170.9 538.8 170.8 537.1 171.2 535.5C171.5 533.9 171.5 532.2 172.4 530.6C173.3 529.0 175.3 527.3 176.7 525.7C178.0 524.0 179.3 522.1 180.3 520.8C181.3 519.5 181.3 519.0 182.7 517.7C184.2 516.5 187.0 514.9 188.9 513.5C190.8 512.0 192.3 510.5 194.3 509.2C196.3 508.0 199.0 507.1 201.0 506.0C203.0 505.0 204.6 504.1 206.2 503.1C207.9 502.0 209.2 500.5 210.7 499.7C212.2 498.8 213.7 498.3 215.2 498.0Z" fill="none" stroke="#1fa85a" stroke-width="1.45" stroke-dasharray="2.8 2"/><path d="M261.8 571.1C262.0 570.4 262.8 569.5 264.1 569.1C265.4 568.8 268.0 569.6 269.7 569.1C271.3 568.7 272.8 567.5 274.1 566.3C275.4 565.1 276.3 563.7 277.5 562.1C278.7 560.5 280.1 558.1 281.4 556.5C282.7 555.0 284.0 553.7 285.3 552.9C286.6 552.0 288.1 551.4 289.3 551.5C290.5 551.5 291.9 552.0 292.6 553.1C293.3 554.3 293.5 556.5 293.5 558.2C293.5 559.9 293.2 561.8 292.6 563.2C292.0 564.7 290.8 566.0 289.8 567.2C288.8 568.3 287.3 568.9 286.5 570.0C285.7 571.0 285.1 572.0 284.8 573.4C284.5 574.7 285.2 576.6 284.8 577.8C284.4 579.0 283.6 580.1 282.6 580.6C281.5 581.1 280.1 581.0 278.6 580.6C277.1 580.2 275.4 579.2 273.6 578.4C271.7 577.5 269.2 576.4 267.4 575.6C265.6 574.8 263.9 574.1 262.9 573.4C262.0 572.6 261.7 571.8 261.8 571.1Z" fill="none" stroke="#e8202a" stroke-width="1.45" stroke-dasharray="2.8 2"/><circle cx="226.6" cy="488.0" r="7.7" fill="none" stroke="#f0643a" stroke-width="1.45" stroke-dasharray="2.8 2"/><text x="170.0" y="486.5" font-size="8.6" font-style="italic" fill="#111">Fcrls</text><linearGradient id="g7" x1="0" y1="0" x2="0" y2="1"><stop offset="0.00" stop-color="#d02024"/><stop offset="0.10" stop-color="#d53a3d"/><stop offset="0.20" stop-color="#db5357"/><stop offset="0.30" stop-color="#e06d70"/><stop offset="0.40" stop-color="#e68789"/><stop offset="0.50" stop-color="#eba1a2"/><stop offset="0.60" stop-color="#f1babc"/><stop offset="0.70" stop-color="#f6d4d5"/><stop offset="0.80" stop-color="#fbeeee"/><stop offset="0.90" stop-color="#f0eef8"/><stop offset="1.00" stop-color="#c4bbe4"/></linearGradient><rect x="285.4" y="481.1" width="8.3" height="24.6" fill="url(#g7)"/><text x="281.1" y="484.1" font-size="7.6" text-anchor="end" fill="#111">15</text><path d="M285.4 481.1h1.6M292.1 481.1h1.6" stroke="#333" stroke-width="0.5"/><text x="281.1" y="492.3" font-size="7.6" text-anchor="end" fill="#111">10</text><path d="M285.4 489.3h1.6M292.1 489.3h1.6" stroke="#333" stroke-width="0.5"/><text x="281.1" y="500.5" font-size="7.6" text-anchor="end" fill="#111">5</text><path d="M285.4 497.5h1.6M292.1 497.5h1.6" stroke="#333" stroke-width="0.5"/><text x="281.1" y="508.7" font-size="7.6" text-anchor="end" fill="#111">0</text><path d="M285.4 505.7h1.6M292.1 505.7h1.6" stroke="#333" stroke-width="0.5"/><rect x="304.45" y="475.9" width="135.0" height="121.4" rx="1" fill="none" stroke="#a0a0a0" stroke-width="1.1"/><g transform="scale(0.5)" stroke-linecap="round" fill="none"><path stroke="#c3bae3" stroke-width="5.00" d="M736 972zm-5 32zm0 0zm1 1zm28 12zm4-1zm-2-6zm0 30zm-5 10zm-5 7zm5 44zm-50 7zm-3 2zm-6-13zm5-12zm-1-14zm-2-3zm-11-18zm7-10zm10-14zm-44 52zm-4 7zm-10 5zm0 11zm-15-2zm-6 6zm0-16zm-4-2zm5-14zm9 2zm3-5zm5-9zm22 61zm2 0zm2 6zm12-10zm26 19zm16 11zm18 20zm16-8zm71-17zm9 6zm3 4zm4-20zm-194 9z"/><path stroke="#d74043" stroke-width="5.00" d="M737 977zm20 35zm18 6zm-8 20zm18 8zm-1 4zm-18 12zm-10 2zm-13-36zm-33 29zm-5 27zm7 8zm0 19zm-1 2zm22 28zm-3 19zm21 14zm6-42zm16-24zm-81-28zm-17 7zm-4-13zm-1 26zm-20 22zm-16-28zm-3 1zm-4-11zm2-7zm57-38zm-14 135z"/><path stroke="#a597d5" stroke-width="5.00" d="M770 1019zm-66 69zm-13 0zm-32 14zm-31-13zm2-11zm9-8zm67 75zm17 8zm36 7zm55-17zm4-1zm3 2zm2-1zm2-1zm1 2zm3 4zm-1 1zm4 0zm1 0zm-1 2zm2-4zm3-2zm1 2zm-3-4zm-2-1zm-3 1zm1 2zm9-7zm2-2zm0-1zm1-2zm3-2zm1-2zm3-1zm0 0zm2-4zm0-1zm0-1zm0-1zm2-2zm1-2zm-1 0zm0-4zm1-1zm2 0zm0-4zm0 13zm1 3zm3 0zm1 1zm-8-1zm-5-2zm-1 1zm-2 1zm-2 0zm-2-1z"/><path stroke="#f2bfc0" stroke-width="5.00" d="M733 1007zm-2 4zm-3-3zm-4 10zm21 8zm-1 3zm13 3zm5 1zm4 8zm3 8zm-13 1zm-1-8zm1-1zm7-17zm3 2zm9-4zm-9-10zm-14 1zm-1 4zm-9 37zm-2 10zm4 3zm6 17zm13-2zm10-12zm-9-7zm22-14zm-5-9zm4-3zm-63 26zm-1 1zm-14 11zm-2 16zm7 5zm0 2zm-6 7zm-2 5zm9-2zm6 7zm1 0zm15-6zm5 4zm6 8zm-11 4zm-5 2zm-4 11zm-8-1zm16 8zm22-11zm0-20zm1-11zm13 8zm4 0zm-20 60zm-7 4zm-40-23zm-25 6zm-3-2zm-9 16zm-5 0zm-2-32zm12-30zm16-11zm5-11zm-20 2zm-4-15zm2-3zm-5-6zm-18 3zm-2 8zm-13-4zm1-12zm11-19zm41 25zm7-11zm1-1zm2-2zm1-37zm-69 82zm13 11z"/><path stroke="#eb9fa1" stroke-width="5.00" d="M736 972zm0 1zm-1 33zm0 4zm-7 1zm-6 2zm-2 19zm-9 6zm13 20zm9-1zm10 16zm0 2zm-12 12zm-8 0zm9 12zm9 9zm0 13zm11 18zm-16 6zm-5 1zm-6-8zm-14-5zm-23 3zm2-17zm-13-1zm-1 3zm-3-3zm-9-22zm-7-6zm-5 1zm10-13zm0 0zm9-19zm-4-9zm13-8zm5 35zm13-4zm0 18zm-21 0zm-39-14zm-10 5zm0 13zm-2 8zm6 5zm18 16zm25 28zm-2 18zm11-1zm24-4zm19-2zm25 5zm26-63zm-19-5zm-10-7zm21-38zm10 0zm4-2zm0-2zm1-3zm-4-9zm0-15zm-9-11zm-26 10zm-4 4zm3 2zm10 16z"/><path stroke="#d02024" stroke-width="5.00" d="M731 966zm5 8zm-10 6zm4 29zm-12 17zm5 5zm-2 16zm10 7zm-9 15zm-6 0zm1 10zm-19-5zm0-1zm-3 5zm-2 0zm2 11zm-10 3zm-2-7zm-5 4zm-10 5zm-13-5zm-1 3zm-4-3zm3-7zm3 0zm1-7zm16-6zm4 8zm2-22zm5-20zm-13 1zm35-20zm41 13zm7 6zm17 13zm5 26zm-13 1zm-2-1zm14 17zm-6 22zm-16-13zm-5 5zm-3-12zm6 33zm8 7zm-3 9zm-11 10zm-7 7zm-2 3zm-2-2zm-18-8zm-8 0zm6-13zm14-8zm-30 6zm-4-9zm3-6zm-21-2zm-12-13zm-2 0zm-9 0zm-5 2zm-1-2zm1 13zm-4 5zm16 2zm-6 15zm16 14zm5 2zm0 12z"/><path stroke="#e1dcf1" stroke-width="5.00" d="M731 965zm8 11zm17 33zm13 12zm-3 4zm-6 3zm-7 6zm18-1zm2 18zm-1 2zm-2 4zm-5 0zm-1 8zm19-6zm0-3zm-1-3zm2-2zm6 3zm-29 42zm-24 1zm8 23zm0 32zm-10 10zm21 6zm-46-21zm-22-4zm-12 4zm-1 5zm-9 9zm-6-13zm2-5zm3-14zm13-9zm23 2zm8 1zm-4-28zm0-8zm-6 0zm-6-7zm3 17zm-20-14zm-6-3zm-2-10zm6-14zm15-4zm-13-16zm1-9zm27-3zm4-2zm2 3zm0 13zm1 11zm17 10zm-3-48zm-75 46zm-10 0zm-3 11zm1 7zm5 0zm7-2zm1 4zm5 4zm-3 13zm6 6zm-3 5zm-6 8zm-6 1zm3-46zm172 75zm2 1zm16 2zm7 9z"/><path stroke="#e48082" stroke-width="5.00" d="M734 981zm10 36zm8 0zm-8 8zm9 4zm3 10zm-4 3zm7 22zm-16 10zm-14 4zm3 15zm-12-1zm-11 3zm1-20zm-10-8zm-5-12zm-10-2zm1-4zm-8 7zm-14-3zm0-3zm-10 3zm-6-9zm21 29zm-9 10zm-5 7zm-1 3zm-3-6zm8 20zm-5 2zm-11 2zm-14-19zm45 11zm-1 15zm-6 17zm15 18zm24-3zm16-8zm1-3zm3 2zm1 0zm0 3zm6 15zm9 0zm2 20zm-3 4zm14-5zm-17-65zm15-10zm8 2zm9 1zm1-17zm7-7zm-18 3zm-8 4zm-30-32zm-14-15zm11-11zm4-2zm-36 54zm13 36z"/><path stroke="#ffffff" stroke-width="5.00" d="M739 976zm-7 8zm-13 16zm0 3zm8 2zm1 3zm5 11zm-6 13zm-12 3zm-3 0zm-2-8zm-1-16zm-3 33zm-11 1zm-1 5zm-15 0zm1-5zm-13-17zm20 38zm11 5zm0 8zm4 2zm-5 5zm-4-1zm5 16zm-1 2zm9 6zm2 7zm5 7zm1 11zm3 14zm9-2zm3 7zm0 1zm6 4zm3-2zm4 5zm-10 8zm-5-5zm13 17zm14-5zm-10-42zm-11-10zm12-7zm2-11zm-8 0zm-10-6zm6-7zm4-7zm6-7zm-12-5zm-3 6zm-6 0zm-3-8zm-2-4zm6 0zm0-6zm7-3zm-3-4zm-5-4zm-2 0zm17-12zm6 0zm-1 5zm6-2zm3 7zm4-1zm2-8zm1-3zm1-3zm-5-1zm-1 3zm-7-6zm2 28zm16 3zm-3 8zm-5 8zm16-8zm14-26zm-8-5zm2-10zm-9-12zm-7 82zm2 9zm7 3zm-4 7zm-9 9zm-5-20zm-35-15zm-14-22zm-33 9zm-5-1zm0 16zm7 3zm-13 6zm-3-2zm-6 5zm5 5zm-14 10zm-5 0zm10 22zm4 3zm5 1zm7 11zm1 5zm4-6zm5 3zm-4-12zm15-11zm5 20zm-26 18zm-4-45zm2-1zm27-12zm-56-23zm-10-11zm19-7zm1 1zm-13-16zm180 82z"/><path stroke="#dd6063" stroke-width="5.00" d="M736 978zm34 37zm-1 13zm-19 16zm-9-5zm11 27zm-13 27zm-5 3zm-9 22zm-12-10zm-15-4zm7-9zm4-4zm-10-8zm-2 2zm-2-6zm4-2zm4-8zm3 1zm-12-12zm-6-13zm13-4zm-30 29zm-3 3zm-9 9zm17 9zm3 23zm9 11zm7-8zm4 15zm25 7zm0 0zm5-6zm15 5zm11-13zm8-26zm24-48zm-63 103zm-12 9zm-18-5zm-26-9zm-2-14zm-13 7zm1-34zm-31-12zm121 86zm4-7z"/><path stroke="#f8dfe0" stroke-width="5.00" d="M737 979zm-5 0zm1 2zm0 2zm-6 23zm5 5zm1 4zm9 1zm5-7zm1 17zm2 1zm-5 7zm17-6zm3-2zm1 2zm3-5zm4 2zm-3-10zm11 25zm-13 12zm4 5zm3 20zm-19-4zm-3 1zm0-9zm-17 13zm-4-10zm-10-8zm0-3zm-14-2zm4 15zm8 14zm-24-6zm-25-8zm10-20zm-6-16zm39 2zm10-8zm-4-13zm-8 5zm-5-10zm-63 47zm-14 11zm-4 7zm20 12zm-3 20zm12 6zm9 18zm2 2zm1 8zm-9-5zm-3 5zm-11-11zm-14-30zm54 24zm14 7zm-15 9zm-5 8zm-10 12zm-6 3zm46-7zm2-10zm12 5zm4-1zm0-3zm4-4zm12-16zm-6-20zm14-15zm17 17zm4 5zm4 3zm-19 44zm-5 4zm-1 11zm-14 7zm-21-66zm-8-8zm-5-5zm-9 7z"/><path stroke="#f8dfe0" stroke-width="5.00" d="M734 978zm-4 23zm1 3zm-12 12zm-9-1zm-6 1zm3 24zm12-1zm5-9zm12 0zm5-5zm6-4zm-1 10zm7 9zm6 5zm3-9zm-12 13zm-3 7zm4 2zm1 3zm-11-5zm0 17zm-14-3zm-7-12zm4-2zm-18-2zm0-1zm-13-5zm10 21zm6 16zm3 7zm-4 3zm11-6zm15 3zm7 13zm-3 5zm-23-2zm-21-11zm-19-19zm-4-6zm-20-4zm-13 4zm-8 4zm19 11zm4 0zm10 13zm4 7zm-24-1zm-1 3zm0 4zm-5-9zm-5 1zm25 34zm5 3zm-3 8zm9 12zm0-27zm13-7zm8 8zm16 14zm9 1zm1 3zm-8 7zm8-18zm9-1zm2-1zm2 2zm-1 11zm33 5zm13-37zm-7-8zm4-5zm2-4zm-6-5zm-4-2zm-8-12zm8-11zm14 7zm6 20zm-6 9zm8-64zm-119 2zm-14 3z"/><path stroke="#eb9fa1" stroke-width="5.00" d="M733 985zm-9 25zm9 13zm10 15zm20 0zm5-7zm-1-5zm5 10zm7-7zm-10-18zm-2-1zm-54 13zm-6 25zm21 10zm13 16zm-3 4zm-6 12zm-12-13zm-10 22zm-3 15zm-18 12zm2 5zm17 7zm12 2zm2-6zm14 11zm8 26zm-24 1zm-10-6zm-1-6zm47-34zm4-22zm-7-4zm-14 9zm25-35zm-69 12zm-21-18zm-6-2zm-3 8zm1 1zm-12 3zm2 8zm7 18zm-6 5zm-15 12zm-9-25zm-7-5zm25-29zm33-17zm2-9z"/><path stroke="#dd6063" stroke-width="5.00" d="M734 979zm-12 31zm13 32zm12 0zm10-17zm-5 36zm-11 6zm-14-1zm-7-6zm-7 14zm-6 0zm-11 2zm9 24zm-7 15zm-2 3zm7 6zm20 5zm23-7zm4 3zm18-4zm5-7zm-6-5zm8-31zm-53 0zm-55-4zm-17 12zm-9 13zm10 41zm13-4zm11 21zm13-11zm21 10zm10-1zm6 3zm6 9zm5-10zm-26 11zm-18 8z"/><path stroke="#ffffff" stroke-width="5.00" d="M732 979zm-18 26zm2 9zm0 3zm6 10zm-1 4zm-9 5zm-5 3zm-3 3zm-3-4zm-18-4zm-6 5zm6 7zm4 5zm-13 5zm-2 9zm4 1zm-5 5zm-4 6zm9 11zm7-1zm7-6zm13 12zm-3 13zm5 4zm0 3zm8-7zm9-14zm1-10zm-10-10zm-5 2zm6-13zm1-4zm10-9zm2-7zm6 10zm5 8zm7 1zm6 2zm7-6zm-6-9zm5-4zm-5-6zm6-2zm3-1zm5-2zm-1-3zm7-10zm0-6zm-26 12zm-5-5zm-1 10zm-2 5zm7 5zm20 1zm7 19zm8-4zm-7 18zm-10-4zm-6 13zm-2 3zm-11 6zm-9-3zm13 13zm-3 4zm-1 7zm0 6zm-9 2zm-6 9zm-9 2zm-5 2zm-3-1zm-7-6zm-12 3zm-1 3zm-10-11zm-2-1zm-9-1zm-13-12zm0-7zm11 0zm2-7zm-15-7zm-5 0zm-14-9zm-2-3zm-6 20zm-1 5zm-7-4zm13 11zm9-2zm-2 16zm-3 0zm10 17zm7 6zm11-2zm8 6zm5-1zm1 1zm1 8zm-4 13zm-7 5zm-12-40zm60 18zm14-8zm5 14zm9-6zm-1 22zm22-51zm5-4zm2-4zm3-9zm-7-7zm3-13zm-17 16zm5 17zm-26-12zm-4-38zm-4-2z"/><path stroke="#e48082" stroke-width="5.00" d="M741 977zm-8 3zm-6-2zm-2 29zm-8 14zm2 11zm-1 6zm3 14zm5 1zm-14 6zm-10 10zm-4 2zm-9 11zm-10 5zm-6 4zm-12 7zm-2 7zm0 1zm-5-2zm12 1zm1 1zm-14-24zm16-6zm-7-25zm10-14zm22 8zm11-23zm-2-1zm-10-10zm50 12zm8 7zm14 7zm-7 15zm20 2zm7-8zm-14 25zm-9 1zm-2 4zm5 6zm2 0zm4 3zm-22 14zm2 5zm-5 4zm-2 4zm-3 11zm-9 6zm-12 3zm13 25zm5 3zm2-3zm-7 13zm1 3zm17-1zm0-3zm-38-4zm-24-29zm-30 18zm15 18zm-33-49zm-6-14zm-9-25zm88-8zm12 20zm15-24zm-4-32zm37-28z"/><path stroke="#a597d5" stroke-width="5.00" d="M733 985zm32 34zm-7 19zm-37 23zm-1 17zm-22 15zm-33 6zm-27 21zm-12-38zm89 72zm11-13zm6-14zm85 15zm10 1zm1 3zm2 3zm-2 4zm10-4zm3 3zm-6-7zm0-2zm-1 0zm5-3zm1-3zm2-1zm0-1zm1-2zm5-4zm1-1zm0-3zm3 0zm0 0zm1-1zm-1-2zm-2 0zm4 0zm1-2zm0-4zm3 8zm2 1z"/><path stroke="#d74043" stroke-width="5.00" d="M726 1008zm18 2zm-4 18zm-5 7zm-15-4zm-7 0zm0 22zm11-3zm34-12zm1 47zm-16 26zm-4-2zm1 20zm-23 8zm-9-22zm-15 9zm5-29zm8-2zm-16-9zm-16 7zm-11-11zm13-12zm-13-28zm-32 35zm24 62zm7 22zm20 20z"/><path stroke="#f2bfc0" stroke-width="5.00" d="M735 978zm0 28zm17 4zm10 13zm10-5zm-13 17zm-4 0zm-10-5zm-4 0zm-23 4zm-12 0zm-4-4zm11-13zm-1-3zm3-3zm-39 36zm-13-6zm-8 4zm22 27zm-20 34zm5 7zm6 12zm8 7zm6-16zm22-2zm4-6zm4 2zm5 3zm15-16zm-12-17zm27-24zm27-2zm-1 22zm-7 2zm-1 1zm-21 35zm-12 31zm14 10zm12-9zm-46 1zm-1-10zm-40 21zm-30-39zm2-10zm-6-28zm-11-2zm1-8z"/><path stroke="#e1dcf1" stroke-width="5.00" d="M736 977zm-4 2zm1 1zm-4 27zm13 20zm2-1zm7-1zm9 6zm1 1zm1-4zm0-1zm-3 11zm-1 6zm9 17zm-2 5zm7 5zm5-4zm-4-9zm9-3zm2-1zm4-4zm-3-2zm-8-15zm0-18zm-11-4zm-28 44zm9 12zm-11 4zm-36-9zm-2 5zm2 14zm-34-4zm-3 1zm2-9zm-12 0zm-9-5zm-1 11zm3 4zm-1 7zm4 1zm14 9zm2 18zm-1 4zm-15-1zm-5-8zm-12-9zm-7-12zm4-6zm26-27zm10-8zm-4-3zm5-3zm-3-4zm42-8zm10 7zm-1 80zm24 5zm4-1zm-11 21zm0 22zm-35-5zm-20-1zm-6 10zm98-52zm4-6zm7-4zm45 39zm4 5zm2-2zm2 2zm1 1zm-1 2zm7-2zm3 3zm-6-9zm2-4zm0-1zm2-2z"/><path stroke="#c3bae3" stroke-width="5.00" d="M739 978zm-18 27zm-12 14zm-2 1zm10 11zm22 8zm-7 11zm-11 16zm-6 10zm13 1zm5 4zm-2 20zm9 12zm-26 19zm-34-1zm-37-9zm0-4zm-3-11zm-9-1zm19-15zm-11-27zm-4 0zm4-6zm10 1zm-22 9zm45-13zm1-2zm14 14zm-10-38zm2-8zm80-5zm6 7zm6 5zm-4 11zm14-4zm-2 17zm-19 21zm16 36zm-25 65zm82-24zm1 2zm26-29z"/><path stroke="#d02024" stroke-width="5.00" d="M732 979zm2 26zm-5 1zm21 8zm-8 11zm11 7zm3-1zm-26 21zm-15-14zm-5-9zm-5 21zm-16-4zm-7 4zm-4 0zm1 7zm-10-4zm21 10zm16 10zm-1 10zm-3 2zm7 13zm0 2zm0 7zm4 9zm4-2zm-15 1zm-5 10zm-20 7zm-6 6zm-1 4zm4 5zm-1 3zm1 2zm-4 1zm-8-9zm-8 0zm0 2zm1 13zm14 11zm14 6zm23-28zm15-13zm11 11zm7-1zm-11 9zm5 10zm10-3zm14-16zm-5-10zm-7-25zm3-2zm-12 1zm28-7zm1 6zm-46-27zm-45 9zm-15-10zm2 25zm-11 15zm-19-19zm-8-9zm14-37zm42-29zm109 21z"/><path stroke="#d02024" stroke-width="5.00" d="M736 980zm-5 27zm14 12zm9 19zm-11 14zm5 4zm-19 9zm-11-2zm-24 10zm-4 0zm4 9zm-19 2zm-4 12zm-16 12zm8 12zm12-1zm4 3zm7 4zm-7 6zm-9 5zm-7-2zm-10 4zm9 15zm-22-30zm0-3zm0-11zm-5-3zm11-17zm-18-3zm10-16zm7-2zm6-6zm6-16zm6 4zm11 7zm2-1zm-1 8zm6 1zm-13 7zm21-19zm-9-18zm28-8zm32 64zm-2 19zm-2 1zm17-6zm11 13zm5-1zm-13 23zm0 3zm-8 5zm-19-8zm-4-5zm2 21zm-2 0zm0 1zm-15-6zm-5-29zm-4-7zm1-7zm82-59zm-3-18z"/><path stroke="#a597d5" stroke-width="5.00" d="M739 977zm-8 2zm15 42zm-16 7zm6 12zm21 7zm-32 23zm0 2zm1 19zm-19 25zm-54-15zm-4-9zm166 51zm2-2zm4 2zm7 0zm1 0zm-2 5zm0 1zm5 0zm1 0zm-1 1zm3 2zm8 4zm-2-18zm5-6zm0 0zm1-2zm3 2zm1-6zm-3-2zm-2-1zm-2 0zm7-1zm0-2zm1-1zm2 1zm-1 1zm0 1zm0 0zm4-1zm0 2zm-3-8zm2-1zm0-4zm-1-1z"/><path stroke="#eb9fa1" stroke-width="5.00" d="M734 978zm2 1zm-3 26zm16 4zm9 16zm7 1zm0-2zm-2 7zm2 10zm8-2zm2-18zm-27 10zm-11 1zm-2 32zm-10 5zm-9-1zm-16 4zm-11 1zm-2 8zm-1 1zm14 6zm15 23zm-1 15zm17-2zm2 12zm-11 9zm-3 1zm0 9zm6 0zm-1 9zm18 16zm13-39zm-12-30zm4-20zm-18-9zm20-20zm24 30zm-2 11zm-3 2zm0 5zm8-6zm-78-59zm-16-2zm-5 8zm0 1zm-27 9zm-10 2zm15 10zm-4-36zm27-17zm20 8zm-30 100zm-3 0zm16 23zm-11 19z"/><path stroke="#e48082" stroke-width="5.00" d="M737 973zm-5 5zm2 26zm-10-1zm19 7zm4 14zm7-1zm8 2zm2 11zm0 30zm-13 19zm-11 4zm-3 5zm7 7zm5-4zm-8 10zm-6 5zm-2-3zm-12 6zm-8 7zm-7 2zm1-7zm15 17zm3 13zm9-2zm25 20zm9-46zm-2-2zm3-4zm2 2zm-36-46zm-8 3zm-6 0zm-2 3zm-7-17zm-6-12zm-8 2zm-2-6zm-9 2zm-7 1zm-5-8zm3 20zm-5 10zm0 7zm2 2zm-9 3zm-5-2zm0-7zm-14-13zm1-14zm-1 41zm-13-2zm-4 2zm-5 14zm17 2zm15 14zm-11 7zm21 3zm0 2zm3-2zm-1-25zm8-10zm6-7zm6-12zm10 17zm30-30zm0-9zm-9-15zm4-2zm-10-4zm-18 111z"/><path stroke="#e1dcf1" stroke-width="5.00" d="M731 965zm5 8zm-1 4zm-2 1zm-1 0zm1 1zm-3-1zm-4 0zm7 8zm2 0zm5-8zm4 40zm14 20zm12 15zm1 0zm-2 5zm12-17zm-33 21zm-19 8zm-8-17zm-13-3zm-11-6zm-4 12zm-16-20zm-12-5zm-18 26zm2 2zm-4 2zm-1 11zm-1 4zm5 2zm-12-3zm-4-3zm-5 14zm6 13zm2 11zm8 3zm0-5zm3-2zm9 1zm0 3zm0-6zm8 5zm4 7zm2 9zm-1 13zm-9-4zm16 16zm32-8zm15-11zm-9-13zm9-21zm0-7zm-11-17zm-27 9zm-6 5zm-13-8zm-1-1zm-14 15zm4 2zm46-67zm-1-2zm2 1zm5-6zm9 8zm8 4zm32 70zm18-3zm-12 25zm-8 11zm-33 21zm96-15zm14 5zm3 0zm3-5zm4-6zm0 15z"/><path stroke="#f2bfc0" stroke-width="5.00" d="M735 978zm1 0zm-3 7zm-5-6zm-3-1zm1 33zm-12 20zm-15-2zm-21-8zm-1 2zm4 25zm-6 4zm2 5zm14-6zm7 1zm3 17zm12 3zm11 5zm2 0zm2-6zm6-6zm9-4zm13 2zm5 2zm5-3zm9-10zm3-9zm5 0zm-13-5zm-2 4zm-4-4zm-1 1zm-1-14zm4-4zm10 5zm-38 7zm-9 23zm-10-5zm-31 19zm1 10zm0 9zm14 12zm8 0zm-9 22zm13 14zm1 18zm5 12zm8 2zm6 10zm15-6zm6 2zm-8-24zm7-14zm13-19zm6-6zm3 7zm-19-17zm-1-2zm-1 1zm-7-3zm11-23zm13 14zm-97-15zm-4 2zm-12 0zm-9 0zm-2 2zm13 8zm1 10zm-24 6zm-10-13zm25 31zm0 12zm-2 7zm17-8zm15 25zm-14 10zm46 13zm-67-134z"/><path stroke="#d74043" stroke-width="5.00" d="M729 1035zm1 19zm-6 0zm-12 5zm-8 11zm17 5zm16-9zm30-9zm16-3zm-10 48zm-20 27zm-33-1zm-8 7zm-14 0zm34-32zm-23-57zm-26-9zm-24 10zm-11 1zm10 34zm14-2zm2-7zm-41 47zm126 52z"/><path stroke="#ffffff" stroke-width="5.00" d="M733 976zm4 1zm-4 6zm-6-4zm17 34zm6-4zm9 3zm8 16zm-12 9zm0 2zm-15-15zm-14 6zm0 1zm-1-1zm-5 1zm0-4zm-10-5zm-9 3zm-4-3zm2 21zm4 3zm-2 3zm-4 2zm12-6zm14 8zm-8 9zm-3 12zm-10 0zm-6-5zm2 12zm-3 5zm3 3zm2-3zm2 1zm3 4zm2 8zm4-1zm11-6zm7 11zm4-2zm13 5zm1 2zm1-9zm2-4zm0-4zm2-5zm-2-11zm-8 4zm-5-8zm4-9zm-6-3zm19 1zm17-3zm5-4zm8-10zm-9 41zm-3 14zm0 9zm-6 3zm11 9zm-27 6zm-1 2zm4 12zm2 22zm-15 1zm-10 2zm2 4zm-21 1zm-6 11zm-22-23zm-16 5zm-4-21zm8 0zm7-11zm5-6zm-5-10zm-5-10zm0-7zm-2-4zm8-6zm9 4zm1-5zm0-6zm-13-4zm0-5zm-2 1zm-4 2zm-1-3zm3-5zm11-7zm-2-7zm-4 1zm-6-7zm8-6zm-4-4zm-30 20zm0 4zm-8 8zm1 4zm-8 18zm-3 7zm4 6zm10 5zm12 0zm5 3zm3 5zm4 6zm-4-18zm-1-3zm29 10zm4-12zm5-1zm28-19zm3-2zm2-38zm-2-5zm2 95zm-25 19zm-52-5z"/><path stroke="#f8dfe0" stroke-width="5.00" d="M734 982zm-6 21zm15 12zm2 7zm14-3zm0-6zm9 10zm5 2zm-14 4zm-1 3zm-3 7zm10 1zm4 14zm3 0zm-8 16zm-9-9zm-12-3zm-14-3zm-10-7zm9-9zm-9-7zm2-6zm0-4zm-9 5zm18 0zm-28 20zm-17-7zm9-13zm-28 9zm-8 4zm7 8zm-3 7zm7 9zm5 6zm9 9zm3 3zm7-5zm9-5zm11-5zm16 20zm1 9zm6-2zm9 9zm7-7zm6 1zm5 13zm11 3zm9 4zm-31 16zm-9-12zm-12 8zm-6 5zm-1 0zm-5 3zm4 5zm-8 4zm-4 8zm-1 0zm-1-16zm-4-20zm14-9zm-21-19zm-22-3zm-5 13zm2 1zm-2 5zm-7-5zm0-3zm-3 6zm-1 5zm3 9zm-1 5zm-9-3zm3 24zm5 6zm13 4zm8 6zm2-9zm15 17zm35-9zm22-1zm-1 14zm-10-90zm-63-25zm-51 19zm47 43z"/><path stroke="#dd6063" stroke-width="5.00" d="M730 978zm1 2zm21 33zm22 5zm-22 24zm13 27zm0 0zm1 8zm4 30zm-54 2zm-5-13zm-7 1zm-3 4zm-4-14zm-5-5zm-8 0zm-14-4zm-1-10zm-2-3zm-13-9zm20-14zm1-4zm10 16zm10 8zm0 10zm0-29zm2-16zm25 29zm-60 30zm-19 11zm8 17zm-4 9zm-4-1zm-1-2zm30-2zm9 4zm0 8zm5 8zm1 1zm2 2zm10-5zm-3-6zm-6-5zm23 11zm12 1zm5 9zm-1 14zm-16 1zm-24-5zm-10 1zm-17-12z"/><path stroke="#c3bae3" stroke-width="5.00" d="M725 1012zm3 26zm-29 4zm-4 21zm-11 6zm-14 7zm-6 3zm-11 6zm-4 7zm-2 15zm-2 2zm3 1zm-5 4zm15-7zm12 5zm6 5zm-3-16zm29 32zm13 16zm9-1zm5-20zm18-23zm13-2zm6-1zm6 0zm-3 6zm-4-36zm12-37zm-10-6zm2-4zm-3-6zm-2-5zm-47 55zm-4 6zm-59-26zm4 96zm29 8zm59 28zm85-37zm5-1zm2 0zm1 5zm4 6z"/></g><path d="M355.2 498.0C356.7 497.6 358.0 497.5 359.7 497.5C361.3 497.4 363.1 497.6 364.9 497.8C366.8 498.1 368.9 498.6 370.9 498.9C372.9 499.2 374.9 499.4 376.8 499.7C378.8 500.0 380.7 500.2 382.5 500.8C384.2 501.3 386.1 502.0 387.6 503.1C389.0 504.2 390.3 505.7 391.2 507.3C392.2 508.9 392.5 510.6 393.3 512.5C394.0 514.4 395.2 516.7 395.9 518.8C396.6 520.9 397.4 523.1 397.5 525.0C397.6 527.0 397.1 528.7 396.4 530.3C395.7 531.9 394.0 532.9 393.3 534.4C392.5 536.0 391.9 538.0 391.7 539.7C391.6 541.4 391.8 543.0 392.2 544.9C392.7 546.8 393.6 549.2 394.4 551.2C395.1 553.1 396.6 555.0 397.0 556.4C397.3 557.8 397.1 558.7 396.4 559.5C395.7 560.4 394.2 561.1 392.8 561.6C391.3 562.2 389.1 562.1 387.6 562.7C386.0 563.2 384.3 563.7 383.4 564.8C382.4 565.8 382.0 567.5 381.8 568.9C381.6 570.4 382.0 571.8 382.2 573.2C382.3 574.7 382.6 575.8 382.7 577.6C382.9 579.5 383.3 582.4 383.2 584.4C383.0 586.3 382.7 588.2 381.9 589.4C381.1 590.7 380.0 591.2 378.5 591.9C376.9 592.6 374.7 593.3 372.6 593.6C370.5 594.0 368.4 594.2 365.9 594.0C363.4 593.9 360.3 593.0 357.5 592.8C354.7 592.5 351.9 592.4 349.1 592.4C346.3 592.3 343.1 592.6 340.7 592.6C338.3 592.6 336.5 593.0 334.8 592.4C333.1 591.8 331.7 590.2 330.6 589.0C329.4 587.8 328.7 586.4 328.1 585.2C327.4 584.0 327.1 583.4 326.4 581.9C325.7 580.3 324.8 577.6 324.0 575.8C323.1 574.0 322.5 572.5 321.5 570.9C320.5 569.2 319.1 567.8 317.9 566.0C316.7 564.2 315.5 562.0 314.2 559.9C313.0 557.9 311.5 555.6 310.5 553.8C309.5 551.9 308.4 550.4 308.1 548.9C307.8 547.4 308.3 546.1 308.7 544.6C309.1 543.2 310.1 541.9 310.5 540.3C310.9 538.8 310.8 537.1 311.2 535.5C311.5 533.9 311.5 532.2 312.4 530.6C313.3 529.0 315.3 527.3 316.7 525.7C318.0 524.0 319.3 522.1 320.3 520.8C321.3 519.5 321.3 519.0 322.7 517.7C324.2 516.5 327.0 514.9 328.9 513.5C330.8 512.0 332.3 510.5 334.3 509.2C336.3 508.0 339.0 507.1 341.0 506.0C343.0 505.0 344.6 504.1 346.2 503.1C347.9 502.0 349.2 500.5 350.7 499.7C352.2 498.8 353.7 498.3 355.2 498.0Z" fill="none" stroke="#1fa85a" stroke-width="1.45" stroke-dasharray="2.8 2"/><path d="M401.8 571.1C402.0 570.4 402.8 569.5 404.1 569.1C405.4 568.8 408.0 569.6 409.7 569.1C411.3 568.7 412.8 567.5 414.1 566.3C415.4 565.1 416.3 563.7 417.5 562.1C418.7 560.5 420.1 558.1 421.4 556.5C422.7 555.0 424.0 553.7 425.3 552.9C426.6 552.0 428.1 551.4 429.3 551.5C430.5 551.5 431.9 552.0 432.6 553.1C433.3 554.3 433.5 556.5 433.5 558.2C433.5 559.9 433.2 561.8 432.6 563.2C432.0 564.7 430.8 566.0 429.8 567.2C428.8 568.3 427.3 568.9 426.5 570.0C425.7 571.0 425.1 572.0 424.8 573.4C424.5 574.7 425.2 576.6 424.8 577.8C424.4 579.0 423.6 580.1 422.6 580.6C421.5 581.1 420.1 581.0 418.6 580.6C417.1 580.2 415.4 579.2 413.6 578.4C411.7 577.5 409.2 576.4 407.4 575.6C405.6 574.8 403.9 574.1 402.9 573.4C402.0 572.6 401.7 571.8 401.8 571.1Z" fill="none" stroke="#e8202a" stroke-width="1.45" stroke-dasharray="2.8 2"/><circle cx="366.6" cy="488.0" r="7.7" fill="none" stroke="#f0643a" stroke-width="1.45" stroke-dasharray="2.8 2"/><text x="310.1" y="486.5" font-size="8.6" font-style="italic" fill="#111">Siglech</text><linearGradient id="g8" x1="0" y1="0" x2="0" y2="1"><stop offset="0.00" stop-color="#d02024"/><stop offset="0.10" stop-color="#d74043"/><stop offset="0.20" stop-color="#dd6063"/><stop offset="0.30" stop-color="#e48082"/><stop offset="0.40" stop-color="#eb9fa1"/><stop offset="0.50" stop-color="#f2bfc0"/><stop offset="0.60" stop-color="#f8dfe0"/><stop offset="0.70" stop-color="#ffffff"/><stop offset="0.80" stop-color="#e2ddf1"/><stop offset="0.90" stop-color="#c4bbe4"/><stop offset="1.00" stop-color="#a799d6"/></linearGradient><rect x="426.9" y="481.0" width="8.3" height="24.6" fill="url(#g8)"/><text x="422.1" y="484.0" font-size="8.2" text-anchor="end" fill="#111">10</text><path d="M426.9 481.0h1.6M433.6 481.0h1.6" stroke="#333" stroke-width="0.5"/><text x="422.1" y="496.3" font-size="8.2" text-anchor="end" fill="#111">5</text><path d="M426.9 493.3h1.6M433.6 493.3h1.6" stroke="#333" stroke-width="0.5"/><text x="422.1" y="508.6" font-size="8.2" text-anchor="end" fill="#111">0</text><path d="M426.9 505.6h1.6M433.6 505.6h1.6" stroke="#333" stroke-width="0.5"/><rect x="26.50" y="601.9" width="134.8" height="121.4" rx="1" fill="none" stroke="#a0a0a0" stroke-width="1.1"/><g transform="scale(0.5)" stroke-linecap="round" fill="none"><path stroke="#8274c4" stroke-width="5.00" d="M180 1224zm11 37zm-6 11zm6 4zm7-1zm7 11zm6-6zm10 7zm-12 22zm-18-15zm-19 17zm-11 10zm-5 5zm-7 17zm2 17zm-2 2zm26 19zm12-18zm2-5zm27-8zm-1-13zm3 27zm-19 29zm-28 23zm-34-8zm-25 4zm2 12zm0-30zm-4-7zm1-9zm-5-13zm-5-7zm14 0zm2-9zm14-14zm-14-18zm13-16zm7-1zm15 2zm7-12zm6-7zm3-3zm-14 1zm-4 5zm20-23zm-60 25zm-15 1zm0 54zm-11 19zm-13-7zm23 21z"/><path stroke="#c3bae3" stroke-width="5.00" d="M183 1228zm-2 1zm-10 2zm18 55zm8-2zm9 8zm-20 39zm-4-1zm-6 15zm-20 5zm-11 3zm-28 0zm1-33zm1-34zm73 71zm-4 33zm-19 9zm22 34z"/><path stroke="#d02024" stroke-width="5.00" d="M174 1253zm-3 5zm3 3zm1 2zm4-5zm9 7zm8 0zm0-3zm4-1zm-5 8zm-5 6zm-3 0zm1 2zm0 3zm1 11zm9-4zm2-4zm2 7zm7 2zm-9 10zm-4 7zm2 3zm11 9zm-3 3zm-1 2zm2 1zm1-1zm2 3zm-8 0zm-15-2zm0-1zm-6-3zm-4 3zm-1-6zm-4-1zm-1 3zm-3 7zm-3 3zm2 2zm6 5zm-7 3zm4 6zm4 0zm7-2zm8-2zm5 0zm1-1zm-2 8zm2 5zm6-1zm3 0zm0 1zm10 5zm-1 4zm0 0zm4 1zm4-8zm5-4zm-4-20zm-2 0zm-2-13zm9-10zm-5-5zm7-6zm0-5zm-18-17zm-1 0zm-1 0zm2-16zm-34 13zm-10 6zm-2-3zm-7 1zm6 6zm-6 3zm-9-7zm-1-5zm2-8zm4-1zm6-1zm5 1zm1-2zm-3-10zm-25 24zm7 11zm-6 7zm3 3zm1 5zm-4 2zm-1 3zm1 5zm5 4zm2 2zm2 1zm7 3zm10-12zm1-4zm0-1zm2 0zm4 2zm1-1zm6 2zm3-4zm-14-5zm-12-1zm-5-1zm-16 3zm-6 3zm-3 3zm1 2zm-4-2zm-1-1zm-1 1zm-4-4zm-8-5zm-6-8zm-4 5zm-7-2zm-3 17zm6 9zm0 8zm-8-2zm-5 0zm2-5zm-14 14zm1 2zm16 11zm6-5zm4 2zm1-1zm-3-6zm12 9zm7-3zm1 0zm2-2zm1-1zm3 1zm2-4zm5-5zm5 0zm1-1zm2 1zm-1 6zm7-9zm6 18zm1 3zm-2 1zm-5 3zm6 6zm1 3zm-1 1zm4 2zm0-1zm3-2zm1-2zm7-2zm-9-11zm2-6zm-11 24zm0 6zm1 11zm-11-2zm-2-5zm-9 5zm8 5zm-12-16zm1-2zm1-4zm-13 0zm-4-5zm1-2zm-3 0zm0-1zm-3-1zm-1 8zm-5 0zm-2-4zm-5 0zm0-2zm-2 12zm2 3zm3-2zm-8 1zm-5-1zm15 18zm3 2zm6-1zm1-3zm5-1zm4 0zm-2-6zm0-1zm-3-5zm-6 21zm6 1zm0 14zm9-1zm4 0zm8-1zm1 12zm-13-3zm-1 8zm27-16zm11 3zm2 7zm1 1zm-6 11zm2-30zm3-4zm5 3zm0 2zm3 1zm4-7zm2-3zm2-1zm1 3zm3-1zm0 3zm5-1zm-10-8zm-3-3zm-7 5zm27-12zm3-7zm5 5zm6 1zm-8-18zm-2-2zm-2-5zm-9 6zm0 2zm1 0zm4 4zm18 33zm-2 12zm3 2zm0 5zm-9 8zm-6-2zm0 8zm-2 1zm-2-18zm-4 0zm-59-85zm-1-3zm-2-4zm-1-3zm-4 6zm-1 0zm-1 1zm-2 0zm5 4zm2-2zm8-31zm-1-5zm-4 2zm2-15zm-10 1z"/><path stroke="#332d9c" stroke-width="5.00" d="M178 1230zm-1 3zm8 44zm-11 2zm-18 0zm18 25zm-18 6zm-6 12zm-1 13zm-14 1zm-45 22zm-10 1zm19 13zm19 30zm-4 17zm85-6zm-12-40zm-2-16zm26-23zm-11-19zm13-42zm7 83zm2 1zm-1 14zm-98-93zm-35 38zm-9 0z"/><path stroke="#0c0a88" stroke-width="5.00" d="M180 1226zm-1 3zm0 1zm1 0zm1 1zm2-2zm2 0zm-8 2zm0 7zm40 32zm-14 22zm-7 7zm-17 17zm-3 35zm4 13zm31-3zm13-54zm62 68zm4 1zm3 4zm-1 1zm2-1zm1-2zm1-1zm2-1zm-1-2zm1-2zm1 0zm-1-1zm-1 0zm-2 3zm7 1zm0 1zm4 1zm-5-13zm-1-2zm-6 22zm-4-1zm-3 2zm-1 2zm0 1zm0 0zm-2 1zm0-1zm-2 4zm0 3zm-1 2zm-2-2zm-2-1zm-1 2zm-1-1zm-1 0zm-3 0zm-6 0zm-4-2zm-3 2zm16 4zm2 2zm1 0zm-1 1zm7-1zm1 1zm3 6zm-115 1zm-19 3zm-46-31zm-13-9zm-8 1zm-1 0zm3-7zm-1-3zm4-4zm8-3zm4-2zm-1-12zm-11-6zm-13-2zm-5 0zm-1 7zm0 6zm1 0zm7-2zm-9 12zm4-30zm1-3zm3 3zm4-5zm-2-2zm7-11zm5 2zm5-3zm1-1zm12-5zm-4-10zm16 15zm-14 14zm2 8zm-3 2zm-3-2z"/><path stroke="#e48082" stroke-width="5.00" d="M168 1270zm-3 4zm27 8zm7 31zm-30 1zm-4 2zm-4 4zm-2-6zm-2 10zm0 2zm-9 11zm-9-13zm14 36zm30-15zm34-1zm1 23zm-3 2zm-65 31zm-36-11zm-7-41zm-12-28zm-6-7zm3-13zm1-3zm28-16z"/><path stroke="#f2bfc0" stroke-width="5.00" d="M181 1229zm-11 3zm-49 71zm16 34zm2 4zm27 3zm0 50zm-15 10zm-13 6zm-14-37zm-5-11zm-19-5zm84 76zm32-121z"/><path stroke="#5b51b0" stroke-width="5.00" d="M184 1230zm-7 5zm9 44zm5 4zm8 8zm3 5zm14 4zm-2 7zm-4 6zm7 9zm-10 12zm8 7zm-19 0zm-5 2zm8 12zm1-30zm-18-14zm-8-11zm-7-17zm2-1zm5-2zm-12 6zm-21-12zm-22 15zm19 13zm-8 32zm12 8zm22-13zm14 4zm-3 48zm-7 5zm-4-6zm19 17zm-2 13zm-2 4zm21 10zm0-38zm-75 17zm-13-26zm-7-21zm-18 1zm1 4zm-7-28zm-9-8zm17-4zm117-46zm4-4zm4-4zm3 10zm7 13zm2 17z"/><path stroke="#f8dfe0" stroke-width="5.00" d="M144 1268zm45 14zm-58 37zm-36-5zm43 66zm-34 18zm96 22zm-8-69z"/><path stroke="#eb9fa1" stroke-width="5.00" d="M194 1266zm-36 3zm-14 11zm-3-1zm-11 13zm-7 17zm29 17zm9 39zm22-4zm22 16zm5-8zm8-4zm-22-47zm-81 28zm-36 16zm-5-26zm32 70zm27 2z"/><path stroke="#e1dcf1" stroke-width="5.00" d="M180 1225zm-16 58zm0 29zm36-25zm-57 97zm14 33zm-55-20zm2-35z"/><path stroke="#d74043" stroke-width="5.00" d="M189 1262zm24 1zm1 12zm13 5zm2 9zm-15 16zm-38 6zm-7 9zm-24 1zm3 19zm-28-5zm-1-11zm5-30zm24-26zm8 4zm16 18zm5 63zm-20 22zm12 15zm7 7zm36-26zm-5-9zm-85 10zm-2 12zm0 25zm-8 5z"/><path stroke="#dd6063" stroke-width="5.00" d="M193 1261zm11 8zm15 4zm-8 17zm11 5zm-5 15zm3 16zm-23-9zm-38-29zm2-5zm1-5zm-56 18zm-5 3zm10 18zm5 15zm-14 2zm-12-6zm-12 18zm35 28zm14 18zm5 6zm-14 8zm37 0zm16 9zm8-5zm-1 15zm-29-86z"/><path stroke="#a597d5" stroke-width="5.00" d="M175 1256zm-9 23zm-3 5zm19 0zm22-4zm15-10zm9 36zm-35 8zm-27-2zm-27-15zm-9-6zm-8 11zm7 3zm-13-16zm26-9zm-21 44zm2 15zm15-5zm1-4zm4 9zm-1 8zm15 13zm21-16zm10 20zm10 24zm-21 0zm-4 17zm-2 1zm-8 1zm23 4zm3 15zm-46-37zm-19 11zm-5 4zm-3-14zm-9 3zm-8 3zm-11-19zm3-2zm-5-3zm0-7zm13-5zm-1-4zm7 0zm6 20zm11-5zm-48-43zm141 27zm2-3z"/><path stroke="#ffffff" stroke-width="5.00" d="M206 1277zm-9 9zm-21 5zm-12 19zm-24 21zm-69 5z"/><path stroke="#eb9fa1" stroke-width="5.00" d="M177 1231zm-5 32zm-23 11zm-6 4zm-6-15zm66 18zm8 28zm9 52zm-20 32zm-36-9zm12-35zm-18-21zm-44 0zm-11 29zm-15 4zm-1-1zm-6-30z"/><path stroke="#0c0a88" stroke-width="5.00" d="M181 1225zm-4 6zm0 1zm-3-2zm-3 0zm5 6zm27 35zm-8 11zm4 12zm11 20zm11 5zm-3 35zm-33-29zm-16-1zm-27-27zm-10 0zm-10-25zm-30 22zm0 15zm2 4zm-3 7zm-9 3zm5 5zm-12 0zm-3-8zm-5 19zm2 1zm-2 4zm4 5zm7 2zm-2 6zm0 3zm8-1zm13 1zm8-8zm-6-11zm-3 2zm-3 1zm0-5zm7-6zm6 5zm4-7zm0-2zm6-11zm-2-2zm-40 26zm11 34zm83 30zm22 1zm69-12zm2-1zm4 2zm0 0zm4-2zm4 1zm0 0zm2 2zm2 2zm2-2zm0-2zm2 3zm1 1zm1 1zm-4 4zm-2-2zm-6-1zm11-10zm2-2zm1 1zm1-3zm8-7zm2-4zm0-1zm0-1zm1 0zm0-1zm1 1zm-1 2zm7-1zm1 2zm-5-11zm-1-1zm0-1zm2-4zm-13 15zm0 1zm-1 30zm1 1z"/><path stroke="#8274c4" stroke-width="5.00" d="M179 1258zm6 18zm9 3zm6 6zm10-12zm11-6zm4 24zm4 7zm3 4zm-28 26zm13 10zm-7 12zm2 9zm6 4zm-7 12zm-14-23zm-24-30zm14-12zm4-2zm-26-4zm-7 1zm-4-8zm-2-17zm7 1zm-40 7zm-9 5zm-12 12zm20 5zm2 13zm-2 2zm-2 2zm-10 3zm-2 5zm-10-6zm-22 10zm25 14zm2 6zm5-6zm5-2zm8 2zm1 2zm19-4zm5-6zm-2-5zm11 29zm8 20zm17 4zm13 11zm6 22zm-65-36zm-31 3z"/><path stroke="#a597d5" stroke-width="5.00" d="M177 1235zm12 43zm14 12zm25 15zm-63 19zm-8-5zm-15 4zm-2 7zm-8 3zm0 10zm10 6zm23 18zm11 14zm-3 12zm-2 0zm18 11zm2 0zm9-8zm13-23zm-39 43zm-42-39zm-19 6zm-2-9zm-9-11zm-3-1zm8-6zm1-3zm-11-19zm18-12zm4 8zm6-12zm6 0zm-13-10zm3-4zm-34 62zm1 16zm19 10zm5 22z"/><path stroke="#d02024" stroke-width="5.00" d="M176 1230zm0 2zm2 24zm-2 1zm-2 2zm-1-1zm-5 4zm2 2zm-7 4zm-3 1zm-8 5zm2 3zm-8 2zm-3 2zm2 12zm-2 1zm-2 2zm-1-4zm-7 6zm0 4zm-2 1zm-5-8zm2-8zm-1-1zm-7 2zm-5 0zm-6-5zm12-8zm-8 30zm7 4zm0 11zm-2 4zm-3-1zm0-1zm0 4zm0 0zm-3-1zm2 7zm8 7zm-1 4zm6-4zm9-7zm6 1zm2 2zm-3 2zm0 1zm-2 0zm3 3zm4-2zm1 6zm3 0zm2 2zm1 0zm0-10zm8-6zm-2-3zm8 2zm5-7zm-7-5zm-2 2zm-4-11zm-5 0zm-4-4zm-9-2zm-1 18zm2 2zm-9 2zm0-3zm-5-1zm-27 6zm0 7zm-11 5zm0 3zm-3-15zm-6 0zm0-2zm-11 9zm5 13zm-10 1zm22 10zm2 3zm2-2zm6 0zm-2 7zm-2 3zm4 3zm-10-7zm-3 8zm14 11zm-1 10zm-1 0zm2 2zm6 4zm-1 6zm9-5zm6-1zm1 4zm4 4zm1 1zm1-1zm-9 0zm1 14zm-5 4zm15 2zm9 0zm16-20zm1 0zm-1-4zm-3-2zm1-2zm0-3zm1-3zm5 5zm3-1zm9 2zm5 6zm9 5zm4 2zm1 0zm5-10zm-12-6zm-3-4zm-9-2zm-2-5zm1-5zm5 2zm1-3zm3-1zm8 2zm4-10zm-6-6zm0-3zm-5-1zm-4-9zm8-3zm3-5zm-9-5zm5-9zm9 1zm8-5zm4 9zm2 2zm-5 1zm-1 10zm0 7zm1 3zm-9 4zm6 16zm6 6zm20-13zm-1-8zm-3-3zm-1 1zm1-2zm-3 0zm-2-2zm-3 3zm8-34zm-9-8zm2-4zm-7 2zm-8-6zm-3 4zm9-12zm-4-10zm5-2zm1-3zm3-2zm-1-1zm2-1zm4-2zm1 2zm-2-7zm-3 0zm-1 1zm9-6zm3-1zm5 11zm-1 4zm6 18zm-2 2zm8 1zm-18 3zm-2-3zm-22-23zm-8-3zm5-6zm2-1zm-5-5zm1-6zm7-1zm2 4zm7-1zm-26 3zm0 4zm-10 14zm-10 3zm-1-1zm9 12zm5 1zm-2 3zm-3 2zm11-3zm-12 42zm-4 17zm3 6zm-5 11zm-9 1zm-7-12zm4-6zm4-4zm3 2zm-13-10zm-2 0zm-4 22zm-6 5zm-1 0zm-8-5zm-5 5zm-2 11zm3 6zm-9 2zm25-4zm2-3zm29 1zm-2 18zm5 12zm-1 5zm12-3zm-1-2zm18 8zm2-3zm3-1zm5 1zm-4 4zm1-15zm-89-55zm-1-1zm-2-7zm-5 2zm-8-37zm-4-6zm-2-1zm64-45z"/><path stroke="#f8dfe0" stroke-width="5.00" d="M170 1230zm43 47zm-45 33zm-10 3zm-19-18zm-30 36zm-19 0zm45 20zm5 19zm18 16zm9 5zm2-21zm35 42zm-109-18z"/><path stroke="#e48082" stroke-width="5.00" d="M180 1229zm-1 9zm-1 19zm-10 25zm-9 5zm-9 9zm-26 1zm9 22zm-13 9zm23 11zm28-21zm25-24zm4-3zm5-5zm5-6zm5 0zm-1 10zm4 16zm9 0zm-19 48zm4 16zm-11 27zm-19 11zm-16-5zm-10-16zm-7-12zm-24 5zm-39-19zm-9-10zm66 69zm31-41z"/><path stroke="#e1dcf1" stroke-width="5.00" d="M225 1293zm-37 72zm-19 45zm-43 21zm-41-59zm21-34zm13-21zm-25-8zm-9 0z"/><path stroke="#332d9c" stroke-width="5.00" d="M179 1230zm0 4zm29 34zm1 3zm-17 7zm2 23zm13 20zm1 1zm-2 5zm4 4zm-8 23zm-13 1zm-21-23zm-11 28zm0 8zm0 2zm-11-14zm-5-1zm-29-9zm-10 7zm-5-19zm-5-4zm-10-6zm-12 3zm1 4zm-2 19zm12 6zm9 17zm42 22zm23 11zm18 15zm5-9zm17 5zm100-43zm6-1zm-76-81zm0-8zm-61-5zm-17 19zm-20 0zm-11 9z"/><path stroke="#c3bae3" stroke-width="5.00" d="M180 1224zm0 1zm-29 37zm-31 56zm-27 12zm5 30zm4-1zm7 21zm11-7zm16 12zm25 4zm9 9zm-22-36zm1-15zm14-6zm41-4zm6 17zm-1-65zm-131 70zm21 38z"/><path stroke="#dd6063" stroke-width="5.00" d="M177 1230zm3 0zm-17 53zm-13-5zm-29 13zm2 11zm2 2zm-17-2zm-14 23zm35 19zm7 24zm-9 2zm-11 0zm-18 24zm55-4zm11-6zm1 3zm-6-19zm-7-2zm50-13zm-7-16zm14-3zm0-17zm7-12zm-3-25zm-31 132z"/><path stroke="#5b51b0" stroke-width="5.00" d="M210 1264zm-2 2zm8-1zm-7 10zm-3 5zm-5-3zm2 10zm-3 1zm-6 6zm-6 2zm-9-2zm-4 12zm-2 1zm-23-1zm-2-12zm22-11zm16-6zm1-10zm23 17zm0 9zm9 11zm-5 5zm-12-1zm5 14zm11 6zm1 2zm-20 8zm12 14zm-6 5zm18 0zm-35 9zm-1-3zm-11-8zm-3 0zm-9 12zm15 10zm20 12zm-44-4zm-18-22zm-10-29zm-8-6zm-14-6zm-7-21zm-21 11zm6 42zm9-1zm10 13zm-3 23zm4 13zm16 2zm4-5zm14-69zm30 9z"/><path stroke="#f2bfc0" stroke-width="5.00" d="M177 1237zm11 32zm13-5zm17 0zm-5 37zm-17 37zm-33-5zm-8 17zm-12-21zm-6 3zm-15 9zm-28 0zm-12-12zm70-22zm-9 81zm26 12zm-56 22z"/><path stroke="#ffffff" stroke-width="5.00" d="M210 1281z"/><path stroke="#d74043" stroke-width="5.00" d="M225 1276zm-9 12zm-8 2zm-4-7zm-5 6zm-1 1zm-1 11zm-16 22zm-16 4zm1 16zm27 7zm-3 10zm11-2zm10 3zm5-4zm0-3zm-1 13zm-2 3zm-47 13zm-32-6zm-1-14zm0-22zm2-26zm-28-22zm-26 20zm2 3zm16 9zm1 14zm-1 3zm8 19zm6 16zm3 3zm75 47zm-28-136zm0-7z"/><path stroke="#d74043" stroke-width="5.00" d="M169 1230zm6 1zm1 0zm1 6zm-4 50zm-27-5zm-29 39zm-4-1zm1 9zm-14 9zm5 19zm-1 22zm26-1zm-4 32zm-15-1zm3 13zm40-23zm9-10zm8 4zm6-17zm7-11zm1-24zm9-31zm8-6zm11 0zm3 2zm-2 4zm14-8zm-1 67zm-68-6zm-77-39zm-1-4zm-8 21z"/><path stroke="#f8dfe0" stroke-width="5.00" d="M172 1257zm-19 14zm32 11zm5 10zm13 5zm-11 22zm11-51zm-108 71zm12 33zm16 12zm54 38z"/><path stroke="#ffffff" stroke-width="5.00" d="M214 1267zm-92 6zm-9 50zm7 46zm0 30z"/><path stroke="#e1dcf1" stroke-width="5.00" d="M196 1289zm-13 2zm36 45zm-4 30zm-12 19zm-17-13zm-31 17zm12 16zm9 10zm-78-85z"/><path stroke="#d02024" stroke-width="5.00" d="M177 1232zm-1 24zm1 1zm0 2zm-2 0zm-3-4zm-4 0zm2 5zm-4 2zm-8-5zm-2 9zm-5 6zm0 1zm3 6zm3 4zm-2 7zm-4 1zm0 1zm-5 7zm-6-5zm-9 2zm-3 1zm-3 3zm-4 5zm-2-1zm0 4zm-4 3zm-1 7zm3 8zm-4 2zm6 2zm0 6zm0 3zm3 2zm-1 7zm-3 8zm-6 3zm-4 0zm0-5zm-1-2zm-9-5zm-3-2zm-2-6zm2-11zm2-7zm-4-10zm14-4zm-1-4zm3-2zm12-13zm3 0zm9 16zm0 2zm9 13zm2 1zm3 1zm0 0zm-1 2zm1 3zm-5 0zm0-1zm-2 3zm-2 1zm-3-4zm-2-3zm0 10zm0 0zm-3 2zm-3-3zm17 9zm-2 3zm7 4zm6 1zm1 0zm-1 5zm4 7zm-3 2zm-5-1zm0 0zm0 7zm-5-1zm-7 2zm2 5zm5 1zm1 1zm-7 6zm-8 6zm1 5zm-5 10zm3 2zm-5 7zm-5-1zm-7-3zm0-3zm4-6zm4 1zm-11-7zm-1 1zm1-9zm-3-2zm-5 3zm-1 0zm-5 5zm1 4zm1 16zm11 2zm2 1zm-3 10zm8 2zm1-2zm34-7zm12-8zm-1-2zm-3-3zm1-4zm4-8zm5-2zm-1-2zm0-2zm4-4zm2-6zm4-3zm6 0zm0 2zm5-1zm9 3zm7 1zm-1-7zm3 0zm8 0zm3-2zm-5-11zm-8-8zm0-2zm-6 5zm0 1zm-9 3zm0 1zm0 2zm-13-12zm-2-6zm3-1zm4-3zm6-4zm-4-10zm-3-6zm-4-1zm-5 0zm2 4zm-4 3zm-1 5zm2 0zm1 0zm0 1zm1 2zm-4-1zm-7-4zm2-3zm-3-9zm-5-4zm9-2zm2-3zm-1-1zm4 0zm3 3zm4 1zm9-3zm9 7zm13 8zm7 2zm-6 7zm9 13zm-8-30zm6-10zm6 1zm1 4zm4-9zm1 1zm-4-8zm0-5zm-14 4zm-2 2zm-8 2zm-1 2zm1 3zm-5-6zm-9-4zm-4 1zm-2 1zm1-5zm1-2zm-4 2zm1-5zm4 0zm2-3zm3 2zm2 0zm4-4zm2 4zm9-1zm1-1zm3-2zm2-2zm-1-12zm-8 2zm-14 6zm-18 11zm-3 1zm5 3zm-1 5zm-9 9zm-11 21zm-1 6zm3 0zm-5 9zm4 7zm13 1zm4-1zm-11 26zm-3 16zm3 1zm-7 4zm18 9zm2-4zm4 1zm-7 11zm0 2zm4 3zm4-1zm3-2zm4 0zm-7 7zm-9 0zm11 15zm6 4zm3-1zm7-8zm4 4zm-3-9zm-9-1zm13-26zm-4-7zm0-2zm-8 1zm-62-12zm-4 8zm-1 2zm-6-12zm2-2zm-5-2zm-4 2zm-1 0zm-2-2zm4 6zm14-8zm-31 6zm-4-2zm-5 2zm2 3zm-10-20zm0-2zm-8-5zm4-7zm2-12zm-2-6zm14 28zm18-17zm1-2zm-11-36zm68-23z"/><path stroke="#a597d5" stroke-width="5.00" d="M218 1268zm-22 1zm-6 8zm-26 7zm-24 24zm-1 6zm7 19zm-13 5zm9 15zm8 23zm3-1zm-28-1zm-11-10zm-1-11zm0-2zm2-3zm0-24zm4-34zm66 24zm11-1zm8 12zm15 4zm-26 16zm-7 15zm8 17zm23-3zm-3-11zm-29-37zm44-28zm-50 99zm-2 1zm-21 17zm4 16zm-39-10zm-2-19zm-21-4z"/><path stroke="#8274c4" stroke-width="5.00" d="M169 1259zm19 19zm-3 13zm15 2zm-5 21zm-11 2zm-11 18zm-9-4zm-13-4zm5-15zm-3-13zm-3 0zm5-8zm3-7zm-13-6zm-19 25zm-6-3zm-11 0zm-1 6zm29 3zm-8 21zm12 10zm10 12zm2 1zm3-8zm26 19zm8 10zm3 6zm-20 6zm-6 9zm13 3zm-22-13zm-17 6zm-4-8zm0-6zm-11-8zm-20 28zm90 24zm8-9zm8-44zm2-16zm-7 0zm-5-2zm-8-2zm-4-2zm4-9zm34-34zm4-7zm-16-24zm1-6z"/><path stroke="#c3bae3" stroke-width="5.00" d="M176 1230zm26 47zm25 18zm5 4zm-43 13zm8 40zm-22 1zm-31-20zm-3 44zm-8 11zm-5 20zm-22 7zm53-20zm12-2zm-86-33z"/><path stroke="#332d9c" stroke-width="5.00" d="M180 1232zm-5 24zm29 33zm-10 7zm23-5zm-7 33zm-16 3zm9 25zm-14 17zm-28-3zm-4 8zm6 24zm6 12zm-14 8zm45 9zm76-24zm-112-67zm-19-22zm-18 23zm-15-19zm-9 19zm-9 1zm-2 4zm13 8zm-26 11zm-9-18zm18-19z"/><path stroke="#eb9fa1" stroke-width="5.00" d="M174 1230zm-10 22zm-20 43zm-2 9zm21-1zm3 18zm-17 22zm5 8zm12-2zm14-3zm3 15zm21-34zm2-10zm4-39zm-103 54zm2 16zm5 4zm-27 22zm55 9zm11 6zm1 15zm16-2zm5 10zm17-11zm2 27zm-75-6z"/><path stroke="#f2bfc0" stroke-width="5.00" d="M178 1230zm29 32zm-34 45zm-21-13zm-27 8zm-36 11zm-19 21zm69 4zm4 12zm-1 37zm17 19zm-2 7zm19 7zm7-62zm28 4zm-99 28zm-7 12z"/><path stroke="#0c0a88" stroke-width="5.00" d="M175 1217zm0 1zm2 10zm0 3zm1 0zm2 0zm-2 2zm-1 4zm6-7zm0-2zm-17 29zm-7 6zm3 27zm25 14zm-2 4zm14-17zm18-14zm11 26zm-20 12zm5 45zm44 34zm4 0zm1 0zm1 1zm4 0zm1 1zm2 0zm2 2zm1 2zm-1 1zm0 0zm-1-1zm4-1zm1 2zm0 0zm1 0zm0 1zm-1 2zm2 0zm-3-3zm-3 4zm6-6zm3-3zm0-1zm-1-1zm-2 1zm5-3zm1-2zm4-5zm2-1zm0 0zm0 1zm1-3zm0-1zm2-4zm-1-1zm0-1zm1-1zm-3 1zm5-3zm2 1zm-1 1zm0 3zm6-1zm3 0zm-4-3zm-2-4zm-1 0zm1-1zm-1-1zm1-6zm-17 40zm3 2zm0 1zm1 1zm0 0zm-127 1zm-10-36zm8-43zm-47 0zm-2 3zm-1 0zm-1 0zm-9 7zm0 2zm1 5zm-12 8zm-9-4zm-2 2zm-1 2zm2 0zm-4 0zm1-8zm-1-10zm8-7zm9 0zm-5-12zm-1-5zm21-11zm3-10zm20 0zm-21 105z"/><path stroke="#5b51b0" stroke-width="5.00" d="M172 1260zm0 0zm4 3zm3-1zm-8 22zm-17-10zm-24 14zm-7-15zm26 29zm7 20zm4-1zm6-6zm3 6zm5-15zm3-3zm23 13zm9 2zm6-9zm5-4zm7 3zm4-5zm-1-2zm-18-7zm-5-3zm-1-3zm-4 2zm0-6zm18-6zm-3 63zm-16 11zm-8-3zm-8 10zm-6 5zm3 9zm-25 15zm-31 17zm-18-17zm-12 3zm-3-29zm5-1zm5-1zm15-17zm2-1zm0-2zm-14-10zm-2-2zm9-6zm-18-18zm-14 3zm-7 13zm0 10zm15 8zm-14 20zm71-34zm73 38z"/><path stroke="#e48082" stroke-width="5.00" d="M172 1231zm-2 32zm-13 12zm-12 26zm21 2zm13 18zm6-2zm3 0zm-1 6zm0-12zm6-5zm17-15zm-3-3zm-6-6zm-11-11zm29 1zm-4 49zm-23 31zm8 12zm10 0zm-13 15zm0 10zm-21 7zm-4 8zm5 3zm2 2zm-11-20zm-43-9zm-8 17zm2 10zm-18-48zm14-9zm31-15zm4-12zm7-1zm-15 1zm-27-27zm65 137z"/><path stroke="#dd6063" stroke-width="5.00" d="M175 1217zm13 53zm0 11zm-8 11zm-9 1zm-7-10zm-17-10zm-6 34zm3 17zm-6 1zm-10 9zm-8 5zm24-1zm0 20zm0 13zm13-13zm23 1zm-1-14zm-9-23zm21-14zm11-9zm7-11zm6-3zm0 20zm-3 57zm-16 29zm-73-17zm-6-4zm-5 10zm-18-6zm13-71z"/></g><path d="M77.2 624.0C78.7 623.6 80.1 623.5 81.7 623.5C83.3 623.4 85.1 623.6 87.0 623.8C88.8 624.1 90.9 624.6 92.9 624.9C94.9 625.2 96.9 625.4 98.9 625.7C100.8 626.0 102.7 626.2 104.5 626.8C106.3 627.3 108.2 628.0 109.6 629.1C111.1 630.2 112.3 631.7 113.3 633.3C114.2 634.9 114.5 636.6 115.3 638.5C116.1 640.4 117.2 642.7 117.9 644.8C118.6 646.9 119.5 649.1 119.5 651.0C119.6 653.0 119.2 654.7 118.5 656.3C117.8 657.9 116.1 658.9 115.3 660.4C114.5 662.0 114.0 664.0 113.8 665.7C113.6 667.4 113.9 669.0 114.3 670.9C114.7 672.8 115.6 675.2 116.4 677.2C117.2 679.1 118.7 681.0 119.0 682.4C119.4 683.8 119.2 684.7 118.5 685.5C117.8 686.4 116.3 687.1 114.8 687.6C113.3 688.2 111.2 688.1 109.6 688.7C108.1 689.2 106.4 689.7 105.4 690.8C104.4 691.8 104.1 693.5 103.9 694.9C103.7 696.4 104.1 697.8 104.2 699.2C104.4 700.7 104.6 701.8 104.8 703.6C104.9 705.5 105.3 708.4 105.2 710.4C105.1 712.3 104.7 714.2 103.9 715.4C103.1 716.7 102.1 717.2 100.5 717.9C99.0 718.6 96.7 719.3 94.6 719.6C92.5 720.0 90.4 720.2 87.9 720.0C85.4 719.9 82.3 719.0 79.5 718.8C76.7 718.5 74.0 718.4 71.2 718.4C68.4 718.3 65.1 718.6 62.7 718.6C60.3 718.6 58.5 719.0 56.8 718.4C55.1 717.8 53.7 716.2 52.6 715.0C51.5 713.8 50.8 712.4 50.1 711.2C49.4 710.0 49.1 709.4 48.4 707.9C47.8 706.3 46.8 703.6 46.0 701.8C45.2 700.0 44.6 698.5 43.6 696.9C42.6 695.2 41.1 693.8 39.9 692.0C38.7 690.2 37.5 688.0 36.3 685.9C35.1 683.9 33.6 681.6 32.6 679.8C31.5 677.9 30.4 676.4 30.1 674.9C29.8 673.4 30.4 672.1 30.8 670.6C31.2 669.2 32.2 667.9 32.6 666.3C33.0 664.8 32.9 663.1 33.2 661.5C33.5 659.9 33.5 658.2 34.4 656.6C35.3 655.0 37.4 653.3 38.7 651.7C40.0 650.0 41.3 648.1 42.4 646.8C43.4 645.5 43.4 645.0 44.8 643.7C46.2 642.5 49.0 640.9 50.9 639.5C52.9 638.0 54.4 636.5 56.4 635.2C58.4 634.0 61.0 633.1 63.0 632.0C65.0 631.0 66.7 630.1 68.3 629.1C69.9 628.0 71.3 626.5 72.8 625.7C74.3 624.8 75.7 624.3 77.2 624.0Z" fill="none" stroke="#1fa85a" stroke-width="1.45" stroke-dasharray="2.8 2"/><path d="M123.9 697.1C124.1 696.4 124.8 695.5 126.1 695.1C127.4 694.8 130.0 695.6 131.7 695.1C133.4 694.7 134.9 693.5 136.2 692.3C137.5 691.1 138.4 689.7 139.6 688.1C140.8 686.5 142.2 684.1 143.5 682.5C144.8 681.0 146.1 679.7 147.4 678.9C148.7 678.0 150.1 677.4 151.4 677.5C152.6 677.5 154.0 678.0 154.7 679.1C155.4 680.3 155.5 682.5 155.5 684.2C155.5 685.9 155.3 687.8 154.7 689.2C154.1 690.7 152.9 692.0 151.9 693.2C150.8 694.3 149.4 694.9 148.5 696.0C147.7 697.0 147.1 698.0 146.9 699.4C146.6 700.7 147.2 702.6 146.9 703.8C146.5 705.0 145.7 706.1 144.6 706.6C143.6 707.1 142.2 707.0 140.7 706.6C139.2 706.2 137.5 705.2 135.6 704.4C133.7 703.5 131.2 702.4 129.5 701.6C127.7 700.8 125.9 700.1 125.0 699.4C124.1 698.6 123.7 697.8 123.9 697.1Z" fill="none" stroke="#e8202a" stroke-width="1.45" stroke-dasharray="2.8 2"/><circle cx="88.7" cy="614.0" r="7.7" fill="none" stroke="#f0643a" stroke-width="1.45" stroke-dasharray="2.8 2"/><text x="32.1" y="612.5" font-size="8.6" font-style="italic" fill="#111">Slc2a5</text><linearGradient id="g9" x1="0" y1="0" x2="0" y2="1"><stop offset="0.00" stop-color="#d02024"/><stop offset="0.10" stop-color="#d94d50"/><stop offset="0.20" stop-color="#e3797c"/><stop offset="0.30" stop-color="#eca6a7"/><stop offset="0.40" stop-color="#f6d2d3"/><stop offset="0.50" stop-color="#ffffff"/><stop offset="0.60" stop-color="#d5cfeb"/><stop offset="0.70" stop-color="#ab9ed8"/><stop offset="0.80" stop-color="#7a6dc0"/><stop offset="0.90" stop-color="#433ca4"/><stop offset="1.00" stop-color="#0c0a88"/></linearGradient><rect x="148.9" y="608.1" width="8.3" height="24.6" fill="url(#g9)"/><text x="144.2" y="611.1" font-size="8.2" text-anchor="end" fill="#111">5</text><path d="M148.9 608.1h1.6M155.6 608.1h1.6" stroke="#333" stroke-width="0.5"/><text x="144.2" y="635.7" font-size="8.2" text-anchor="end" fill="#111">0</text><path d="M148.9 632.7h1.6M155.6 632.7h1.6" stroke="#333" stroke-width="0.5"/><rect x="164.45" y="601.9" width="136.0" height="121.4" rx="1" fill="none" stroke="#a0a0a0" stroke-width="1.1"/><g transform="scale(0.5)" stroke-linecap="round" fill="none"><path stroke="#d74043" stroke-width="5.00" d="M439 1255zm40 16zm-18 55zm-7 18zm-36-11zm-23-16zm-10 4zm15-24zm17 6zm-34 58zm-8 1zm10 19zm7 27zm87 9zm-128-89z"/><path stroke="#f2bfc0" stroke-width="5.00" d="M461 1229zm15 32zm-12 8zm1 13zm12 13zm8-2zm-2-10zm3-5zm15 15zm-3 13zm-13 3zm1 4zm-2 4zm10 4zm-20-9zm-13 13zm4 9zm-16-27zm1-3zm-1-4zm-27 21zm-4 2zm-3 7zm-1 4zm8 5zm-4 14zm6 9zm0 0zm1 0zm0 13zm10 14zm2 0zm7 2zm-6 13zm9 2zm8 4zm3 2zm4 1zm8 15zm-6-42zm12-8zm12-8zm3-1zm0-2zm-84 24zm-17 3zm-2-7zm3-15zm-12-13zm-5 1zm-8 13zm-2 4zm-13-19zm10-7zm29-6zm-5-14zm2-14zm5 0zm-1-6zm10-9zm7-5zm6 0zm-5 9zm5 4zm-6 12zm-8-28zm-30 19zm29 96zm-14 15z"/><path stroke="#c3bae3" stroke-width="5.00" d="M454 1230zm0 1zm-2 0zm2 3zm-1 4zm0 19zm2 1zm14 3zm2 8zm2 12zm3 4zm3 2zm2-1zm1-6zm0-3zm5 3zm2 0zm4-3zm-4-4zm5-3zm-8-7zm-4-1zm9 23zm1 3zm1 3zm8 0zm4 7zm3 4zm-4 3zm-2 0zm-2 2zm0 1zm-8 1zm-2 0zm-1 1zm4-7zm-16-4zm-1-6zm-1-2zm-2 1zm-1-3zm-2 5zm-5-8zm-4 5zm-3-4zm2-7zm-14 3zm-3 2zm-4-2zm-6 0zm1 5zm-3 2zm-2 8zm-10-4zm2-4zm-3-10zm-1-6zm7 2zm9-7zm7-2zm-1-15zm9 38zm-6 13zm-1 13zm8 6zm5-5zm2 6zm6 8zm3 0zm0 14zm4 0zm-1 9zm-3 1zm3 5zm-3 2zm-1 4zm-6-4zm-3-3zm1-13zm-4-4zm-3-8zm0-5zm-1 0zm-8 7zm-1 5zm-7 9zm-7-3zm0-8zm0-3zm-3 1zm-4-6zm1-2zm-3-8zm4-7zm-1-9zm-10-7zm-3 3zm-1 4zm-3-3zm-9 3zm1 3zm-3-10zm-5-5zm-3-1zm-5 0zm-1 7zm-8-2zm5 11zm-4 1zm-6 0zm1 4zm-6-3zm0 6zm-4 11zm2 3zm8-3zm6 2zm5 9zm2-1zm-1 5zm-2 0zm-1 2zm0 1zm-5-1zm4 9zm1 3zm3 5zm-2 4zm-7-3zm-3-1zm-1 0zm-2 0zm1 2zm-2 8zm0 1zm7 0zm2 4zm4-4zm1 17zm-4 5zm4 2zm7 1zm1-4zm3 1zm2 7zm2 4zm3-6zm8 4zm8 5zm-5 13zm-9 1zm-2 0zm-3-4zm-3 8zm38 6zm5-14zm3-1zm0-4zm-3-9zm-5-2zm14-4zm4-4zm2 6zm1 2zm-2 4zm-2-3zm3 7zm6 5zm12-2zm1 10zm1 3zm3 1zm3-1zm3 2zm2-1zm-1 3zm0-17zm5-2zm-4-15zm-4-5zm3-2zm6-12zm6-2zm-3-4zm5-6zm5-1zm-2 7zm1 3zm-10-12zm-6-4zm-1-4zm2 0zm1-2zm7 0zm13 5zm-14-26zm-4-5zm4-5zm-6-5zm-6 1zm-2-3zm-3-6zm-1 0zm0 0zm-4 2zm0 3zm-2 1zm-26 46zm-3 3zm1 7zm0 5zm12-5zm6 6zm-1 3zm5-6zm-14 14zm-3 2zm-19-5zm-2-7zm3-6zm4-5zm-26 0zm0 6zm-4-17zm3-7zm-3-5zm-3 3zm-3 0zm-4 4zm-3 2zm18-13zm7-5zm-1-5zm-1-8zm-10-1zm-1 1zm-4-1zm3 7zm-6 2zm-36 7zm-1 8zm4 4zm-2 5zm-3-28zm39-45zm10-5zm2 3zm1 10zm-3 0zm-14 99zm26 1zm124 6zm1 1zm1 0zm1-1zm1-1zm4 2zm2 0zm4 0zm1 0zm0 3zm1 2zm-1 1zm0 0zm-1-1zm3 1zm2 0zm0 1zm0 1zm0 1zm2 0zm-1-2zm5-1zm1-1zm2 4zm3 3zm-8-11zm0-1zm2 0zm-4 0zm6-5zm2-3zm0 0zm1-2zm3-2zm0 2zm4-1zm0-4zm0 0zm2-5zm0-1zm0-3zm2 0zm1 1zm2 1zm1 3zm-4-9zm1-3zm0-3zm-11 15z"/><path stroke="#e48082" stroke-width="5.00" d="M497 1267zm-12 26zm-47-7zm-10 21zm5 12zm-1 7zm-7 26zm-4 1zm6 7zm10 5zm22-4zm5 3zm32-8zm-92-22zm-29 7zm3 12zm3-57z"/><path stroke="#dd6063" stroke-width="5.00" d="M426 1268zm19 14zm30 5zm15-16zm6 7zm1 7zm-26 52zm-23-14zm-26 1zm-13-5zm-2-1zm-4-7zm-46 9zm1 7zm73 23zm27 61zm-61 0z"/><path stroke="#e1dcf1" stroke-width="5.00" d="M451 1217zm5 12zm-6 1zm3 3zm-7-1zm8 25zm-1 2zm-5 1zm-6 5zm-15 7zm-4 1zm17 10zm17 1zm5-5zm5-3zm-1-3zm2 9zm9-5zm2 4zm2 3zm1-4zm-3 17zm-1 7zm-2 12zm5 1zm4 1zm-1 4zm-2 2zm1 3zm10 1zm2 8zm0 7zm-2 11zm-2 1zm2 5zm-9-6zm-3 3zm-4-5zm5-2zm-9 8zm-5-7zm-4 2zm-8 8zm-4-6zm14 18zm3 6zm-18 2zm-8 10zm-1 3zm2 0zm6 4zm2-1zm4 0zm9 7zm-7 4zm-6 13zm2 4zm13 2zm4-1zm0-9zm-28-12zm-7-1zm-1 2zm0-11zm-9 2zm-8-10zm-10 1zm-2-10zm-5 2zm-11 9zm-11-3zm-8 6zm8 14zm14-4zm1-2zm9 9zm4-4zm6 3zm-1 20zm-10 3zm-12-12zm-5-45zm-4-17zm2-1zm-4-2zm-6 6zm-3 5zm-7-4zm-9-15zm-13 2zm9-20zm1-1zm14-6zm-5-6zm13 6zm9-14zm3-6zm0-2zm12 6zm0-1zm8-12zm11 0zm1 4zm2-1zm-6 5zm2 15zm1 15zm12-4zm3-1zm2-1zm0 2zm3-5zm1 0zm-5-10zm8-1zm8 0zm20 4zm1 0zm3 24zm-33-5zm-7 11zm-6 1zm-1-2zm-5 15zm-2 9zm4 0zm-29-11zm6-17zm-8-16zm5-3zm-25 19zm-3-44zm0-1zm30-22zm89-10zm7 2zm7 12zm-1 14zm4 5zm2 6zm-2 2zm-1 3z"/><path stroke="#ffffff" stroke-width="5.00" d="M452 1231zm1 4zm-2 21zm0 3zm2 12zm-3 8zm-6 1zm0 3zm-4 2zm-6-6zm-2-7zm3-9zm9 7zm19 10zm7-14zm14 2zm6-1zm-5 8zm0 3zm1 15zm3 8zm1 6zm-14 8zm0 10zm4 0zm7 9zm8-4zm3 4zm4 20zm-25 1zm-10 3zm-4 5zm-10-10zm-2-14zm-5-8zm-4 12zm-11 10zm-13-4zm-10-6zm-1-8zm2-3zm3 0zm4-4zm6 5zm4-8zm-5-4zm5-16zm13-2zm2 2zm-1 7zm7 6zm10 5zm1-12zm-9-4zm21-11zm-50-28zm-21 41zm-8 13zm-3 3zm-2 6zm8 11zm-5 11zm4 17zm-6 4zm-4 7zm-5 16zm3 5zm14 8zm32-6zm3-5zm12-16zm9 10zm1 3zm-3 9zm0 1zm7 3zm4 5zm-16 2zm-19-37zm57-1zm-112-40zm-4-7zm-3-4zm8-6zm-14-8zm-9 21zm14 39z"/><path stroke="#d02024" stroke-width="5.00" d="M488 1283zm-4 5zm-2 4zm23 8zm-32 26zm-21-15zm-27 24zm-10 3zm-19-12zm-13 22zm-8 8zm-12 2zm-14-17zm8-8zm7-9zm3-15zm59 48zm29 7zm-13 22zm-44-4zm-14 6zm11 16zm71 29zm21-72z"/><path stroke="#f8dfe0" stroke-width="5.00" d="M454 1256zm8 12zm1-1zm-3 9zm5 2zm7-13zm16 10zm13 12zm7 12zm-4 7zm-30-16zm-11 14zm-2 20zm-8 2zm1 22zm-2 3zm-22 0zm-1-4zm-12-8zm3-20zm-2-15zm-23 0zm-13-1zm-7 4zm-4 7zm-6-6zm3-12zm17-13zm10 5zm-2 31zm4 5zm-7 4zm-10 7zm-4-1zm17 9zm-20 16zm-10 11zm7 4zm13-2zm4 15zm-10 4zm17 15zm2 3zm34-11zm-1-9zm10 0zm3-3zm-7-17zm-13-8zm39 14zm25-13zm4 1zm2-4zm-1-18zm-14-6zm-42-48zm2-4zm-7-2zm-71 73zm-4 8zm-10-22zm94 67zm6 3z"/><path stroke="#eb9fa1" stroke-width="5.00" d="M493 1268zm2 5zm0 1zm-8 7zm-4-5zm-16 5zm-33 2zm-27 13zm-8 6zm-3 16zm-25-14zm13 44zm0 35zm-10 11zm6 6zm11 10zm37-6zm1 8zm23-31zm23-43zm7-11zm-42 5zm-7-8zm-14 15zm-76 5z"/><path stroke="#e48082" stroke-width="5.00" d="M479 1265zm0 3zm7 61zm-48-14zm-33 29zm-14 4zm-7 6zm12 18zm3 2zm27 2zm22 7zm7-6zm11 27zm-13 7zm-81-17zm-21-39zm-4-17z"/><path stroke="#e1dcf1" stroke-width="5.00" d="M452 1230zm2 0zm2 1zm-3 6zm2 1zm-4 18zm-2 2zm1 3zm3 6zm10 8zm2-1zm1 3zm-10 5zm2 3zm14 9zm14-10zm3-9zm0-12zm13 17zm3 20zm2 3zm-13 3zm-3-1zm0 4zm-4 0zm6 13zm-13 6zm-17-2zm-2-7zm0-11zm-10-2zm-5-1zm-1-5zm-10-12zm-3-9zm-2-5zm-4-1zm15 5zm-15 18zm0 2zm-10-4zm-16 3zm-6-3zm3-15zm-26 10zm0 26zm-4 5zm-1 8zm-10-1zm10 15zm4-1zm0 2zm-2 10zm3 13zm2 6zm-6 3zm-4-1zm21-4zm0-11zm-3-3zm12-3zm7 20zm10-2zm4 9zm11-10zm0-5zm7-21zm10 0zm1-10zm1-2zm-7-1zm10-7zm0-2zm-20 4zm-5 0zm2-4zm-17 11zm-4 1zm-9-9zm-1 1zm-5-8zm27 23zm3 1zm34 7zm8-8zm-1 17zm1 7zm7-5zm4-4zm5-3zm17-12zm0 25zm-17 20zm-26 9zm-4-2zm-6-9zm-4 23zm-22 3zm-15-11zm-10-16zm-1-3zm-3 0zm4 42zm-39-70zm-7-4z"/><path stroke="#eb9fa1" stroke-width="5.00" d="M432 1266zm-2 13zm29 12zm26-15zm-5-7zm24 30zm-19 25zm3 38zm-30 11zm-5 15zm-8 1zm-9-28zm-15 7zm-13 9zm-28-16zm-3 5zm-14-17zm-11 8zm36-35zm7 6zm3-26zm0-29zm4 139zm50 8z"/><path stroke="#ffffff" stroke-width="5.00" d="M456 1225zm1 4zm-5 2zm-5-1zm-2 0zm3 25zm3 1zm0 7zm-9-1zm-1-5zm-12 6zm-5 5zm6 9zm8 1zm2 1zm-1 5zm-4 6zm-13 9zm-7 15zm-17-6zm-1-5zm-1-15zm23-7zm24 24zm-9 8zm7 11zm0 0zm-6 4zm18 5zm-7 15zm15 12zm4 9zm-14 12zm-11-1zm6 13zm2 2zm5-2zm-19 10zm-5 5zm24 8zm11 15zm12-18zm12-46zm7-5zm-23-14zm2-10zm-14-22zm12-7zm-7-17zm8-8zm9 4zm8 2zm-2 4zm-16-25zm0-7zm-5-1zm-56 79zm-2 1zm2 10zm7-4zm0 9zm9 5zm0 5zm-5 9zm-6 7zm-3 0zm-5 6zm-17 2zm-4-14zm12-10zm-6-13zm-7 4zm-11 2zm-8-23zm-9-12zm-1-4zm-7 0zm-2 19zm-2 4zm23-32zm-1-11z"/><path stroke="#f8dfe0" stroke-width="5.00" d="M453 1235zm-3 45zm-7 3zm1 20zm11 13zm-10 6zm-4 5zm-1 2zm-11 8zm-11 4zm-9-3zm1-13zm13-4zm-6-14zm9-1zm-1-32zm50 20zm9-4zm4 14zm1 2zm-22 13zm-4 8zm-11 18zm-6-2zm10 21zm12-7zm2-10zm16 3zm6 7zm-3 3zm1 1zm-1 9zm-1 1zm-12-5zm-27 27zm-5-2zm1-3zm-18 6zm-9-5zm-2 1zm6-5zm-13 8zm-3-3zm-7-6zm-19-5zm-6 16zm-16-22zm-3-12zm-2-10zm-6-10zm7-7zm-7-14zm20-11zm8-12zm14 19zm0 2zm1 12zm1 15zm-12 12zm-2 1zm20 63zm43-12zm15 5zm1 0z"/><path stroke="#d74043" stroke-width="5.00" d="M440 1284zm7 9zm31-3zm1 2zm22 0zm-37 27zm23 42zm10 10zm-58-4zm-8 22zm-5 11zm19-1zm15 34zm-4 2zm-52-59zm-7-6zm-11 17zm-12 11zm-20-39zm3-32zm14-7zm35-32z"/><path stroke="#d02024" stroke-width="5.00" d="M433 1275zm-37 24zm-23 47zm2 14zm16-8zm5 17zm-10 16zm0 28zm82-10zm22-44zm13-51zm1-6zm-34 8zm8-33zm-128 53z"/><path stroke="#dd6063" stroke-width="5.00" d="M492 1271zm-14 13zm-34 45zm-16-8zm-25 10zm-19 22zm-14-8zm4-15zm-11-2zm-3-19zm53 54zm22 0zm14 19zm-14 24zm-36 2zm70-57zm27 12z"/><path stroke="#f2bfc0" stroke-width="5.00" d="M452 1257zm-9 24zm6 5zm-17 2zm-2 2zm-1 7zm7 23zm3 0zm2-2zm9 14zm-7 7zm-1 5zm13 1zm-26 7zm-9-12zm-6-15zm4-6zm2 1zm-19-2zm-5 10zm-8-3zm1-2zm-7 7zm-9 4zm-17 11zm-4 7zm-5 5zm15 8zm20-6zm1-7zm-5 34zm-6 5zm1 3zm14-1zm17 15zm15 12zm7-20zm13 7zm9-1zm-1 9zm8 16zm21-11zm-3-32zm-28 2zm-5-6zm-8 1zm-19-9zm-23 50zm-26-110zm10-11zm13-3zm5-13zm80 5zm19-14zm4 89z"/><path stroke="#c3bae3" stroke-width="5.00" d="M451 1217zm5 7zm3 4zm-5 5zm-2-3zm-5 1zm5 5zm1 1zm-3 16zm13 9zm7-1zm2 4zm7-1zm10 13zm-7 8zm-1 1zm-3 1zm1 3zm-1 0zm0 6zm-5 5zm-9-5zm-1-6zm-2-8zm-6 12zm-9-12zm-8 8zm1 1zm0 9zm2-1zm0 5zm1 8zm3 2zm0 6zm6 1zm1-1zm3-9zm-6-3zm-18-7zm-6 1zm2-10zm-2-11zm-5-1zm-1-2zm-6-15zm2 32zm-4 8zm-1 12zm-1 7zm4 7zm2 2zm3-6zm2-1zm4 16zm5 3zm3 5zm-7-1zm-8 8zm-4-4zm1-2zm-5 14zm7 7zm12-10zm4 2zm1-2zm0 8zm16 12zm3-1zm1-3zm9-4zm-2-7zm-2-2zm-2-4zm8 6zm5-15zm4 2zm5-3zm3-1zm2 3zm7 0zm7 7zm-1 3zm-2 4zm-5 0zm-1 8zm-13 4zm-3 10zm-6 20zm-9 3zm-4-1zm-6 0zm0 7zm4 3zm-2 2zm-18 0zm-3-4zm4-2zm14-17zm1-2zm0-3zm-1-3zm5 8zm20 23zm-7 13zm-45-46zm-11 7zm0 3zm-4 5zm-2 2zm-4-5zm-3 2zm-1-3zm-4 9zm-2 6zm-9-12zm-4-5zm-1-1zm8-2zm0 2zm6-6zm1-13zm-7-2zm-1-7zm1-3zm3 1zm5-2zm5 7zm-17-11zm0-1zm2-6zm-1-1zm-7-9zm-3 1zm4-5zm3 0zm6-1zm-6-5zm5-4zm0-7zm10 2zm0-2zm1-4zm2 6zm-4 8zm6 8zm0 2zm2-1zm-29-12zm-4-16zm4-2zm5-10zm9 2zm0-10zm12-3zm4 2zm-1 17zm-1 0zm43 21zm9 0zm18 13zm11-14zm6-3zm-1-5zm8 2zm5 3zm1-7zm-1 15zm-3 4zm-8-4zm-13-21zm-1-3zm33-7zm0-1zm72 60zm0 4zm-1 2zm0 1zm-3 4zm1 0zm-1 1zm-2 0zm-2 1zm0 1zm-2-1zm0 1zm-2-1zm-2 0zm7 2zm2 1zm1-1zm5-2zm3 0zm-12 6zm-2 3zm0 0zm-3 1zm-1 3zm0 0zm-1 2zm-3 1zm0 1zm-2 2zm-1 1zm2 2zm1 2zm1 2zm3 4zm0 0zm-9-4zm0 0zm-1 0zm-2-2zm0 0zm0-4zm-4 1zm-1-2zm-4 2zm0 0zm-173-6zm-4-8zm-3-7zm0-2zm1-1zm-4 0zm5-7zm-3-6zm2-7zm5 7zm-19-7zm1-5zm-1 0zm-2-11zm3-7zm-2-6z"/><path stroke="#f2bfc0" stroke-width="5.00" d="M456 1230zm0 0zm-7 29zm-4 5zm16 8zm7 11zm9 1zm-3-9zm12 2zm0-6zm6-1zm-6-6zm-27 27zm-3 1zm2 15zm-5 2zm-12 4zm-6 1zm0-5zm-5 0zm-7-11zm-7 10zm-17-1zm-2 22zm-13 2zm-16 11zm-2-3zm-18 2zm12 21zm9 7zm-6 5zm-10-2zm28-22zm4 1zm25-15zm2-2zm22-6zm11-4zm-5 20zm-3 22zm-4 8zm-10 2zm11 10zm0 5zm6 1zm-5 9zm-7 7zm-28-8zm-13 9zm-5 6zm18-32zm76 10zm1 4zm2-12zm12-19zm12 3zm-11-19zm-6 4zm-11 1zm-5-19zm13-2zm1-16zm-12-5zm20-7zm0-1zm-52-22zm-14-5zm-9 1zm62 133z"/><path stroke="#e1dcf1" stroke-width="5.00" d="M457 1225zm2 5zm-2 1zm-1 1zm-1-2zm-2 2zm-2 0zm-1-2zm-4 0zm7 7zm2 21zm-3 5zm-4 0zm0-3zm-3-1zm1 4zm7 12zm11 3zm0-1zm3-4zm3 6zm-3 15zm8 3zm12-7zm4 10zm5 5zm-12 10zm-1 7zm-8-9zm-13-7zm-14 5zm-6-2zm2-3zm-2 9zm3 6zm-15 6zm-8-4zm1-2zm-5 2zm2 10zm-3 4zm-2 1zm-2-1zm-4-3zm-5 0zm-8 1zm-1 1zm0 3zm3 0zm-3-9zm-5-1zm0-3zm-3 0zm0 3zm-8 3zm-1 2zm-7-6zm-1-3zm-12 4zm-11 7zm-4 3zm2 11zm16 10zm5-2zm2 3zm7-4zm4 1zm8 1zm4-1zm4 4zm-2 8zm3 3zm6 1zm1-4zm12-1zm12-1zm1 0zm6 0zm6-1zm-7-7zm-4-1zm-2-8zm-4-6zm-4-6zm-17-30zm3-3zm2-3zm-13 7zm-2-3zm-6-19zm-3 1zm38-10zm0-2zm11 10zm-4 7zm-4 0zm-3 7zm12 4zm26 40zm10 4zm4 3zm0 3zm-3-12zm15 17zm1 6zm0 3zm8-2zm3 4zm-5-17zm3-25zm-2-52zm-6 1zm8-8zm-3-5zm-28 0zm-11 96zm10 12zm3 1zm6 11zm-4 16zm-22-2zm0-6zm-3-12zm-14 9zm16 19zm-5 15zm-10-4zm-28-10zm-6-11zm-6 23zm0 2zm-16-40zm15-10zm85 49z"/><path stroke="#dd6063" stroke-width="5.00" d="M445 1263zm-10 18zm-9 5zm-29-5zm-3 41zm-3 4zm-23 4zm13 26zm35-7zm46 30zm3 25zm-21-4zm36-44zm10 2zm-13-56zm-11-19zm-6-1zm20-2zm-93 134z"/><path stroke="#d02024" stroke-width="5.00" d="M436 1269zm38 18zm8-8zm0-4zm13 29zm-36 34zm-13-9zm-4 1zm-32 3zm-28-3zm-13 9zm-18 11zm46 34zm37 0zm1 14zm-8 15zm25-15zm23 26zm-16-63zm-28 4zm-30-61z"/><path stroke="#f8dfe0" stroke-width="5.00" d="M459 1228zm6 43zm20 0zm1 2zm6-8zm7 16zm9 14zm2 11zm-23 7zm-1 1zm7 12zm-7 4zm5 7zm-27 7zm3 13zm-3 14zm-3 2zm10 5zm-7 12zm-5 7zm3 14zm-17-4zm-14-1zm-1 0zm-2-16zm4-3zm-14-4zm-24 21zm-12 2zm1-14zm0-22zm-9-9zm-8 11zm-13-21zm16-12zm0-9zm-6-3zm29 5zm-2 20zm41-4zm11-6zm7 13zm0-38zm0-8zm3-7zm5-10zm8-1zm11 0zm-35-8zm-14 17zm-6-7zm-15-2zm8-12zm-23 9zm84 105z"/><path stroke="#ffffff" stroke-width="5.00" d="M456 1226zm-1 3zm0 1zm-2 2zm-1-1zm-1 0zm8-2zm-15 26zm-10 2zm2 9zm8 16zm-5 2zm10 3zm12-10zm1 0zm6 1zm3 4zm2 4zm2 2zm10 1zm16 3zm-11 13zm-12 3zm14 15zm-13 14zm-7 4zm-22 7zm5 13zm3 4zm-17 2zm-7 11zm-1 10zm-1 11zm12-13zm1 0zm9 25zm0 1zm6-3zm-19 10zm38 5zm-1-26zm-61-24zm-5-6zm6-18zm11 0zm3-28zm15-3zm-5-10zm0-1zm-14-6zm-10-5zm4-15zm-7 42zm-9 10zm-9 7zm0 2zm-15-5zm-11 1zm-11-17zm-5-6zm-5 26zm7 14zm30 12zm-2 12zm-3 15zm-2 3zm2 13zm6 3zm7-5zm-1 15zm9-32zm6-4zm55-126zm13 2z"/><path stroke="#eb9fa1" stroke-width="5.00" d="M456 1225zm-19 48zm10 11zm18-3zm10 10zm28 4zm-18 26zm-8 32zm-11 5zm0 2zm-15-7zm-25 8zm-16 16zm-14 7zm-18 4zm-3 5zm5-31zm-13-3zm-2-21zm8-1zm6-3zm4-4zm-6-3zm17-3zm2 15zm31-12zm-18-23zm-10-31zm-40 49zm-1 1zm34 103zm45-26zm16 22z"/><path stroke="#c3bae3" stroke-width="5.00" d="M451 1218zm5 6zm-3 4zm0 2zm0 1zm4-2zm3 1zm-12 1zm-1 26zm0 1zm-1 2zm-2 2zm-5 6zm2 6zm1 5zm6 12zm3 0zm2 12zm-3 3zm-6 4zm-2 11zm-3 6zm-6 0zm-7-5zm-8 3zm0 1zm-5 4zm-4 2zm0-7zm-2-6zm-11 4zm-4 5zm-3 0zm0-3zm-3 2zm-2 3zm-2 0zm-2-2zm-5-3zm-2 9zm10 14zm6 3zm4-2zm3-6zm7-4zm0-2zm13 3zm2 3zm0 2zm2-7zm-1-3zm4 2zm2 6zm3 4zm-4 2zm-1 4zm10 5zm6 3zm3-12zm7 3zm8-3zm3-5zm-5-3zm-6-2zm7-9zm-1-9zm8 4zm7 2zm10 0zm0 10zm-10 7zm10 11zm8 2zm0 2zm4 2zm2 2zm4-6zm-5-5zm0-8zm-12 27zm-11 6zm3 4zm4 3zm-1 10zm0 16zm-4 10zm-2 5zm-7-5zm-1 12zm-1 3zm-11-19zm0-4zm4-15zm0 0zm2 0zm-7-12zm11-4zm5-9zm-2-9zm-2-4zm0-2zm4 1zm-37 9zm-1 2zm2 6zm-8-1zm-12 4zm2 5zm1 2zm-11-11zm1-6zm-10 2zm-4 7zm-1 1zm4 2zm0 13zm4 11zm6 4zm-13 4zm-13-1zm1-15zm-3-5zm-3-19zm-6-6zm-1 0zm0-6zm1 1zm-1-2zm0-2zm-8 2zm-3 1zm-6-5zm1-6zm4-2zm-2-13zm-3 0zm0 0zm0-3zm0-4zm6-3zm4 1zm2-1zm7-12zm-8-5zm-4 5zm26-13zm6 1zm-1 5zm5 0zm7 4zm5-9zm2-2zm1-1zm-2-2zm-5-4zm-2-2zm0-3zm8 0zm1 1zm11 10zm-1 5zm4-2zm-3 7zm-2 1zm-4-6zm23 9zm0-1zm-4-30zm0-6zm1-3zm1-4zm-3-5zm28 0zm9 8zm2 5zm-4 4zm2 2zm7-4zm5 6zm4 0zm2-6zm3 1zm1 2zm-1 1zm-2 9zm0 1zm2 1zm2-1zm-7-2zm-2 1zm-3-1zm2 11zm-1 2zm-4-3zm-2 2zm-5 11zm21 2zm6-2zm1-2zm6-6zm3 3zm1 4zm2-13zm-7-3zm-1-8zm4-3zm-11-17zm-6-1zm-49 120zm-4-1zm11 12zm-16 5zm-10 8zm-13 18zm33 3zm-49-73zm-9 5zm-2-6zm-16 16zm0 3zm177 18zm1 0zm1 1zm5 1zm5-1zm1 0zm1 1zm0 1zm2 2zm1 0zm1-2zm0-2zm-2-1zm4 4zm2 4zm1 1zm3 3zm0 2zm-8-4zm-2-2zm-1-1zm-5 0zm1 4zm11-13zm1-3zm0 0zm0-1zm7-6zm0-1zm2-1zm3-3zm0-1zm1 0zm1 0zm-1-2zm0 0zm1 0zm0-2zm-3 0zm0 2zm-2 0zm5-5zm0-4zm3-1zm0-4zm0 13zm1 3zm2 1zm1-1zm1 1z"/><path stroke="#d74043" stroke-width="5.00" d="M444 1302zm-31 30zm4 6zm-22-8zm-21 17zm16 29zm8-5zm5 5zm67 1zm3 14zm-2 33z"/><path stroke="#e48082" stroke-width="5.00" d="M455 1287zm-11 21zm13 10zm1 12zm-1 16zm15-28zm33-29zm-78 2zm-24-2zm-9 19zm-10-6zm1 24zm-2 6zm39 24zm-21 26zm48 30zm30 0z"/></g><path d="M215.2 624.0C216.7 623.6 218.0 623.5 219.7 623.5C221.3 623.4 223.1 623.6 224.9 623.8C226.8 624.1 228.9 624.6 230.9 624.9C232.9 625.2 234.9 625.4 236.8 625.7C238.8 626.0 240.7 626.2 242.5 626.8C244.2 627.3 246.1 628.0 247.6 629.1C249.0 630.2 250.3 631.7 251.2 633.3C252.2 634.9 252.5 636.6 253.3 638.5C254.0 640.4 255.2 642.7 255.9 644.8C256.6 646.9 257.4 649.1 257.5 651.0C257.6 653.0 257.1 654.7 256.4 656.3C255.7 657.9 254.0 658.9 253.3 660.4C252.5 662.0 251.9 664.0 251.7 665.7C251.6 667.4 251.8 669.0 252.2 670.9C252.7 672.8 253.6 675.2 254.4 677.2C255.1 679.1 256.6 681.0 257.0 682.4C257.3 683.8 257.1 684.7 256.4 685.5C255.7 686.4 254.2 687.1 252.8 687.6C251.3 688.2 249.1 688.1 247.6 688.7C246.0 689.2 244.3 689.7 243.3 690.8C242.4 691.8 242.0 693.5 241.8 694.9C241.6 696.4 242.0 697.8 242.2 699.2C242.3 700.7 242.5 701.8 242.7 703.6C242.9 705.5 243.3 708.4 243.2 710.4C243.0 712.3 242.7 714.2 241.9 715.4C241.1 716.7 240.0 717.2 238.5 717.9C236.9 718.6 234.7 719.3 232.6 719.6C230.5 720.0 228.4 720.2 225.9 720.0C223.4 719.9 220.3 719.0 217.5 718.8C214.7 718.5 211.9 718.4 209.1 718.4C206.3 718.3 203.1 718.6 200.7 718.6C198.3 718.6 196.5 719.0 194.8 718.4C193.1 717.8 191.7 716.2 190.5 715.0C189.4 713.8 188.7 712.4 188.1 711.2C187.4 710.0 187.1 709.4 186.4 707.9C185.7 706.3 184.8 703.6 184.0 701.8C183.1 700.0 182.5 698.5 181.5 696.9C180.5 695.2 179.1 693.8 177.9 692.0C176.7 690.2 175.5 688.0 174.2 685.9C173.0 683.9 171.5 681.6 170.5 679.8C169.5 677.9 168.4 676.4 168.1 674.9C167.8 673.4 168.3 672.1 168.7 670.6C169.1 669.2 170.1 667.9 170.5 666.3C170.9 664.8 170.8 663.1 171.2 661.5C171.5 659.9 171.5 658.2 172.4 656.6C173.3 655.0 175.3 653.3 176.7 651.7C178.0 650.0 179.3 648.1 180.3 646.8C181.3 645.5 181.3 645.0 182.7 643.7C184.2 642.5 187.0 640.9 188.9 639.5C190.8 638.0 192.3 636.5 194.3 635.2C196.3 634.0 199.0 633.1 201.0 632.0C203.0 631.0 204.6 630.1 206.2 629.1C207.9 628.0 209.2 626.5 210.7 625.7C212.2 624.8 213.7 624.3 215.2 624.0Z" fill="none" stroke="#1fa85a" stroke-width="1.45" stroke-dasharray="2.8 2"/><path d="M261.8 697.1C262.0 696.4 262.8 695.5 264.1 695.1C265.4 694.8 268.0 695.6 269.7 695.1C271.3 694.7 272.8 693.5 274.1 692.3C275.4 691.1 276.3 689.7 277.5 688.1C278.7 686.5 280.1 684.1 281.4 682.5C282.7 681.0 284.0 679.7 285.3 678.9C286.6 678.0 288.1 677.4 289.3 677.5C290.5 677.5 291.9 678.0 292.6 679.1C293.3 680.3 293.5 682.5 293.5 684.2C293.5 685.9 293.2 687.8 292.6 689.2C292.0 690.7 290.8 692.0 289.8 693.2C288.8 694.3 287.3 694.9 286.5 696.0C285.7 697.0 285.1 698.0 284.8 699.4C284.5 700.7 285.2 702.6 284.8 703.8C284.4 705.0 283.6 706.1 282.6 706.6C281.5 707.1 280.1 707.0 278.6 706.6C277.1 706.2 275.4 705.2 273.6 704.4C271.7 703.5 269.2 702.4 267.4 701.6C265.6 700.8 263.9 700.1 262.9 699.4C262.0 698.6 261.7 697.8 261.8 697.1Z" fill="none" stroke="#e8202a" stroke-width="1.45" stroke-dasharray="2.8 2"/><circle cx="226.6" cy="614.0" r="7.7" fill="none" stroke="#f0643a" stroke-width="1.45" stroke-dasharray="2.8 2"/><text x="170.0" y="612.5" font-size="8.6" font-style="italic" fill="#111">Sall1</text><linearGradient id="g10" x1="0" y1="0" x2="0" y2="1"><stop offset="0.00" stop-color="#d02024"/><stop offset="0.10" stop-color="#d74043"/><stop offset="0.20" stop-color="#dd6063"/><stop offset="0.30" stop-color="#e48082"/><stop offset="0.40" stop-color="#eb9fa1"/><stop offset="0.50" stop-color="#f2bfc0"/><stop offset="0.60" stop-color="#f8dfe0"/><stop offset="0.70" stop-color="#ffffff"/><stop offset="0.80" stop-color="#ebe8f6"/><stop offset="0.90" stop-color="#d8d2ed"/><stop offset="1.00" stop-color="#c4bbe4"/></linearGradient><rect x="286.9" y="607.3" width="8.3" height="24.6" fill="url(#g10)"/><text x="282.1" y="610.3" font-size="8.2" text-anchor="end" fill="#111">5</text><path d="M286.9 607.3h1.6M293.6 607.3h1.6" stroke="#333" stroke-width="0.5"/><text x="282.1" y="634.9" font-size="8.2" text-anchor="end" fill="#111">0</text><path d="M286.9 631.9h1.6M293.6 631.9h1.6" stroke="#333" stroke-width="0.5"/><text x="468.8" y="8.3" font-size="10.5" font-weight="bold">d</text><text x="638.2" y="11.6" font-size="8.8" fill="#111">Clusters</text><rect x="638.3" y="16.2" width="7.6" height="7" fill="#e6194b" stroke="#444" stroke-width="0.4"/><text x="650.3" y="22.8" font-size="8.8" fill="#111">1</text><rect x="638.3" y="26.7" width="7.6" height="7" fill="#3cb44b" stroke="#444" stroke-width="0.4"/><text x="650.3" y="33.3" font-size="8.8" fill="#111">2</text><rect x="638.3" y="37.2" width="7.6" height="7" fill="#0a78c8" stroke="#444" stroke-width="0.4"/><text x="650.3" y="43.8" font-size="8.8" fill="#111">3</text><rect x="638.3" y="47.7" width="7.6" height="7" fill="#f58231" stroke="#444" stroke-width="0.4"/><text x="650.3" y="54.3" font-size="8.8" fill="#111">4</text><rect x="662.2" y="16.2" width="7.6" height="7" fill="#ffe119" stroke="#444" stroke-width="0.4"/><text x="674.2" y="22.8" font-size="8.8" fill="#111">5</text><rect x="662.2" y="26.7" width="7.6" height="7" fill="#911eb4" stroke="#444" stroke-width="0.4"/><text x="674.2" y="33.3" font-size="8.8" fill="#111">6</text><rect x="662.2" y="37.2" width="7.6" height="7" fill="#46f0f0" stroke="#444" stroke-width="0.4"/><text x="674.2" y="43.8" font-size="8.8" fill="#111">7</text><line x1="607.7" y1="43" x2="607.7" y2="713" stroke="#c8c8c8" stroke-width="0.8" stroke-dasharray="2.5 2"/><path d="M506.3 42.1V94.4" stroke="#a0a0a0" stroke-width="1"/><path d="M502.3 90.8H682.6" stroke="#c4c4c4" stroke-width="1.3"/><text x="497.9" y="93.8" font-size="8.4" text-anchor="end" fill="#222">0</text><path d="M502.3 66.5H506.3" stroke="#a0a0a0" stroke-width="1"/><text x="497.9" y="69.5" font-size="8.4" text-anchor="end" fill="#222">50</text><path d="M502.3 42.1H506.3" stroke="#a0a0a0" stroke-width="1"/><text x="497.9" y="45.1" font-size="8.4" text-anchor="end" fill="#222">100</text><text x="510.8" y="50.1" font-size="8.6" font-style="italic" fill="#111">Hexb</text><path d="M522.6 60.8V71.2M522.6 78.5V88.9" stroke="#4a4a4a" stroke-width="0.9"/><rect x="513.5" y="71.2" width="18.3" height="7.3" fill="#e6194b" stroke="#3a3a3a" stroke-width="0.8"/><path d="M513.5 74.5H531.8" stroke="#3a3a3a" stroke-width="0.8"/><path d="M546.7 66.3V75.8M546.7 83.4V90.8" stroke="#4a4a4a" stroke-width="0.9"/><rect x="537.6" y="75.8" width="18.3" height="7.6" fill="#3cb44b" stroke="#3a3a3a" stroke-width="0.8"/><path d="M537.6 79.4H555.9" stroke="#3a3a3a" stroke-width="0.8"/><path d="M570.8 63.5V70.2M570.8 78.0V88.4" stroke="#4a4a4a" stroke-width="0.9"/><rect x="561.6" y="70.2" width="18.3" height="7.8" fill="#0a78c8" stroke="#3a3a3a" stroke-width="0.8"/><path d="M561.6 74.1H579.9" stroke="#3a3a3a" stroke-width="0.8"/><path d="M595.5 61.3V71.4M595.5 78.8V88.9" stroke="#4a4a4a" stroke-width="0.9"/><rect x="586.4" y="71.4" width="18.3" height="7.4" fill="#f58231" stroke="#3a3a3a" stroke-width="0.8"/><path d="M586.4 75.0H604.6" stroke="#3a3a3a" stroke-width="0.8"/><path d="M620.4 71.7V76.8M620.4 81.2V85.3" stroke="#4a4a4a" stroke-width="0.9"/><rect x="611.2" y="76.8" width="18.3" height="4.4" fill="#ffe119" stroke="#3a3a3a" stroke-width="0.8"/><path d="M611.2 79.4H629.5" stroke="#3a3a3a" stroke-width="0.8"/><path d="M644.5 71.7V78.8M644.5 83.9V89.7" stroke="#4a4a4a" stroke-width="0.9"/><rect x="635.4" y="78.8" width="18.3" height="5.1" fill="#911eb4" stroke="#3a3a3a" stroke-width="0.8"/><path d="M635.4 81.2H653.6" stroke="#3a3a3a" stroke-width="0.8"/><path d="M668.6 71.2V78.8M668.6 85.3V90.8" stroke="#4a4a4a" stroke-width="0.9"/><rect x="659.5" y="78.8" width="18.3" height="6.5" fill="#46f0f0" stroke="#3a3a3a" stroke-width="0.8"/><path d="M659.5 82.1H677.8" stroke="#3a3a3a" stroke-width="0.8"/><path d="M506.3 101.4V152.9" stroke="#a0a0a0" stroke-width="1"/><path d="M502.3 149.3H682.6" stroke="#c4c4c4" stroke-width="1.3"/><text x="497.9" y="152.3" font-size="8.4" text-anchor="end" fill="#222">0</text><path d="M502.3 125.4H506.3" stroke="#a0a0a0" stroke-width="1"/><text x="497.9" y="128.4" font-size="8.4" text-anchor="end" fill="#222">20</text><path d="M502.3 101.4H506.3" stroke="#a0a0a0" stroke-width="1"/><text x="497.9" y="104.4" font-size="8.4" text-anchor="end" fill="#222">40</text><text x="510.8" y="109.4" font-size="8.6" font-style="italic" fill="#111">Cx3cr1</text><path d="M522.6 110.7V125.6M522.6 136.8V149.3" stroke="#4a4a4a" stroke-width="0.9"/><rect x="513.5" y="125.6" width="18.3" height="11.3" fill="#e6194b" stroke="#3a3a3a" stroke-width="0.8"/><path d="M513.5 131.0H531.8" stroke="#3a3a3a" stroke-width="0.8"/><path d="M546.7 116.8V132.1M546.7 142.1V149.3" stroke="#4a4a4a" stroke-width="0.9"/><rect x="537.6" y="132.1" width="18.3" height="10.1" fill="#3cb44b" stroke="#3a3a3a" stroke-width="0.8"/><path d="M537.6 136.8H555.9" stroke="#3a3a3a" stroke-width="0.8"/><path d="M570.8 109.4V122.5M570.8 136.2V149.3" stroke="#4a4a4a" stroke-width="0.9"/><rect x="561.6" y="122.5" width="18.3" height="13.8" fill="#0a78c8" stroke="#3a3a3a" stroke-width="0.8"/><path d="M561.6 128.8H579.9" stroke="#3a3a3a" stroke-width="0.8"/><path d="M595.5 107.3V124.3M595.5 136.2V149.3" stroke="#4a4a4a" stroke-width="0.9"/><rect x="586.4" y="124.3" width="18.3" height="12.0" fill="#f58231" stroke="#3a3a3a" stroke-width="0.8"/><path d="M586.4 130.6H604.6" stroke="#3a3a3a" stroke-width="0.8"/><path d="M620.4 129.7V136.8M620.4 143.0V148.8" stroke="#4a4a4a" stroke-width="0.9"/><rect x="611.2" y="136.8" width="18.3" height="6.1" fill="#ffe119" stroke="#3a3a3a" stroke-width="0.8"/><path d="M611.2 140.8H629.5" stroke="#3a3a3a" stroke-width="0.8"/><path d="M644.5 134.9V141.9M644.5 146.9V149.3" stroke="#4a4a4a" stroke-width="0.9"/><rect x="635.4" y="141.9" width="18.3" height="5.0" fill="#911eb4" stroke="#3a3a3a" stroke-width="0.8"/><path d="M635.4 144.3H653.6" stroke="#3a3a3a" stroke-width="0.8"/><path d="M668.6 130.1V141.0M668.6 148.8V149.3" stroke="#4a4a4a" stroke-width="0.9"/><rect x="659.5" y="141.0" width="18.3" height="7.8" fill="#46f0f0" stroke="#3a3a3a" stroke-width="0.8"/><path d="M659.5 145.6H677.8" stroke="#3a3a3a" stroke-width="0.8"/><path d="M506.3 162.5V213.8" stroke="#a0a0a0" stroke-width="1"/><path d="M502.3 210.2H682.6" stroke="#c4c4c4" stroke-width="1.3"/><text x="497.9" y="213.2" font-size="8.4" text-anchor="end" fill="#222">0</text><path d="M502.3 186.3H506.3" stroke="#a0a0a0" stroke-width="1"/><text x="497.9" y="189.3" font-size="8.4" text-anchor="end" fill="#222">30</text><path d="M502.3 162.5H506.3" stroke="#a0a0a0" stroke-width="1"/><text x="497.9" y="165.5" font-size="8.4" text-anchor="end" fill="#222">60</text><text x="510.8" y="170.5" font-size="8.6" font-style="italic" fill="#111">Csf1r</text><path d="M522.6 172.1V188.3M522.6 199.5V210.2" stroke="#4a4a4a" stroke-width="0.9"/><rect x="513.5" y="188.3" width="18.3" height="11.2" fill="#e6194b" stroke="#3a3a3a" stroke-width="0.8"/><path d="M513.5 194.9H531.8" stroke="#3a3a3a" stroke-width="0.8"/><path d="M546.7 186.1V196.0M546.7 203.5V210.2" stroke="#4a4a4a" stroke-width="0.9"/><rect x="537.6" y="196.0" width="18.3" height="7.6" fill="#3cb44b" stroke="#3a3a3a" stroke-width="0.8"/><path d="M537.6 198.1H555.9" stroke="#3a3a3a" stroke-width="0.8"/><path d="M570.8 169.2V186.1M570.8 197.3V204.9" stroke="#4a4a4a" stroke-width="0.9"/><rect x="561.6" y="186.1" width="18.3" height="11.2" fill="#0a78c8" stroke="#3a3a3a" stroke-width="0.8"/><path d="M561.6 192.8H579.9" stroke="#3a3a3a" stroke-width="0.8"/><path d="M595.5 169.2V187.5M595.5 199.5V210.2" stroke="#4a4a4a" stroke-width="0.9"/><rect x="586.4" y="187.5" width="18.3" height="12.0" fill="#f58231" stroke="#3a3a3a" stroke-width="0.8"/><path d="M586.4 193.3H604.6" stroke="#3a3a3a" stroke-width="0.8"/><path d="M620.4 193.3V198.1M620.4 202.2V206.1" stroke="#4a4a4a" stroke-width="0.9"/><rect x="611.2" y="198.1" width="18.3" height="4.1" fill="#ffe119" stroke="#3a3a3a" stroke-width="0.8"/><path d="M611.2 200.0H629.5" stroke="#3a3a3a" stroke-width="0.8"/><path d="M644.5 195.5V202.2M644.5 207.5V210.2" stroke="#4a4a4a" stroke-width="0.9"/><rect x="635.4" y="202.2" width="18.3" height="5.3" fill="#911eb4" stroke="#3a3a3a" stroke-width="0.8"/><path d="M635.4 204.9H653.6" stroke="#3a3a3a" stroke-width="0.8"/><path d="M668.6 192.8V201.4M668.6 207.0V210.2" stroke="#4a4a4a" stroke-width="0.9"/><rect x="659.5" y="201.4" width="18.3" height="5.6" fill="#46f0f0" stroke="#3a3a3a" stroke-width="0.8"/><path d="M659.5 204.0H677.8" stroke="#3a3a3a" stroke-width="0.8"/><path d="M506.3 221.1V273.3" stroke="#a0a0a0" stroke-width="1"/><path d="M502.3 269.7H682.6" stroke="#c4c4c4" stroke-width="1.3"/><text x="497.9" y="272.7" font-size="8.4" text-anchor="end" fill="#222">0</text><path d="M502.3 245.4H506.3" stroke="#a0a0a0" stroke-width="1"/><text x="497.9" y="248.4" font-size="8.4" text-anchor="end" fill="#222">30</text><path d="M502.3 221.1H506.3" stroke="#a0a0a0" stroke-width="1"/><text x="497.9" y="224.1" font-size="8.4" text-anchor="end" fill="#222">60</text><text x="510.8" y="229.1" font-size="8.6" font-style="italic" fill="#111">P2ry12</text><path d="M522.6 237.8V250.0M522.6 258.2V269.7" stroke="#4a4a4a" stroke-width="0.9"/><rect x="513.5" y="250.0" width="18.3" height="8.2" fill="#e6194b" stroke="#3a3a3a" stroke-width="0.8"/><path d="M513.5 254.1H531.8" stroke="#3a3a3a" stroke-width="0.8"/><path d="M546.7 241.0V253.0M546.7 262.3V269.7" stroke="#4a4a4a" stroke-width="0.9"/><rect x="537.6" y="253.0" width="18.3" height="9.3" fill="#3cb44b" stroke="#3a3a3a" stroke-width="0.8"/><path d="M537.6 257.7H555.9" stroke="#3a3a3a" stroke-width="0.8"/><path d="M570.8 238.0V249.8M570.8 259.6V269.7" stroke="#4a4a4a" stroke-width="0.9"/><rect x="561.6" y="249.8" width="18.3" height="9.8" fill="#0a78c8" stroke="#3a3a3a" stroke-width="0.8"/><path d="M561.6 254.1H579.9" stroke="#3a3a3a" stroke-width="0.8"/><path d="M595.5 237.0V249.8M595.5 259.6V269.7" stroke="#4a4a4a" stroke-width="0.9"/><rect x="586.4" y="249.8" width="18.3" height="9.8" fill="#f58231" stroke="#3a3a3a" stroke-width="0.8"/><path d="M586.4 255.0H604.6" stroke="#3a3a3a" stroke-width="0.8"/><path d="M620.4 251.4V258.8M620.4 264.3V267.8" stroke="#4a4a4a" stroke-width="0.9"/><rect x="611.2" y="258.8" width="18.3" height="5.5" fill="#ffe119" stroke="#3a3a3a" stroke-width="0.8"/><path d="M611.2 261.5H629.5" stroke="#3a3a3a" stroke-width="0.8"/><path d="M644.5 264.5V267.3M644.5 269.1V269.7" stroke="#4a4a4a" stroke-width="0.9"/><rect x="635.4" y="267.3" width="18.3" height="1.9" fill="#911eb4" stroke="#3a3a3a" stroke-width="0.8"/><path d="M635.4 268.3H653.6" stroke="#3a3a3a" stroke-width="0.8"/><path d="M668.6 264.3V267.3M668.6 269.1V269.7" stroke="#4a4a4a" stroke-width="0.9"/><rect x="659.5" y="267.3" width="18.3" height="1.9" fill="#46f0f0" stroke="#3a3a3a" stroke-width="0.8"/><path d="M659.5 268.3H677.8" stroke="#3a3a3a" stroke-width="0.8"/><path d="M506.3 280.3V332.1" stroke="#a0a0a0" stroke-width="1"/><path d="M502.3 328.5H682.6" stroke="#c4c4c4" stroke-width="1.3"/><text x="497.9" y="331.5" font-size="8.4" text-anchor="end" fill="#222">0</text><path d="M502.3 304.4H506.3" stroke="#a0a0a0" stroke-width="1"/><text x="497.9" y="307.4" font-size="8.4" text-anchor="end" fill="#222">20</text><path d="M502.3 280.3H506.3" stroke="#a0a0a0" stroke-width="1"/><text x="497.9" y="283.3" font-size="8.4" text-anchor="end" fill="#222">40</text><text x="510.8" y="288.3" font-size="8.6" font-style="italic" fill="#111">Tmem119</text><path d="M522.6 300.8V312.5M522.6 320.5V328.5" stroke="#4a4a4a" stroke-width="0.9"/><rect x="513.5" y="312.5" width="18.3" height="8.1" fill="#e6194b" stroke="#3a3a3a" stroke-width="0.8"/><path d="M513.5 316.6H531.8" stroke="#3a3a3a" stroke-width="0.8"/><path d="M546.7 307.5V317.7M546.7 324.6V328.5" stroke="#4a4a4a" stroke-width="0.9"/><rect x="537.6" y="317.7" width="18.3" height="7.0" fill="#3cb44b" stroke="#3a3a3a" stroke-width="0.8"/><path d="M537.6 321.1H555.9" stroke="#3a3a3a" stroke-width="0.8"/><path d="M570.8 295.2V310.3M570.8 320.3V328.5" stroke="#4a4a4a" stroke-width="0.9"/><rect x="561.6" y="310.3" width="18.3" height="10.0" fill="#0a78c8" stroke="#3a3a3a" stroke-width="0.8"/><path d="M561.6 315.7H579.9" stroke="#3a3a3a" stroke-width="0.8"/><path d="M595.5 299.3V312.1M595.5 320.5V328.5" stroke="#4a4a4a" stroke-width="0.9"/><rect x="586.4" y="312.1" width="18.3" height="8.4" fill="#f58231" stroke="#3a3a3a" stroke-width="0.8"/><path d="M586.4 316.2H604.6" stroke="#3a3a3a" stroke-width="0.8"/><path d="M620.4 317.1V321.1M620.4 324.2V327.9" stroke="#4a4a4a" stroke-width="0.9"/><rect x="611.2" y="321.1" width="18.3" height="3.0" fill="#ffe119" stroke="#3a3a3a" stroke-width="0.8"/><path d="M611.2 322.5H629.5" stroke="#3a3a3a" stroke-width="0.8"/><path d="M644.5 327.3V327.7M644.5 328.3V328.5" stroke="#4a4a4a" stroke-width="0.9"/><rect x="635.4" y="327.7" width="18.3" height="0.6" fill="#911eb4" stroke="#3a3a3a" stroke-width="0.8"/><path d="M635.4 328.0H653.6" stroke="#3a3a3a" stroke-width="0.8"/><path d="M668.6 327.8V328.0M668.6 328.4V328.5" stroke="#4a4a4a" stroke-width="0.9"/><rect x="659.5" y="328.0" width="18.3" height="0.6" fill="#46f0f0" stroke="#3a3a3a" stroke-width="0.8"/><path d="M659.5 328.3H677.8" stroke="#3a3a3a" stroke-width="0.8"/><path d="M506.3 339.7V390.9" stroke="#a0a0a0" stroke-width="1"/><path d="M502.3 387.3H682.6" stroke="#c4c4c4" stroke-width="1.3"/><text x="497.9" y="390.3" font-size="8.4" text-anchor="end" fill="#222">0</text><path d="M502.3 363.5H506.3" stroke="#a0a0a0" stroke-width="1"/><text x="497.9" y="366.5" font-size="8.4" text-anchor="end" fill="#222">15</text><path d="M502.3 339.7H506.3" stroke="#a0a0a0" stroke-width="1"/><text x="497.9" y="342.7" font-size="8.4" text-anchor="end" fill="#222">30</text><text x="510.8" y="347.7" font-size="8.6" font-style="italic" fill="#111">Gpr34</text><path d="M522.6 350.5V367.0M522.6 378.4V387.3" stroke="#4a4a4a" stroke-width="0.9"/><rect x="513.5" y="367.0" width="18.3" height="11.4" fill="#e6194b" stroke="#3a3a3a" stroke-width="0.8"/><path d="M513.5 373.5H531.8" stroke="#3a3a3a" stroke-width="0.8"/><path d="M546.7 355.4V371.1M546.7 383.0V387.3" stroke="#4a4a4a" stroke-width="0.9"/><rect x="537.6" y="371.1" width="18.3" height="11.9" fill="#3cb44b" stroke="#3a3a3a" stroke-width="0.8"/><path d="M537.6 377.6H555.9" stroke="#3a3a3a" stroke-width="0.8"/><path d="M570.8 341.1V361.6M570.8 379.2V387.3" stroke="#4a4a4a" stroke-width="0.9"/><rect x="561.6" y="361.6" width="18.3" height="17.6" fill="#0a78c8" stroke="#3a3a3a" stroke-width="0.8"/><path d="M561.6 372.2H579.9" stroke="#3a3a3a" stroke-width="0.8"/><path d="M595.5 345.4V365.4M595.5 378.9V387.3" stroke="#4a4a4a" stroke-width="0.9"/><rect x="586.4" y="365.4" width="18.3" height="13.5" fill="#f58231" stroke="#3a3a3a" stroke-width="0.8"/><path d="M586.4 372.4H604.6" stroke="#3a3a3a" stroke-width="0.8"/><path d="M620.4 373.8V379.2M620.4 385.1V387.3" stroke="#4a4a4a" stroke-width="0.9"/><rect x="611.2" y="379.2" width="18.3" height="5.9" fill="#ffe119" stroke="#3a3a3a" stroke-width="0.8"/><path d="M611.2 381.9H629.5" stroke="#3a3a3a" stroke-width="0.8"/><path d="M644.5 374.3V381.1M644.5 387.3V387.3" stroke="#4a4a4a" stroke-width="0.9"/><rect x="635.4" y="381.1" width="18.3" height="6.2" fill="#911eb4" stroke="#3a3a3a" stroke-width="0.8"/><path d="M635.4 386.8H653.6" stroke="#3a3a3a" stroke-width="0.8"/><path d="M668.6 370.3V380.3M668.6 387.3V387.3" stroke="#4a4a4a" stroke-width="0.9"/><rect x="659.5" y="380.3" width="18.3" height="7.0" fill="#46f0f0" stroke="#3a3a3a" stroke-width="0.8"/><path d="M659.5 386.8H677.8" stroke="#3a3a3a" stroke-width="0.8"/><path d="M506.3 398.3V450.7" stroke="#a0a0a0" stroke-width="1"/><path d="M502.3 447.1H682.6" stroke="#c4c4c4" stroke-width="1.3"/><text x="497.9" y="450.1" font-size="8.4" text-anchor="end" fill="#222">0</text><path d="M502.3 422.7H506.3" stroke="#a0a0a0" stroke-width="1"/><text x="497.9" y="425.7" font-size="8.4" text-anchor="end" fill="#222">10</text><path d="M502.3 398.3H506.3" stroke="#a0a0a0" stroke-width="1"/><text x="497.9" y="401.3" font-size="8.4" text-anchor="end" fill="#222">20</text><text x="510.8" y="406.3" font-size="8.6" font-style="italic" fill="#111">Tgfbr1</text><path d="M522.6 424.7V435.9M522.6 443.4V447.1" stroke="#4a4a4a" stroke-width="0.9"/><rect x="513.5" y="435.9" width="18.3" height="7.6" fill="#e6194b" stroke="#3a3a3a" stroke-width="0.8"/><path d="M513.5 439.0H531.8" stroke="#3a3a3a" stroke-width="0.8"/><path d="M546.7 420.0V433.9M546.7 444.2V447.1" stroke="#4a4a4a" stroke-width="0.9"/><rect x="537.6" y="433.9" width="18.3" height="10.2" fill="#3cb44b" stroke="#3a3a3a" stroke-width="0.8"/><path d="M537.6 439.3H555.9" stroke="#3a3a3a" stroke-width="0.8"/><path d="M570.8 424.7V435.9M570.8 443.2V447.1" stroke="#4a4a4a" stroke-width="0.9"/><rect x="561.6" y="435.9" width="18.3" height="7.3" fill="#0a78c8" stroke="#3a3a3a" stroke-width="0.8"/><path d="M561.6 440.0H579.9" stroke="#3a3a3a" stroke-width="0.8"/><path d="M595.5 423.7V435.1M595.5 443.0V447.1" stroke="#4a4a4a" stroke-width="0.9"/><rect x="586.4" y="435.1" width="18.3" height="7.8" fill="#f58231" stroke="#3a3a3a" stroke-width="0.8"/><path d="M586.4 439.0H604.6" stroke="#3a3a3a" stroke-width="0.8"/><path d="M620.4 436.6V440.5M620.4 446.4V447.1" stroke="#4a4a4a" stroke-width="0.9"/><rect x="611.2" y="440.5" width="18.3" height="5.9" fill="#ffe119" stroke="#3a3a3a" stroke-width="0.8"/><path d="M611.2 443.0H629.5" stroke="#3a3a3a" stroke-width="0.8"/><path d="M644.5 439.3V443.4M644.5 446.9V447.1" stroke="#4a4a4a" stroke-width="0.9"/><rect x="635.4" y="443.4" width="18.3" height="3.4" fill="#911eb4" stroke="#3a3a3a" stroke-width="0.8"/><path d="M635.4 445.9H653.6" stroke="#3a3a3a" stroke-width="0.8"/><path d="M668.6 437.1V442.7M668.6 447.0V447.1" stroke="#4a4a4a" stroke-width="0.9"/><rect x="659.5" y="442.7" width="18.3" height="4.3" fill="#46f0f0" stroke="#3a3a3a" stroke-width="0.8"/><path d="M659.5 445.6H677.8" stroke="#3a3a3a" stroke-width="0.8"/><path d="M506.3 462.1V514.0" stroke="#a0a0a0" stroke-width="1"/><path d="M502.3 510.4H682.6" stroke="#c4c4c4" stroke-width="1.3"/><text x="497.9" y="513.4" font-size="8.4" text-anchor="end" fill="#222">0</text><path d="M502.3 486.2H506.3" stroke="#a0a0a0" stroke-width="1"/><text x="497.9" y="489.2" font-size="8.4" text-anchor="end" fill="#222">10</text><path d="M502.3 462.1H506.3" stroke="#a0a0a0" stroke-width="1"/><text x="497.9" y="465.1" font-size="8.4" text-anchor="end" fill="#222">20</text><text x="510.8" y="470.1" font-size="8.6" font-style="italic" fill="#111">Fcrls</text><path d="M522.6 473.7V496.2M522.6 510.4V510.4" stroke="#4a4a4a" stroke-width="0.9"/><rect x="513.5" y="496.2" width="18.3" height="14.2" fill="#e6194b" stroke="#3a3a3a" stroke-width="0.8"/><path d="M513.5 504.4H531.8" stroke="#3a3a3a" stroke-width="0.8"/><path d="M546.7 496.2V504.4M546.7 510.4V510.4" stroke="#4a4a4a" stroke-width="0.9"/><rect x="537.6" y="504.4" width="18.3" height="6.0" fill="#3cb44b" stroke="#3a3a3a" stroke-width="0.8"/><path d="M537.6 509.7H555.9" stroke="#3a3a3a" stroke-width="0.8"/><path d="M570.8 478.8V496.2M570.8 510.2V510.4" stroke="#4a4a4a" stroke-width="0.9"/><rect x="561.6" y="496.2" width="18.3" height="14.0" fill="#0a78c8" stroke="#3a3a3a" stroke-width="0.8"/><path d="M561.6 505.1H579.9" stroke="#3a3a3a" stroke-width="0.8"/><path d="M595.5 483.8V499.8M595.5 510.4V510.4" stroke="#4a4a4a" stroke-width="0.9"/><rect x="586.4" y="499.8" width="18.3" height="10.6" fill="#f58231" stroke="#3a3a3a" stroke-width="0.8"/><path d="M586.4 507.5H604.6" stroke="#3a3a3a" stroke-width="0.8"/><path d="M620.4 491.1V502.2M620.4 510.4V510.4" stroke="#4a4a4a" stroke-width="0.9"/><rect x="611.2" y="502.2" width="18.3" height="8.2" fill="#ffe119" stroke="#3a3a3a" stroke-width="0.8"/><path d="M611.2 507.5H629.5" stroke="#3a3a3a" stroke-width="0.8"/><path d="M644.5 472.7V494.0M644.5 509.4V510.4" stroke="#4a4a4a" stroke-width="0.9"/><rect x="635.4" y="494.0" width="18.3" height="15.5" fill="#911eb4" stroke="#3a3a3a" stroke-width="0.8"/><path d="M635.4 500.5H653.6" stroke="#3a3a3a" stroke-width="0.8"/><path d="M668.6 481.2V498.1M668.6 510.4V510.4" stroke="#4a4a4a" stroke-width="0.9"/><rect x="659.5" y="498.1" width="18.3" height="12.3" fill="#46f0f0" stroke="#3a3a3a" stroke-width="0.8"/><path d="M659.5 507.7H677.8" stroke="#3a3a3a" stroke-width="0.8"/><path d="M506.3 524.4V576.8" stroke="#a0a0a0" stroke-width="1"/><path d="M502.3 573.2H682.6" stroke="#c4c4c4" stroke-width="1.3"/><text x="497.9" y="576.2" font-size="8.4" text-anchor="end" fill="#222">0</text><path d="M502.3 548.8H506.3" stroke="#a0a0a0" stroke-width="1"/><text x="497.9" y="551.8" font-size="8.4" text-anchor="end" fill="#222">10</text><path d="M502.3 524.4H506.3" stroke="#a0a0a0" stroke-width="1"/><text x="497.9" y="527.4" font-size="8.4" text-anchor="end" fill="#222">20</text><text x="510.8" y="532.4" font-size="8.6" font-style="italic" fill="#111">Siglech</text><path d="M522.6 535.9V552.9M522.6 565.4V573.2" stroke="#4a4a4a" stroke-width="0.9"/><rect x="513.5" y="552.9" width="18.3" height="12.4" fill="#e6194b" stroke="#3a3a3a" stroke-width="0.8"/><path d="M513.5 559.8H531.8" stroke="#3a3a3a" stroke-width="0.8"/><path d="M546.7 537.8V555.9M546.7 568.8V573.2" stroke="#4a4a4a" stroke-width="0.9"/><rect x="537.6" y="555.9" width="18.3" height="12.9" fill="#3cb44b" stroke="#3a3a3a" stroke-width="0.8"/><path d="M537.6 563.4H555.9" stroke="#3a3a3a" stroke-width="0.8"/><path d="M570.8 546.8V559.3M570.8 567.8V573.2" stroke="#4a4a4a" stroke-width="0.9"/><rect x="561.6" y="559.3" width="18.3" height="8.5" fill="#0a78c8" stroke="#3a3a3a" stroke-width="0.8"/><path d="M561.6 563.4H579.9" stroke="#3a3a3a" stroke-width="0.8"/><path d="M595.5 541.0V555.6M595.5 566.1V573.2" stroke="#4a4a4a" stroke-width="0.9"/><rect x="586.4" y="555.6" width="18.3" height="10.5" fill="#f58231" stroke="#3a3a3a" stroke-width="0.8"/><path d="M586.4 561.5H604.6" stroke="#3a3a3a" stroke-width="0.8"/><path d="M620.4 544.2V556.6M620.4 566.9V573.2" stroke="#4a4a4a" stroke-width="0.9"/><rect x="611.2" y="556.6" width="18.3" height="10.2" fill="#ffe119" stroke="#3a3a3a" stroke-width="0.8"/><path d="M611.2 563.4H629.5" stroke="#3a3a3a" stroke-width="0.8"/><path d="M644.5 572.0V572.5M644.5 573.1V573.2" stroke="#4a4a4a" stroke-width="0.9"/><rect x="635.4" y="572.5" width="18.3" height="0.6" fill="#911eb4" stroke="#3a3a3a" stroke-width="0.8"/><path d="M635.4 572.8H653.6" stroke="#3a3a3a" stroke-width="0.8"/><path d="M668.6 565.4V568.6M668.6 573.2V573.2" stroke="#4a4a4a" stroke-width="0.9"/><rect x="659.5" y="568.6" width="18.3" height="4.6" fill="#46f0f0" stroke="#3a3a3a" stroke-width="0.8"/><path d="M659.5 573.0H677.8" stroke="#3a3a3a" stroke-width="0.8"/><path d="M506.3 583.4V634.1" stroke="#a0a0a0" stroke-width="1"/><path d="M502.3 630.5H682.6" stroke="#c4c4c4" stroke-width="1.3"/><text x="497.9" y="633.5" font-size="8.4" text-anchor="end" fill="#222">0</text><path d="M502.3 607.0H506.3" stroke="#a0a0a0" stroke-width="1"/><text x="497.9" y="610.0" font-size="8.4" text-anchor="end" fill="#222">10</text><path d="M502.3 583.4H506.3" stroke="#a0a0a0" stroke-width="1"/><text x="497.9" y="586.4" font-size="8.4" text-anchor="end" fill="#222">20</text><text x="510.8" y="591.4" font-size="8.6" font-style="italic" fill="#111">Slc2a5</text><path d="M522.6 607.4V619.7M522.6 627.9V630.5" stroke="#4a4a4a" stroke-width="0.9"/><rect x="513.5" y="619.7" width="18.3" height="8.2" fill="#e6194b" stroke="#3a3a3a" stroke-width="0.8"/><path d="M513.5 624.4H531.8" stroke="#3a3a3a" stroke-width="0.8"/><path d="M546.7 610.7V622.5M546.7 630.5V630.5" stroke="#4a4a4a" stroke-width="0.9"/><rect x="537.6" y="622.5" width="18.3" height="8.0" fill="#3cb44b" stroke="#3a3a3a" stroke-width="0.8"/><path d="M537.6 627.7H555.9" stroke="#3a3a3a" stroke-width="0.8"/><path d="M570.8 614.0V623.0M570.8 629.1V630.5" stroke="#4a4a4a" stroke-width="0.9"/><rect x="561.6" y="623.0" width="18.3" height="6.1" fill="#0a78c8" stroke="#3a3a3a" stroke-width="0.8"/><path d="M561.6 626.5H579.9" stroke="#3a3a3a" stroke-width="0.8"/><path d="M595.5 611.0V621.3M595.5 628.6V630.5" stroke="#4a4a4a" stroke-width="0.9"/><rect x="586.4" y="621.3" width="18.3" height="7.3" fill="#f58231" stroke="#3a3a3a" stroke-width="0.8"/><path d="M586.4 625.3H604.6" stroke="#3a3a3a" stroke-width="0.8"/><path d="M620.4 621.1V626.5M620.4 630.5V630.5" stroke="#4a4a4a" stroke-width="0.9"/><rect x="611.2" y="626.5" width="18.3" height="4.0" fill="#ffe119" stroke="#3a3a3a" stroke-width="0.8"/><path d="M611.2 628.6H629.5" stroke="#3a3a3a" stroke-width="0.8"/><path d="M644.5 630.0V630.3M644.5 630.5V630.5" stroke="#4a4a4a" stroke-width="0.9"/><rect x="635.4" y="630.3" width="18.3" height="0.6" fill="#911eb4" stroke="#3a3a3a" stroke-width="0.8"/><path d="M635.4 630.4H653.6" stroke="#3a3a3a" stroke-width="0.8"/><path d="M668.6 630.0V630.3M668.6 630.5V630.5" stroke="#4a4a4a" stroke-width="0.9"/><rect x="659.5" y="630.3" width="18.3" height="0.6" fill="#46f0f0" stroke="#3a3a3a" stroke-width="0.8"/><path d="M659.5 630.4H677.8" stroke="#3a3a3a" stroke-width="0.8"/><path d="M506.3 641.6V693.5" stroke="#a0a0a0" stroke-width="1"/><path d="M502.3 689.9H682.6" stroke="#c4c4c4" stroke-width="1.3"/><text x="497.9" y="692.9" font-size="8.4" text-anchor="end" fill="#222">0</text><path d="M502.3 665.8H506.3" stroke="#a0a0a0" stroke-width="1"/><text x="497.9" y="668.8" font-size="8.4" text-anchor="end" fill="#222">3</text><path d="M502.3 641.6H506.3" stroke="#a0a0a0" stroke-width="1"/><text x="497.9" y="644.6" font-size="8.4" text-anchor="end" fill="#222">6</text><text x="510.8" y="649.6" font-size="8.6" font-style="italic" fill="#111">Sall1</text><path d="M522.6 655.3V675.4M522.6 689.3V689.9" stroke="#4a4a4a" stroke-width="0.9"/><rect x="513.5" y="675.4" width="18.3" height="13.8" fill="#e6194b" stroke="#3a3a3a" stroke-width="0.8"/><path d="M513.5 683.1H531.8" stroke="#3a3a3a" stroke-width="0.8"/><path d="M546.7 657.1V677.0M546.7 689.3V689.9" stroke="#4a4a4a" stroke-width="0.9"/><rect x="537.6" y="677.0" width="18.3" height="12.2" fill="#3cb44b" stroke="#3a3a3a" stroke-width="0.8"/><path d="M537.6 685.9H555.9" stroke="#3a3a3a" stroke-width="0.8"/><path d="M570.8 655.3V675.7M570.8 689.5V689.9" stroke="#4a4a4a" stroke-width="0.9"/><rect x="561.6" y="675.7" width="18.3" height="13.8" fill="#0a78c8" stroke="#3a3a3a" stroke-width="0.8"/><path d="M561.6 684.8H579.9" stroke="#3a3a3a" stroke-width="0.8"/><path d="M595.5 656.1V675.7M595.5 689.5V689.9" stroke="#4a4a4a" stroke-width="0.9"/><rect x="586.4" y="675.7" width="18.3" height="13.8" fill="#f58231" stroke="#3a3a3a" stroke-width="0.8"/><path d="M586.4 683.8H604.6" stroke="#3a3a3a" stroke-width="0.8"/><path d="M620.4 669.0V680.5M620.4 689.5V689.9" stroke="#4a4a4a" stroke-width="0.9"/><rect x="611.2" y="680.5" width="18.3" height="9.0" fill="#ffe119" stroke="#3a3a3a" stroke-width="0.8"/><path d="M611.2 685.9H629.5" stroke="#3a3a3a" stroke-width="0.8"/><path d="M644.5 689.1V689.4M644.5 689.7V689.9" stroke="#4a4a4a" stroke-width="0.9"/><rect x="635.4" y="689.4" width="18.3" height="0.6" fill="#911eb4" stroke="#3a3a3a" stroke-width="0.8"/><path d="M635.4 689.6H653.6" stroke="#3a3a3a" stroke-width="0.8"/><path d="M668.6 689.3V689.6M668.6 689.8V689.9" stroke="#4a4a4a" stroke-width="0.9"/><rect x="659.5" y="689.6" width="18.3" height="0.6" fill="#46f0f0" stroke="#3a3a3a" stroke-width="0.8"/><path d="M659.5 689.7H677.8" stroke="#3a3a3a" stroke-width="0.8"/><text transform="translate(476,365) rotate(-90)" font-size="8.6" text-anchor="middle" fill="#111">Gene expression</text><path d="M515.2 695.6H605.2M635.1 695.6H677.5" stroke="#111" stroke-width="1.3"/><text x="560.2" y="707" font-size="8.8" text-anchor="middle" fill="#111">Homeostatic</text><text x="621" y="707" font-size="8.8" text-anchor="middle" fill="#111">FNX</text><text x="656.5" y="707" font-size="8.8" text-anchor="middle" fill="#111">De-/re</text><text x="656.5" y="717.5" font-size="8.8" text-anchor="middle" fill="#111">myelination</text></svg></body></html>
